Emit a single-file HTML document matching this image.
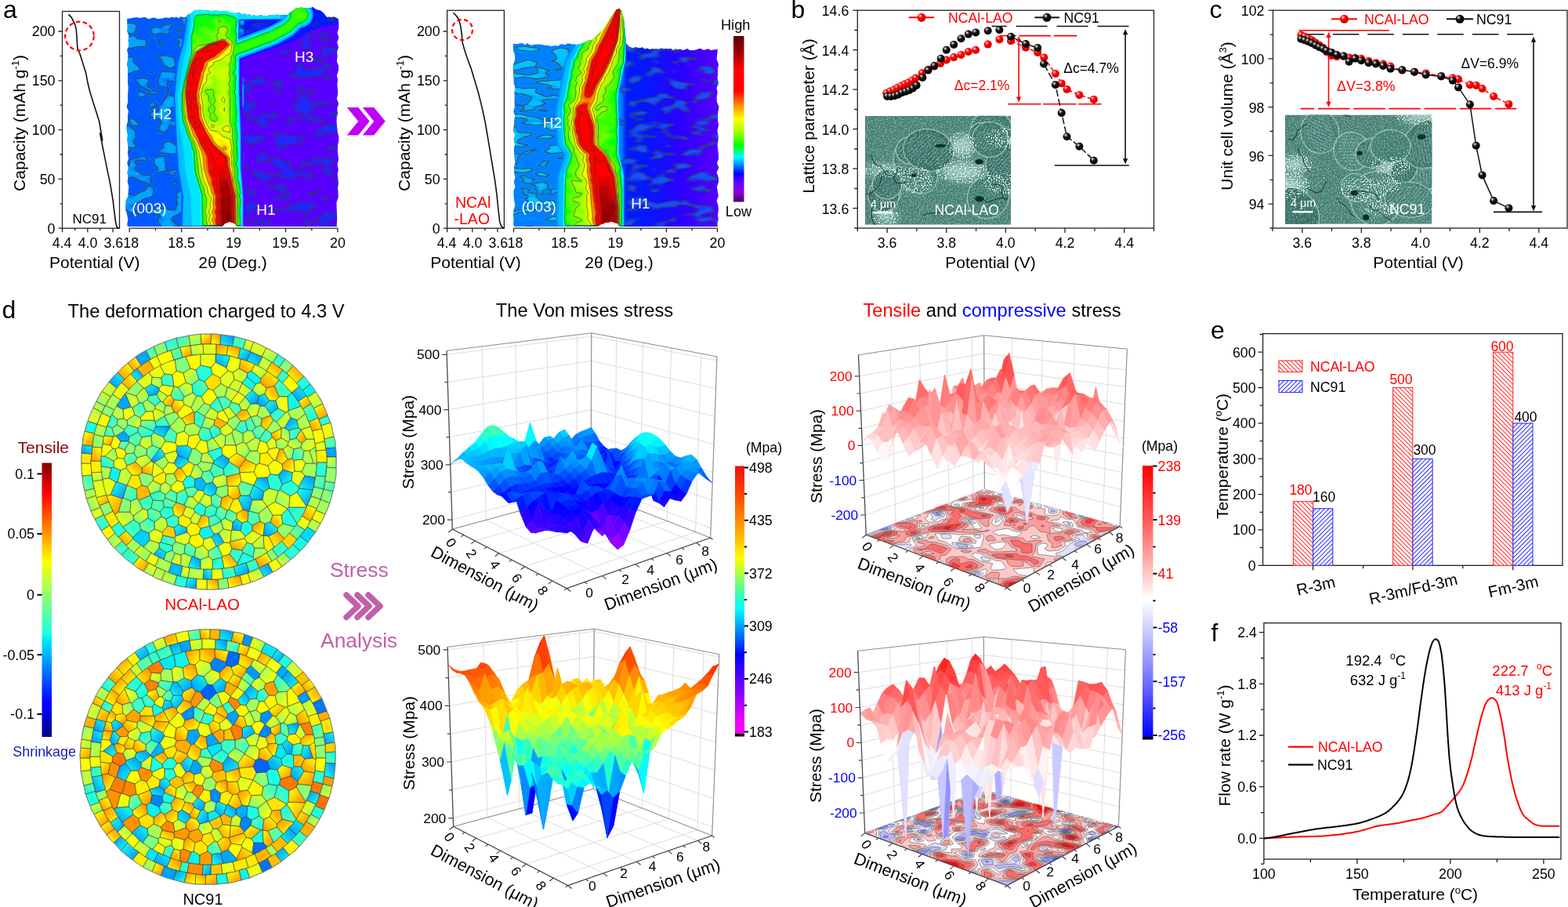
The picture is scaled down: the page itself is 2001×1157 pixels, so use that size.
<!DOCTYPE html>
<html><head><meta charset="utf-8"><title>Figure</title>
<style>html,body{margin:0;padding:0;background:#fff;width:2001px;height:1157px;overflow:hidden}svg{display:block}</style>
</head><body>
<svg width="2001" height="1157" viewBox="0 0 2001 1157" font-family="'Liberation Sans', Arial, sans-serif">
<defs><radialGradient id="gR" cx="0.38" cy="0.35" r="0.62" fx="0.34" fy="0.3"><stop offset="0" stop-color="#fff"/><stop offset="0.22" stop-color="#ff6060"/><stop offset="0.45" stop-color="#ff0000"/><stop offset="1" stop-color="#d00000"/></radialGradient>
<radialGradient id="gK" cx="0.38" cy="0.35" r="0.62" fx="0.34" fy="0.3"><stop offset="0" stop-color="#fff"/><stop offset="0.22" stop-color="#777"/><stop offset="0.45" stop-color="#111"/><stop offset="1" stop-color="#000"/></radialGradient><pattern id="stk" width="4" height="4" patternUnits="userSpaceOnUse" patternTransform="rotate(35)"><rect width="4" height="4" fill="none"/><rect width="0.8" height="4" fill="#b5d8cf"/></pattern>
<filter id="spk" x="0" y="0" width="1" height="1" color-interpolation-filters="sRGB"><feTurbulence type="fractalNoise" baseFrequency="0.6" numOctaves="1" seed="4" result="t"/><feColorMatrix in="t" type="matrix" values="0 0 0 0 0.88 0 0 0 0 0.95 0 0 0 0 0.93 0 0 0 14 -7.6"/><feComposite in2="SourceGraphic" operator="in"/></filter>
<filter id="sbl" x="-0.5" y="-0.5" width="2" height="2"><feGaussianBlur stdDeviation="6"/></filter><filter id="nzA" x="0" y="0" width="1" height="1" color-interpolation-filters="sRGB">
<feTurbulence type="fractalNoise" baseFrequency="0.04 0.065" numOctaves="2" seed="3" result="t"/>
<feColorMatrix in="t" type="matrix" values="0 0 0 0 0.000 0 0 0 0 0.647 0 0 0 0 1.000 6 0 0 0 -2.940" result="p"/>
<feColorMatrix in="t" type="matrix" values="0 0 0 0 0 0 0 0 0 0 0 0 0 0 0 60 0 0 0 -31.800" result="m"/>
<feMorphology in="m" operator="erode" radius="0.5" result="e"/>
<feComposite in="m" in2="e" operator="out" result="ring"/>
<feFlood flood-color="#3a3a3a" flood-opacity="0.75"/>
<feComposite in2="ring" operator="in" result="rc"/>
<feMerge><feMergeNode in="p"/><feMergeNode in="rc"/></feMerge>
<feComposite in2="SourceGraphic" operator="in"/>
</filter><filter id="nzB" x="0" y="0" width="1" height="1" color-interpolation-filters="sRGB">
<feTurbulence type="fractalNoise" baseFrequency="0.04 0.07" numOctaves="2" seed="8" result="t"/>
<feColorMatrix in="t" type="matrix" values="0 0 0 0 0.118 0 0 0 0 0.157 0 0 0 0 1.000 6 0 0 0 -3.120" result="p"/>
<feColorMatrix in="t" type="matrix" values="0 0 0 0 0 0 0 0 0 0 0 0 0 0 0 60 0 0 0 -33.600" result="m"/>
<feMorphology in="m" operator="erode" radius="0.5" result="e"/>
<feComposite in="m" in2="e" operator="out" result="ring"/>
<feFlood flood-color="#3a3a3a" flood-opacity="0.75"/>
<feComposite in2="ring" operator="in" result="rc"/>
<feMerge><feMergeNode in="p"/><feMergeNode in="rc"/></feMerge>
<feComposite in2="SourceGraphic" operator="in"/>
</filter><filter id="nzC" x="0" y="0" width="1" height="1" color-interpolation-filters="sRGB">
<feTurbulence type="fractalNoise" baseFrequency="0.03 0.09" numOctaves="2" seed="5" result="t"/>
<feColorMatrix in="t" type="matrix" values="0 0 0 0 0.000 0 0 0 0 0.765 0 0 0 0 1.000 6 0 0 0 -2.880" result="p"/>
<feColorMatrix in="t" type="matrix" values="0 0 0 0 0 0 0 0 0 0 0 0 0 0 0 60 0 0 0 -31.200" result="m"/>
<feMorphology in="m" operator="erode" radius="0.5" result="e"/>
<feComposite in="m" in2="e" operator="out" result="ring"/>
<feFlood flood-color="#3a3a3a" flood-opacity="0.75"/>
<feComposite in2="ring" operator="in" result="rc"/>
<feMerge><feMergeNode in="p"/><feMergeNode in="rc"/></feMerge>
<feComposite in2="SourceGraphic" operator="in"/>
</filter><filter id="nzD" x="0" y="0" width="1" height="1" color-interpolation-filters="sRGB">
<feTurbulence type="fractalNoise" baseFrequency="0.035 0.09" numOctaves="2" seed="9" result="t"/>
<feColorMatrix in="t" type="matrix" values="0 0 0 0 0.078 0 0 0 0 0.314 0 0 0 0 1.000 6 0 0 0 -3.120" result="p"/>
<feColorMatrix in="t" type="matrix" values="0 0 0 0 0 0 0 0 0 0 0 0 0 0 0 60 0 0 0 -33.600" result="m"/>
<feMorphology in="m" operator="erode" radius="0.5" result="e"/>
<feComposite in="m" in2="e" operator="out" result="ring"/>
<feFlood flood-color="#3a3a3a" flood-opacity="0.75"/>
<feComposite in2="ring" operator="in" result="rc"/>
<feMerge><feMergeNode in="p"/><feMergeNode in="rc"/></feMerge>
<feComposite in2="SourceGraphic" operator="in"/>
</filter><clipPath id="hc"><path d="M162 23.7L165 23.7L168 23L171 22.5L174 21.9L177 22.7L180 22.8L183 21.9L186 21.9L189 24.2L192 23.4L195 22.4L198 22.8L201 24.1L204 23.8L207 23.6L210 22.5L213 22.6L216 23L219 21.4L222 22.5L225 21.8L228 23.1L231 21.1L234 22.5L237 22.1L240 18.2L243 17.5L246 15.6L249 12.7L252 13.5L255 12L258 13.4L261 13.4L264 13L267 13.5L270 14.7L273 13.6L276 13.2L279 14.5L282 13.9L285 14.7L288 14L291 14.8L294 16.5L297 16.4L300 17L303 16.7L306 16.4L309 18.9L312 17.2L315 19.3L318 18.5L321 20.2L324 19.2L327 20.7L330 20.1L333 19.3L336 20.4L339 20.2L342 20.1L345 19.5L348 18.9L351 19.8L354 18.4L357 19.8L360 19.5L363 18.8L366 19.8L369 17.3L372 14.7L375 12.7L378 10.8L381 10.7L384 9.6L387 10.2L390 10.5L393 10.1L396 10.5L399 9.1L402 11.3L405 12.8L408 13L411 15.1L414 18L417 22.1L420 21.7L423 22.1L426 21.4L429 22.7L431.4 24L432.3 30L432.3 36L430.5 42L432.5 48L430.1 54L432 60L430 66L430.7 72L429.7 78L432.1 84L432 90L429.9 96L431.1 102L430.3 108L431 114L431.2 120L429.8 126L432.1 132L430.3 138L430.8 144L429.7 150L429.5 156L430.1 162L430.5 168L432.3 174L432.2 180L430.9 186L430.9 192L431.5 198L432.1 204L430.5 210L431.9 216L430.7 222L431.3 228L431.7 234L431 240L431.6 246L431.6 252L429.5 258L429.6 264L429.9 270L430.1 276L430.1 282L429.6 288L431 289L303 289L299 285L293 282.5L287 285L283 289L163 289L162.2 286L163.3 280L162.2 274L160.5 268L160.6 262L160.8 256L163.5 250L163.9 244L164.3 238L162.6 232L163.6 226L162.5 220L164 214L162.2 208L164.1 202L163 196L163.7 190L163.1 184L162.4 178L163 172L161.7 166L161.6 160L163.1 154L162.9 148L164 142L161.6 136L163.2 130L163 124L163.3 118L163.7 112L163.1 106L163.2 100L163 94L163.3 88L162.2 82L163.2 76L163.5 70L162.1 64L164.5 58L163.7 52L164.4 46L162.4 40L162.8 34L162.3 28z"/></clipPath><clipPath id="hL"><path d="M160.0 6.0L235.5 6.0L236.5 26.0L232.5 46.0L232.5 54.0L225.5 78.0L221.5 115.0L225.5 217.0L231.5 247.0L230.5 287.0L311.0 287.5L311.5 290.0L160.0 290.0L160.0 6.0zM306.5 26.0L311.5 26.0L311.5 44.0L305.0 46.5L306.5 26.0zM308.5 85.0L311.5 85.0L311.0 220.5L308.5 85.0z"/></clipPath><clipPath id="hR"><path d="M396.5 6.0L433.0 6.0L433.0 290.0L311.5 290.0L311.5 288.0L313.5 287.0L313.5 244.0L311.5 231.0L311.5 85.0L357.0 67.5L382.0 53.5L396.5 38.0L400.5 31.0L402.5 19.0L401.5 14.0L396.5 6.0zM311.5 26.0L353.5 26.0L340.0 33.5L314.0 43.5L311.5 43.0L311.5 26.0z"/></clipPath><linearGradient id="hg"><stop offset="0.000" stop-color="#005aff"/><stop offset="0.511" stop-color="#005aff"/><stop offset="0.522" stop-color="#0033ff"/><stop offset="0.533" stop-color="#3500ff"/><stop offset="0.544" stop-color="#5800ff"/><stop offset="1.000" stop-color="#5800ff"/></linearGradient><clipPath id="kc"><path d="M655 55.3L658 56.2L661 56.1L664 54.9L667 55.3L670 57L673 54.9L676 57.2L679 57.4L682 56.7L685 56.5L688 56.6L691 56.8L694 57.5L697 57.8L700 58.1L703 59.1L706 58.5L709 57.9L712 58.7L715 56.5L718 56.2L721 57.2L724 55.6L727 55.4L730 56.5L733 56.3L736 57.3L739 56.4L742 55.5L745 54.7L748 53.2L751 51.8L754 51.5L757 50.7L760 46.6L763 44.6L766 41.8L769 38.5L772 34L775 29.5L778 25L781 20.5L784 16L787 12.5L790 11L793 13.2L796 24.7L799 55L802 59L805 60.6L808 61.4L811 60.1L814 61L817 61L820 60.6L823 62.5L826 61.5L829 63.1L832 62.2L835 62.4L838 62.6L841 62.8L844 61.5L847 62.4L850 62L853 62.5L856 61.8L859 64.2L862 62.3L865 63.4L868 62.5L871 64L874 63.4L877 62L880 63.9L883 64.2L886 64.1L889 63.2L892 62.1L895 62.2L898 64.1L901 63.1L904 62.2L907 64L910 63.4L913 63.2L916 62.7L915.7 64L915.2 70L914.6 76L917.1 82L915.9 88L916.1 94L915.5 100L916.8 106L914.6 112L915.6 118L914.6 124L914.9 130L917.4 136L916.5 142L915.8 148L916.1 154L917.1 160L915.5 166L916.3 172L916.6 178L915.6 184L916.1 190L916.8 196L917.2 202L915 208L917.3 214L914.5 220L916.8 226L916.9 232L914.9 238L915.8 244L916.9 250L914.5 256L916.4 262L916.9 268L916 274L916.7 280L915.2 286L916 289L791 289L788 285L781 282.5L772 284L765 287L762 289L656 289L655.1 286L655.6 280L655 274L655.5 268L657.3 262L656.2 256L655.5 250L655.3 244L657.4 238L655.8 232L657.4 226L656 220L656.1 214L657.2 208L656.7 202L656.2 196L655.8 190L657.1 184L655.7 178L657.3 172L654.7 166L655.8 160L656.1 154L657.4 148L655.3 142L656.9 136L656.5 130L656.7 124L656.4 118L657.4 112L655.5 106L655.7 100L655.1 94L654.7 88L655.1 82L657.2 76L657 70L654.8 64z"/></clipPath><clipPath id="kL"><path d="M652.0 6.0L754.5 6.0L754.5 31.0L734.5 51.0L720.5 77.0L714.5 112.0L708.5 136.0L708.5 165.0L710.5 185.0L719.5 196.0L710.5 223.0L709.5 287.0L754.0 287.5L754.5 290.0L652.0 290.0L652.0 6.0z"/></clipPath><clipPath id="kR"><path d="M754.5 6.0L918.0 6.0L918.0 290.0L754.5 290.0L755.0 287.5L796.5 287.0L796.5 221.0L790.5 200.0L789.5 116.0L799.5 77.0L800.5 52.0L800.5 8.0L773.0 7.5L755.0 30.5L754.5 6.0z"/></clipPath><linearGradient id="kg"><stop offset="0.000" stop-color="#0080ff"/><stop offset="0.528" stop-color="#0080ff"/><stop offset="0.539" stop-color="#004dff"/><stop offset="0.554" stop-color="#001aff"/><stop offset="0.629" stop-color="#001aff"/><stop offset="0.816" stop-color="#2c00ff"/><stop offset="1.000" stop-color="#5800ff"/></linearGradient><linearGradient id="cbj" x1="0" y1="0" x2="0" y2="1"><stop offset="0.000" stop-color="#5a0000"/><stop offset="0.120" stop-color="#b00000"/><stop offset="0.200" stop-color="#ff0000"/><stop offset="0.330" stop-color="#ff0000"/><stop offset="0.360" stop-color="#ff3000"/><stop offset="0.420" stop-color="#ff9000"/><stop offset="0.500" stop-color="#ffff00"/><stop offset="0.580" stop-color="#a0ff00"/><stop offset="0.660" stop-color="#00ff00"/><stop offset="0.730" stop-color="#00ffff"/><stop offset="0.780" stop-color="#0080ff"/><stop offset="0.830" stop-color="#0000ff"/><stop offset="0.890" stop-color="#6a00ff"/><stop offset="0.940" stop-color="#8a00d8"/><stop offset="1.000" stop-color="#4a006a"/></linearGradient><linearGradient id="vya0" x1="0" y1="0" x2="1" y2="1"><stop offset="0.15" stop-color="#ffff00"/><stop offset="1" stop-color="#ff8400"/></linearGradient><linearGradient id="vya1" x1="1" y1="0" x2="0" y2="1"><stop offset="0.15" stop-color="#ffff00"/><stop offset="1" stop-color="#ff8400"/></linearGradient><linearGradient id="vya2" x1="0" y1="1" x2="1" y2="0"><stop offset="0.15" stop-color="#ffff00"/><stop offset="1" stop-color="#ff8400"/></linearGradient><linearGradient id="vya3" x1="1" y1="1" x2="0" y2="0"><stop offset="0.15" stop-color="#ffff00"/><stop offset="1" stop-color="#ff8400"/></linearGradient><linearGradient id="vyg0" x1="0" y1="0" x2="1" y2="1"><stop offset="0.15" stop-color="#f6ff09"/><stop offset="1" stop-color="#92ff6e"/></linearGradient><linearGradient id="vyg1" x1="1" y1="0" x2="0" y2="1"><stop offset="0.15" stop-color="#f6ff09"/><stop offset="1" stop-color="#92ff6e"/></linearGradient><linearGradient id="vyg2" x1="0" y1="1" x2="1" y2="0"><stop offset="0.15" stop-color="#f6ff09"/><stop offset="1" stop-color="#92ff6e"/></linearGradient><linearGradient id="vyg3" x1="1" y1="1" x2="0" y2="0"><stop offset="0.15" stop-color="#f6ff09"/><stop offset="1" stop-color="#92ff6e"/></linearGradient><linearGradient id="vgy0" x1="0" y1="0" x2="1" y2="1"><stop offset="0.15" stop-color="#80ff80"/><stop offset="1" stop-color="#f6ff09"/></linearGradient><linearGradient id="vgy1" x1="1" y1="0" x2="0" y2="1"><stop offset="0.15" stop-color="#80ff80"/><stop offset="1" stop-color="#f6ff09"/></linearGradient><linearGradient id="vgy2" x1="0" y1="1" x2="1" y2="0"><stop offset="0.15" stop-color="#80ff80"/><stop offset="1" stop-color="#f6ff09"/></linearGradient><linearGradient id="vgy3" x1="1" y1="1" x2="0" y2="0"><stop offset="0.15" stop-color="#80ff80"/><stop offset="1" stop-color="#f6ff09"/></linearGradient><linearGradient id="vcb0" x1="0" y1="0" x2="1" y2="1"><stop offset="0.15" stop-color="#15fae9"/><stop offset="1" stop-color="#008aff"/></linearGradient><linearGradient id="vcb1" x1="1" y1="0" x2="0" y2="1"><stop offset="0.15" stop-color="#15fae9"/><stop offset="1" stop-color="#008aff"/></linearGradient><linearGradient id="vcb2" x1="0" y1="1" x2="1" y2="0"><stop offset="0.15" stop-color="#15fae9"/><stop offset="1" stop-color="#008aff"/></linearGradient><linearGradient id="vcb3" x1="1" y1="1" x2="0" y2="0"><stop offset="0.15" stop-color="#15fae9"/><stop offset="1" stop-color="#008aff"/></linearGradient><linearGradient id="vcg0" x1="0" y1="0" x2="1" y2="1"><stop offset="0.15" stop-color="#15fae9"/><stop offset="1" stop-color="#70ff90"/></linearGradient><linearGradient id="vcg1" x1="1" y1="0" x2="0" y2="1"><stop offset="0.15" stop-color="#15fae9"/><stop offset="1" stop-color="#70ff90"/></linearGradient><linearGradient id="vcg2" x1="0" y1="1" x2="1" y2="0"><stop offset="0.15" stop-color="#15fae9"/><stop offset="1" stop-color="#70ff90"/></linearGradient><linearGradient id="vcg3" x1="1" y1="1" x2="0" y2="0"><stop offset="0.15" stop-color="#15fae9"/><stop offset="1" stop-color="#70ff90"/></linearGradient><linearGradient id="vgc0" x1="0" y1="0" x2="1" y2="1"><stop offset="0.15" stop-color="#80ff80"/><stop offset="1" stop-color="#1effe1"/></linearGradient><linearGradient id="vgc1" x1="1" y1="0" x2="0" y2="1"><stop offset="0.15" stop-color="#80ff80"/><stop offset="1" stop-color="#1effe1"/></linearGradient><linearGradient id="vgc2" x1="0" y1="1" x2="1" y2="0"><stop offset="0.15" stop-color="#80ff80"/><stop offset="1" stop-color="#1effe1"/></linearGradient><linearGradient id="vgc3" x1="1" y1="1" x2="0" y2="0"><stop offset="0.15" stop-color="#80ff80"/><stop offset="1" stop-color="#1effe1"/></linearGradient><linearGradient id="vbc0" x1="0" y1="0" x2="1" y2="1"><stop offset="0.15" stop-color="#009eff"/><stop offset="1" stop-color="#15fae9"/></linearGradient><linearGradient id="vbc1" x1="1" y1="0" x2="0" y2="1"><stop offset="0.15" stop-color="#009eff"/><stop offset="1" stop-color="#15fae9"/></linearGradient><linearGradient id="vbc2" x1="0" y1="1" x2="1" y2="0"><stop offset="0.15" stop-color="#009eff"/><stop offset="1" stop-color="#15fae9"/></linearGradient><linearGradient id="vbc3" x1="1" y1="1" x2="0" y2="0"><stop offset="0.15" stop-color="#009eff"/><stop offset="1" stop-color="#15fae9"/></linearGradient><linearGradient id="voy0" x1="0" y1="0" x2="1" y2="1"><stop offset="0.15" stop-color="#ff9900"/><stop offset="1" stop-color="#ffff00"/></linearGradient><linearGradient id="voy1" x1="1" y1="0" x2="0" y2="1"><stop offset="0.15" stop-color="#ff9900"/><stop offset="1" stop-color="#ffff00"/></linearGradient><linearGradient id="voy2" x1="0" y1="1" x2="1" y2="0"><stop offset="0.15" stop-color="#ff9900"/><stop offset="1" stop-color="#ffff00"/></linearGradient><linearGradient id="voy3" x1="1" y1="1" x2="0" y2="0"><stop offset="0.15" stop-color="#ff9900"/><stop offset="1" stop-color="#ffff00"/></linearGradient><linearGradient id="cbd" x1="0" y1="0" x2="0" y2="1"><stop offset="0.000" stop-color="#800000"/><stop offset="0.090" stop-color="#e80000"/><stop offset="0.110" stop-color="#ff0000"/><stop offset="0.340" stop-color="#ffea00"/><stop offset="0.360" stop-color="#ffff00"/><stop offset="0.500" stop-color="#80ff80"/><stop offset="0.625" stop-color="#1affe5"/><stop offset="0.650" stop-color="#00e5f7"/><stop offset="0.660" stop-color="#00dbff"/><stop offset="0.875" stop-color="#0000ff"/><stop offset="0.890" stop-color="#0000ff"/><stop offset="1.000" stop-color="#000080"/></linearGradient><linearGradient id="cbv" x1="0" y1="0" x2="0" y2="1"><stop offset="0.000" stop-color="#ffffff"/><stop offset="0.008" stop-color="#ffffff"/><stop offset="0.012" stop-color="#f01010"/><stop offset="0.102" stop-color="#ff4000"/><stop offset="0.207" stop-color="#ff8c00"/><stop offset="0.294" stop-color="#ffcc00"/><stop offset="0.347" stop-color="#ffff00"/><stop offset="0.402" stop-color="#b0ff40"/><stop offset="0.452" stop-color="#60ff90"/><stop offset="0.498" stop-color="#20ffd0"/><stop offset="0.533" stop-color="#00ffff"/><stop offset="0.598" stop-color="#00a0ff"/><stop offset="0.663" stop-color="#0040ff"/><stop offset="0.700" stop-color="#0000ff"/><stop offset="0.793" stop-color="#6000ff"/><stop offset="0.880" stop-color="#b000ff"/><stop offset="0.966" stop-color="#ff00ff"/><stop offset="0.988" stop-color="#eb00eb"/><stop offset="0.990" stop-color="#e000e0"/><stop offset="0.991" stop-color="#000"/><stop offset="1.000" stop-color="#000"/></linearGradient><linearGradient id="cbt" x1="0" y1="0" x2="0" y2="1"><stop offset="0.000" stop-color="#ffffff"/><stop offset="0.008" stop-color="#ffffff"/><stop offset="0.012" stop-color="#ff0000"/><stop offset="0.208" stop-color="#ff5a5a"/><stop offset="0.401" stop-color="#ffc8c8"/><stop offset="0.492" stop-color="#ffffff"/><stop offset="0.597" stop-color="#d0d0ff"/><stop offset="0.792" stop-color="#7070ff"/><stop offset="0.988" stop-color="#0000ff"/><stop offset="0.990" stop-color="#0000ff"/><stop offset="0.991" stop-color="#000"/><stop offset="1.000" stop-color="#000"/></linearGradient><pattern id="patR" width="3.9" height="4" patternUnits="userSpaceOnUse" patternTransform="rotate(-45)"><rect width="3.9" height="4" fill="#fff"/><rect x="0" width="1.1" height="4" fill="#f33"/></pattern><pattern id="patB" width="3.9" height="4" patternUnits="userSpaceOnUse" patternTransform="rotate(45)"><rect width="3.9" height="4" fill="#fff"/><rect x="0" width="1.1" height="4" fill="#33f"/></pattern></defs>
<rect width="2001" height="1157" fill="#fff"/>
<clipPath id="clip11"><rect x="1104" y="147.8" width="186" height="138.89999999999998"/></clipPath><g clip-path="url(#clip11)"><rect x="1104" y="147.8" width="186" height="138.89999999999998" fill="#4a8376"/><ellipse cx="1127.9" cy="217.1" rx="22.8" ry="6.2" fill="#9cc7bc" filter="url(#sbl)"/><ellipse cx="1131.5" cy="276.7" rx="13.3" ry="7" fill="#9cc7bc" filter="url(#sbl)"/><ellipse cx="1280.4" cy="234.2" rx="18.6" ry="10.1" fill="#9cc7bc" filter="url(#sbl)"/><ellipse cx="1227.3" cy="186" rx="14.5" ry="12.3" fill="#9cc7bc" filter="url(#sbl)"/><ellipse cx="1228.7" cy="219" rx="26.7" ry="10.4" fill="#9cc7bc" filter="url(#sbl)"/><ellipse cx="1286.4" cy="176.2" rx="22" ry="9.9" fill="#9cc7bc" filter="url(#sbl)"/><ellipse cx="1169.7" cy="230" rx="16.2" ry="12.4" fill="#9cc7bc" filter="url(#sbl)"/><ellipse cx="1265.3" cy="165.7" rx="26.3" ry="25.5" transform="rotate(15 1265 166)" fill="#3c756b" stroke="#cde6df" stroke-width="1.1" stroke-opacity="0.7"/><ellipse cx="1265.3" cy="165.7" rx="23.6" ry="15.8" transform="rotate(15 1265 166)" fill="url(#stk)" opacity="0.45"/><ellipse cx="1131.5" cy="241.3" rx="20.4" ry="14.5" transform="rotate(39 1131 241)" fill="#478377" stroke="#cde6df" stroke-width="1.1" stroke-opacity="0.7"/><ellipse cx="1131.5" cy="241.3" rx="18.4" ry="12.3" transform="rotate(39 1131 241)" fill="url(#stk)" opacity="0.45"/><ellipse cx="1168.3" cy="212.9" rx="35.9" ry="25.3" transform="rotate(61 1168 213)" fill="#447e73" stroke="#cde6df" stroke-width="1.1" stroke-opacity="0.7"/><ellipse cx="1168.3" cy="212.9" rx="32.3" ry="21.6" transform="rotate(61 1168 213)" fill="url(#stk)" opacity="0.45"/><ellipse cx="1289.3" cy="211.7" rx="31.2" ry="29.8" transform="rotate(6 1289 212)" fill="#387066" stroke="#cde6df" stroke-width="1.1" stroke-opacity="0.7"/><ellipse cx="1289.3" cy="211.7" rx="28.1" ry="18.7" transform="rotate(6 1289 212)" fill="url(#stk)" opacity="0.45"/><ellipse cx="1161.4" cy="191.9" rx="18" ry="17.1" transform="rotate(4 1161 192)" fill="#3a7368" stroke="#cde6df" stroke-width="1.1" stroke-opacity="0.7"/><ellipse cx="1161.4" cy="191.9" rx="16.2" ry="10.8" transform="rotate(4 1161 192)" fill="url(#stk)" opacity="0.45"/><ellipse cx="1127.7" cy="250.5" rx="20.3" ry="19.7" transform="rotate(108 1128 250)" fill="#387066" stroke="#cde6df" stroke-width="1.1" stroke-opacity="0.7"/><ellipse cx="1127.7" cy="250.5" rx="18.3" ry="12.2" transform="rotate(108 1128 250)" fill="url(#stk)" opacity="0.45"/><ellipse cx="1253.8" cy="174.2" rx="18" ry="16.6" transform="rotate(53 1254 174)" fill="#376f65" stroke="#cde6df" stroke-width="1.1" stroke-opacity="0.7"/><ellipse cx="1253.8" cy="174.2" rx="16.2" ry="10.8" transform="rotate(53 1254 174)" fill="url(#stk)" opacity="0.45"/><ellipse cx="1262.6" cy="178" rx="22.9" ry="22.5" transform="rotate(176 1263 178)" fill="#3c756a" stroke="#cde6df" stroke-width="1.1" stroke-opacity="0.7"/><ellipse cx="1262.6" cy="178" rx="20.6" ry="13.8" transform="rotate(176 1263 178)" fill="url(#stk)" opacity="0.45"/><ellipse cx="1185.1" cy="191.5" rx="32.4" ry="26.6" transform="rotate(12 1185 191)" fill="#387066" stroke="#cde6df" stroke-width="1.1" stroke-opacity="0.7"/><ellipse cx="1185.1" cy="191.5" rx="29.2" ry="19.5" transform="rotate(12 1185 191)" fill="url(#stk)" opacity="0.45"/><ellipse cx="1261.2" cy="250.8" rx="28" ry="26.2" transform="rotate(125 1261 251)" fill="#437e72" stroke="#cde6df" stroke-width="1.1" stroke-opacity="0.7"/><ellipse cx="1131.9" cy="234.8" rx="19.2" ry="18.6" transform="rotate(142 1132 235)" fill="#3f796e" stroke="#cde6df" stroke-width="1.1" stroke-opacity="0.7"/><rect x="1104" y="147.8" width="186" height="138.89999999999998" fill="#000" filter="url(#spk)" opacity="0.35"/><ellipse cx="1127.9" cy="217.1" rx="29.7" ry="8.7" fill="#000" filter="url(#spk)"/><ellipse cx="1131.5" cy="276.7" rx="17.2" ry="9.9" fill="#000" filter="url(#spk)"/><ellipse cx="1280.4" cy="234.2" rx="24.2" ry="14.1" fill="#000" filter="url(#spk)"/><ellipse cx="1227.3" cy="186" rx="18.8" ry="17.2" fill="#000" filter="url(#spk)"/><ellipse cx="1228.7" cy="219" rx="34.7" ry="14.5" fill="#000" filter="url(#spk)"/><ellipse cx="1286.4" cy="176.2" rx="28.6" ry="13.8" fill="#000" filter="url(#spk)"/><ellipse cx="1169.7" cy="230" rx="21.1" ry="17.4" fill="#000" filter="url(#spk)"/><path d="M1111 198l3 6 3 6 7 2 4 6 2 6M1266 236l7-1 6 3-1 7 2 6 4 6M1125 225l-1 7-3 6-5 5-6 4-7 1M1178 275l6-3 7 0 7-1 7 0 7 2M1116 260l-3 6-1 7 1 7 3 6 6 4M1254 253l5 5 7-2 6-2 7-2 7 2M1157 232l-7 2-7-1-3-6 4-6 1-7" fill="none" stroke="#15352e" stroke-width="1"/><ellipse cx="1249.6" cy="206.3" rx="5.2" ry="3.3" fill="#0f2e27"/><ellipse cx="1200.2" cy="186" rx="6.9" ry="2.2" fill="#0f2e27"/><ellipse cx="1166.2" cy="223.6" rx="3.1" ry="2.3" fill="#0f2e27"/><ellipse cx="1249.7" cy="253.8" rx="5.5" ry="3.8" fill="#0f2e27"/></g><text x="1111" y="264.7" font-size="14.3" fill="#fff">4 μm</text><line x1="1113.5" y1="271.2" x2="1139.5" y2="271.2" stroke="#fff" stroke-width="2.4"/><text x="1192.5" y="273.7" font-size="17.7" fill="#fff">NCAl-LAO</text>
<rect x="1094.3" y="13.2" width="378.2" height="277.8" fill="none" stroke="#222" stroke-width="1.3"/>
<path d="M1132.1 291v6M1207.8 291v6M1283.4 291v6M1359 291v6M1434.7 291v6M1094.3 291v4M1169.9 291v4M1245.6 291v4M1321.2 291v4M1396.9 291v4M1472.5 291v4M1094.3 13.2h-6M1094.3 63.7h-6M1094.3 114.2h-6M1094.3 164.7h-6M1094.3 215.2h-6M1094.3 265.7h-6M1094.3 38.5h-4M1094.3 89h-4M1094.3 139.5h-4M1094.3 190h-4M1094.3 240.5h-4M1094.3 291h-4" stroke="#222" stroke-width="1.3"/>
<text x="1083.3" y="20.4" font-size="17.8" text-anchor="end">14.6</text>
<text x="1083.3" y="70.9" font-size="17.8" text-anchor="end">14.4</text>
<text x="1083.3" y="121.4" font-size="17.8" text-anchor="end">14.2</text>
<text x="1083.3" y="171.9" font-size="17.8" text-anchor="end">14.0</text>
<text x="1083.3" y="222.4" font-size="17.8" text-anchor="end">13.8</text>
<text x="1083.3" y="272.9" font-size="17.8" text-anchor="end">13.6</text>
<text x="1132.1" y="316.2" font-size="17.8" text-anchor="middle">3.6</text>
<text x="1207.8" y="316.2" font-size="17.8" text-anchor="middle">3.8</text>
<text x="1283.4" y="316.2" font-size="17.8" text-anchor="middle">4.0</text>
<text x="1359" y="316.2" font-size="17.8" text-anchor="middle">4.2</text>
<text x="1434.7" y="316.2" font-size="17.8" text-anchor="middle">4.4</text>
<path d="M1265.6 33.5H1440.5" stroke="#111" stroke-width="1.6" stroke-dasharray="40 12" stroke-dashoffset="21"/>
<path d="M1275.9 45.6H1374.4" stroke="#f00" stroke-width="1.6" stroke-dasharray="40 4" stroke-dashoffset="19"/>
<path d="M1286.3 132.7H1405.5" stroke="#f00" stroke-width="1.6" stroke-dasharray="42.3 2.6"/>
<line x1="1345.9" y1="211" x2="1440.9" y2="211" stroke="#111" stroke-width="1.6"/>
<line x1="1300.1" y1="49.9" x2="1300.1" y2="126.6" stroke="#f00" stroke-width="1.6"/><path d="M1300.1 45.9l-3.2 7h6.4zM1300.1 130.6l-3.2 -7h6.4z" fill="#f00"/>
<line x1="1436.1" y1="41.3" x2="1436.1" y2="205.2" stroke="#111" stroke-width="1.6"/><path d="M1436.1 37.3l-3.2 7h6.4zM1436.1 209.2l-3.2 -7h6.4z" fill="#111"/>
<path d="M1290 52.3L1309 60.7L1324.2 66.9L1332.3 73.4L1346.9 94L1354.7 106.4L1361.5 113.9L1377.4 121.3L1395.8 126.9" fill="none" stroke="#f00" stroke-width="1.5" stroke-dasharray="6 3"/>
<path d="M1290 46.7L1309 56L1324.2 61L1332 81.5L1346.9 108.3L1354.7 144.1L1361.5 174.2L1377.4 186.7L1395.8 204.7" fill="none" stroke="#111" stroke-width="1.5" stroke-dasharray="9 3"/>
<circle cx="1131.3" cy="118.9" r="5.0" fill="url(#gR)"/>
<circle cx="1136" cy="116.4" r="5.0" fill="url(#gR)"/>
<circle cx="1140.6" cy="114.5" r="5.0" fill="url(#gR)"/>
<circle cx="1145.3" cy="112" r="5.0" fill="url(#gR)"/>
<circle cx="1150" cy="109.5" r="5.0" fill="url(#gR)"/>
<circle cx="1154.6" cy="107.3" r="5.0" fill="url(#gR)"/>
<circle cx="1159.3" cy="105.2" r="5.0" fill="url(#gR)"/>
<circle cx="1164" cy="102.7" r="5.0" fill="url(#gR)"/>
<circle cx="1168.6" cy="99.6" r="5.0" fill="url(#gR)"/>
<circle cx="1176.7" cy="93.3" r="5.0" fill="url(#gR)"/>
<circle cx="1184.5" cy="88.7" r="5.0" fill="url(#gR)"/>
<circle cx="1192.3" cy="84.6" r="5.0" fill="url(#gR)"/>
<circle cx="1200.1" cy="80.9" r="5.0" fill="url(#gR)"/>
<circle cx="1207.8" cy="76.5" r="5.0" fill="url(#gR)"/>
<circle cx="1217.2" cy="73.1" r="5.0" fill="url(#gR)"/>
<circle cx="1226.5" cy="70" r="5.0" fill="url(#gR)"/>
<circle cx="1235.8" cy="66" r="5.0" fill="url(#gR)"/>
<circle cx="1245.2" cy="63.8" r="5.0" fill="url(#gR)"/>
<circle cx="1260.7" cy="56.6" r="5.0" fill="url(#gR)"/>
<circle cx="1275.4" cy="50.4" r="5.0" fill="url(#gR)"/>
<circle cx="1290" cy="52.3" r="5.0" fill="url(#gR)"/>
<circle cx="1309" cy="60.7" r="5.0" fill="url(#gR)"/>
<circle cx="1324.2" cy="66.9" r="5.0" fill="url(#gR)"/>
<circle cx="1332.3" cy="73.4" r="5.0" fill="url(#gR)"/>
<circle cx="1346.9" cy="94" r="5.0" fill="url(#gR)"/>
<circle cx="1354.7" cy="106.4" r="5.0" fill="url(#gR)"/>
<circle cx="1361.5" cy="113.9" r="5.0" fill="url(#gR)"/>
<circle cx="1377.4" cy="121.3" r="5.0" fill="url(#gR)"/>
<circle cx="1395.8" cy="126.9" r="5.0" fill="url(#gR)"/>
<circle cx="1132.2" cy="122.9" r="5.0" fill="url(#gK)"/>
<circle cx="1136.9" cy="122.9" r="5.0" fill="url(#gK)"/>
<circle cx="1141.6" cy="122.3" r="5.0" fill="url(#gK)"/>
<circle cx="1146.2" cy="120.7" r="5.0" fill="url(#gK)"/>
<circle cx="1150.9" cy="118.2" r="5.0" fill="url(#gK)"/>
<circle cx="1155.6" cy="116.7" r="5.0" fill="url(#gK)"/>
<circle cx="1160.2" cy="115.1" r="5.0" fill="url(#gK)"/>
<circle cx="1164.9" cy="112.6" r="5.0" fill="url(#gK)"/>
<circle cx="1169.6" cy="108.9" r="5.0" fill="url(#gK)"/>
<circle cx="1177.3" cy="98.9" r="5.0" fill="url(#gK)"/>
<circle cx="1184.5" cy="89.6" r="5.0" fill="url(#gK)"/>
<circle cx="1192.3" cy="84" r="5.0" fill="url(#gK)"/>
<circle cx="1200.7" cy="74.7" r="5.0" fill="url(#gK)"/>
<circle cx="1207.8" cy="63.8" r="5.0" fill="url(#gK)"/>
<circle cx="1217.2" cy="56.9" r="5.0" fill="url(#gK)"/>
<circle cx="1226.5" cy="49.2" r="5.0" fill="url(#gK)"/>
<circle cx="1235.8" cy="43.6" r="5.0" fill="url(#gK)"/>
<circle cx="1245.2" cy="41.4" r="5.0" fill="url(#gK)"/>
<circle cx="1260.7" cy="39.2" r="5.0" fill="url(#gK)"/>
<circle cx="1275.4" cy="38.3" r="5.0" fill="url(#gK)"/>
<circle cx="1290" cy="46.7" r="5.0" fill="url(#gK)"/>
<circle cx="1309" cy="56" r="5.0" fill="url(#gK)"/>
<circle cx="1324.2" cy="61" r="5.0" fill="url(#gK)"/>
<circle cx="1332" cy="81.5" r="5.0" fill="url(#gK)"/>
<circle cx="1346.9" cy="108.3" r="5.0" fill="url(#gK)"/>
<circle cx="1354.7" cy="144.1" r="5.0" fill="url(#gK)"/>
<circle cx="1361.5" cy="174.2" r="5.0" fill="url(#gK)"/>
<circle cx="1377.4" cy="186.7" r="5.0" fill="url(#gK)"/>
<circle cx="1395.8" cy="204.7" r="5.0" fill="url(#gK)"/>
<text x="1217.8" y="114.5" font-size="17.5" fill="#f00">Δc=2.1%</text>
<text x="1357.2" y="92.7" font-size="17.5">Δc=4.7%</text>
<line x1="1159.8" y1="22.3" x2="1192.2" y2="22.3" stroke="#f00" stroke-width="2"/>
<circle cx="1176" cy="22.3" r="5.5" fill="url(#gR)"/>
<text x="1210" y="29" font-size="17.7" fill="#f00">NCAl-LAO</text>
<line x1="1320.5" y1="22.3" x2="1352" y2="22.3" stroke="#111" stroke-width="2"/>
<circle cx="1336" cy="22.3" r="5.5" fill="url(#gK)"/>
<text x="1357.5" y="29" font-size="17.7">NC91</text>
<text x="2018" y="295" font-size="0">b</text>
<clipPath id="clip23"><rect x="1640" y="146.4" width="187.29999999999995" height="139.4"/></clipPath><g clip-path="url(#clip23)"><rect x="1640" y="146.4" width="187.29999999999995" height="139.4" fill="#4a8376"/><ellipse cx="1770" cy="235.8" rx="14.3" ry="6.9" fill="#9cc7bc" filter="url(#sbl)"/><ellipse cx="1762.4" cy="265.4" rx="15.6" ry="7.7" fill="#9cc7bc" filter="url(#sbl)"/><ellipse cx="1774.2" cy="212" rx="19.5" ry="8.8" fill="#9cc7bc" filter="url(#sbl)"/><ellipse cx="1652" cy="209.8" rx="17.4" ry="9.1" fill="#9cc7bc" filter="url(#sbl)"/><ellipse cx="1741.2" cy="241.7" rx="23.2" ry="11.9" fill="#9cc7bc" filter="url(#sbl)"/><ellipse cx="1643.4" cy="237.6" rx="21.8" ry="12.8" fill="#9cc7bc" filter="url(#sbl)"/><ellipse cx="1815.9" cy="148.2" rx="26.9" ry="8" fill="#9cc7bc" filter="url(#sbl)"/><ellipse cx="1757" cy="253" rx="34.6" ry="33.2" transform="rotate(114 1757 253)" fill="#488478" stroke="#cde6df" stroke-width="1.1" stroke-opacity="0.7"/><ellipse cx="1757" cy="253" rx="31.2" ry="20.8" transform="rotate(114 1757 253)" fill="url(#stk)" opacity="0.45"/><ellipse cx="1683.7" cy="168.7" rx="27" ry="24.4" transform="rotate(81 1684 169)" fill="#447f74" stroke="#cde6df" stroke-width="1.1" stroke-opacity="0.7"/><ellipse cx="1683.7" cy="168.7" rx="24.3" ry="16.2" transform="rotate(81 1684 169)" fill="url(#stk)" opacity="0.45"/><ellipse cx="1822" cy="212.5" rx="34.2" ry="27.9" transform="rotate(141 1822 212)" fill="#447f74" stroke="#cde6df" stroke-width="1.1" stroke-opacity="0.7"/><ellipse cx="1822" cy="212.5" rx="30.8" ry="20.5" transform="rotate(141 1822 212)" fill="url(#stk)" opacity="0.45"/><ellipse cx="1725.3" cy="192.6" rx="24.8" ry="23.2" transform="rotate(56 1725 193)" fill="#498579" stroke="#cde6df" stroke-width="1.1" stroke-opacity="0.7"/><ellipse cx="1725.3" cy="192.6" rx="22.3" ry="14.9" transform="rotate(56 1725 193)" fill="url(#stk)" opacity="0.45"/><ellipse cx="1751.2" cy="194.7" rx="21.3" ry="18.6" transform="rotate(168 1751 195)" fill="#3e786d" stroke="#cde6df" stroke-width="1.1" stroke-opacity="0.7"/><ellipse cx="1751.2" cy="194.7" rx="19.2" ry="12.8" transform="rotate(168 1751 195)" fill="url(#stk)" opacity="0.45"/><ellipse cx="1790.5" cy="216.6" rx="18.5" ry="15.5" transform="rotate(129 1791 217)" fill="#397268" stroke="#cde6df" stroke-width="1.1" stroke-opacity="0.7"/><ellipse cx="1790.5" cy="216.6" rx="16.6" ry="11.1" transform="rotate(129 1791 217)" fill="url(#stk)" opacity="0.45"/><ellipse cx="1821.1" cy="184.1" rx="33.2" ry="28.5" transform="rotate(134 1821 184)" fill="#3d766b" stroke="#cde6df" stroke-width="1.1" stroke-opacity="0.7"/><ellipse cx="1821.1" cy="184.1" rx="29.9" ry="19.9" transform="rotate(134 1821 184)" fill="url(#stk)" opacity="0.45"/><ellipse cx="1773.5" cy="187.1" rx="25.6" ry="21.3" transform="rotate(179 1774 187)" fill="#447f73" stroke="#cde6df" stroke-width="1.1" stroke-opacity="0.7"/><ellipse cx="1731" cy="239.3" rx="19.5" ry="17.6" transform="rotate(26 1731 239)" fill="#498579" stroke="#cde6df" stroke-width="1.1" stroke-opacity="0.7"/><ellipse cx="1731" cy="239.3" rx="17.5" ry="11.7" transform="rotate(26 1731 239)" fill="url(#stk)" opacity="0.45"/><ellipse cx="1656.4" cy="268.2" rx="32.5" ry="23.4" transform="rotate(51 1656 268)" fill="#397167" stroke="#cde6df" stroke-width="1.1" stroke-opacity="0.7"/><ellipse cx="1798.6" cy="254.7" rx="31.4" ry="22.5" transform="rotate(6 1799 255)" fill="#437e72" stroke="#cde6df" stroke-width="1.1" stroke-opacity="0.7"/><ellipse cx="1798.6" cy="254.7" rx="28.2" ry="18.8" transform="rotate(6 1799 255)" fill="url(#stk)" opacity="0.45"/><rect x="1640" y="146.4" width="187.29999999999995" height="139.4" fill="#000" filter="url(#spk)" opacity="0.35"/><ellipse cx="1770" cy="235.8" rx="18.6" ry="9.7" fill="#000" filter="url(#spk)"/><ellipse cx="1762.4" cy="265.4" rx="20.3" ry="10.8" fill="#000" filter="url(#spk)"/><ellipse cx="1774.2" cy="212" rx="25.3" ry="12.3" fill="#000" filter="url(#spk)"/><ellipse cx="1652" cy="209.8" rx="22.7" ry="12.8" fill="#000" filter="url(#spk)"/><ellipse cx="1741.2" cy="241.7" rx="30.2" ry="16.7" fill="#000" filter="url(#spk)"/><ellipse cx="1643.4" cy="237.6" rx="28.3" ry="17.9" fill="#000" filter="url(#spk)"/><ellipse cx="1815.9" cy="148.2" rx="35" ry="11.2" fill="#000" filter="url(#spk)"/><path d="M1748 262l4 6 7 1 5 5 6 4 6 4M1667 240l7 3 6 3 7-2 3-7 2-6M1724 149l-6-2-7-2-7-1-7 0-4-6M1656 189l2 7 5 5 1 7 4 6 3 6M1730 243l7 1 7 1 7 0 6 4 2 7M1667 158l-5 4-6 4-2 7-4 6-6-2M1706 252l4 6 6 4 5 5 3 6 5 5" fill="none" stroke="#15352e" stroke-width="1"/><ellipse cx="1728.2" cy="246.3" rx="4.7" ry="3.2" fill="#0f2e27"/><ellipse cx="1814" cy="174.6" rx="5.6" ry="3.3" fill="#0f2e27"/><ellipse cx="1735.2" cy="195.6" rx="3.7" ry="2.8" fill="#0f2e27"/><ellipse cx="1743.2" cy="277.2" rx="4.1" ry="3.7" fill="#0f2e27"/></g><text x="1647" y="263.8" font-size="14.3" fill="#fff">4 μm</text><line x1="1649.5" y1="270.3" x2="1675.5" y2="270.3" stroke="#fff" stroke-width="2.4"/><text x="1773" y="272.8" font-size="17.7" fill="#fff">NC91</text>
<rect x="1624.5" y="13.2" width="375.5" height="277.8" fill="none" stroke="#222" stroke-width="1.3"/>
<path d="M1661.8 291v6M1737.3 291v6M1812.8 291v6M1888.3 291v6M1963.8 291v6M1624 291v4M1699.5 291v4M1775 291v4M1850.5 291v4M1926 291v4M2001.5 291v4M1624.5 13.2h-6M1624.5 74.9h-6M1624.5 136.7h-6M1624.5 198.4h-6M1624.5 260.1h-6M1624.5 44.1h-4M1624.5 105.8h-4M1624.5 167.5h-4M1624.5 229.3h-4M1624.5 291h-4" stroke="#222" stroke-width="1.3"/>
<text x="1613.5" y="20.4" font-size="17.8" text-anchor="end">102</text>
<text x="1613.5" y="82.1" font-size="17.8" text-anchor="end">100</text>
<text x="1613.5" y="143.9" font-size="17.8" text-anchor="end">98</text>
<text x="1613.5" y="205.6" font-size="17.8" text-anchor="end">96</text>
<text x="1613.5" y="267.3" font-size="17.8" text-anchor="end">94</text>
<text x="1661.8" y="316.2" font-size="17.8" text-anchor="middle">3.6</text>
<text x="1737.3" y="316.2" font-size="17.8" text-anchor="middle">3.8</text>
<text x="1812.8" y="316.2" font-size="17.8" text-anchor="middle">4.0</text>
<text x="1888.3" y="316.2" font-size="17.8" text-anchor="middle">4.2</text>
<text x="1963.8" y="316.2" font-size="17.8" text-anchor="middle">4.4</text>
<path d="M1659.8 43.8H1968" stroke="#111" stroke-width="1.6" stroke-dasharray="33.5 11" stroke-dashoffset="3.5"/>
<line x1="1657.5" y1="38.7" x2="1773" y2="38.7" stroke="#f00" stroke-width="1.6"/>
<path d="M1659.8 138.6H1935.3" stroke="#f00" stroke-width="1.6" stroke-dasharray="40.5 4.7" stroke-dashoffset="23"/>
<line x1="1906" y1="270.4" x2="1968" y2="270.4" stroke="#111" stroke-width="1.6"/>
<line x1="1695.5" y1="45" x2="1695.5" y2="132.7" stroke="#f00" stroke-width="1.6"/><path d="M1695.5 41l-3.2 7h6.4zM1695.5 136.7l-3.2 -7h6.4z" fill="#f00"/>
<line x1="1957" y1="50.8" x2="1957" y2="265.3" stroke="#111" stroke-width="1.6"/><path d="M1957 46.8l-3.2 7h6.4zM1957 269.3l-3.2 -7h6.4z" fill="#111"/>
<path d="M1765.1 81.5L1774.5 84.6L1789.4 89.6L1805 91.8L1819.6 93.4L1839.2 97.1L1853.8 99.6L1861 101.1L1875.9 108.3L1883.7 108.9L1891.5 113L1906.1 122.9L1925.4 132.9" fill="none" stroke="#f00" stroke-width="1.5" stroke-dasharray="6 3"/>
<path d="M1765.1 84L1774.5 87.8L1789.4 89.3L1805 91.8L1819.6 95.5L1839.2 97.4L1853.8 102.7L1861 111.4L1875.9 133.2L1883.7 185.8L1891.5 223.4L1906.1 256.1L1925.4 265.4" fill="none" stroke="#111" stroke-width="1.5"/>
<circle cx="1660.3" cy="44.5" r="5.0" fill="url(#gR)"/>
<circle cx="1664.9" cy="46.7" r="5.0" fill="url(#gR)"/>
<circle cx="1669.6" cy="48.9" r="5.0" fill="url(#gR)"/>
<circle cx="1674.3" cy="51.3" r="5.0" fill="url(#gR)"/>
<circle cx="1678.9" cy="54.5" r="5.0" fill="url(#gR)"/>
<circle cx="1683.6" cy="57.6" r="5.0" fill="url(#gR)"/>
<circle cx="1688.3" cy="60.7" r="5.0" fill="url(#gR)"/>
<circle cx="1692.9" cy="66.3" r="5.0" fill="url(#gR)"/>
<circle cx="1699.2" cy="70.9" r="5.0" fill="url(#gR)"/>
<circle cx="1706" cy="72.2" r="5.0" fill="url(#gR)"/>
<circle cx="1714.7" cy="71.6" r="5.0" fill="url(#gR)"/>
<circle cx="1721.6" cy="73.4" r="5.0" fill="url(#gR)"/>
<circle cx="1729.3" cy="73.7" r="5.0" fill="url(#gR)"/>
<circle cx="1737.1" cy="74.7" r="5.0" fill="url(#gR)"/>
<circle cx="1746.5" cy="77.8" r="5.0" fill="url(#gR)"/>
<circle cx="1755.8" cy="80.3" r="5.0" fill="url(#gR)"/>
<circle cx="1765.1" cy="81.5" r="5.0" fill="url(#gR)"/>
<circle cx="1774.5" cy="84.6" r="5.0" fill="url(#gR)"/>
<circle cx="1789.4" cy="89.6" r="5.0" fill="url(#gR)"/>
<circle cx="1805" cy="91.8" r="5.0" fill="url(#gR)"/>
<circle cx="1819.6" cy="93.4" r="5.0" fill="url(#gR)"/>
<circle cx="1839.2" cy="97.1" r="5.0" fill="url(#gR)"/>
<circle cx="1853.8" cy="99.6" r="5.0" fill="url(#gR)"/>
<circle cx="1861" cy="101.1" r="5.0" fill="url(#gR)"/>
<circle cx="1875.9" cy="108.3" r="5.0" fill="url(#gR)"/>
<circle cx="1883.7" cy="108.9" r="5.0" fill="url(#gR)"/>
<circle cx="1891.5" cy="113" r="5.0" fill="url(#gR)"/>
<circle cx="1906.1" cy="122.9" r="5.0" fill="url(#gR)"/>
<circle cx="1925.4" cy="132.9" r="5.0" fill="url(#gR)"/>
<circle cx="1660.3" cy="49.8" r="5.0" fill="url(#gK)"/>
<circle cx="1664.9" cy="51.3" r="5.0" fill="url(#gK)"/>
<circle cx="1669.6" cy="52.9" r="5.0" fill="url(#gK)"/>
<circle cx="1674.3" cy="55.1" r="5.0" fill="url(#gK)"/>
<circle cx="1678.9" cy="57.6" r="5.0" fill="url(#gK)"/>
<circle cx="1683.6" cy="60.1" r="5.0" fill="url(#gK)"/>
<circle cx="1688.3" cy="62.2" r="5.0" fill="url(#gK)"/>
<circle cx="1692.9" cy="64.7" r="5.0" fill="url(#gK)"/>
<circle cx="1699.2" cy="66.9" r="5.0" fill="url(#gK)"/>
<circle cx="1706" cy="70" r="5.0" fill="url(#gK)"/>
<circle cx="1714.7" cy="71.6" r="5.0" fill="url(#gK)"/>
<circle cx="1721.6" cy="78.7" r="5.0" fill="url(#gK)"/>
<circle cx="1729.3" cy="74.7" r="5.0" fill="url(#gK)"/>
<circle cx="1737.1" cy="77.2" r="5.0" fill="url(#gK)"/>
<circle cx="1746.5" cy="80.3" r="5.0" fill="url(#gK)"/>
<circle cx="1755.8" cy="81.5" r="5.0" fill="url(#gK)"/>
<circle cx="1765.1" cy="84" r="5.0" fill="url(#gK)"/>
<circle cx="1774.5" cy="87.8" r="5.0" fill="url(#gK)"/>
<circle cx="1789.4" cy="89.3" r="5.0" fill="url(#gK)"/>
<circle cx="1805" cy="91.8" r="5.0" fill="url(#gK)"/>
<circle cx="1819.6" cy="95.5" r="5.0" fill="url(#gK)"/>
<circle cx="1839.2" cy="97.4" r="5.0" fill="url(#gK)"/>
<circle cx="1853.8" cy="102.7" r="5.0" fill="url(#gK)"/>
<circle cx="1861" cy="111.4" r="5.0" fill="url(#gK)"/>
<circle cx="1875.9" cy="133.2" r="5.0" fill="url(#gK)"/>
<circle cx="1883.7" cy="185.8" r="5.0" fill="url(#gK)"/>
<circle cx="1891.5" cy="223.4" r="5.0" fill="url(#gK)"/>
<circle cx="1906.1" cy="256.1" r="5.0" fill="url(#gK)"/>
<circle cx="1925.4" cy="265.4" r="5.0" fill="url(#gK)"/>
<text x="1706" y="115.7" font-size="17.8" fill="#f00">ΔV=3.8%</text>
<text x="1864.5" y="86.5" font-size="17.5">ΔV=6.9%</text>
<line x1="1699" y1="24.3" x2="1732" y2="24.3" stroke="#f00" stroke-width="2"/>
<circle cx="1715.5" cy="24.3" r="5.5" fill="url(#gR)"/>
<text x="1741" y="31" font-size="17.7" fill="#f00">NCAl-LAO</text>
<line x1="1846" y1="24.3" x2="1880" y2="24.3" stroke="#111" stroke-width="2"/>
<circle cx="1863" cy="24.3" r="5.5" fill="url(#gK)"/>
<text x="1884" y="31" font-size="17.7">NC91</text>
<text x="4" y="23" font-size="32">a</text>
<text x="1009.5" y="23" font-size="32">b</text>
<text x="1543.5" y="23" font-size="32">c</text>
<text x="2.5" y="406" font-size="32">d</text>
<text x="1545" y="431.5" font-size="32">e</text>
<text x="1545.5" y="817.5" font-size="32">f</text>
<text transform="translate(1031.5 148) rotate(-90)" text-anchor="middle" dy="0.36em" font-size="21">Lattice parameter (Å)</text>
<text x="1264" y="341.5" font-size="21" text-anchor="middle">Potential (V)</text>
<text transform="translate(1565 148) rotate(-90)" text-anchor="middle" dy="0.36em" font-size="21">Unit cell volume (Å<tspan font-size="13" dy="-8">3</tspan><tspan dy="8">)</tspan></text>
<text x="1810" y="341.5" font-size="21" text-anchor="middle">Potential (V)</text>
<g clip-path="url(#hc)"><rect x="160" y="6" width="274" height="285" fill="url(#hg)"/><path d="M300 6l134 0 0 24-24 4-15 6-20 12-20 8-20 6-17 6-12 4-4 0-2-16z" fill="#001aff"/><g clip-path="url(#hL)"><rect x="160" y="6" width="274" height="285" fill="#000" filter="url(#nzA)"/></g><g clip-path="url(#hR)"><rect x="160" y="6" width="274" height="285" fill="#000" filter="url(#nzB)"/></g><path d="M237.5 6.5l127 0 0 5 1 .5 4.5-5.5 24 0 3.5 4 2 4.5 0 7.5-3 6.5-6 4.5-7 2.5-10 9.5-20 11-48 18.5 0 44.5 2 51 0 44 3 36 0 37-9 1-15 0-52-.5-2-.5 1-37-6-36-4.5-94 4-40 7.5-27 4-29-1-1zM305.5 25l-1 24 38-14.5 17-9-3-1z" fill="#0098ff" fill-rule="evenodd"/><path d="M239.5 6.5l123 0 0 17 2.5-3 .5-4.5 2-4.5 5-5 19 0 4.5 4 2.5 5.5 0 6.5-3.5 6-5 4-6.5 2-10 10-20 11-48 18-.5 1 0 45 2 51 0 44 3 36 0 37-9.5 1-14 0-53-1 1-37-6-36-3.5-54-1.5-40 5-40 7.5-27 4-29-.5-1zM304.5 24.5l-.5 24 .5 2 39-15 17-9.5 1.5-1.5-1.5-.5z" fill="#00beff" fill-rule="evenodd"/><path d="M243 6.5l114 0 0 17-52.5.5-.5.5-.5 27.5 40-15 17.5-9.5 6-6 1-6 2-4 3.5-3 4-2 9 0 4 2 4 4 2 5-1 6-2.5 4-4 3-5.5 1.5-11.5 11.5-20.5 11-47 18-.5 47 2 51 0 44 3 36 0 37-22.5 1-42-1-1-37-7.5-35-.5-16-2-14-6-35-.5-30 6.5-40 6-27 3.5-31z" fill="#00e4ff" fill-rule="evenodd"/><path d="M377.5 7.5l8-.5 5 2.5 3 3 1.5 3 .5 5-1.5 4-2.5 3-3 2.5-7 1.5-10 10.5-20 11-47 17.5-1 1 0 49 2 49 0 45 3 35 0 38-21 1-31.5-1-.5-39-9.5-33-.5-18-2-11-6.5-16-6-21 0-30 4-20 7.5-31 .5-20 2-18 2.5-12 4-5.5 13-3 21-.5 4 1 5 2.5 1.5 2.5 5 2 2 4 .5 32.5 41-15.5 18-9.5 6-6.5.5-7 1.5-3 3-3z" fill="#00ffef" fill-rule="evenodd"/><path d="M379 7.5l4.5 0 4 1 3.5 2 2.5 3 1.5 4-.5 4-1 3-2.5 3-3.5 2-6 1.5-10 10-19 10.5-49 19-1 1 0 48 2 51 .5 44 3 36 0 37-20.5 1-30.5-1 0-37-10-35 0-15-1-5 .5-1.5-1-.5-2.5-11-5.5-13-6-20 0-29 2.5-14 9.5-40 0-19 2-14 1 0 0-1-.5-1 2-11 1.5-2 2-1.5 19-1 15 0 14 2.5 2 2 1 4 0 29 1 1 41-15.5 18-10 6.5-6.5.5-6 2-4.5 3-2.5z" fill="#00ffb8" fill-rule="evenodd"/><path d="M377.5 8.5l4-1 5 1 3.5 2 2.5 2.5 1.5 3.5.5 4-1.5 4-3 3-3.5 2-5 1-10 10-20 11-49 19-1 1 0 53-.5 4 1 5 1 20-1 6 1.5 11 0 36-1 1-.5 2 2 5 .5 9-.5 5 2 6 1 11-.5 4 1 5-1 15 .5 18-19.5 1-29.5-1-.5-37.5-10-34.5-.5-22-2-4-1-7-5-10-6-19-1-11-.5-23 2.5-13 10-40 0-19 1.5-10 2-5-1-1 1.5-9 2.5-3.5 11-1 28 0 5 .5.5 1 4.5 1.5 1.5 1.5 1 2-.5 15 .5 6-.5 7 1 3 43-16.5 17-9 7.5-7.5-.5-5 2-4.5 2.5-2.5zM300.5 90l-1.5 2.5 1.5 3 1-1 0-2 0-2zM300.5 115.5l-.5 2 .5 2.5.5-.5.5-2z" fill="#00ff81" fill-rule="evenodd"/><path d="M379.5 8.5l4 0 4 1 3 2 2 2.5 1 3.5 0 4-1.5 3-2.5 3-4 2-4 .5-10.5 10.5-20 11-49.5 18.5-1 1.5.5 7-1.5 4 1.5 5-3 5 3 6-1 7 .5 7-1.5 5 1.5 6-.5 5 2 14-1 6 1 5-1.5 5 2 15-.5 8 1 7-.5 7 .5 7-.5 3-1.5 3 2.5 6-.5 14 2.5 6 1.5 11-1.5 4 1.5 6-1.5 14 1 18-19 1-29-1-.5-5 0-33-9.5-32-1-18 0-6-2-4-1-7-5-10-6-19-1.5-12 0-22 2.5-13 10-40-.5-19 4-15-.5-6 1-4 2-3 12-1 12 1 14-1 12 4.5 1 1.5.5 3-1.5 11 1.5 8-1 6 1.5 3.5 43-16.5 17-9 8-8 0-6 2-4 3-2.5z" fill="#00ff4b" fill-rule="evenodd"/><path d="M378 9.5l4.5-.5 3.5.5 3.5 2 2 2 1.5 3 0 4-1.5 4-2 2-3.5 2-5 1-10 10-19.5 11-49 18.5-2 1-1 1.5 0 2 1 4-2 5 1.5 5-3 5 3 6-1 8 .5 6-1.5 5 2 6-1 5 1 10 1.5 5-1.5 5 .5 5-1.5 5 1.5 6 1 9-.5 9 1 7-1 5 1.5 8-3 6 3 6 0 9-.5 5 2.5 6 2 11-1.5 4 1.5 7-1.5 13 1.5 16-.5 2-6.5.5-40-.5-1-5 .5-7-.5-6 0-19-9-30-2-21 .5-6-2-5-1-6-4.5-8-6.5-21-1.5-13 0-22 8-36.5 4.5-15.5-.5-19 4-13.5 3-1.5-.5-1-1.5-.5-1-2-.5-2.5.5-2 2-3 11-1 10 .5 15-1 13 3 1.5 1.5.5 3-2 10 2 9-1.5 6 1.5 4 1 0 43-16 18-10 8-8-.5-5 1.5-4 2-2z" fill="#00ff14" fill-rule="evenodd"/><path d="M378 10.5l3.5-1 3 .5 3.5 1.5 2.5 2.5 1.5 3.5 0 3-1 3-2.5 2.5-3 1.5-5 1-10 10.5-19 10.5-51 19.5-2 2.5 0 2 1 4-2.5 5 2 5-3 5 3.5 7-2 7 1 6-1.5 5 2 6-1 5 1 10 1 5-2 15 1.5 6 .5 18 1 6-1.5 6 2 8-2.5 6 3 6-.5 15 2.5 5 0 5 1.5 4.5-1 5.5 1.5 7-1.5 13 1 16-.5 2-5.5.5-39-.5-1-6 .5-6-1-6 0-19-9-31 0-7-1.5-13 0-6-2-5-1-6-5-9-6.5-20-1.5-13 0-21 8-37 5-16-.5-8 .5-13.5 3-8 8-4.5 2-2-2-1.5-7 0-.5-2.5 0-2 1.5-1.5 19 0 12-1.5 18 2.5 1 1.5.5 3-3.5 10 3 7-1 7 2 5.5 45-17 17-9.5 9-9-.5-4 .5-3 2-3z" fill="#13ff00" fill-rule="evenodd"/><path d="M379 11.5l6 0 4.5 3.5 1 2.5 0 3-1 2.5-2 2-3 1.5-4 .5-11 11-19.5 10.5-49.5 19-3 4 0 2 1 4-2.5 5 1.5 5-2 5 3 7-2 7 1 6-2 5 2.5 6-1 5 1 5-.5 5 1 5-2 14 2.5 7 0 18 1.5 6-1.5 6 1.5 8-2 7 2.5 6 0 13 2 7 1.5 9-.5 6 1 5-1 14 1 16-.5 2-6 .5-37-.5-1.5-6 .5-6-1-6 .5-7-.5-12-2-6-.5-5-2.5-5.5-3.5-13.5-.5-8-1.5-13 .5-6-2.5-5-1-6-5-9-6.5-20-1.5-13-.5-21 8.5-37 5-16-1-9 1.5-5-1-5 1-4 1-1.5 5.5-.5.5-3 1-2 6-3 6-.5 3 3 2.5.5.5-2-2-3-.5-4 1-3 2-1 7.5-1 6 .5 2 1.5.5 4 1.5 1 2-1 3-2.5 3 0 1 .5 0 3-3.5 6-.5 4 .5 2 3.5 4-1 6 2 8.5 45-17 19-10.5 9-9 .5-1-1-3 .5-3 2-3z" fill="#31ff00" fill-rule="evenodd"/><path d="M379 15.5l3.5-1 3 1.5 1 2.5-1 3.5-3 1.5-4-1.5-1-3.5zM277 23.5l4.5-.5 4 1 1 1.5.5 5 7 2 0 3-1 9 .5 1 5 1-.5 1-2.5 1 4 8-1 6 .5 5-2.5 5 1 5-2.5 5 1.5 5-2 6 2.5 6-2 8 1.5 5-2 6 2.5 5-1.5 5 1 5-.5 5 1 5-1.5 14 2.5 7 .5 18 1 6-1.5 6 1.5 8-1 7 2 5 0 14 1.5 6 2.5 21-1 13 .5 19-4.5.5-37-.5-1.5-7 .5-5-1.5-6 1-7 0-11-2.5-7-.5-5-3.5-7-3-12 0-7-2-14 .5-6-2.5-5-1-6-5-9-6.5-20-1.5-13-.5-21 2-7 .5-6 5.5-24 5.5-16-.5-10 .5-1.5 4-2.5-1-2-3-1 0-4.5 1-.5 2 .5 8 3 3 0 1.5-.5.5-1-.5-2-4.5-5 0-2 2-1.5 3-.5 6 3.5 3 .5 2.5-1 2.5-6-3-4-.5-2 1.5-2zM270.5 125.5l-1 2 1 1.5 1-1.5z" fill="#4fff00" fill-rule="evenodd"/><path d="M277.5 24.5l5.5 0 1.5 2-.5 2-3.5 2-3-1-1-1-1-2zM280.5 32.5l5 0 6 2 1 3-2 7 .5 4 4.5 2.5 3.5 6.5-1 5 0 5-2 5 0 5-2.5 5 1.5 5-1.5 6 2 7-2.5 7 2 5-2 6 2 5-1 5 .5 10 1 5-1 14 3 8 0 8 1 15-1 6 1.5 8-1 7 2 6 0 13 2 7 2 20-1 12 .5 20-4 .5-36-.5-1.5-7 .5-5-2-6 1.5-6 .5-10-3-9-.5-5-3-6-3.5-12 0-8-2.5-15 .5-5-3.5-11-5-9-6.5-20-1.5-14-.5-20 7.5-36 6-19 .5-7 4-1 14.5-1 10-3-.5-3-3 0-2.5-1-1.5-5 7-3 2-5zM270.5 117l-1.5 2.5.5 1.5 1-1zM270.5 122.5l-1 .5-1.5 4.5.5 2 2 1.5 2.5-1.5.5-2zM270.5 136l-2 1.5-.5 2 3.5 2.5 1.5-3.5-1-2zM271.5 147.5l-2 2 .5 2 2 2 2.5 0 1-1 0-2z" fill="#6dff00" fill-rule="evenodd"/><path d="M278.5 26.5l2-.5 1 .5-1 1.5-1.5-.5zM281 34.5l4.5-.5 4.5 1.5.5 3-2.5 5 1 4 .5 1 6 3.5 3 5.5-1 10-2.5 5 0 5-2.5 5 1.5 5-1.5 7 1.5 6-2.5 7 2 5-1.5 6 1.5 6-.5 13 1 7-.5 12 3.5 9-.5 8 1.5 15-1 6 1.5 8-1 7 2 6 0 13 2 7 2 20-.5 12 0 20-3.5.5-35-.5-1.5-7 .5-5-2-6 1.5-6 .5-10-3-8-.5-6-3.5-7-3-11-2.5-29-4-11-4.5-8-6.5-20-2-14-.5-20 2-6 .5-7 6-25 6.5-18.5 2-3.5 2-1 8-1 16.5-5 1.5-4-2-2-.5-1 2.5-3 0-5zM271.5 113.5l-8 .5-2 2.5.5 2 4 4 .5 6 3 5-3.5 4-.5 2 .5 3 2 2-1 5 2.5 4 5 1.5 2.5-1.5.5-3-4.5-6 2-6-.5-2-2-3 2.5-5-2-6 .5-5z" fill="#8bff00" fill-rule="evenodd"/><path d="M282.5 35.5l3-.5 2.5 1.5 0 3-3.5 3 3.5 6 6.5 4 3 3 .5 2-1.5 10-2.5 5 0 5-2.5 5 1 5-1 7 1 7-2.5 6 2 5-2 7 1.5 6 0 12 .5 6 .5 13 3.5 9 0 8 1.5 15-1 6 1.5 8-1 7 2 6 0 13 2 7 2 19-.5 33-3 .5-34-.5 0-2-1.5-5 .5-5-2-6 1.5-5 1-11-3.5-8-.5-6-3.5-7-2.5-9-3.5-31-4-11-6-11-5.5-18-1.5-13-.5-20 1.5-6 .5-7 6-24 6-17 2.5-3.5 3-2 24-7.5 1-2 2.5-2-.5-2 2-4-2-5zM271.5 98l0 1.5 2 4 1.5-2 0-3-.5-1zM273.5 104l-4 6.5-8 2.5-2 2-.5 2.5 1 2 4 4 .5 5 1.5 4-4.5 10 0 4 7 7.5 7 2 3.5-2.5.5-4-4-6 1-6 0-9-1-6 2.5-5-3-5 2-6z" fill="#a5ff00" fill-rule="evenodd"/><path d="M283.5 46.5l11 7 2.5 2 .5 2-1.5 10-2.5 5-.5 4-1.5 3-1 .5-3-1-7 1-2 1.5-1 3 0 1 1 0 2-1 10-.5 1 3.5-1 15-2 5 2 6-2 6 1.5 7 0 9 1.5 21 4 9-.5 8 2 15-1 6 1.5 8-1 7 2 6 .5 14 1.5 6 2.5 19-.5 33-4 .5-32-.5 0-2-2-5 1.5-5-2.5-6 2-5-.5-5 1.5-6-4-8-1-7-4-8-2-10-3.5-28-4-11-6-11-5.5-18-1.5-14-1-19 2-6 .5-7 5.5-24 6.5-17 3-3 3-2 23-8 3-3 2.5-1zM272.5 86.5l-1.5 1 .5 1 2 0 2 0 1.5-2zM271.5 96.5l-3 2 2.5 5-1.5 4-2.5 2-7.5 3-1.5 6 .5 2 3 4 1.5 8-2.5 10 1 6 6 7 9 1.5 4-2.5 2-5-.5-2-4-5 .5-4 1.5-5-1.5-4-1-5 .5-2 3.5-5-.5-5 2-6-1-3-3.5-3-2.5-4-1.5-.5z" fill="#b7ff00" fill-rule="evenodd"/><path d="M281.5 49.5l4-.5 3 1 8 6 1 1.5-2 10-3.5 6-.5 3.5-2-1-11.5 3.5-3 4-6 3-.5 2 8 3.5 5-5.5 8 0 1 3-1.5 13-1.5 3-1 .5-2-4-4-2.5-4-5.5-8 2-2 2.5 2 5-.5 2-2.5 3-5 1.5-1 1-2 5.5 0 3 1.5 5 0 4 1.5 6-.5 11 4.5 11.5 1 2 2-1.5 4-.5 9 3 5-2.5-1.5-4 1-6-5-7 .5-2 2.5-5-3-4-.5-4 .5-2 3.5-4.5.5-6.5 2.5-4.5 1.5 4.5-1.5 7 2.5 8-.5 6 1 15 1.5 9 3 5 1 3-.5 8 2 15-1 6 1.5 8-1.5 7 2.5 6 0 13 2.5 7 2 19-.5 33-2.5.5-32-.5 0-2-2-5 1-6-2.5-5 2.5-5-.5-5 1.5-6-4-8-1-7-4-8-6-38-4-11-6-11-5.5-18-1.5-14-1-19 1.5-6 .5-7 6-24 6-16 2-2.5 4-2.5 10-4.5 11.5-3.5z" fill="#c9ff00" fill-rule="evenodd"/><path d="M282.5 49.5l3-.5 3 1 8 6.5-2 11-1 2-4 2-4 4-10.5 4-1.5 3-6.5 4-.5 1 .5 2 5.5 3-7.5 4-.5 3 1 6-2 2-3 1-1 1.5-2 5.5-.5 4 2.5 17 0 7 .5 4 4.5 11 2 3 3-3 4 0 2 2-.5 4 5.5 2 1 0 2-4.5 7-3 3.5 5.5-.5 6-4-1-6.5 0 .5 2.5 2 1.5 8 2.5 1 3 1 9.5-.5 6 1.5 8-1.5 7 2.5 6 0 13 2.5 7 2 19-.5 33-3 .5-30-.5 0-2-2-5 1-6-2.5-5 3-5-1-5 2-6-4.5-8-.5-6-5-10-6-37-4.5-12-5.5-10-5.5-18-2-14-.5-19 1.5-6 .5-7 5.5-24 6.5-16 3.5-3.5 10-5.5 14-4 2-1 2-2.5zM283.5 89.5l2.5 0 2 2-.5 1-1 0zM284 122.5l1.5-.5 2.5 5.5-1.5 6 1.5 7-.5 8 1.5 3-.5 2-1.5-7-3.5-7 2.5-6-5-6 .5-2z" fill="#dbff00" fill-rule="evenodd"/><path d="M280.5 50.5l3-1 4 .5 8.5 6.5.5 1-2 4-.5 5-.5 1.5-5 2-7 6-10.5 3.5 0 3-4.5 3-3 9-2.5 11-4 10-1 4 1.5 4-.5 5 2 7 0 8 .5 5 2.5 5 1.5 5 5 8.5 1 1.5 8 .5 4.5 4.5 10.5 5 1 1.5 1.5 8.5-1 6 2 8-1.5 7 2.5 6 .5 14 2 6 2.5 19-.5 33-3 .5-29-.5 0-2-2.5-5 2-6-2.5-5 3-5-1.5-5 1.5-4 .5-3-4-6-1-7-5-10-6.5-37-4.5-12-5.5-10-6-18-1.5-14-1-19 1.5-5.5.5-7.5 5.5-24 6.5-16 3.5-3 10-5.5 14-4.5zM284.5 125.5l1-1 1 3-1 2.5-2-2.5zM288.5 161.5l3-.5 2 3.5 0 3-5-.5-3-1.5 0-2z" fill="#edff00" fill-rule="evenodd"/><path d="M281 50.5l2.5-1 4 1 8 7-2.5 5-.5 3-6 4-5 5-3 1.5-7 1.5-3.5 2-.5 3-2.5 4-2 7-3 12-4 11-.5 3 1 4 0 5 2 8 0 10 5 13 6 10 6 1.5 4.5 3.5 8.5 4 5 7 1 2.5-2 6.5 2.5 7-1 8 2 7 1 13 2.5 7 2 17-.5 34-2.5.5-28.5-.5 0-2-2-5 1.5-6-2-5 3-5-1.5-5 1.5-5 0-3-3.5-6-1-6-5.5-10-1-9-2-6-3-22-5.5-13-3.5-5-2-4.5-5.5-17.5-1.5-14-1-19 2.5-16 5-21 6.5-16 3-2.5 11-6.5 13.5-4zM289.5 163.5l2-1 1 3.5-3-1z" fill="#feff00" fill-rule="evenodd"/><path d="M281 50.5l3.5-.5 3 .5 7.5 7-5.5 8-8.5 8-3.5 2-5.5 1-5 3-.5 3-4.5 11-7 26 1 4-.5 5 2.5 8 0 9 4.5 14 6 10 3 2.5 3.5 1.5.5 1-.5 1-1.5 0 0 1 4 7 3 .5 1.5-1.5-4-3 0-2 6.5.5 8.5 9.5 0 2-1.5 5 3 7-.5 9 7 40 0 37-2.5.5-27.5-.5 0-2-2.5-5 2-6-2-5 2.5-5-1-5 1-5 0-4-3-5-1-6-5.5-10-1-9-2.5-6-1.5-14-2-9-5-12-5.5-9-5.5-18-1.5-14-1.5-19 2.5-16 5-21 6.5-16 3-2.5 11-6.5 13.5-4z" fill="#ffeb00" fill-rule="evenodd"/><path d="M281.5 50.5l4-.5 2 1 6.5 5.5.5 1-6.5 8-8.5 8-10 3.5-3.5 2.5-.5 4-4.5 10-.5 5-6 19 1 6-.5 5 2.5 8-.5 7 1 6 2 4 1.5 5 5.5 10 4.5 5 2 6 5 6 3 0 4-2.5 4 2.5 2 3-1.5 6 4 7-.5 9 7.5 40 0 37-2.5.5-27-.5 0-2-2-5 2-5-2-5 2-6-1-5 1-5 0-4-2.5-5-1.5-6-4.5-10-2-9-2-6-1.5-14-2-9-5.5-12-4.5-7-6.5-20-3-32 2-16 2-10 4-14 6-14 13.5-8.5 14-4.5z" fill="#ffd600" fill-rule="evenodd"/><path d="M282.5 50.5l5 .5 6.5 5.5 0 1-7 8-8 7-11 5-3 2-.5 4-4 10-.5 5-6 19 1 6-1 5 3 8-.5 7 1 6 3.5 10 5 9 4.5 5 2.5 6 4.5 6 3 2 3-.5 3-2 3.5 3.5 0 3-3 2 6 7 .5 10 7.5 40-.5 37-3 .5-25-.5 0-2-2.5-5 2-5-2-5 2.5-6-1-5 1-5-.5-4-2.5-5-1-6-3.5-7-3-12-2-5-1.5-16-2.5-8-5.5-12.5-4-5.5-7-21-3.5-32 2-16 2-10 4-14 6-14 15.5-9.5 12-3.5z" fill="#ffc100" fill-rule="evenodd"/><path d="M280.5 51.5l3-1 3 .5 7 5.5 0 1-7.5 8-8.5 7-10.5 5-3 2-1 6-3.5 8-.5 5-5.5 19 .5 6-.5 5 3 8-.5 7 1 7 3.5 9 5 9 4 5 2 5 4.5 6 6.5 5 10 11 .5 10 7.5 40 0 37-3 .5-24.5-.5 0-2-2-5 2-5-2-5 2-6-1-5 1-5-.5-4-2.5-5-1-6-3-6-5.5-19-1-15-3-9-3.5-6-1.5-5-4-6-8-22-3-31 2.5-22 5-18 6.5-14 15-9.5 12-3.5zM287 187.5l1.5 1 0 1.5-3-.5z" fill="#ffac00" fill-rule="evenodd"/><path d="M281 51.5l2.5-1 3 .5 6.5 5.5.5 1-17 15-10.5 5-2.5 2-1.5 7-3.5 7 0 5-5.5 19 .5 6-.5 5 2.5 8 0 7 1 7 3.5 9 4.5 9 4 5 2 5 4.5 6 6.5 5 10.5 11 .5 10 8 40-.5 37-2.5.5-24-.5 0-3-2-4 2-5-2-5 2.5-6-1.5-5 1-9-3-5-1-6-2.5-5-5.5-20-1-15-9-21-3-5-9-23-3-30 3-22 5-18 6-14 15-9.5 12-3.5z" fill="#ff9800" fill-rule="evenodd"/><path d="M281 51.5l5.5 0 6 5 .5 1-17.5 15-8.5 4-4.5 3-1 7-3.5 7-.5 5-2.5 8-3 11 1 6-.5 5 2.5 8-.5 7 1 7 8 18 4.5 5 1.5 5 5 6 16.5 15 1 2 0 9 8 40 0 37-2.5.5-23-.5-.5-3-1.5-4 1.5-6-2-4 2.5-6-1.5-5 1-9-2.5-5-1-6-2.5-5-1-6-5-14-.5-15-4-10-3-5-2-6-3.5-5-1.5-5.5-4-7-4-10.5-3-30 3-22 4.5-17 6.5-15 15-9 12-3.5z" fill="#ff8100" fill-rule="evenodd"/><path d="M281.5 51.5l5 0 5.5 5 .5 1-17 14.5-10 5-4 3.5-1 7-3.5 6 0 5-2.5 7-3 12 1 6-.5 5 2.5 8-.5 7 1 7 8.5 18.5 4 5.5 3 6 3 4 17.5 16 1 10 8 40 0 37-2.5.5-22.5-.5-.5-3-1.5-4 2-5-2-5 2-6-1.5-5 1-9-2.5-5-1-6-2.5-5-.5-6-5-14-.5-15-4.5-10-3.5-6-2-6-2.5-4-1.5-5-4.5-8-4-10-3-30 2.5-22 5-17 6.5-15 14.5-9 12-3.5z" fill="#ff6900" fill-rule="evenodd"/><path d="M282.5 51.5l4 0 5.5 5 0 1-17 14-10.5 6-3.5 3-1 6-3.5 7-.5 5-2 7-2.5 12 0 10 2.5 9 0 7 1 7 8.5 19 9.5 15 17.5 16 1 10 8.5 40-.5 37-3 .5-21-.5-1.5-7 1.5-5-2-5 2-6-1-5 .5-9-2.5-5-1-6-2-5-.5-6-3.5-9-2.5-15 0-5-4.5-10-3.5-6-1.5-5-9.5-19-4-9-3-30 1.5-15 2-10 4-14 6.5-15 14.5-9 12-3.5z" fill="#ff5100" fill-rule="evenodd"/><path d="M280.5 52.5l2-1 4 .5 5 4.5 0 1-18 14.5-9 5-4 3.5-1.5 7-3 6-.5 5-2 6.5-2.5 12.5 0 11 2.5 8 1 14 8.5 19 9.5 15 17.5 16 1 11 8.5 39 0 37-2 0-21.5 0-1.5-7 1.5-5-2-5 2-6-1-5 .5-9-2-5-1-6-2.5-5 0-6-4-9-2-20-4.5-10-3.5-5-6.5-16-5-8-4-10-3.5-30 1.5-14.5 2-10 4-14.5 6.5-15 14.5-9z" fill="#ff3900" fill-rule="evenodd"/><path d="M280.5 52.5l2-.5 4 0 4.5 4.5 0 1-17.5 14.5-10 5.5-3 3-1.5 7-3.5 6-.5 5-2 7-2.5 14 0 9 2.5 8 1 14 9 19 9 15 18 16 1 11 8.5 39-.5 37-2.5.5-20-.5-1.5-7 1.5-5-1.5-6 1.5-5-1-6 .5-8-2-5-1-6-2-5 0-6-4.5-9-2-20-4.5-10-4-6-6.5-15-4.5-8-4.5-10-3-30 1.5-15 2.5-12.5 3.5-12.5 6.5-14 14.5-9 11.5-3.5z" fill="#ff2100" fill-rule="evenodd"/><path d="M281 52.5l5.5 0 4 4-.5 1-16.5 14-10 5.5-3.5 3.5-1.5 7-3.5 6-.5 5-2 7-2.5 14 .5 9 2 8 1 14 9 19 9.5 15 17.5 16 1 11 8.5 39 0 37-2.5 0-19.5 0-1-7 1-5-1.5-6 1.5-5-1-6 1-8-2.5-5-1-6-2-5 .5-6-4.5-8 0-7-2-13-4.5-10-4.5-7-6.5-15-4.5-8-4-9-4-31 1.5-8 0-7 2.5-12 4-13 5-10 1-4 14.5-9z" fill="#ff0900" fill-rule="evenodd"/><path d="M281.5 52.5l5 0 3.5 4-.5 1-16.5 14-9.5 5.5-4 3.5-1.5 7-3.5 6-.5 5-2 7-2.5 13 .5 9 2 9 1 14 9.5 19 9 15 17.5 16 1 11 9 39-.5 37-3 .5-18.5-.5-.5-7 1-5-1.5-6 1.5-5-1-6 .5-8-2-6-.5-5-2.5-5 .5-6.5-4.5-7.5 0-3 1.5-4-2-4-1-9-5.5-11-4-5-4.5-11-1-4-5.5-8-4.5-10-4-31 2-8-.5-7 2.5-11 4-14 3-6.5 2-2.5 1.5-5 14.5-9z" fill="#ff0000" fill-rule="evenodd"/><path d="M282 52.5l4.5.5 3 3.5-.5 1-16.5 14-10 5.5-3.5 3.5-1.5 7-3.5 6-.5 4-2 8-2 12 0 10 2 9 .5 7 1 8 9 18 9 15 17.5 16 1 11 6 24 1.5 9 1.5 6 0 37-4 .5-17-.5-.5-7 1-5-1.5-6 1.5-5-1-6 .5-8-2-5-.5-6-2-5 0-7-3.5-5.5-1-2.5 2.5-6-2.5-4 0-5-3-8.5-3.5-6.5-4.5-5.5-1.5-5.5-3-5-1-5-5.5-7-5-10.5.5-6.5-2.5-8 0-8-1.5-8 .5-4.5 1.5-2.5-.5-7 1.5-5 .5-6 6-19 5-6 0-4 2-2 12-7z" fill="#ff0000" fill-rule="evenodd"/><path d="M279.5 53.5l3-1 4 1 2.5 3-.5 1-16.5 14-8.5 4.5-4 3-3 9.5-4 4 .5 5-2 7-2 12 0 12 2.5 8 0 7 1 9 4 6 4 10 10 16 18 16 .5 11 6 24 1.5 9 1.5 6 .5 30-.5 7-1.5 0-18.5 0-.5-7 1-5-1.5-6 1.5-5-1-6 .5-8-2-6-.5-5-2-5 .5-7-4.5-7 0-2 2.5-4 0-2-2-3 0-5-3.5-9-4.5-7-4.5-5-4.5-15-6.5-7.5-4.5-10.5.5-7-2-4-.5-10-1.5-9 0-3 2.5-5-1.5-6 2.5-5 .5-8 2.5-5 .5-6.5 3-6 4.5-4.5.5-5 8-6 8.5-4z" fill="#ff0000" fill-rule="evenodd"/><path d="M280 53.5l6 0 2.5 3-.5 1-16.5 14-4 2-6 2.5-3.5 4.5-2 8-5 4 .5 6-2.5 5 .5 8-1 4 .5 9-1 4 3 8-1 7 1.5 5-.5 4 5.5 7 1.5 4 0 5 6.5 6 2 5 4 5 17.5 16 .5 12 3 13 3.5 10 1 9 2 6 0 37-2.5 0-17 0-.5-7 1-5-1.5-6 1-5-.5-6 .5-8-2-6-.5-5-1.5-5 .5-7-5-8 3-6-2-5 0-4-4-10-4-6-4.5-5-4.5-15-6.5-7-1.5-3-3-8 .5-7-2.5-6 0-8-2.5-9 .5-2 2.5-5-1-6 2.5-6 .5-8 2-5 .5-6 2.5-6 5.5-5 .5-5 8-6 8.5-4z" fill="#ff0000" fill-rule="evenodd"/><path d="M281 53.5l5.5 1.5 1 2.5-11 8-2 3-5.5 4-2 1-7 1-3.5 8-1 5.5-5.5 3.5-1 6-2.5 4 1.5 7-2 5 2.5 10-2 5 .5 2 2.5 2.5 1 5.5 0 1.5-3.5 3.5 2.5 4 0 6 4.5 4 2 4 0 3-1.5 3-7-7.5-1.5-6.5-2-3 .5-7-2.5-6-.5-8-2-9 0-2 3-5-1-6 2.5-6 .5-7 2-6 .5-6 1.5-5 2-2 4-3 4 0-.5-2-2-1-.5-3 1-1 5-4 8-4zM256 170.5l.5-.5 4.5 3.5 4 6 5 5 17.5 16 1 12 2.5 13 3.5 10 1.5 9 1.5 6 0 37-18.5 0 .5-12-1.5-6 1-5-1-7 1-7-2-6-.5-5-1.5-5 .5-7-4.5-8 3-5 0-2-1.5-4 0-4-4.5-10-8.5-11-3-10z" fill="#ff0000" fill-rule="evenodd"/><path d="M276 55.5l5.5 2-4.5 4-4.5 2.5-15 3.5 0-2 5-4zM265.5 70.5l4-.5 2 .5-4 2-3-1zM252.5 74.5l1-.5 3 1 1 2.5-3 5-.5 4-5.5 4-1.5 6-1.5 2.5 0-4.5 1.5-5 1-9 2-4zM244.5 103.5l1.5 5-2.5 3.5-1-4.5zM242 115.5l1.5-.5 1 1 3 5.5 0 2-2.5 4 0 2 4.5 7 0 2-4 3-1 0-2-4 0-8-2.5-9zM245 146.5l.5-1 2.5 3 0 5 6 6 .5 3-1 2.5-5-5.5-1-5-2.5-5zM257.5 173.5l0-.5 7.5 8.5 10 8 .5 1-.5 3 11.5 6 1 2 .5 11 2.5 12 3.5 11 1.5 9 2 6 0 37-18.5 0 .5-12-1-6 1-5-1-7 1-7-2-6-.5-5-1-5 .5-7-4.5-8 3-6-1.5-9-3-6-1-4-9-11z" fill="#ff0000" fill-rule="evenodd"/><path d="M270 58.5l1 0 .5 2-1.5 2-3.5 1.5-6.5.5 4-3zM252 75.5l1.5-.5 1.5.5 1.5 2-4 5-2 3.5-2 2 0-7.5 1.5-3zM242.5 116.5l1 1 2 4-2 5-1-.5-1.5-5.5zM243.5 133.5l1-.5 2.5 3.5-.5 2-2 1.5-1-2.5zM249 156.5l2 1 1.5 2 .5 2-.5 1.5-3-3.5zM261.5 180.5l4.5 5 5 3 0 1-2 2-1.5-1-5.5-6-1-3zM271 195.5l.5-1 5 2 10 4.5.5 1.5.5 10 2.5 12 4 11 1 9 2 6-.5 15 1 14-.5 8-17.5 0 .5-12-1.5-6 1.5-5-1-7 .5-8-1.5-5 0-5-1.5-5 .5-7-3.5-8 2-5 0-4-1-6-3-6z" fill="#ff0000" fill-rule="evenodd"/><path d="M251.5 76.5l1-.5 1.5.5.5 2-5 4.5 0-3zM272.5 197.5l0-.5 2 0 12 5.5.5 10 2.5 12 4 11 3 15 0 15 .5 14-.5 8-16.5 0 .5-12-1.5-6 1.5-5-1-7 .5-8-1.5-6-1-9 0-7-3-8 1.5-5 .5-5-1.5-6z" fill="#ff0000" fill-rule="evenodd"/><path d="M277.5 202.5l4 0 3.5 2-1.5 1.5-4 0-1.5-1.5zM278 210.5l5.5 0 2 .5 1 1.5 2.5 12 4 11 3.5 16 0 36-16 0 .5-12-1.5-6 1-5-.5-7 .5-8-1.5-6-.5-17-3-7z" fill="#ff0000" fill-rule="evenodd"/><path d="M278.5 212.5l3-.5 4 1 2 5.5 1 5 4 12 3.5 16 0 36-15 0 .5-12-1.5-6 1-5-1-8 1-7-1.5-6-.5-17-2-7z" fill="#f10000" fill-rule="evenodd"/><path d="M279.5 213.5l4 0 2 1 1 2 1 8 4.5 10 3.5 16 1 29-.5 8-14.5 0 0-11-1-7 1-5-1-8 1-7-1.5-5 0-18-2-8 .5-3.5z" fill="#e20000" fill-rule="evenodd"/><path d="M280.5 215.5l1.5 0 .5 1-3 2.5 0-2.5zM281 227.5l2.5-1 5 .5 3.5 8.5 3.5 16 0 36-14 0 .5-11-1-7 1-5-1-8 1-7-1.5-5-.5-11 .5-5z" fill="#d30000" fill-rule="evenodd"/><path d="M286 228.5l2.5 0 1 1 2 6 3.5 15 .5 29 0 8-13.5 0 .5-11-1-7 1-6-1-7 1-7-1.5-5 0-11 1-3z" fill="#c40000" fill-rule="evenodd"/><path d="M287 230.5l2.5 0 1 2.5 2.5 12.5 1.5 5 1 29-.5 8-12.5 0 .5-11-1.5-7 1-6-.5-7 1-7-1.5-7 2-5 .5-4 1-2z" fill="#b50000" fill-rule="evenodd"/><path d="M288.5 233.5l1-.5 1 1.5 1 5 0 5-2 2-6 1-1.5-2 0-3 .5-1 5-2 0-5zM292 248.5l1.5-.5 1 4.5 0 35-11.5 0 0-11-1-7 1-6-1-6 .5-4 1-2.5 5 0z" fill="#a90000" fill-rule="evenodd"/><path d="M293 251.5l.5-.5.5 3.5-.5 11 1.5 13-.5 9-11 0 .5-10-1.5-8 1-4 1.5-1 .5-1-2-1.5-.5-7.5.5-1.5 6 0z" fill="#9e0000" fill-rule="evenodd"/><path d="M283.5 255.5l0-1 1 .5 4.5 1.5-2 2-3.5.5zM283.5 267.5l3 0 7 3 1 8-1 9-9.5 0 .5-5 1-1 .5-2-.5-4-2-2.5z" fill="#940000" fill-rule="evenodd"/><path d="M288.5 273.5l2-.5 3 1 0 7.5-2.5-1-1.5-2-1-3z" fill="#890000" fill-rule="evenodd"/><path d="M379 8.5l7.5.5 3 1.5 3 3.5 1.5 3.5-.5 4-1 3-3 3-4 2-4 .5-10.5 10.5-20 11-49.5 18.5-1 1.5.5 7-1 4 1 5-3 5 3 6-1 7 .5 7-1.5 5 2 6-.5 5 1.5 14-.5 6 .5 5-1.5 5 2.5 15-1 8 1 21-.5 3-1.5 3 2.5 6-.5 14 2.5 6 1.5 11-1.5 4 1.5 6-1 14 1 18-19.5 1-29-1-.5-38-9.5-32-1-24-2-4-1.5-7-4.5-10-6-19-1.5-12 0-22 2.5-13 10-40-.5-19 4-15-.5-6 1-4 2-3 12-1 14 1 11-1 13 4 1 2 .5 3-1.5 11 1.5 8-1 6 1.5 3.5 43-16.5 17-9 8-8 0-6 2-4 6.5-4M279.5 25.5l2 .5.5 1.5-1.5 1-2-.5-.5-1.5 1.5-1M280.5 34.5l5-1 4.5 2 1 3-2.5 5 .5 4 6.5 4.5 3 5.5-1 10-2.5 5 0 5-2.5 5 1.5 5-1.5 7 1.5 6-2 7 2 5-2 6 1.5 5 0 33 3.5 9-.5 8 1.5 15-1 6 1.5 8-1 7 2 6 0 13 2 7 2 20-.5 32-3.5.5-35-.5-1.5-7 .5-5-2-6 1.5-6 .5-10-3-8-.5-6-3.5-7-3-11-3-29-3.5-11-4.5-8-6.5-20-2-14-.5-20 1.5-6 1-7 6-25 7.5-21 3-2 11-2 13-4 1.5-4-2.5-3 2.5-3 .5-5 2-3M263.5 114.5l-1.5 1 0 2 4.5 5 0 6 3.5 5-3.5 4-.5 2 .5 2.5 2.5 2.5-1.5 5 2.5 4 4.5 1.5 2-1.5 1-2-.5-2-4.5-5 2-6-2.5-5 3-5-2.5-6 .5-5-1.5-3.5-8 .5M283 49.5l5.5 1 7.5 6-1.5 10-1 2-4.5 2-5.5 5-10.5 4-.5 3-6 4-1 3 3.5 3-5 3-.5 9-3 2.5-1.5 3.5-2.5 9 2.5 16 0 8 1 5 4 10 4.5 7.5 10 2 5 5.5 10 4 .5 1 1.5 10-1 7 1.5 7-1 7 2 6 .5 14 2 6 2.5 19-.5 33-3 .5-29.5-.5 0-2-2.5-5 2-6-2.5-5 3-5-1-5 1.5-5 0-2-4-6-1-7-5-10-6-37-5-12-5.5-10-5.5-18-1.5-14-1-19 1.5-6 .5-7 5.5-24 6.5-16 4.5-3.5 9-5 14-4.5 4-3 2.5-1M285 123.5l2 4-.5 3.5-1 0-3-3.5.5-2 2-2M286.5 137.5l0 4.5-1-2.5 1-2M270 159.5l3 0 .5 2-2 1.5-1.5-.5-.5-1 .5-2M289 160.5l1.5-.5 2.5 2.5.5 3 0 3.5-9.5-2.5 0-3 5-3M283.5 50.5l4 1 6 6-15 14.5-14 7.5-1 5-4 9-.5 5-5.5 19 .5 6-.5 5 3 8-.5 7 1 6 3.5 10 5 9 4 5 2.5 6 5 6 5.5 4 4-2.5 1.5.5.5 3-5 0 9 10 .5 10 7.5 40 0 37-3 .5-24.5-.5 0-2-2.5-5 2-5-2-5 2.5-6-1-5 .5-9-2.5-5-1-6-3-6-5.5-18.5-1-15.5-3-9-5.5-12-3.5-5-8-22-3-31 2.5-22 5-18 6-14 15.5-9.5 12-3.5 6-3M280.5 52.5l6 0 4 4 0 1-16 13.5-11 6-3.5 3.5-1.5 7-3 6-.5 5-2.5 7-2.5 14 .5 9 2 8 1 14 9 19 9.5 15 17.5 16 1 11 8.5 39 0 37-2.5 0-20 0-1-7 1.5-5-2-6 2-5-1.5-6 1-8-2.5-5-.5-6-2.5-5 .5-6-4.5-9 0-6-2-14-9-16-6-15-5-8-4-10-3.5-30 1.5-15 2.5-12 4-13 6-14 14.5-9 14.5-5M273 56.5l3.5-.5 3 1.5-7 6-15 3.5.5-1.5 3.5-3 11.5-6M266.5 71.5l3 0-3 0M253 74.5l3.5.5 1 2.5-3.5 5-1 4-4.5 4-1.5 6-1.5 1.5 2.5-17.5 2-4 3-2M244.5 104.5l1.5 4-2.5 3-1-4 2-3M242.5 115.5l1 0 1.5 2 2 5-2.5 5 0 3 5 6-.5 2-3.5 2.5-1 0-1.5-3.5 0-8-2.5-9 2-5M245.5 146.5l2 2 0 3-1 .5-1.5-2.5.5-3M248 154.5l5.5 5 1 3-1 2-5-5-.5-5M258.5 174.5l6 7 10 8 1 1-1.5 3 12.5 6.5 1 1.5 0 11 3 12 3.5 11 3 15 .5 37-18 0 .5-12-1.5-6 1-5-1-7 1-7-2-6-1.5-10 .5-7-4-8 2.5-6-1.5-9-3-6-1-4-8.5-11-2.5-9M284.5 228.5l4 0 1 1 5.5 21 .5 37-13.5 0 .5-11-1.5-7 1-5-.5-8 .5-7-1-5 0-11 .5-3 3-2" fill="none" stroke="#333" stroke-width="0.8" stroke-opacity="0.75" stroke-linejoin="round"/></g><g clip-path="url(#kc)"><rect x="652" y="6" width="267" height="285" fill="url(#kg)"/><g clip-path="url(#kL)"><rect x="652" y="6" width="267" height="285" fill="#000" filter="url(#nzC)"/></g><g clip-path="url(#kR)"><rect x="652" y="6" width="267" height="285" fill="#000" filter="url(#nzD)"/></g><path d="M773 8.5l1.5-1 15 0 7 0 3 1 0 41-1 28-8 37.5-1 13.5 1 32 0 36 6 28 0 63-2 1-5 0-78 0-1.5-1 1-63 9-27-9-13-2-25 0-21 5.5-24.5 6.5-35.5 15-28 25-25z" fill="#0098ff" fill-rule="evenodd"/><path d="M775 8.5l14.5-1 9.5 1 0 41-1 28-8 37-1 14 1 32 0 36 6 28 0 63-4.5 1-16 0-53 0-10-1 1-63 9-27-9-13-2-25 0-21 12-60 15-28 25.5-26z" fill="#00beff" fill-rule="evenodd"/><path d="M780.5 8.5l2-.5 7-.5 9 1 0 41-1 28-8 37-1 14 1 32 0 36 6 28 0 63-10 1-66-.5-1.5-.5 1-63 8.5-27-8.5-13-2-24 0-22 11.5-60 15-28 25-25z" fill="#00e4ff" fill-rule="evenodd"/><path d="M781.5 8.5l2-.5 6-.5 8.5 1 0 41-1 28-8 37-1 14 1 32 0 36 6 28 0 63-10.5 1-65-1-.5-20 1-43 9-27-9-13-2-25 0-21 12-59 15-29 25.5-26z" fill="#00ffef" fill-rule="evenodd"/><path d="M782 8.5l7.5-1 8.5 1 0 41-1.5 28-2 10-1 0-.5 1 1 1-5.5 25-1 14 1 32 0 36 5 22-1 1.5 1-.5.5 3-.5 1 1 2 0 62-10 1-63-.5-1-.5-1-8 1.5-52 1-7 7.5-23-9-13-1.5-22 0-14 .5-6-.5-5 3-12 9-47 2.5-4.5 1-.5-.5-1 12.5-23 24.5-25z" fill="#00ffb8" fill-rule="evenodd"/><path d="M782 8.5l7.5-1 8 1 0 41-1.5 29-1.5 7-2 3 0 6-2 7-4 23 1.5 32-1 11 1 7-1 22 2 5 3.5 17-.5 2 1 5 1 16 0 46-9.5 1-63-1-.5 0-1-8 1-50 1-9 7.5-23-8.5-13-2-22 0-13 1-7-.5-5 1.5-8 2-4-.5-1 4.5-22 1.5-4 .5-7 1.5-5 1-8 4.5-6-.5-1 1-1 1-4 8.5-15 25-27z" fill="#00ff81" fill-rule="evenodd"/><path d="M782 8.5l7.5-1 7.5 1 0 49-1.5 14 0 8-1 4-2.5 4-.5 7-2 7 0 5-3.5 13 0 7 1.5 30-1.5 11 1.5 7-1 5 .5 6-.5 11 2 5.5 1 7 2 5.5-.5 6 1.5 5 1 16-.5 46-8.5 1-63-1-1-8 1-49 1.5-13 7-20-8.5-13-2-22 0-13 1-7-.5-5 0-4 3.5-8 1-8 1.5-5 .5-6 3-9 0-6 1.5-5 1.5-9 4-5 1.5-6 4.5-6.5 3-7 5-6.5 20.5-22z" fill="#00ff4b" fill-rule="evenodd"/><path d="M782.5 8.5l7-1 7.5 1-.5 49-1.5 14 .5 7-1 4-3.5 6 0 5-2 9-.5 8-3 8-.5 9 1.5 24 0 8-1 8 1 6-1 6 1 7-.5 11 2 6 1 6 2.5 5-1 6 1.5 6 1.5 16-1 9 .5 9-.5 27-5 1-12 0-53.5-1 0-2-1-6 .5-49 2-13 6.5-20-8-12-1-6-1-29 1-8-1-5 .5-4 3.5-8 .5-7 2-6 1-9 2-5 0-6 2.5-7 .5-7 4.5-6 1.5-6 4-6 3-6 3-5 17-18 7.5-9z" fill="#00ff14" fill-rule="evenodd"/><path d="M782.5 8.5l7-1 7.5 1-1 8 .5 41-1.5 7 0 14-1.5 4.5-4.5 5.5 1.5 4-2 10 0 6-3.5 9-.5 7-1 3 1.5 6 1 27-1.5 5-3.5 2 .5 1.5 3 .5 1 2 .5 3-1.5 3.5-4 0-2 1-1 1.5 0 1 2 1.5 3 0 2-.5 1 1.5 0 9.5-1.5 5 1.5.5 1.5 3.5 1.5 7 2 5-1 6 1.5 6 2 16-1 9 1 9-1 27-4.5.5-12 .5-52.5-1 1-2-1.5-2-1-4 .5-8 0-41 1.5-4.5 2.5-1.5-2.5-1 0-5 7-21-8-12-1-7-1-29 2-7-2-5 .5-4 1.5-3.5 3.5-4.5-1-7 2-6 1.5-9 2-6-.5-5 2.5-7 1-7 4.5-6 1-6 4-5 6-12 17-18 8-10zM772.5 191.5l-1 0 0 1 2 2 2-1-1-1.5z" fill="#13ff00" fill-rule="evenodd"/><path d="M783 8.5l6.5-1 7 1-.5 8 0 41-2 7-.5 8 .5 7-1.5 4-3 2-2 3 0 2 2 5-2 7 .5 5-1 4-2.5 4.5-3.5 1.5.5 5-3.5 4-.5 2 1 2 5 1 .5 1 0 8 1.5 13-1 8.5-6 4.5-1 2 2 1.5 5 1.5.5 3-.5 1.5-4 .5-4 2-1.5 3 .5 2 2 1.5 7 .5.5 4-.5 5-4 2-.5 2 1.5 3 5 1.5 1.5 6.5 2 5-2 6 2.5 7 0 7 1.5 7-.5 10 1 9-1 27-4 .5-12 .5-49-1 0-3-4-3-.5-2 .5-5 4.5-4-.5-1.5-3.5-1.5-.5-1-.5-17 .5-5 1-1-1-4 0-9 1-3 5-2 1-1-2-2-3-1-.5-2 7-22-6.5-12-3-9-.5-27 3-8-2.5-4 0-4 2-4 3-1 2-2 0-2-2.5-4 0-3 2-6 1-8 2.5-6-.5-5 2-6 1-8 5.5-6 0-6 5-6 2-6 4.5-7 7.5-6 2-4 6.5-6zM771.5 189.5l-2 1 2.5 3 2.5 2 3.5 0 0-2-1.5-2.5-3-1.5z" fill="#31ff00" fill-rule="evenodd"/><path d="M783 8.5l6.5-1 7 1-1 8 0 41-3 7 0 8 1 7.5-5.5 5.5-2.5 4 0 2 2 5-2.5 7 2 4-.5 3-1 2.5-6.5 2.5-1 2-.5 5-2.5 5-.5 4 5 2.5 1 1.5-.5 6-1.5 2-5 2.5-1 2.5 1 2.5 10.5 2.5-1.5 1.5-2 0-7-1-4-2.5-4.5 0-2 1 .5 3 4 2 2 2 8.5 2 .5 2-4 5 8 5-8.5 5-3.5 7-3 3 4.5 5 5.5 5 2.5 4 5 3 4 8 0 2-2 4 2.5 7 0 8 2 7-1 10 1 9-.5 27-3.5.5-12 .5-46.5-1-1-5-4.5-3-.5-1 1.5-3 4.5-4 .5-2-5.5-5 0-2 2-4-2.5-4.5-.5-3.5 1-2 4.5-2.5.5-2.5-3.5-8-2-2.5 0-1.5 0-2 1-.5 6-2.5 1-1.5-1-2.5-6-2 0-1 2-6.5 2.5-1.5 1.5-2 1-12-2-4-1-5-2.5-4-4.5-12 1-17-1-7 3.5-5 .5-2-.5-2-3-3 0-3 1.5-2.5 5.5-2.5 1.5-2-.5-3-2.5-5 3-9-1-6 4-6-1.5-5 3-8-.5-5 1-2.5 4.5-3.5.5-2-1-3 .5-2 1.5-2 5-3 1-5 3-4 2-6 7.5-5 2-5 6-5 2-4 6-8zM780.5 188.5l2.5 1 .5 2-1 1.5-2-.5-1-2 0-1z" fill="#4fff00" fill-rule="evenodd"/><path d="M783 8.5l6.5-.5 6.5.5-.5 7 0 15-.5 6 .5 7-1 9 .5 5-3.5 6 0 16-5 6-2.5 5-.5 2 2 4 0 2-5.5 10-3.5 4-1 7-2.5 4-.5 5-2 4 .5 1 5.5 2 1.5 2 0 2-1.5 2-6 3-3 4-5 1.5-.5 2.5 2 6-.5 5 1 4 3 .5 2 2 5 1.5 4 2-1 1-7.5 4-4.5 8 6 7 4.5 4 2.5 5 5 4.5 4 6.5-1.5 5 2.5 6 .5 10 2 8-1.5 7 1.5 11-.5 27-3 .5-12 .5-43.5-1-.5-2 1-2 6-3-3-1.5-6-.5-2-1 0-2 3.5-4 1-2-1-2-3.5-3 1-1.5 6.5-.5 1.5-2-7.5-4-3-5 .5-1 2-1 6 .5 2.5-.5 0-1-4.5-2-1.5-6-5.5-9 .5-2 6.5-2 1-1 0-3-2-2.5-6-2.5 0-1 1-1 7-2.5 2-2.5 0-2-2-5-.5-7-2-4-.5-5-3-4-2.5-5-1.5-8 0-3 1.5-5-1.5-4 0-6-.5-4 3-6 .5-3-3.5-7 1.5-1.5 6.5-3.5 1-2-.5-13 2.5-6-2.5-4 4.5-8 2.5-3-2.5-4 2-6-1.5-4 5-5-.5-6 1.5-2 6-3 1-6 3.5-4 0-4 .5-1.5 7-4.5 2.5-6 5.5-4 2-5 7-9zM764.5 171l-.5 3.5.5 3.5 3-1.5.5-3-.5-2.5zM771 163.5l3 0-.5 1-2 1-1.5-1z" fill="#6dff00" fill-rule="evenodd"/><path d="M783.5 8.5l6-.5 6 .5-.5 7 .5 8-1 13 .5 7-1 9 0 5-4 6 .5 5-1.5 11-7 12 2 7-5.5 7.5-6 5.5 0 7-4 4 1.5 4 0 2-3.5 3.5-4 2-2 2.5-.5 2 .5 2.5 3 .5 2-1 2-3.5 2-1 4.5.5 1.5 2-2 2.5-6 1.5-2.5 4-2.5 1-1 2 0 4 2 6-.5 4 1 6-1 6 1 9 0 1 6 7 6 5 3.5 7.5 3 3.5 3 5 0 5 2.5 6 .5 11 1.5 6-.5 8 1 12 0 26-15 .5-40-.5-.5-2 1-1 5.5-1.5 1.5-1.5-2.5-3-8-2.5-.5-1.5 3-8 5-6-1.5-2-6-2-1.5-1-.5-2 1.5-1 8.5-2 2.5-4-.5-1.5-5 .5-3-1-.5-4-3-5-2-4 1-1 2.5-.5 9 2 .5-1.5-.5-1.5-5-2.5-1-2-.5-5 4.5-8 0-2-3-5-2-7-1.5-3-.5-6-3-4-3-6 0-4-1.5-5 2.5-6-3-4 .5-6-.5-4 3-6 .5-3-2.5-7 7-5 1-2 .5-4 1.5-4-2-4 0-2 3-6-2-4 3-6 4-2.5.5-1.5-.5-1.5-3-2-.5-1.5 3.5-6-1.5-3 3-5 0-6 7.5-4.5 1-5.5 3.5-5-.5-5 2-2 5.5-3 2.5-6 5-4 1.5-5 7.5-10z" fill="#8bff00" fill-rule="evenodd"/><path d="M783.5 8.5l6-.5 6 .5-1 7 .5 8-1 13 1 7-1.5 9 0 4-4 6 0 6-3 8-.5 5-6 10 1.5 7-5 6.5-6 5-1 5.5-2 2-1.5 4 .5 6.5-4 4-3.5 6.5 2 6 0 8 2 7 .5 25 6.5 8 5.5 5 8 15 4 12 2 17-.5 10 1.5 9-.5 27-14.5.5-35-.5 5-1.5.5-2.5-.5-3-2-2.5-7-3.5-.5-1 1.5-1.5 7 .5 1-1 0-2-1-1.5-3-1-1-1.5 2.5-5 0-2-1.5-1.5-6-1-1-1.5 8-2.5 1-1 2-5.5-3-3.5-4-1-4.5-4.5-1-2 .5-1.5 2-.5 7 1.5 1.5-2.5-1.5-3-4.5-3-1-2 .5-3 3-5 1-6-2.5-5 .5-5-5-5 0-5-5.5-9-.5-2 .5-4-2-5 2-6-3-6 .5-9 2-2.5.5-3.5 0-4-1.5-4 1-2 5-4 3-10 0-2-1-4 3-5 1.5-4-1.5-3-.5-2 5.5-6-1-2.5-2.5-2.5.5-2 3-2.5 1-2-.5-3.5.5-9 1-1 5-2 1-1.5 2-6.5 3-5-.5-5 7-5 2-5 5-5 2-5 6.5-9z" fill="#a5ff00" fill-rule="evenodd"/><path d="M784 8.5l5.5-.5 5.5.5-1 7 .5 8-1 13 1 7-2 8 0 5-4 6-.5 7-2.5 6-2 7-8 16 0 5-6 6-4.5 11-1 8-6 10 2 5 .5 9 2 7 .5 25 6.5 8 6 5 6.5 13 5 14 3 37 0 26-14.5.5-28.5-.5 1.5-3-3.5-9 2-4 0-2-3.5-5 1.5-5 0-9 2-5-4.5-7 .5-2 2.5-3 0-2-1.5-3-5-5 4-13-2-6 .5-5-1-2-4-3-1.5-5-3-5-1.5-10-2-5 1-6-2-7 2-12 0-10 5-6 3-10-.5-6 4-9-.5-5 3.5-6-2.5-6 4-5 1-11 6.5-7 1.5-6 3.5-5-.5-5 6-4.5 2.5-5.5 5-5z" fill="#b7ff00" fill-rule="evenodd"/><path d="M784 8.5l5.5-.5 5 .5-1 7 1 7-2 14 1 7-1.5 8 0 5-4.5 6 0 6-3.5 7-1.5 7.5-5.5 11.5-3 4-1 5-4 5-1.5 5-3 5-1 10-6.5 10 2 5 1 9 1.5 7 1 25 7 8 5.5 5 7 14 5 13 3 38 0 25-14.5.5-25.5-.5 1-2-3-5-1-4 1.5-7-2.5-6 .5-7 0-6 2-5-4-7 2-4 .5-2-1.5-4-4.5-5 3.5-13-2.5-6 1.5-5-1-2-4-3-3-6-3-4-1.5-10-1.5-5 .5-6-1.5-7 1.5-10 0-9 1-4 4.5-6 2.5-9 .5-7 3.5-8-.5-6 3.5-5-1.5-6 3-5 0-4 2-6 5.5-8 1.5-6 3.5-5 .5-5 5-5 2.5-5 4.5-5z" fill="#c9ff00" fill-rule="evenodd"/><path d="M784 8.5l5.5-.5 4.5.5-1.5 6 1 8-1.5 14 .5 7-1.5 8 0 5-4 6-.5 6-3.5 7-2 8-4.5 10-4 5-.5 5-4.5 5-1 5-3 6-1 9-6.5 10 2 5 1 8 2 8 0 4 .5 6 0 8 .5 7 7 8 6 5 6 13 5.5 14 3.5 39-.5 24-14 .5-22.5-.5 0-2-4-6 .5-11-2-6 1-7-1-5 2.5-5-.5-2-3.5-4 2-5 0-2-1.5-4.5-4-4.5 3-13-2.5-6 1.5-6-6-5-2-5-3-4-1.5-10-2-5 .5-6-1.5-7 2-10 0-9 1-4 4.5-6 2.5-9 0-7 4-8-.5-6 3.5-5-2-5 3-6 1.5-8 6.5-9 1.5-7 4-6 0-4 4-4 3-6 4.5-5z" fill="#dbff00" fill-rule="evenodd"/><path d="M784.5 8.5l5-.5 4 .5-1.5 6 1 8-1.5 14 .5 8-2 8 0 4-4 6 0 6-4 7-2 8-4.5 10-4 5-1 5-4 5-1 4-3 7-1 9-6 10 2 5 3 16 0 4 1 6-.5 8 .5 7 7 8 6 5 6.5 13 5.5 14 3 40 0 23-14 .5-20.5-.5-.5-2.5-4-5.5.5-5-.5-8-1.5-6 1-5-1-5 2-5-.5-2-2.5-4 1.5-6-2-6-3-3-1-2 3.5-12-3-6 2-6-.5-1-6-4-5.5-9-1.5-10-2-5 .5-6-1.5-5 0-4 2-7 .5-11 1-3 4.5-6 2.5-10 0-6 4-8-1-6 3.5-5-1.5-5 3-6 1-7 7-10 1.5-7 4-6 .5-4 3.5-4 3-6 4-5z" fill="#edff00" fill-rule="evenodd"/><path d="M784.5 8.5l5-.5 3.5.5-1.5 5.5 1 8.5-2 15 .5 7-2 12-3.5 6-.5 6-3.5 6-2.5 8-2.5 5-1.5 5-4.5 5-1.5 6-3.5 4-1 5-3 7-1 9-6 10 2 5 3.5 16 1 10-.5 8 .5 7 7.5 8 6 5.5 6 12.5 5.5 14 3.5 39 0 24-14 .5-20-.5-.5-3-3-5 1-5-1-4 .5-5-2-5 1-6-1-4 1.5-5-2.5-6 1-5-2-8-3-4 2.5-12-2.5-6 1-6-1-2-4.5-3-6-9-1.5-9-2.5-6 .5-6-1.5-9 2-7 0-10 1.5-3.5 5-6.5 0-4 2-6 0-6 4.5-9-1-5 3.5-5-1.5-5 2.5-5 1-7 7-10 2-8 4-5.5.5-4.5 3.5-4 2-5 4.5-6z" fill="#feff00" fill-rule="evenodd"/><path d="M785 8.5l4.5-.5 2.5.5-.5 2.5.5 11.5-1.5 23-2 10-3.5 7-1 6-8.5 19-1.5 5-4 5-1.5 5-4 6-3 7.5-1.5 12.5-6 10 6 21 .5 25 14 14 6 12 5.5 14 3.5 39 0 24-14 .5-19-.5-.5-3-2.5-5 1-5-1.5-4 .5-7-1.5-4 .5-5-.5-4 0-6-1.5-5 .5-5-3.5-15 1-9-2-6 .5-7-5.5-4.5-6-8.5-1.5-10-2.5-5 .5-6-1.5-9 2-7 .5-10 1.5-4 4.5-6 .5-4 1.5-6 0-6 4.5-8-.5-6 3-5-1.5-5 3-5.5 1-6.5 6.5-10 2-8 4-5 1.5-5 3-4 2-5 4-5.5z" fill="#ffeb00" fill-rule="evenodd"/><path d="M785.5 8.5l4-.5 2 .5-.5 21-2 21-4 12-1 5-4.5 11-6.5 14-9 16-3 7-2 13-5.5 10 6 21 .5 10-.5 9 .5 6 14.5 14 6 13 5 13 3.5 40 0 23-13.5.5-18.5-.5-2-7 .5-6-1-5 0-5-1.5-5-.5-15-1-5 0-5-3-16 .5-9-2-5 1-7-6-5-6-8-2-10-2-6 .5-5-1.5-9 2-7 0-9 1.5-4 5.5-7 0-4 2-6 0-6 4-8 0-6 2.5-5-1-5 2.5-5 1-6 7-11 2-8 4-5 5.5-13 8.5-14z" fill="#ffd600" fill-rule="evenodd"/><path d="M785.5 8.5l4-.5 2 .5 0 17-2.5 25-5.5 17-4 11-6.5 14-9.5 16-3 7-2.5 13-5.5 10 6.5 21 1 25 14 14 5.5 11 6 15 3.5 40 0 23-13.5.5-18-.5-2-7 .5-6-2-15-1-15-4-26 .5-9-2-5 1-7-6-5-6-8-2-10-2-6-1-15 2-6 0-10 7.5-10 0-4 1.5-6 0-6 4-8 0-6 2.5-5-.5-5 2-5 1-5.5 7.5-12.5 1.5-7 4-5 6-13 8-14z" fill="#ffc100" fill-rule="evenodd"/><path d="M786 8.5l5.5 0-.5 17-2.5 25-9.5 28-6.5 14-9 16-3 7-3 12-5.5 11 6.5 21 1 25 14 14 6 12 5.5 14 4 40 0 23-13.5.5-17.5-.5-2-7 .5-6-2-15-1-15-4-26 .5-9-2-5 1-7-6-5-6-8-2-10-2-6-1-15 1.5-6 .5-10 2.5-4 5.5-6-.5-4 1.5-6 .5-6 4-9-.5-4 3-6-1-5 2.5-5 .5-5 7.5-12 2-8 4-5 5.5-13 8-14z" fill="#ffac00" fill-rule="evenodd"/><path d="M786.5 8.5l5 0-.5 17-2.5 25-9.5 28-7 14-9 16-3 6-5 16-3.5 8 7 21 .5 25 14.5 14 6 12 5 14 4.5 41 0 22-13.5.5-17-.5-2-7 1-7-2.5-15-1-14-4-27 .5-8-2-5 1-7-6-5-6-8-2-10-2.5-6-1-14 2-7 .5-10 4-5.5 5.5-3.5-1.5-5 1-6 .5-6 4-9 0-4 2.5-6-.5-5 2-5 .5-5 7.5-12 1.5-3 .5-5 4.5-6 5.5-12 7.5-13z" fill="#ff9800" fill-rule="evenodd"/><path d="M787 8.5l4 0 0 17-2.5 25-10 28-7 14-9 16-3 6-2 8-4 6 .5 3-3 7 7 21 1 25 14 14 6 12 5.5 14 4.5 41-.5 22-29.5 0-2-7 1-7-4.5-39-1.5-5 0-5-1.5-7 .5-8-2-5 1.5-7-7-6-5.5-7-2-10-2.5-6-1-14 2-7 0-10 5-5.5 7-3.5 0-1-3-2.5-.5-2.5 2-12 3.5-8 .5-4 2-6-.5-5 2-5 1-5 8-13.5 1.5-6.5 6.5-10 2.5-7 8.5-15.5z" fill="#ff8100" fill-rule="evenodd"/><path d="M787.5 8.5l3.5 0 0 15-2.5 24-2 9-8.5 22-6.5 14-9.5 16-2.5 6-2 7-4 5-5 .5-3.5-1.5-1-3 1.5-12 3.5-8 2.5-10 0-5 2-5 .5-5 7.5-13 2-7 4-5.5 3-5.5 2-6 8-15zM746.5 129.5l2-.5 4 .5 0 3-2 6 7 21 1 11-.5 8 .5 6 14.5 14 5.5 12 5.5 14 4.5 41 0 22-29 0-1.5-7 1-7-5-34 0-4-1.5-6 0-6-1.5-6 1-8-2.5-6 1.5-6-7-6-5.5-7-2-10-2.5-6 0-5-1-7 0-3 2-6 0-10 4.5-5z" fill="#ff6900" fill-rule="evenodd"/><path d="M787.5 8.5l3.5 0 0 16-2.5 23-2.5 9-8 22-7 14-9.5 16-2.5 6-2 6-3.5 5-5 .5-3-1.5-.5-3 1-10 3.5-9 2-10 .5-5 2.5-10 7.5-13 3-8 5.5-9.5 2.5-6.5 8-15zM746 130.5l5.5 0 0 3-1.5 5 7.5 21 .5 11-.5 8 1 6 14 14 6 12 5.5 14 4.5 41 0 22-28.5 0-1.5-8 1-7-5-33 .5-4-2-6 .5-6-2-6 1-8-2-5 1-7-1-1.5-6-4.5-5.5-7-1.5-5-.5-5-2.5-6 0-5-1.5-7 .5-4 1.5-5 0-10 4.5-4z" fill="#ff5100" fill-rule="evenodd"/><path d="M787.5 8.5l3.5 0 0 16-2.5 22-2.5 10-8.5 22-7 14-9.5 16-2.5 6-2 6-3 4-5 .5-3-2.5.5-8 1-5 3-7 5-25 7.5-13 2.5-7 5.5-10 10.5-22zM745 131.5l5.5 0-1 7 7.5 21 1 11-1 8 1 6 14 14 6 12 5.5 14 5 42 0 21-28 0-1.5-8 1.5-8-3-16-2-16 0-4-2-6 1-5-2-7 1-8-2.5-6 1.5-6-1.5-2-6-4-5.5-7-1.5-5-.5-5-3-7 .5-4-1.5-9 2-7 0-9 3-4z" fill="#ff3900" fill-rule="evenodd"/><path d="M788 8.5l3 0-.5 16-2.5 25-2.5 7-8 21.5-7 14.5-9.5 16-3 6-1.5 5-3 4-4 1-3-2 0-7 1.5-7 2-5 5.5-26 7.5-13 2.5-7 5.5-10 10-21zM744 132.5l5.5 0-1 6 8 20.5 1 11.5-1 8 1 6 14.5 14 5.5 12 5.5 14 5 40 0 23-26.5 0-2-8 1.5-8-1.5-6 0-6-1.5-5-1.5-15 0-4-2.5-6 1.5-5-2.5-7 1-8-2.5-6 1.5-6-1-2-6.5-4.5-5.5-6.5-1.5-5-.5-5-3-6 0-5-1.5-9 2.5-7-.5-9 3-3z" fill="#ff2100" fill-rule="evenodd"/><path d="M788 8.5l3 0-.5 16-3 25-2 6.5-9 23-6.5 13.5-9.5 16-4.5 11-2.5 3.5-4 .5-1.5-1-1-2 0-6 4-13 5-24 7-12 2.5-8 5.5-9 10-22zM743 133.5l2.5-.5 3 1-.5 4.5 8 20 1 12-.5 8 1 6 14 14 6 12.5 2.5 7.5 3 6 5 40 0 23-26 0-2-8 2-8-1.5-6 0-6-1.5-5 0-5-2-9 .5-5-2.5-6 1-5-2-8 1-7-2.5-6 1.5-6-1.5-2-7-5-4-5-2.5-6-1-6-2.5-5 0-5-1.5-9 2.5-7-.5-9 2.5-2.5z" fill="#ff0900" fill-rule="evenodd"/><path d="M788 8.5l2.5 0 0 16-3 24.5-2 6.5-5 14-8.5 17-2.5 6-9.5 16-4.5 11-2 2.5-4 .5-2-2.5 0-5.5 1-5.5 2.5-6.5 5.5-25 7-12 2.5-8 6-10 2.5-7 7-14zM742 134.5l2.5-.5 3 1 0 3.5 7 18 2 13-.5 9 1 6 14 14 5.5 11 3 9 3 6 5.5 40 0 23-25.5 0-1.5-8 1.5-6 0-3-1.5-5 0-6-1.5-5 0-5-1.5-9 0-5-2.5-6 1-5-2-8 1-7-2.5-6 1.5-6-2-2.5-6.5-4.5-4-5-2.5-6-1-6-2.5-5 0-6-1.5-8 3-7-1-9 2-2z" fill="#ff0000" fill-rule="evenodd"/><path d="M788 8.5l2.5 0 0 15.5-3 23-3 10-2 4.5-2 7-9 18-2.5 6-11.5 20-2 6-2 2.5-4 .5-1.5-3-.5-4 2-7 2-5 5-24.5 7.5-12.5 2.5-8 6-10 2-6 7-15zM741.5 135.5l2-.5 3 1.5 7.5 20 2 13-.5 9 1 6 14 14 6 11.5 3 8.5 3 6 5 39 0 24-25 0-1-7 1.5-8-1.5-7 .5-5-1.5-6-1.5-19-2.5-6 1-5-2-8 .5-7-2-6 1.5-6-2.5-3-6-4-4-5-3-6-.5-6-3-5 0-6-1.5-8 3-7-1-9z" fill="#ff0000" fill-rule="evenodd"/><path d="M788.5 8.5l2 0 0 15-3 23-3 10-2.5 5-1.5 6-10 19-2 6-9 15-5.5 12-.5 1-3 .5-1.5-1.5-.5-5 1-6 3-6 5-25 7-12 2-7 6.5-11 2-6 7-15zM740.5 136.5l2-.5 3.5 1.5 7.5 18 1 4 1 10-.5 9 1 6 14 14 6.5 12 2.5 8 3 6 3.5 27 2 12 0 24-24.5 0-1-8 1.5-9-1-5 0-6-1.5-5 0-5-1.5-7 0-7-2.5-6 1-5-2-7 1-8-2-6 1-6-2.5-3-6-4-4-5-3-6-.5-6-2.5-3.5-1-2.5.5-5-1.5-8 3-6-.5-10z" fill="#ff0000" fill-rule="evenodd"/><path d="M788.5 8.5l2 0-.5 15-3 23-3 10-4 11-10 19-2 6-9.5 16-5 11-3 .5-1-1.5-.5-4 4-13 2.5-13 2-6 .5-5 7-12 2.5-8 5.5-9 6-16 3-6zM739.5 137.5l2-1 5 3.5 6.5 15.5 1 4 1 11-.5 8 1 6 14 14 6.5 12 2.5 8 3 6 3.5 27 2.5 13 0 23-24 0-1-8 1.5-9-1.5-6 .5-5-1.5-5 0-5-1.5-6 0-8-2-6 .5-5-1.5-7 .5-8-1.5-6 .5-6-2-3-7-5-3-4-3.5-6 0-6-3.5-5 0-6-1.5-8 3-6-.5-8z" fill="#ff0000" fill-rule="evenodd"/><path d="M788.5 8.5l2 0-.5 16-3.5 22.5-3 9.5-4 11-10 19-2 6-11.5 19-2.5 7-3 .5-1-4.5 5.5-17 1-8 2.5-6.5.5-5.5 7-12 2.5-8 5-9 6-16 3-6zM739.5 138.5l1-1 7 5.5 5 13.5 2 14-.5 8 1 6 14.5 14.5 6 11.5 2.5 8 3.5 6 3.5 28 2 12 0 23-23 0-1-8 1.5-9-1.5-6 .5-5-1.5-5 0-5-1.5-6 .5-8-2.5-6 .5-5-1.5-7 1-8-1.5-6 .5-6-3-3.5-6.5-4.5-3-4-3-6-.5-6-3.5-5 .5-6-2-8 3-7z" fill="#ff0000" fill-rule="evenodd"/><path d="M788.5 8.5l1.5 0-.5 16-3.5 23-3 9-4 11-10 19-2 6-12 20-1.5 5-3 0-.5-3 4.5-14 2.5-11 2-6 1-6 6.5-12 2.5-8 5-9 6-16 3-6zM740.5 140.5l2 2.5 4.5 2.5 1.5 2 4.5 12 1 12-1 7 1.5 6 8.5 9-.5 1.5-1 0-3-3-6-.5-3-1.5-3-3.5 0-2-2-1.5-2-3.5 0-6-4-6 .5-5-1.5-8 3.5-7zM758.5 198.5l0-.5 1 .5 2 5.5 2 1.5 5-.5 1.5-.5 0-2 .5 0 .5 2 4 6 3 9 3 5 3.5 28 2.5 12 0 23-22.5 0-1-8 1.5-9-1.5-6 .5-5-1.5-5 0-5-1.5-6 .5-8-2-6 .5-5-1.5-7 .5-8-1-6zM767.5 199.5l1-1 1 2 0 2z" fill="#ff0000" fill-rule="evenodd"/><path d="M789 8.5l1 0-.5 16-4 23-3 9-7 17-7.5 13-1.5 6-9 14-5 3.5 0-2 4-9.5.5-7 3-7 1-7 6-12 2.5-8 5-9 5.5-16 3-6zM751 114.5l2.5 0 0 1-3 0zM740 150.5l4.5 0 2 2 4 1.5 2 6 1 10.5-.5 10 1 4 3.5 4 0 1-6 1-1.5-1-2-2 1-3-.5-2-4-1-1.5-2 .5-4 2.5-1 .5-1-1-1-3 0-3-4-1.5-14zM760 206.5l3.5 1 8-1 1 .5 2.5 3.5 1.5 5 0 2.5-1 .5 0 1 3 1 2.5 4 3.5 28 2.5 12 0 23-22 0-1-7 1.5-9-1.5-7 .5-5-1.5-5 0-5-1.5-7 .5-7-2-6 .5-6-1.5-6z" fill="#ff0000" fill-rule="evenodd"/><path d="M789 8.5l1 0-.5 15-4 23.5-3.5 9.5-6.5 16-5 9-4-1-5 1.5 0-4.5 6.5-12 1.5-7 5.5-10 5.5-16 3-6zM759.5 87.5l2 1.5 5 0 0 .5-1 3-3 5-5-3.5zM739.5 152.5l1-1 1 .5 3 2.5 5 2 2 2-.5 5 2 7-.5 5-2-1-3-4.5-5 .5-2-2-1.5-13zM744.5 177.5l3 1-3 1-.5-1zM752 183.5l.5-.5 3 5-3-.5-1-2zM768.5 208.5l4-.5 3 5.5 0 2-4.5 2 0 2 2.5 2 5 .5 2.5 3.5 3.5 27 2 12 0 23-21 0-1-7 1-9-1-7 .5-4-1.5-6 0-5-1-7 0-7-1.5-6 0-5-1-8 .5-6.5z" fill="#ff0000" fill-rule="evenodd"/><path d="M789 8.5l1 0-1 16-4 23-3 9-8.5 19-7 1.5-4 1.5 1-3 3-6.5 1-.5 3.5 0 1.5-1-.5-2-2.5-1 0-4 5.5-11 6-17 3-6 .5-5zM740.5 153.5l2.5 3 5 3 0 1-1.5 1.5-3 1.5-3-2.5-1-5.5zM741.5 164.5l0-1 1 0 1.5 2 0 2-1.5 1.5-1 0-.5-1.5zM771 210.5l2.5 0 .5 2-6.5 1 1-2zM761 213.5l.5-.5 5 .5 2 6 1.5 2 3.5 2 6 .5 1 1.5 3.5 27 2.5 12 0 23-20.5 0-1-8 1-9-.5-11-1.5-5 0-5-1-6 0-9-1.5-6 0-4-1-7z" fill="#ff0000" fill-rule="evenodd"/><path d="M789 8.5l1 0-1 14-3 15-1 9-3 7-1 4-3.5 6 0 2-.5 0-1-2-5.5-1.5 0-1.5 5.5-12 5.5-17 2-3.5 1.5-.5-.5-2 .5-4zM761.5 216.5l0-.5 1 0 2 1.5 3 4.5 3 2.5 3 1 6 0 1 1.5 0 7.5 2 7 4 23 0 23-20 0-1-7 1-9-.5-11-1.5-6 0-5-1-6 .5-9-1.5-5z" fill="#f10000" fill-rule="evenodd"/><path d="M789 8.5l0 14-.5 3-1 .5-2-1.5-.5-3 2.5-5zM782.5 30.5l1-.5 3.5.5-.5 5-1 1-4-.5-.5-.5zM784.5 42.5l0 3-1 4-4-1-1.5-3 .5-2.5zM763.5 224.5l0-1 1 .5 6 5 7 1 1 5.5 3 3.5 1.5 11.5 3 14 0 23-19 0-1-8 1-10-3-26 .5-8-1.5-7z" fill="#e20000" fill-rule="evenodd"/><path d="M788 18.5l.5 0 0 6-3-2 1-3.5zM772 233.5l2.5.5 2 3 4.5 8.5 2.5 8 2.5 12 0 22-18.5 0-1-8 1-10-3-28 1-3.5z" fill="#d30000" fill-rule="evenodd"/><path d="M770.5 238.5l2-.5 1 .5 0 5 5 5 .5 6 2.5 1.5 2 .5 2 9 0 22-17.5 0-1-7 .5-13-2.5-25 .5-2z" fill="#c40000" fill-rule="evenodd"/><path d="M768 246.5l4.5 0 3 2 .5 2-1.5 4 6 4 3 .5 1 1.5 1 5-.5 5 .5 17-17 0-1-7 .5-13-1-14z" fill="#b50000" fill-rule="evenodd"/><path d="M768.5 256.5l5 0 11 4.5 1 4.5-1 5 1 17-17 0-.5-7z" fill="#a90000" fill-rule="evenodd"/><path d="M771.5 259.5l2-.5 5 2 6 1 0 6-5 .5-1.5 1 2 2 4.5 1.5 0 5.5-5 .5-2 1.5 2.5 2 4.5 1 .5 4-16 0-.5-8 1-12 4-.5 1.5-1.5-.5-2-3-2z" fill="#9e0000" fill-rule="evenodd"/><path d="M778.5 263.5l2-1 4 .5 0 3.5-5 0-1.5-1zM772 269.5l2.5 0 9 5 1 1-1.5 1-7.5 2-1.5 2 2.5 2 6.5 3 1.5 1 0 1-14.5 0-1-7 .5-8 1-2z" fill="#940000" fill-rule="evenodd"/><path d="M772.5 272.5l3 0 4 2 0 1-4 1-3-.5-.5-1.5zM770.5 282.5l7 3 .5 1-2.5 1-4-1-1-1z" fill="#890000" fill-rule="evenodd"/><path d="M782 8.5l7.5-1 7.5 1 0 49-1.5 14.5 0 7.5-3.5 9-2.5 18-3.5 13 0 7 1.5 30-1 11 1 7-1 22 5.5 18-1 6 3 21-.5 46-9 1-63-1-1-8 1-49 1.5-13 7-20-8.5-13-2-22 0-13 1-7-1-5 .5-4 3.5-8 3-19 2.5-9 0-6 2-5 1.5-9 4-5 1.5-6 4.5-7 3-6.5 5-6.5 20.5-22 11-16M783.5 8.5l6-.5 6.5.5-1.5 28 1 7-1 14-4 6-1 16-7.5 12 2 7-4.5 7-6.5 6 0 7-3.5 4 1 4 0 2-4 3.5-5 3-1.5 3.5.5 2 3 0 3.5-4 3.5-1 4 1 1.5 2-1.5 2.5-7 2.5-2 3-3 1.5-1 1.5 0 4 2 6 0 18 .5 8 12 12 3.5 7.5 3.5 3.5 2.5 5 0 5 2.5 6 .5 11 1.5 6-.5 8 1 11 0 27-15 .5-40.5-.5-.5-2 .5-1 7.5-3-2.5-3-8.5-3 3-9 5-6-1-1.5-6.5-2.5-2-3 1.5-1 8.5-2 2.5-4-6-.5-2-1-1-5.5-5-8 .5-1 2.5-.5 10 1.5.5-1-.5-1-5-2.5-1.5-2.5-.5-5 4-7 .5-3-3-5-1.5-7-2-3 0-6-6.5-10-1-9 2-6-2.5-4 .5-6-1-4 3.5-6 .5-3-3-7 7.5-5 1-2 1.5-8-1.5-6 2.5-6-1.5-4 2.5-6 4.5-3 .5-1-4.5-5 3.5-6-1.5-3 3.5-5-.5-6 8-5 .5-5 4-5-1-5 7.5-5 2.5-6 5.5-4 1.5-5 7.5-10 5-9M784.5 8.5l5-.5 4.5.5-1.5 6 1 8-2 14 .5 8-1.5 12-4 6 0 6-4 7-2 8-4.5 10-4 5-1 5-4 5-1.5 5-2.5 6-1 9-6 10 1.5 5 3.5 16 1 25 7 8 5.5 5 6.5 13 5.5 14 3 39 0 24-14 .5-21.5-.5 0-2-4-6 0-12-1.5-5 .5-7-.5-5 2-5-3.5-6 2-6-1.5-5-4-4-.5-2 3.5-12-3-6 2-6-6.5-5-5-9-1.5-10-2-5 .5-6-1.5-5 0-4 2-7 0-11 5.5-9 2.5-9 0-7 4-8-.5-6 3.5-5-2-5 3-6 1-7 7-10 1.5-7 4-6 0-4 4-4 3-6 4-5 12.5-24M786 8.5l5.5 0-.5 17-2.5 25-9.5 28-15.5 30-3 7-3 12-5.5 11 7 21 .5 25 14.5 14 11 26 4 40 0 23-31 0-2-7 .5-6-2-15-1-15-4-26 .5-9-2-5 1-7-6-5-6-8-2-10-2-6-1-15 1.5-6 .5-10 8-10-.5-4 1.5-6 0-6 4.5-9-.5-4 2.5-6-.5-5 2-5 1-5 8-13 1.5-7 3.5-5 6-13 8-14 7-17M788 8.5l3 0-.5 16-3 25-2 7-9 23-6.5 13-9.5 16-4 11-3 3.5-4 1-3-2.5 0-6 3.5-12 5.5-26 15.5-29 10-22 7-18M742.5 133.5l3-1 3.5 1-.5 5 8 21 .5 11-.5 8 1 6 14 14 11.5 26 5 40 0 23-26.5 0-1.5-8 1.5-8-1.5-6 0-6-1.5-5-1.5-19-2.5-6 1-5-2-8 1-7-2.5-6 1.5-6-1.5-2-6.5-4.5-5-6.5-2-5-.5-6-2.5-5-1.5-14 2.5-7-.5-9 2.5-3 4-2M788.5 8.5l1.5 0-.5 16-3.5 23-3 9-4.5 11-9.5 19-2.5 6-11.5 20-1.5 4.5-3 0-.5-2.5 5-14 2-11 2.5-6 .5-6 6.5-12 2.5-8 5-9 6-16 3-6 5.5-18M740.5 141.5l1 2-1 .5 0-2.5M742.5 144.5l3 .5 2 2 4 8.5 1.5 4 1 11-1 8 1.5 6 6 7.5-8-.5-2-1-3.5-3 0-3-2.5-2-2-3 .5-5-4-7 0-5-1.5-8 4-7 1-3M758.5 199.5l0-.5 4 6.5 3 .5 6-1 3.5 5.5 3 9 3 5 6 40 0 23-22.5 0-1-8 1.5-9-3.5-27 0-8-2-6 .5-5-1.5-7 .5-8-.5-10M768.5 200.5l1 0 0 1-1-1M789.5 8.5l0 1.5 0-1.5M771 237.5l1.5-.5 2 1.5 0 5 4.5 5 .5 5 2 2 2 .5 2.5 9.5 0 22-18.5 0-.5-7 .5-12-2.5-26 .5-2.5 5.5-2.5" fill="none" stroke="#333" stroke-width="0.8" stroke-opacity="0.75" stroke-linejoin="round"/></g><rect x="79.5" y="14.5" width="73.0" height="276.7" fill="none" stroke="#222" stroke-width="1.3"/><path d="M87.4 18.4L91 21.8L93.3 26.4L95.7 31.1L97.2 37.3L98 46.7L98.8 60.7L100.3 65.3L101.9 68.5L105.8 80.9L109.7 93.3L112 105.8L115.1 118.2L119 130.7L122.9 143.1L126.8 155.6L130.7 178.9L127.6 170L132.2 193.3L136.9 216.7L140.8 235.3L143.9 254L146.2 272.7L147.8 285.1L149.3 289.8L151.7 291.3" fill="none" stroke="#111" stroke-width="1.6" stroke-linejoin="round"/><circle cx="101.5" cy="46" r="18.3" fill="none" stroke="#f00" stroke-width="2.2" stroke-dasharray="5.5 3.5"/><text x="92.5" y="285" font-size="17">NC91</text><rect x="570.6" y="13.3" width="72.79999999999995" height="277.9" fill="none" stroke="#222" stroke-width="1.3"/><path d="M578.4 16.2L582.4 20.2L585.5 24.9L587.7 32.7L589.3 43.6L590.2 54.4L592.4 62.2L596.4 74.7L601.1 87.1L605.8 102.7L610.4 118.2L615.1 136.9L619.1 155.5L622.3 174.2L625.4 192.9L628.5 211.5L631.6 230.2L634.1 248.9L635.9 267.5L637.8 283.1L640 289.3L643.1 290.9" fill="none" stroke="#111" stroke-width="1.6" stroke-linejoin="round"/><circle cx="590" cy="38" r="13" fill="none" stroke="#f00" stroke-width="2.2" stroke-dasharray="5.5 3.5"/><text x="603.7" y="264.5" font-size="19.5" text-anchor="middle" fill="#f00">NCAl</text><text x="602.3" y="286" font-size="19.5" text-anchor="middle" fill="#f00">-LAO</text><text x="70.5" y="297.6" font-size="17.8" text-anchor="end">0</text><text x="70.5" y="234.8" font-size="17.8" text-anchor="end">50</text><text x="70.5" y="172" font-size="17.8" text-anchor="end">100</text><text x="70.5" y="109.2" font-size="17.8" text-anchor="end">150</text><text x="70.5" y="46.4" font-size="17.8" text-anchor="end">200</text><text x="79" y="315.8" font-size="17.8" text-anchor="middle">4.4</text><text x="112" y="315.8" font-size="17.8" text-anchor="middle">4.0</text><text x="144.9" y="315.8" font-size="17.8" text-anchor="middle">3.6</text><line x1="165.2" y1="291.2" x2="431" y2="291.2" stroke="#222" stroke-width="1.3"/><path d="M79.5 291.2h-5M79.5 228.4h-5M79.5 165.6h-5M79.5 102.8h-5M79.5 40h-5M79.5 259.8h-3M79.5 197h-3M79.5 134.2h-3M79.5 71.4h-3M79.5 291.2v5M111.8 291.2v5M144.1 291.2v5M95.6 291.2v3M127.9 291.2v3M165.2 291.2v5M231.6 291.2v5M298.1 291.2v5M364.6 291.2v5M431 291.2v5M198.4 291.2v3M264.9 291.2v3M331.3 291.2v3M397.8 291.2v3" stroke="#222" stroke-width="1.3" fill="none"/><text x="167.2" y="315.8" font-size="17.8" text-anchor="middle">18</text><text x="231.6" y="315.8" font-size="17.8" text-anchor="middle">18.5</text><text x="298.1" y="315.8" font-size="17.8" text-anchor="middle">19</text><text x="364.6" y="315.8" font-size="17.8" text-anchor="middle">19.5</text><text x="431" y="315.8" font-size="17.8" text-anchor="middle">20</text><text x="561.6" y="297.6" font-size="17.8" text-anchor="end">0</text><text x="561.6" y="234.8" font-size="17.8" text-anchor="end">50</text><text x="561.6" y="172" font-size="17.8" text-anchor="end">100</text><text x="561.6" y="109.2" font-size="17.8" text-anchor="end">150</text><text x="561.6" y="46.4" font-size="17.8" text-anchor="end">200</text><text x="570.1" y="315.8" font-size="17.8" text-anchor="middle">4.4</text><text x="603" y="315.8" font-size="17.8" text-anchor="middle">4.0</text><text x="635.8" y="315.8" font-size="17.8" text-anchor="middle">3.6</text><line x1="655.5" y1="291.2" x2="915.5" y2="291.2" stroke="#222" stroke-width="1.3"/><path d="M570.6 291.2h-5M570.6 228.4h-5M570.6 165.6h-5M570.6 102.8h-5M570.6 40h-5M570.6 259.8h-3M570.6 197h-3M570.6 134.2h-3M570.6 71.4h-3M570.6 291.2v5M602.8 291.2v5M635 291.2v5M586.7 291.2v3M618.9 291.2v3M655.5 291.2v5M720.5 291.2v5M785.5 291.2v5M850.5 291.2v5M915.5 291.2v5M688 291.2v3M753 291.2v3M818 291.2v3M883 291.2v3" stroke="#222" stroke-width="1.3" fill="none"/><text x="657.5" y="315.8" font-size="17.8" text-anchor="middle">18</text><text x="720.5" y="315.8" font-size="17.8" text-anchor="middle">18.5</text><text x="785.5" y="315.8" font-size="17.8" text-anchor="middle">19</text><text x="850.5" y="315.8" font-size="17.8" text-anchor="middle">19.5</text><text x="915.5" y="315.8" font-size="17.8" text-anchor="middle">20</text><text transform="translate(24.5 157) rotate(-90)" text-anchor="middle" dy="0.36em" font-size="21">Capacity (mAh g<tspan font-size="13" dy="-8">-1</tspan><tspan dy="8">)</tspan></text><text transform="translate(515.5 157) rotate(-90)" text-anchor="middle" dy="0.36em" font-size="21">Capacity (mAh g<tspan font-size="13" dy="-8">-1</tspan><tspan dy="8">)</tspan></text><text x="120.8" y="341.5" font-size="21" text-anchor="middle">Potential (V)</text><text x="297" y="341.5" font-size="21" text-anchor="middle">2θ (Deg.)</text><text x="607" y="341.5" font-size="21" text-anchor="middle">Potential (V)</text><text x="790" y="341.5" font-size="21" text-anchor="middle">2θ (Deg.)</text><text x="206.9" y="151.6" font-size="19" text-anchor="middle" fill="#fff">H2</text><text x="388.2" y="78.9" font-size="19" text-anchor="middle" fill="#fff">H3</text><text x="339.4" y="273.6" font-size="19" text-anchor="middle" fill="#fff">H1</text><text x="190.4" y="271.5" font-size="19" text-anchor="middle" fill="#fff">(003)</text><text x="705" y="163.2" font-size="19" text-anchor="middle" fill="#fff">H2</text><text x="817.3" y="265.9" font-size="19" text-anchor="middle" fill="#fff">H1</text><text x="687.7" y="270.3" font-size="19" text-anchor="middle" fill="#fff">(003)</text><rect x="936" y="46" width="13.5" height="211.5" fill="url(#cbj)"/><text x="938.7" y="37.5" font-size="18.2" text-anchor="middle">High</text><text x="942.5" y="275.5" font-size="18.2" text-anchor="middle">Low</text><path d="M442.7 136.9h14.5l14.5 17.9-14.5 17.8h-14.5l14.5-17.8zM462.7 136.9h14.5l14.5 17.9-14.5 17.8h-14.5l14.5-17.8z" fill="#c000f8"/>
<text x="263" y="405" font-size="23.7" text-anchor="middle">The deformation charged to 4.3 V</text><text x="746" y="404" font-size="23.7" text-anchor="middle">The Von mises stress</text><text x="1266" y="404" font-size="23.7" text-anchor="middle"><tspan fill="#f00">Tensile</tspan> and <tspan fill="#00f">compressive</tspan> stress</text><g stroke="#2a2a2a" stroke-width="0.55" stroke-linejoin="round"><path d="M299 429l7 2 8 2-4 12-14-3z" fill="#43ffbd"/><path d="M314 433l5 2 5 1-5 12-9-3z" fill="url(#vyg1)"/><path d="M324 436l8 4 8 4-6 11-15-7z" fill="#ddff22"/><path d="M340 444l8 4 7 4-7 11-14-8z" fill="url(#vgy3)"/><path d="M355 452l4 3 5 3-8 11-8-6z" fill="url(#vcg1)"/><path d="M364 458l5 4 5 4-8 10-10-7z" fill="#85ff7b"/><path d="M374 466l7 7 7 7-10 9-12-13z" fill="url(#vya2)"/><path d="M388 480l4 5 4 5-10 8-8-9z" fill="#1dffe2"/><path d="M396 490l4 5 3 5-11 7-6-9z" fill="#0cf1ef"/><path d="M403 500l5 7 4 8-12 6-8-14z" fill="url(#vyg0)"/><path d="M412 515l3 7 3 8-11 5-7-14z" fill="url(#vya0)"/><path d="M418 530l2 5 2 4-12 4-3-8z" fill="#2bffd4"/><path d="M422 539l2 9 2 9-12 3-4-17z" fill="#ecff13"/><path d="M426 557l2 7 0 7-12 1-2-12z" fill="url(#vgc0)"/><path d="M428 571l1 6 0 6-12 0-1-11z" fill="#00a3ff"/><path d="M429 583l0 7 0 7-12-1 0-13z" fill="url(#vgy3)"/><path d="M429 597l0 10-2 9-12-2 2-18z" fill="#94ff6c"/><path d="M427 616l-1 6-1 5-12-3 2-10z" fill="url(#vgc0)"/><path d="M425 627l-2 7-2 8-12-5 4-13z" fill="#89ff77"/><path d="M421 642l-3 7-3 7-12-5 6-14z" fill="#9fff61"/><path d="M415 656l-3 6-3 6-11-6 5-11z" fill="#f0ff0f"/><path d="M409 668l-3 5-3 6-11-7 6-10z" fill="#baff45"/><path d="M403 679l-5 6-5 7-10-8 9-12z" fill="#00daff"/><path d="M393 692l-5 6-5 5-10-9 10-10z" fill="#17fce7"/><path d="M383 703l-6 6-6 5-9-9 11-11z" fill="#28ffd7"/><path d="M371 714l-6 5-5 4-8-11 10-7z" fill="url(#vgy1)"/><path d="M360 723l-6 4-6 3-6-11 10-7z" fill="#f2ff0e"/><path d="M348 730l-6 3-5 3-6-11 11-6z" fill="url(#vbc1)"/><path d="M337 736l-9 4-8 3-4-12 15-6z" fill="url(#vyg2)"/><path d="M320 743l-6 2-5 1-3-12 10-3z" fill="#fff300"/><path d="M309 746l-9 2-8 2-2-13 16-3z" fill="url(#vya2)"/><path d="M292 750l-7 1-6 1-1-13 12-2z" fill="#89ff77"/><path d="M279 752l-8 0-7 0 0-13 14 0z" fill="url(#vya2)"/><path d="M264 752l-7 0-7-1 1-13 13 1z" fill="#edff12"/><path d="M250 751l-7-1-6-1 2-12 12 1z" fill="url(#vcb0)"/><path d="M237 749l-8-1-7-2 4-12 13 3z" fill="#24ffdb"/><path d="M222 746l-8-3-8-3 5-12 15 6z" fill="#b1ff4f"/><path d="M206 740l-6-2-5-3 5-11 11 4z" fill="#b8ff47"/><path d="M195 735l-6-3-6-3 7-11 10 6z" fill="url(#vyg1)"/><path d="M183 729l-7-4-6-5 8-10 12 8z" fill="url(#vya0)"/><path d="M170 720l-7-5-8-7 9-9 14 11z" fill="url(#vcg2)"/><path d="M155 708l-4-4-5-5 10-9 8 9z" fill="#41ffbe"/><path d="M146 699l-5-5-4-6 10-8 9 10z" fill="url(#vgy0)"/><path d="M137 688l-4-5-4-6 11-7 7 10z" fill="#fff200"/><path d="M129 677l-4-7-4-8 11-5 8 13z" fill="url(#vcg2)"/><path d="M121 662l-3-5-2-5 12-5 4 10z" fill="#ddff22"/><path d="M116 652l-3-8-3-8 13-4 5 15z" fill="url(#vgy2)"/><path d="M110 636l-1-5-1-5 12-3 3 9z" fill="#b1ff4f"/><path d="M108 626l-2-9-1-10 12-1 3 17z" fill="url(#vgc2)"/><path d="M105 607l-1-8 0-8 12 0 1 15z" fill="#f9ff06"/><path d="M104 591l0-7 0-6 13 1-1 12z" fill="#ffeb00"/><path d="M104 578l0-6 1-5 13 2-1 10z" fill="url(#vbc2)"/><path d="M105 567l1-9 2-8 13 3-3 16z" fill="url(#vya0)"/><path d="M108 550l2-7 2-6 12 4-3 12z" fill="#18fde6"/><path d="M112 537l3-8 4-9 11 6-6 15z" fill="url(#vyg2)"/><path d="M119 520l2-4 2-4 11 6-4 8z" fill="url(#vgy1)"/><path d="M123 512l3-6 4-7 11 7-7 12z" fill="url(#vgy2)"/><path d="M130 499l5-6 4-6 10 8-8 11z" fill="url(#vyg0)"/><path d="M139 487l5-6 6-6 9 9-10 11z" fill="url(#vbc2)"/><path d="M150 475l6-6 7-6 8 10-12 11z" fill="url(#vya1)"/><path d="M163 463l5-4 5-4 7 11-9 7z" fill="url(#vya1)"/><path d="M173 455l6-4 7-4 6 11-12 8z" fill="#00a4ff"/><path d="M186 447l5-2 5-3 5 12-9 4z" fill="url(#vgc3)"/><path d="M196 442l7-3 7-3 4 12-13 6z" fill="#89ff77"/><path d="M210 436l7-2 8-3 3 13-14 4z" fill="url(#vcg0)"/><path d="M225 431l8-1 8-2 2 13-15 3z" fill="url(#vgc3)"/><path d="M241 428l7-1 8-1 1 13-14 2z" fill="url(#vgy3)"/><path d="M256 426l7 0 7 0-1 13-12 0z" fill="url(#vya0)"/><path d="M270 426l6 0 6 1-1 13-12-1z" fill="url(#vya2)"/><path d="M282 427l9 1 8 1-3 13-15-2z" fill="url(#vbc1)"/><path d="M331 724l-6 3-7 3-4-12 12-5z" fill="url(#vcg3)"/><path d="M318 730l-8 3-9 2-3-12 16-5z" fill="url(#vcb0)"/><path d="M301 735l-8 2-8 1-2-13 15-2z" fill="url(#vcg2)"/><path d="M285 738l-7 1-8 0 0-13 13-1z" fill="#f1ff0e"/><path d="M270 739l-5 0-6 0 1-13 10 0z" fill="url(#vcb1)"/><path d="M259 739l-9-1-10-1 2-13 18 2z" fill="#b8ff48"/><path d="M240 737l-5-1-5-1 3-13 9 2z" fill="url(#vyg1)"/><path d="M230 735l-8-2-7-3 4-12 14 4z" fill="#00bdff"/><path d="M215 730l-9-4-8-4 5-11 16 7z" fill="#aeff51"/><path d="M198 722l-6-3-6-3 7-11 10 6z" fill="#ecff13"/><path d="M186 716l-7-5-8-6 9-10 13 10z" fill="url(#vgy3)"/><path d="M171 705l-5-4-5-5 9-9 10 8z" fill="#a7ff59"/><path d="M161 696l-5-6-5-5 10-8 9 10z" fill="url(#vya1)"/><path d="M151 685l-5-6-4-6 10-7 9 11z" fill="#28ffd7"/><path d="M142 673l-5-8-4-7 11-6 8 14z" fill="#ffea00"/><path d="M133 658l-3-7-3-6 12-5 5 12z" fill="#90ff70"/><path d="M127 645l-2-5-2-5 13-4 3 9z" fill="url(#vya0)"/><path d="M123 635l-2-10-3-11 13-2 5 19z" fill="#e5ff1b"/><path d="M118 614l0-5-1-6 13-1 1 10z" fill="url(#vyg0)"/><path d="M117 603l-1-8 0-7 13 0 1 14z" fill="#ffee00"/><path d="M116 588l1-9 1-9 12 1-1 17z" fill="url(#vya1)"/><path d="M118 570l1-8 1-8 13 3-3 14z" fill="#91ff6f"/><path d="M120 554l2-7 2-6 12 4-3 12z" fill="#afff51"/><path d="M124 541l3-7 3-7 11 5-5 13z" fill="#fffb00"/><path d="M130 527l2-5 3-5 11 6-5 9z" fill="#87ff79"/><path d="M135 517l4-7 5-7 10 7-8 13z" fill="#a8ff58"/><path d="M144 503l5-8 6-7 10 9-11 13z" fill="#ebff14"/><path d="M155 488l6-6 6-5 8 9-10 11z" fill="url(#vya1)"/><path d="M167 477l4-4 4-3 8 10-8 6z" fill="url(#vcb2)"/><path d="M175 470l7-5 8-5 7 11-14 9z" fill="#ffb200"/><path d="M190 460l5-3 5-3 6 12-9 5z" fill="#faff05"/><path d="M200 454l9-4 9-3 4 12-16 7z" fill="#fffd00"/><path d="M218 447l6-2 6-2 3 13-11 3z" fill="url(#vgc0)"/><path d="M230 443l6-1 7-1 2 12-12 3z" fill="url(#vya0)"/><path d="M243 441l8-1 8-1 1 13-15 1z" fill="url(#vyg1)"/><path d="M259 439l9 0 8 0 0 13-16 0z" fill="#e3ff1c"/><path d="M276 439l8 1 7 1-2 12-13-1z" fill="url(#voy0)"/><path d="M291 441l8 1 8 2-3 13-15-4z" fill="url(#vya2)"/><path d="M307 444l6 2 7 3-5 11-11-3z" fill="url(#vcb0)"/><path d="M320 449l7 3 8 3-6 12-14-7z" fill="url(#vbc1)"/><path d="M335 455l6 4 6 3-7 11-11-6z" fill="#c3ff3c"/><path d="M347 462l7 5 7 5-8 10-13-9z" fill="url(#vya2)"/><path d="M361 472l4 4 4 3-9 10-7-7z" fill="#32ffcd"/><path d="M369 479l7 7 6 7-10 8-12-12z" fill="#feff01"/><path d="M382 493l5 6 4 6-10 7-9-11z" fill="url(#vbc2)"/><path d="M391 505l3 5 3 5-11 7-5-10z" fill="url(#vya0)"/><path d="M397 515l5 9 4 9-12 5-8-16z" fill="url(#vcg3)"/><path d="M406 533l2 7 3 7-13 3-4-12z" fill="url(#vya1)"/><path d="M411 547l2 8 1 8-12 3-4-16z" fill="#fffb00"/><path d="M414 563l1 6 1 5-13 1-1-9z" fill="#e4ff1c"/><path d="M416 574l1 8 0 8-13 0-1-15z" fill="#ffee00"/><path d="M417 590l-1 9-1 9-12-1 1-17z" fill="#29ffd7"/><path d="M415 608l-1 8-1 8-13-3 3-14z" fill="url(#vgc0)"/><path d="M413 624l-2 6-2 7-12-4 3-12z" fill="#90ff70"/><path d="M409 637l-2 6-3 6-12-5 5-11z" fill="#afff51"/><path d="M404 649l-4 8-4 8-11-7 7-14z" fill="url(#vya1)"/><path d="M396 665l-3 6-4 5-11-7 7-11z" fill="#eaff15"/><path d="M389 676l-5 6-5 6-10-8 9-11z" fill="url(#vgc2)"/><path d="M379 688l-5 6-6 6-9-10 10-10z" fill="#ffd700"/><path d="M368 700l-7 5-6 6-8-11 12-10z" fill="#35ffca"/><path d="M355 711l-4 2-4 3-7-11 7-5z" fill="#88ff78"/><path d="M347 716l-8 4-8 4-5-11 14-8z" fill="url(#vya1)"/><path d="M325 699l-3-5-7-2-6 10 1 3 13 6z" fill="url(#vcg3)"/><path d="M235 506l-2 5 2 5 9 4 7-15-5-4z" fill="#c4ff3c"/><path d="M275 462l-6 7 2 8 10 5 10-9-2-4z" fill="#f8ff07"/><path d="M355 606l6-7-1-7-8-5-3 0-7 7 3 11z" fill="#f5ff0a"/><path d="M302 662l7 5 7-2 1-13-7-2-8 5z" fill="url(#vya2)"/><path d="M249 611l-6-4-5 1-5 7 3 8 12-2z" fill="#17fce7"/><path d="M247 525l-3-5-9-4-9 11 2 5 4 2z" fill="#f8ff07"/><path d="M134 582l10-10-3-4-10-2 0 3-1 3 0 4-1 3 0 3 0 0z" fill="#f5ff0a"/><path d="M304 500l-12-6-2 0-3 12 8 6z" fill="url(#vyg3)"/><path d="M209 647l11 1 5-7-14-6-3 4z" fill="url(#vgc1)"/><path d="M209 526l-11-5-3 4 2 11 1 2 12-7 1-1z" fill="url(#vyg0)"/><path d="M150 535l8-1-1-12-8-4 0 0-2 3-2 3-1 3-1 2z" fill="#b8ff48"/><path d="M243 470l7 2 6-6 0-14-3 0-3 1-4 0-3 1-3 0-3 1z" fill="#fffc00"/><path d="M367 568l-6 5 6 13 6-1 2-12z" fill="url(#vgy3)"/><path d="M376 601l9 1 5-11-4-5-11 1z" fill="#ebff14"/><path d="M272 559l9 12 2 1 4-4 1-12-6-3z" fill="url(#vyg2)"/><path d="M349 536l-9 12 6 5 13-6 0-1-6-8z" fill="#a1ff5f"/><path d="M359 547l-13 6 1 5 5 4 7-3z" fill="url(#vya1)"/><path d="M161 579l10-1 2-9-8-5-6 10z" fill="#97ff69"/><path d="M145 557l1-1-3-10-6-3-1 3-1 3-1 3-1 4 0 0z" fill="url(#vgc1)"/><path d="M249 653l-2-4-10-3-4 11 10 5z" fill="#e0ff1f"/><path d="M313 684l-6-7-11-1-1 1-1 14 18-4z" fill="url(#vyg1)"/><path d="M308 523l7 0 5-8-7-9-8 10z" fill="url(#vgy1)"/><path d="M236 695l-1 11 10 4 3 0 2-11-9-7z" fill="url(#vgc1)"/><path d="M269 633l1 11 7 4 4-2 2-11-8-5z" fill="url(#vgc1)"/><path d="M214 671l-2-9-6-3-9 7 0 9 10 4z" fill="#c3ff3d"/><path d="M297 666l-10-5-5 3 0 1 3 10 10 2 1-1z" fill="url(#vyg3)"/><path d="M205 512l3 1 6-8-11-7-3 5z" fill="#c1ff3e"/><path d="M174 624l7-5-4-13-9 0-6 13z" fill="#ffeb00"/><path d="M159 548l4-6-1-6-4-2-8 1-1 7z" fill="#95ff6b"/><path d="M301 530l6 7 6 0 7-5-5-9-7 0z" fill="url(#voy0)"/><path d="M188 510l10 8 7-6-5-9-10 2z" fill="url(#vcg3)"/><path d="M257 658l-8-5-6 9 1 5 8 2z" fill="#ccff34"/><path d="M196 590l-2 16 2 3 13-7-1-3-11-9z" fill="#e8ff18"/><path d="M205 692l3-9-1-4-10-4-7 5 1 9 12 4z" fill="#e2ff1d"/><path d="M369 647l-2 2 0 0 12 19 2-3 2-2 1-3 2-3 2-3 1-3 2-3 0-1z" fill="url(#vcg0)"/><path d="M215 590l7 1 5-10-2-6-15 4 0 3z" fill="#dbff24"/><path d="M223 706l8 2 4-2 1-11-12-4-4 5 0 6z" fill="#8cff74"/><path d="M207 491l-1-9-12-1-1 9 10 5z" fill="#b1ff4f"/><path d="M354 674l7-6-2-11-11 0-3 9z" fill="url(#vya1)"/><path d="M171 663l-1-5-4-5-15 0-4 3 0 1 2 3 1 3 2 2 2 3 2 3 1 1z" fill="url(#vyg2)"/><path d="M390 528l-1-1-1-3-2-3-2-3 0 0-16 6-1 1 4 8 8 3z" fill="#aeff52"/><path d="M225 473l9 3 9-6-6-15-1 0-3 1-3 1-3 1-4 1 0 0z" fill="#81ff7f"/><path d="M328 515l4 3 6 0 6-7-6-9-8 3z" fill="url(#vbc2)"/><path d="M269 520l-1-3-7-3-10 11 10 6z" fill="#88ff77"/><path d="M290 619l-1-11-3-3-13 4-2 6 6 7z" fill="url(#vyg0)"/><path d="M222 526l-3-8-8-1-2 9 2 4z" fill="url(#vgy0)"/><path d="M241 556l-2 12 6 5 4-1 7-11-3-7z" fill="#fff400"/><path d="M286 605l-1-7-13-7-4 9 5 9z" fill="#46ffb9"/><path d="M391 560l-6 6-1 5 4 4 7 0 8-5-1-1 0-3-1-4 0-2z" fill="url(#vyg3)"/><path d="M231 708l-8-2-5 12 2 0 3 1 4 1 3 1 1 1z" fill="url(#vyg3)"/><path d="M315 481l1-5-11-6-8 5 2 9 10 4z" fill="url(#vyg2)"/><path d="M279 680l-6 1-3 4 6 12 2 0 8-5z" fill="url(#vbc1)"/><path d="M285 523l-7-16-1 0-9 10 1 3 9 6z" fill="url(#vcg0)"/><path d="M225 641l0 0-5 7 2 9 6 3 5-3 4-11-2-2z" fill="url(#vya2)"/><path d="M294 454l-1 0-3 0-3-1-4 0-3-1-3 0-2 0 0 10 14 7z" fill="url(#vcb1)"/><path d="M206 659l6 3 10-5-2-9-11-1-5 6z" fill="#2dffd2"/><path d="M144 572l3 1 4-2 3-8-6-7-2 0-1 1-4 11z" fill="#f9ff06"/><path d="M290 540l0 0 2-5-7-12 0 0-7 3-1 7z" fill="#fbff04"/><path d="M321 473l4-8-3-2-3-1-3-1-3-1-3-1-3-1-2 12 11 6z" fill="url(#vya1)"/><path d="M367 586l-7 6 1 7 12 4 3-2-1-14-2-2z" fill="url(#vya3)"/><path d="M251 525l-3 1 0 14 8 6 1-1 5-13-1-1z" fill="#34ffcb"/><path d="M154 600l7-3 1-3-4-9-8-1-5 4 0 8z" fill="#eeff11"/><path d="M220 696l4-5-1-5-15-3-3 9z" fill="url(#vcg0)"/><path d="M241 692l9 7 9-3 1-8-6-7-11 3z" fill="#fff900"/><path d="M336 683l2-15-6-3-10 5 0 7 12 6 2 0z" fill="url(#vya3)"/><path d="M306 604l0-1-1-6-13-8-7 9 1 7 3 3z" fill="url(#vcg0)"/><path d="M297 666l-1 10 11 1 2-10-7-5z" fill="url(#vbc2)"/><path d="M290 494l-8-5-10 9 5 9 1 0 9-1z" fill="#aaff55"/><path d="M384 548l7 12 10 0 0-1-1-3-1-4-1-3-1-3-1-2z" fill="#e1ff1f"/><path d="M198 538l1 6 18 0-7-13z" fill="#36ffc9"/><path d="M322 677l-9 7-1 3 3 5 7 2 12-11z" fill="#e3ff1c"/><path d="M322 498l-13-9-5 11 9 6 9-8z" fill="url(#vyg0)"/><path d="M245 573l-6-5-13 1-1 6 2 6 13 5z" fill="url(#vbc2)"/><path d="M317 652l1 0 4-14-4-6-11 0-3 4 6 14z" fill="url(#vbc3)"/><path d="M181 597l0 6 13 3 2-16-3-2z" fill="url(#vya1)"/><path d="M197 536l-17 0-1 7 17 7 3-6-1-6z" fill="url(#vgc0)"/><path d="M344 511l-6 7 7 10 10-7-3-10z" fill="url(#vcb0)"/><path d="M320 532l0 0 8-2 4-12-4-3-8 0-5 8z" fill="url(#vyg3)"/><path d="M367 506l5-5-1-2-3-2-2-3-2-2-3-3-2-2-3-2 0-1-6 8 6 14z" fill="#45ffbb"/><path d="M195 638l-3-6-15 6 5 11 6 2 5-3z" fill="#43ffbc"/><path d="M235 506l11-5-1-10-8-3-10 6z" fill="url(#vgy2)"/><path d="M177 606l4-3 0-6-8-8-11 5-1 3 7 9z" fill="url(#vya2)"/><path d="M203 699l9 6 8-3 0-6-15-4-2 1z" fill="#2cffd3"/><path d="M341 609l4-4-3-11-11-3-4 2-3 9 4 8z" fill="#fffc00"/><path d="M313 506l0 0-9-6 0 0-9 12 0 1 10 3z" fill="#eeff11"/><path d="M254 681l2-7-4-5-8-2-6 6 1 6 4 5z" fill="#fff600"/><path d="M228 669l0-9-6-3-10 5 2 9 8 2z" fill="#36ffc9"/><path d="M217 544l-18 0-3 6 0 2 13 6 8-13 0-1z" fill="url(#vbc1)"/><path d="M151 653l15 0 1-14-10-4-1 1z" fill="#88ff78"/><path d="M162 536l10-7-3-9-2-1-10 3 1 12z" fill="#eaff15"/><path d="M356 506l-6-14-10 3-2 7 6 9 8 0z" fill="url(#vya2)"/><path d="M371 533l-4-8-2 1-12 12 6 8 4 0z" fill="#c4ff3c"/><path d="M268 672l-1-1-11 3-2 7 6 7 10-3 3-4z" fill="#0cf1ef"/><path d="M164 563l1-6-7-7-10 6 6 7z" fill="#00a6ff"/><path d="M367 506l1 18 16-6-1-3-2-2-2-3-2-3-2-3-2-2-1-1z" fill="#11f6eb"/><path d="M296 700l-3-8-7 0-8 5 6 13 9-3z" fill="#efff10"/><path d="M337 699l-12 0-2 12 1 3 1-1 3-1 3-2 3-1 3-2 3-2 2-1z" fill="#a7ff59"/><path d="M283 635l8-3 0-12-1-1-13 3-2 8z" fill="#8bff75"/><path d="M241 589l-10 8 7 11 5-1 5-14z" fill="#fff000"/><path d="M262 532l-5 13 10 2 6-5 1-6z" fill="url(#vgy2)"/><path d="M382 623l-3 5 12 18 1-1 1-3 2-4 1-3 1-3 1-3 1-3 0-1z" fill="url(#vcb0)"/><path d="M271 477l-10 10 5 9 6 2 10-9-1-7z" fill="#ffe000"/><path d="M335 638l2-11-13-8 0 0-6 13 4 6z" fill="url(#vcb0)"/><path d="M400 591l-10 0-5 11 4 5 13 2 0 0 1-3 0-4 1-3 0-3 0-4 0 0z" fill="#a3ff5c"/><path d="M236 623l-3-8-7-2-8 7 0 5 8 4 10-5z" fill="#f4ff0b"/><path d="M167 519l2 1 9-6-4-9-13-4-1 1 0 0z" fill="#ccff34"/><path d="M307 632l-3-12-13 0 0 12 7 5 6-1z" fill="url(#vya0)"/><path d="M359 546l0 1 0 12 9 5 2-3-1-12-6-3z" fill="url(#vgy1)"/><path d="M141 568l4-11-12-1-1 3 0 3-1 4 0 0z" fill="url(#vya0)"/><path d="M296 552l-8 4-1 12 14 0z" fill="#abff55"/><path d="M238 673l-10-4-6 4 2 11 15-5z" fill="url(#vcb0)"/><path d="M256 714l-8-4-3 0-5 14 3 0 3 1 4 0 3 1 3 0z" fill="url(#vcb2)"/><path d="M194 481l12 1 4-5-6-11-2 2-3 1-3 2-3 2-3 2 0 0z" fill="#e6ff19"/><path d="M247 649l2 4 8 5 4-1 2-10-9-6-1 1z" fill="#1fffe0"/><path d="M226 527l9-11-2-5-11-1-3 8 3 8z" fill="url(#vya1)"/><path d="M294 691l1-14-10-2-6 5 7 12 7 0z" fill="url(#vyg3)"/><path d="M290 619l1 1 13 0 4-6-2-10-17 4z" fill="url(#vya3)"/><path d="M248 621l-12 2 0 1 4 10 6 0 7-9z" fill="url(#vgc0)"/><path d="M400 591l4 1 0-3 0-3 0-4 0-3-1-3 0-4 0-2-8 5z" fill="url(#vgy1)"/><path d="M252 593l4-4 2-10-9-7-4 1-5 13 1 3 7 4z" fill="#82ff7e"/><path d="M332 579l-4-4-9 0-6 9 0 2 14 7 4-2z" fill="#a7ff58"/><path d="M301 530l0 0-9 5-2 5 8 8 2 0 7-11z" fill="#94ff6c"/><path d="M193 587l0 1 3 2 1 0 13-8 0-3-5-7-1 0z" fill="url(#vbc2)"/><path d="M338 502l2-7-8-7-6 2-4 8 0 0 8 7z" fill="url(#vyg1)"/><path d="M310 705l-1-3-13-2-3 7 10 12z" fill="#32ffcd"/><path d="M243 607l6 4 8-2 2-7-7-9-4 0z" fill="url(#vgy1)"/><path d="M209 558l2 5 13 2 2-12-9-8z" fill="#49ffb6"/><path d="M367 649l-8 8 2 11 15 4 1-1 2-3 0 0z" fill="#21ffde"/><path d="M181 558l12-2 3-4 0-2-17-7-3 3 0 5z" fill="url(#vcg3)"/><path d="M276 697l-6-12-10 3-1 8 7 7z" fill="#e4ff1b"/><path d="M143 546l6-4 1-7-7-6-1 1-1 3-1 3-2 4-1 3 0 0z" fill="url(#vcg0)"/><path d="M386 586l4 5 10 0-5-16-7 0z" fill="#aeff51"/><path d="M267 547l4 12 1 0 10-6-1-6-8-5z" fill="url(#vcg3)"/><path d="M274 536l-1 6 8 5 9-7-13-7z" fill="#ffb500"/><path d="M327 593l-14-7-8 11 1 6 18-1z" fill="url(#vya3)"/><path d="M273 588l-8-11-7 2-2 10 16 2z" fill="#bfff41"/><path d="M240 586l-13-5-5 10 5 6 4 0 10-8z" fill="url(#vcb3)"/><path d="M318 632l6-13-16-5-4 6 3 12z" fill="url(#vgc2)"/><path d="M167 639l8-3-1-12-12-5 0 0-5 16z" fill="url(#vgc0)"/><path d="M192 632l0-2-4-9-7-2-7 5 1 12 2 2z" fill="#ffb800"/><path d="M324 619l13 8 7-4-3-14-13 1z" fill="url(#vcb2)"/><path d="M352 562l-5-4-7 7 3 8 10-2z" fill="#e3ff1c"/><path d="M278 526l-9-6-8 11 1 1 12 4 3-3z" fill="#d0ff2f"/><path d="M385 602l-9-1-3 2-1 10 9 8 8-14z" fill="#e4ff1b"/><path d="M173 569l5-2 3-9-5-7-11 6-1 6 1 1z" fill="#4effb1"/><path d="M158 585l4 9 11-5 2-5-4-6-10 1z" fill="url(#vgc0)"/><path d="M203 498l11 7 4-1 4-11-15-2-4 4z" fill="#f7ff08"/><path d="M340 548l9-12-4-6-11 4-1 9 6 5z" fill="url(#vya3)"/><path d="M248 540l0-14-1-1-15 9 5 8z" fill="url(#voy1)"/><path d="M163 542l13 4 3-3 1-7-1-3-7-4-10 7z" fill="url(#vgy0)"/><path d="M256 466l13 3 6-7 0-10-2 0-3 0-4 0-3 0-3 0-4 0 0 0z" fill="#e8ff18"/><path d="M295 512l-8-6-9 1 7 16 0 0 7-4 3-6z" fill="#46ffba"/><path d="M175 487l-1 0-2 2-3 3-2 2-2 3-3 2-1 2 13 4 9-10z" fill="#8fff71"/><path d="M211 615l-6 3-1 8 7 5 7-6 0-5z" fill="#bcff44"/><path d="M208 639l3-4 0-4-7-5-12 4 0 2 3 6z" fill="url(#vcg0)"/><path d="M253 554l3 7 8 2 7-4-4-12-10-2-1 1z" fill="url(#vcg3)"/><path d="M187 580l-12 4-2 5 8 8 12-9 0-1z" fill="url(#vyg0)"/><path d="M281 547l1 6 6 3 8-4 2-4-8-8 0 0z" fill="#dfff21"/><path d="M245 710l-10-4-4 2 0 14 2 0 3 1 4 1 0 0z" fill="#b8ff48"/><path d="M303 719l-10-12-9 3-1 1 3 14 1 0 3-1 3 0 4-1 3-1 3-1 0 0z" fill="url(#vya2)"/><path d="M211 631l0 4 14 6 0 0 1-12-8-4z" fill="url(#vgc2)"/><path d="M279 680l6-5-3-10-14 7 5 9z" fill="url(#vgy1)"/><path d="M256 466l-6 6 4 12 7 3 10-10-2-8z" fill="#26ffd9"/><path d="M190 505l10-2 3-5 0-3-10-5-8 5z" fill="url(#vbc3)"/><path d="M240 634l-5 10 2 2 10 3 6-7-7-8z" fill="url(#vgy2)"/><path d="M210 477l-4 5 1 9 15 2 0 0-2-15z" fill="#39ffc6"/><path d="M157 522l10-3-7-17-2 2-2 3-2 3-2 3-2 2-1 3z" fill="#00a9ff"/><path d="M290 651l-9-5-4 2-2 9 7 7 5-3z" fill="url(#vgc1)"/><path d="M210 477l10 1 5-5-2-14-3 1-3 1-3 1-3 1-3 2-3 1-1 0z" fill="#f3ff0c"/><path d="M209 602l-13 7-1 4 10 5 6-3 1-10z" fill="#fff000"/><path d="M324 602l-18 1 0 1 2 10 16 5 0 0 4-9z" fill="#fcff03"/><path d="M210 579l15-4 1-6-2-4-13-2-6 9z" fill="#feff01"/><path d="M142 597l3-1 0-8-11-6-5 0 0 4 0 3 0 3 0 3z" fill="url(#vcg2)"/><path d="M345 528l0 2 4 6 4 2 12-12-10-5z" fill="url(#vcg0)"/><path d="M298 637l-7-5-8 3-2 11 9 5 2-1z" fill="url(#vya3)"/><path d="M159 574l6-10-1-1-10 0-3 8z" fill="url(#vgc0)"/><path d="M219 518l3-8-4-6-4 1-6 8 3 4z" fill="url(#vya0)"/><path d="M289 469l2 4 6 2 8-5 2-12-1 0-3-1-3-1-3-1-3-1z" fill="#f2ff0d"/><path d="M270 644l-7 3-2 10 5 3 9-3 2-9z" fill="url(#vcg3)"/><path d="M239 679l-15 5-1 2 1 5 12 4 5-3 2-8z" fill="#dbff24"/><path d="M182 514l6-4 2-5-5-10-2 0-9 10 4 9z" fill="url(#vgy3)"/><path d="M332 488l1-5-12-10-5 3-1 5 11 9z" fill="#0ef3ed"/><path d="M226 629l-1 12 10 3 5-10-4-10z" fill="url(#vcg3)"/><path d="M371 533l-8 13 6 3 12-3-2-10z" fill="url(#vbc0)"/><path d="M197 590l11 9 7-9-5-8z" fill="#a4ff5b"/><path d="M357 573l4 0 6-5 1-4-9-5-7 3 1 9z" fill="url(#vgy2)"/><path d="M282 665l0-1-7-7-9 3 1 11 1 1z" fill="url(#vcg3)"/><path d="M389 607l-8 14 1 2 17 2 1-3 1-3 0-3 1-4 0-3z" fill="url(#vbc1)"/><path d="M368 524l-1-18-11 0-4 5 3 10 10 5 2-1z" fill="#e8ff17"/><path d="M183 495l2 0 8-5 1-9-4-6-3 2-2 2-3 2-3 2-2 2-2 2z" fill="#e0ff1f"/><path d="M211 517l-3-4-3-1-7 6 0 3 11 5z" fill="url(#vgy1)"/><path d="M157 635l5-16-12-4-2 0-7 16 15 5z" fill="url(#vcb0)"/><path d="M188 621l7-8 1-4-2-3-13-3-4 3 4 13z" fill="#87ff79"/><path d="M151 653l5-17-15-5-5 2 1 2 1 3 2 4 1 3 1 3 2 3 1 3 2 2z" fill="url(#voy3)"/><path d="M261 630l-7 11 9 6 7-3-1-11z" fill="url(#vyg1)"/><path d="M346 553l-6-5-1 0-8 12 1 2 8 3 7-7z" fill="#41ffbe"/><path d="M267 671l-1-11-5-3-4 1-5 11 4 5z" fill="url(#vya3)"/><path d="M277 622l-6-7-8 2-4 9 2 4 8 3 6-3z" fill="url(#vcb2)"/><path d="M222 604l5-7-5-6-7-1-7 9 1 3 3 3z" fill="#edff12"/><path d="M343 684l-7-1 0 0 1 16 5 5 1-1 3-2 2-2 2-1z" fill="#ffed00"/><path d="M188 651l1 10 8 5 9-7-2-6-11-5z" fill="url(#vgc1)"/><path d="M194 568l-7 5 0 7 6 7 11-15z" fill="url(#vgc0)"/><path d="M333 543l1-9-6-4-8 2 6 13z" fill="#81ff7f"/><path d="M295 513l-3 6 9 11 0 0 7-7-3-7z" fill="url(#vgc2)"/><path d="M313 584l-11-6-10 7 0 4 13 8 8-11z" fill="url(#vya0)"/><path d="M245 491l9-7-4-12-7-2-9 6 3 12z" fill="url(#vgy3)"/><path d="M244 667l-1-5-10-5-5 3 0 9 10 4z" fill="#fff000"/><path d="M178 668l-7-5-14 9 1 2 2 2 2 3 3 2 2 3 2 2 11-10z" fill="#3dffc2"/><path d="M292 589l0-4-8-5-11 8-1 3 0 0 13 7z" fill="url(#vbc1)"/><path d="M273 609l-5-9-9 2-2 7 6 8 8-2z" fill="url(#vgc2)"/><path d="M361 599l-6 7 5 12 12-5 1-10z" fill="url(#vcb3)"/><path d="M292 650l-2 1-3 10 10 5 5-4 0-7z" fill="url(#vgc3)"/><path d="M391 560l-7-12 0 0-6 11 7 7z" fill="url(#voy3)"/><path d="M256 561l-7 11 9 7 7-2 1-1-2-13z" fill="#f0ff0f"/><path d="M320 515l8 0 2-10-8-7-9 8 0 0z" fill="url(#vcb0)"/><path d="M186 525l9 0 3-4 0-3-10-8-6 4z" fill="#a6ff5a"/><path d="M326 558l-12 8 5 9 9 0 4-13-1-2z" fill="#bdff43"/><path d="M182 649l-12 9 1 5 7 5 11-7-1-10z" fill="url(#vgy2)"/><path d="M316 549l-3-12-6 0-7 11 10 5z" fill="url(#vcg3)"/><path d="M343 573l-2 4 8 10 3 0 5-14-4-2z" fill="#fff600"/><path d="M321 473l12 10 8-9-1-1-3-2-3-2-3-1-3-2-3-1 0 0z" fill="url(#vyg0)"/><path d="M281 571l-15 5-1 1 8 11 11-8-1-8z" fill="#22ffdd"/><path d="M309 489l13 9 4-8-11-9-6 7z" fill="#14f9e9"/><path d="M266 576l15-5-9-12-1 0-7 4z" fill="url(#vgy2)"/><path d="M330 655l11-9 0 0-6-8-13 0-4 14z" fill="url(#vgy2)"/><path d="M372 613l-12 5-3 7 13 8 9-5 3-5-1-2z" fill="#2affd5"/><path d="M220 478l2 15 5 1 10-6-3-12-9-3z" fill="#fffe00"/><path d="M188 621l4 9 12-4 1-8-10-5z" fill="url(#vgy3)"/><path d="M195 525l-9 0-7 8 1 3 17 0z" fill="#efff10"/><path d="M307 677l6 7 9-7 0-7-6-5-7 2z" fill="#20ffdf"/><path d="M196 707l3 2 3 1 3 2 3 1 1 1 3-9-9-6z" fill="url(#vbc2)"/><path d="M339 548l-6-5-7 2-4 5 4 8 5 2z" fill="url(#vgc1)"/><path d="M254 484l-9 7 1 10 5 4 6 1 9-10-5-9z" fill="url(#vcg2)"/><path d="M396 544l0-1-1-3-2-4-1-3-1-3-1-2-11 8 2 10 3 2 0 0z" fill="#b0ff50"/><path d="M285 523l7 12 9-5-9-11z" fill="#ddff22"/><path d="M232 534l-4-2-11 12 0 1 9 8 9-3 2-8z" fill="#adff52"/><path d="M253 625l-7 9 7 8 1-1 7-11-2-4z" fill="#dfff20"/><path d="M322 670l10-5-2-10-12-3-1 0-1 13z" fill="#4dffb2"/><path d="M191 689l-8 9 2 1 2 2 3 2 3 2 3 2 0 0 7-8 0-6z" fill="#aeff51"/><path d="M345 666l3-9-7-11-11 9 2 10 6 3z" fill="#a2ff5d"/><path d="M154 600l-9-4-3 1-3 13 9 5 2 0z" fill="#0df2ee"/><path d="M322 550l-6-1-6 4 0 11 4 2 12-8z" fill="#bcff44"/><path d="M361 668l-7 6 0 4 9 9 1-1 2-2 2-3 3-2 2-3 2-2 1-2z" fill="#96ff6a"/><path d="M319 575l-5-9-4-2-9 4 1 10 11 6z" fill="url(#vgy3)"/><path d="M369 647l1-14-13-8-2 1-4 14 16 9z" fill="url(#vgy2)"/><path d="M205 572l6-9-2-5-13-6-3 4 1 12 10 4z" fill="url(#vgy2)"/><path d="M148 556l10-6 1-2-10-6-6 4 3 10z" fill="#88ff78"/><path d="M332 518l-4 12 6 4 11-4 0-2-7-10z" fill="#a7ff58"/><path d="M300 548l-2 0-2 4 5 16 0 0 9-4 0-11z" fill="#a2ff5e"/><path d="M283 711l-12 3 0 12 2 0 4 0 3 0 3-1 3 0z" fill="#26ffd9"/><path d="M226 553l-2 12 2 4 13-1 2-12-6-6z" fill="#ecff13"/><path d="M378 559l-8 2-2 3-1 4 8 5 9-2 1-5z" fill="url(#vgy1)"/><path d="M354 678l0-4-9-8-7 2-2 15 7 1z" fill="url(#vcb1)"/><path d="M169 520l3 9 7 4 7-8-4-11-4 0z" fill="url(#vgc2)"/><path d="M348 657l11 0 8-8 0 0-16-9-10 6 0 0z" fill="#eeff11"/><path d="M222 493l0 0-4 11 4 6 11 1 2-5-8-12z" fill="url(#vgc0)"/><path d="M197 675l0-9-8-5-11 7 2 8 10 4z" fill="url(#vgc2)"/><path d="M320 532l0 0-7 5 3 12 6 1 4-5z" fill="#4dffb2"/><path d="M177 638l-2-2-8 3-1 14 4 5 12-9z" fill="url(#vgy1)"/><path d="M263 617l-6-8-8 2-1 10 5 4 6 1z" fill="#00b8ff"/><path d="M210 531l7 13 0 0 11-12-2-5-4-1-11 4z" fill="#89ff76"/><path d="M226 613l7 2 5-7-7-11-4 0-5 7z" fill="url(#vya3)"/><path d="M134 582l11 6 5-4-3-11-3-1z" fill="url(#vgy1)"/><path d="M342 594l7-7-8-10-9 2-1 12z" fill="#ffee00"/><path d="M266 703l-7-7-9 3-2 11 8 4 10-4z" fill="url(#vgy2)"/><path d="M257 506l-6-1-7 15 3 5 1 1 3-1 10-11z" fill="#aeff52"/><path d="M209 714l2 1 3 1 3 1 1 1 5-12-3-4-8 3z" fill="#8eff71"/><path d="M287 568l-4 4 1 8 8 5 10-7-1-10 0 0z" fill="#f9ff06"/><path d="M224 684l-2-11-8-2-7 8 1 4 15 3z" fill="#ffce00"/><path d="M283 711l1-1-6-13-2 0-10 6 0 7 5 4z" fill="url(#vgc2)"/><path d="M150 584l8 1 3-6-2-5-8-3-4 2z" fill="#fff900"/><path d="M352 587l8 5 7-6-6-13-4 0z" fill="url(#vya3)"/><path d="M375 573l-2 12 2 2 11-1 2-11-4-4z" fill="url(#vgc1)"/><path d="M343 573l-3-8-8-3-4 13 4 4 9-2z" fill="#f8ff07"/><path d="M351 640l4-14-11-3-7 4-2 11 6 8z" fill="#c9ff36"/><path d="M334 683l-12 11 3 5 12 0-1-16z" fill="url(#vyg0)"/><path d="M162 619l0 0 6-13-7-9-7 3-4 15z" fill="#beff41"/><path d="M211 615l7 5 8-7-4-9-10 1z" fill="#a1ff5f"/><path d="M193 556l-12 2-3 9 9 6 7-5z" fill="url(#vyg2)"/><path d="M281 482l1 7 8 5 2 0 7-10-2-9-6-2z" fill="#e2ff1d"/><path d="M356 484l-2-1-3-2-3-2-2-2-3-2-2-1-8 9-1 5 8 7 10-3z" fill="url(#vya1)"/><path d="M259 602l9-2 4-9 0 0-16-2-4 4z" fill="#a1ff5f"/><path d="M204 653l5-6-1-8-13-1-2 10z" fill="#4fffb1"/><path d="M384 548l-3-2-12 3 1 12 8-2z" fill="url(#vcg3)"/><path d="M299 484l-7 10 12 6 0 0 5-11 0-1z" fill="#cfff31"/><path d="M139 610l-8 1 0 1 1 4 0 3 1 3 1 4 1 3 1 3 0 1 5-2 7-16z" fill="#e6ff19"/><path d="M248 540l-11 2-2 8 6 6 12-2 3-8z" fill="#afff51"/><path d="M310 650l-6-14-6 1-6 13 10 5z" fill="#ffef00"/><path d="M191 689l-1-9-10-4-11 10 0 0 3 3 2 2 3 2 2 2 3 2 1 1z" fill="#00cfff"/><path d="M271 714l-5-4-10 4 0 12 0 0 4 0 3 0 3 0 4 0 1 0z" fill="url(#vyg3)"/><path d="M296 700l13 2 6-10-3-5-18 4-1 1z" fill="url(#vya1)"/><path d="M175 584l12-4 0-7-9-6-5 2-2 9z" fill="#8aff76"/><path d="M139 610l3-13-13-2 0 1 0 3 1 3 0 4 1 3 0 2z" fill="#b1ff4f"/><path d="M354 678l-11 6 7 14 1-1 3-2 2-2 3-2 2-2 2-2z" fill="url(#vya2)"/><path d="M344 623l11 3 2-1 3-7-5-12-10-1-4 4z" fill="#26ffd9"/><path d="M379 628l-9 5-1 14 22 0 0-1z" fill="#f8ff07"/><path d="M268 517l9-10-5-9-6-2-9 10 4 8z" fill="#faff05"/><path d="M323 711l-13-6-7 14 0 2 3-1 4-1 3-1 3-1 3-1 3-1 2-1z" fill="#23ffdc"/><path d="M158 550l7 7 11-6 0-5-13-4-4 6z" fill="#3fffc0"/></g><circle cx="266.5" cy="589" r="163" fill="none" stroke="#888" stroke-width="0.7"/><g stroke="#2a2a2a" stroke-width="0.55" stroke-linejoin="round"><path d="M298 806l7 1 7 2-3 13-14-4z" fill="url(#vya1)"/><path d="M312 809l6 2 5 2-5 12-9-3z" fill="#0094ff"/><path d="M323 813l8 3 8 4-6 12-15-7z" fill="url(#vyg0)"/><path d="M339 820l7 4 8 4-7 11-14-7z" fill="#01e6f7"/><path d="M354 828l4 4 5 3-8 10-8-6z" fill="url(#vcb0)"/><path d="M363 835l5 4 5 4-9 10-9-8z" fill="#1effe1"/><path d="M373 843l7 7 7 7-10 8-13-12z" fill="url(#vyg3)"/><path d="M387 857l4 5 4 5-10 7-8-9z" fill="#ffc200"/><path d="M395 867l4 5 3 4-11 7-6-9z" fill="url(#vya1)"/><path d="M402 876l4 8 5 7-12 6-8-14z" fill="url(#vya2)"/><path d="M411 891l3 8 3 8-12 4-6-14z" fill="#0077ff"/><path d="M417 907l2 4 2 5-12 4-4-9z" fill="#ffaf00"/><path d="M421 916l2 9 2 9-12 2-4-16z" fill="#ffe800"/><path d="M425 934l1 7 1 6-12 2-2-13z" fill="url(#vbc2)"/><path d="M427 947l1 6 0 6-13 1 0-11z" fill="#ffcb00"/><path d="M428 959l0 7 0 8-13-1 0-13z" fill="url(#vcg1)"/><path d="M428 974l-1 9-1 10-12-3 1-17z" fill="url(#vcb2)"/><path d="M426 993l-1 5-1 5-13-3 3-10z" fill="#ff9a00"/><path d="M424 1003l-2 8-2 7-12-4 3-14z" fill="url(#vgy0)"/><path d="M420 1018l-3 7-3 8-12-5 6-14z" fill="#ff7100"/><path d="M414 1033l-3 6-3 6-11-6 5-11z" fill="#24ffdb"/><path d="M408 1045l-3 5-3 5-11-7 6-9z" fill="url(#vgy0)"/><path d="M402 1055l-5 7-5 6-10-8 9-12z" fill="#ffaf00"/><path d="M392 1068l-5 6-5 6-10-9 10-11z" fill="#3effc1"/><path d="M382 1080l-6 6-7 5-8-10 11-10z" fill="#fff100"/><path d="M369 1091l-5 4-5 4-8-10 10-8z" fill="url(#vbc0)"/><path d="M359 1099l-6 4-6 4-6-12 10-6z" fill="#ffbd00"/><path d="M347 1107l-6 3-6 3-5-12 11-6z" fill="#0076ff"/><path d="M335 1113l-8 3-8 4-5-13 16-6z" fill="#e8ff17"/><path d="M319 1120l-6 1-5 2-3-13 9-3z" fill="#0ff4ed"/><path d="M308 1123l-9 2-8 2-2-13 16-4z" fill="url(#vya0)"/><path d="M291 1127l-7 0-7 1-1-13 13-1z" fill="#15fae9"/><path d="M277 1128l-7 0-8 0 1-12 13-1z" fill="url(#voy3)"/><path d="M262 1128l-6 0-7 0 1-13 13 1z" fill="url(#vya2)"/><path d="M249 1128l-7-1-7-1 3-13 12 2z" fill="url(#vya3)"/><path d="M235 1126l-7-2-7-2 4-12 13 3z" fill="url(#vcb3)"/><path d="M221 1122l-8-2-8-3 5-12 15 5z" fill="#00a1ff"/><path d="M205 1117l-6-3-5-2 5-12 11 5z" fill="url(#vya0)"/><path d="M194 1112l-6-3-6-3 7-11 10 5z" fill="url(#vgy2)"/><path d="M182 1106l-7-5-6-4 8-10 12 8z" fill="#ffec00"/><path d="M169 1097l-8-6-7-6 9-10 14 12z" fill="url(#vcb0)"/><path d="M154 1085l-4-5-5-5 9-8 9 8z" fill="url(#vcb3)"/><path d="M145 1075l-5-5-4-5 10-8 8 10z" fill="url(#vya2)"/><path d="M136 1065l-4-6-4-5 11-7 7 10z" fill="url(#vya0)"/><path d="M128 1054l-4-8-4-7 11-6 8 14z" fill="url(#vya0)"/><path d="M120 1039l-3-5-2-6 12-5 4 10z" fill="url(#vgy3)"/><path d="M115 1028l-3-7-3-8 13-4 5 14z" fill="#24ffdb"/><path d="M109 1013l-1-6-1-5 12-3 3 10z" fill="url(#vcg2)"/><path d="M107 1002l-2-9-2-9 13-2 3 17z" fill="#b7ff48"/><path d="M103 984l0-8-1-9 13 0 1 15z" fill="#fffd00"/><path d="M102 967l0-6 1-7 13 1-1 12z" fill="url(#voy3)"/><path d="M103 954l0-5 1-6 13 2-1 10z" fill="url(#vyg0)"/><path d="M104 943l1-8 2-9 13 3-3 16z" fill="url(#vgy0)"/><path d="M107 926l2-6 2-6 12 4-3 11z" fill="#ffb000"/><path d="M111 914l3-9 4-8 11 5-6 16z" fill="url(#vyg0)"/><path d="M118 897l2-4 2-5 11 6-4 8z" fill="url(#vya1)"/><path d="M122 888l3-6 4-6 11 7-7 11z" fill="#b5ff4a"/><path d="M129 876l5-6 4-6 10 8-8 11z" fill="url(#vcg2)"/><path d="M138 864l5-6 6-6 9 9-10 11z" fill="url(#voy2)"/><path d="M149 852l6-7 7-5 8 10-12 11z" fill="url(#vya3)"/><path d="M162 840l5-4 5-4 7 10-9 8z" fill="#fff800"/><path d="M172 832l6-4 7-4 6 11-12 7z" fill="url(#vbc3)"/><path d="M185 824l5-3 5-2 5 11-9 5z" fill="#28ffd8"/><path d="M195 819l7-4 7-2 4 12-13 5z" fill="url(#vyg0)"/><path d="M209 813l7-3 8-2 3 12-14 5z" fill="url(#voy0)"/><path d="M224 808l8-2 8-1 2 12-15 3z" fill="#f9ff07"/><path d="M240 805l7-1 8-1 1 13-14 1z" fill="url(#vgc0)"/><path d="M255 803l7 0 6 0 0 12-12 1z" fill="url(#vya1)"/><path d="M268 803l7 0 6 0-1 13-12-1z" fill="#ffb400"/><path d="M281 803l9 1 8 2-3 12-15-2z" fill="url(#vbc1)"/><path d="M330 1101l-6 3-7 3-4-13 12-5z" fill="#ffed00"/><path d="M317 1107l-9 2-8 3-3-13 16-5z" fill="#ffe900"/><path d="M300 1112l-8 1-8 2-2-13 15-3z" fill="#eeff11"/><path d="M284 1115l-7 0-8 1 0-13 13-1z" fill="#ffc500"/><path d="M269 1116l-5 0-6 0 1-13 10 0z" fill="url(#vcb0)"/><path d="M258 1116l-9-1-10-2 2-12 18 2z" fill="#ff8f00"/><path d="M239 1113l-5-1-5-1 3-12 9 2z" fill="#2cffd3"/><path d="M229 1111l-8-2-8-3 5-12 14 5z" fill="url(#voy1)"/><path d="M213 1106l-8-3-9-4 6-11 16 6z" fill="url(#vbc2)"/><path d="M196 1099l-5-3-6-3 7-11 10 6z" fill="#04e9f4"/><path d="M185 1093l-7-6-8-5 8-10 14 10z" fill="url(#vyg2)"/><path d="M170 1082l-5-5-5-5 9-9 9 9z" fill="#fbff04"/><path d="M160 1072l-5-5-5-6 9-8 10 10z" fill="url(#vyg2)"/><path d="M150 1061l-5-6-4-6 10-7 8 11z" fill="url(#vcb0)"/><path d="M141 1049l-5-7-4-8 11-5 8 13z" fill="url(#voy0)"/><path d="M132 1034l-3-6-3-7 12-5 5 13z" fill="url(#vya1)"/><path d="M126 1021l-2-5-2-5 13-4 3 9z" fill="#99ff67"/><path d="M122 1011l-2-10-3-10 13-2 5 18z" fill="url(#vcb1)"/><path d="M117 991l-1-6 0-6 13-1 1 11z" fill="url(#vcg0)"/><path d="M116 979l-1-7 0-7 13 0 1 13z" fill="#f4ff0b"/><path d="M115 965l1-10 0-9 13 2-1 17z" fill="#b2ff4d"/><path d="M116 946l2-8 1-7 13 3-3 14z" fill="url(#vbc2)"/><path d="M119 931l2-7 2-7 12 4-3 13z" fill="url(#vbc2)"/><path d="M123 917l3-7 3-7 11 6-5 12z" fill="url(#voy3)"/><path d="M129 903l2-5 3-4 11 6-5 9z" fill="url(#vcg0)"/><path d="M134 894l4-8 4-7 11 8-8 13z" fill="url(#vya2)"/><path d="M142 879l6-7 6-7 9 8-10 14z" fill="url(#vya3)"/><path d="M154 865l6-6 6-6 8 10-11 10z" fill="url(#vya3)"/><path d="M166 853l4-3 4-4 8 11-8 6z" fill="url(#vyg1)"/><path d="M174 846l7-5 8-5 6 11-13 10z" fill="url(#vgc3)"/><path d="M189 836l5-3 5-2 6 11-10 5z" fill="#34ffcc"/><path d="M199 831l9-4 8-4 5 13-16 6z" fill="url(#vcg0)"/><path d="M216 823l7-1 6-2 3 12-11 4z" fill="url(#vbc0)"/><path d="M229 820l6-2 7-1 2 13-12 2z" fill="#00a5ff"/><path d="M242 817l8-1 8-1 0 13-14 2z" fill="url(#vyg0)"/><path d="M258 815l9 0 8 1 0 12-17 0z" fill="#ebff14"/><path d="M275 816l8 0 7 1-2 13-13-2z" fill="url(#vbc1)"/><path d="M290 817l8 2 8 2-3 12-15-3z" fill="url(#vgc0)"/><path d="M306 821l6 2 7 2-5 12-11-4z" fill="url(#vya0)"/><path d="M319 825l7 3 8 4-6 11-14-6z" fill="#f9ff06"/><path d="M334 832l6 3 6 4-7 10-11-6z" fill="url(#voy0)"/><path d="M346 839l7 5 7 5-8 10-13-10z" fill="#f7ff08"/><path d="M360 849l4 3 4 4-9 9-7-6z" fill="#00a8ff"/><path d="M368 856l7 7 6 7-10 8-12-13z" fill="url(#vbc0)"/><path d="M381 870l5 6 4 6-11 7-8-11z" fill="url(#vya0)"/><path d="M390 882l3 5 3 5-11 6-6-9z" fill="#009bff"/><path d="M396 892l5 9 4 9-12 4-8-16z" fill="url(#vyg3)"/><path d="M405 910l2 6 3 7-13 4-4-13z" fill="#fff100"/><path d="M410 923l2 8 1 9-12 2-4-15z" fill="url(#vgc3)"/><path d="M413 940l1 5 1 5-13 2-1-10z" fill="#8aff76"/><path d="M415 950l0 9 1 8-13 0-1-15z" fill="#92ff6e"/><path d="M416 967l-1 9-1 9-12-2 1-16z" fill="#fbff04"/><path d="M414 985l-1 8-1 7-13-3 3-14z" fill="#31ffcf"/><path d="M412 1000l-2 7-2 6-12-4 3-12z" fill="#ff7800"/><path d="M408 1013l-2 7-3 6-12-5 5-12z" fill="url(#vcb3)"/><path d="M403 1026l-4 8-4 7-11-6 7-14z" fill="url(#vyg0)"/><path d="M395 1041l-4 6-3 6-11-8 7-10z" fill="url(#voy3)"/><path d="M388 1053l-5 6-5 6-10-9 9-11z" fill="url(#vbc2)"/><path d="M378 1065l-6 6-5 5-9-9 10-11z" fill="url(#vbc1)"/><path d="M367 1076l-7 6-6 5-8-10 12-10z" fill="#ffbd00"/><path d="M354 1087l-4 3-4 2-7-10 7-5z" fill="#a5ff5a"/><path d="M346 1092l-8 5-8 4-5-12 14-7z" fill="#ffb500"/><path d="M324 1075l-3-5-7-2-6 10 1 3 13 7z" fill="#f8ff07"/><path d="M234 882l-2 5 2 6 9 3 7-14-5-5z" fill="url(#voy3)"/><path d="M274 839l-6 7 2 8 10 4 10-9-2-4z" fill="#0085ff"/><path d="M354 982l6-6-1-8-8-4-3 0-7 7 3 10z" fill="url(#vbc2)"/><path d="M301 1039l7 5 7-2 1-14-7-1-8 5z" fill="#00acff"/><path d="M248 988l-6-4-5 1-5 7 3 8 12-3z" fill="url(#voy0)"/><path d="M246 901l-3-5-9-3-9 11 2 5 4 2z" fill="url(#vya2)"/><path d="M132 958l11-9-3-5-10-1-1 2 0 4 0 3-1 3 0 4 0 0z" fill="#fffb00"/><path d="M303 877l-12-7-2 0-3 12 8 6z" fill="#ffb200"/><path d="M208 1023l10 2 6-8-14-6-3 5z" fill="#14f9e9"/><path d="M207 903l-10-5-3 4 2 11 1 1 12-7 0-1z" fill="#13f8ea"/><path d="M148 912l9-2-1-11-8-4 0 0-2 3-2 3-1 3-1 2z" fill="#ffe400"/><path d="M242 847l7 1 6-6 0-13-3 0-3 0-4 1-3 0-3 1-3 0z" fill="url(#vya3)"/><path d="M366 944l-6 5 6 13 6 0 2-12z" fill="url(#vbc3)"/><path d="M375 978l9 0 5-10-5-5-10 0z" fill="#ffbc00"/><path d="M271 936l9 12 2 0 4-4 0-12-5-2z" fill="#ffa700"/><path d="M348 913l-10 11 7 5 13-6 0 0-6-9z" fill="url(#vyg0)"/><path d="M358 923l-13 6 1 6 5 3 7-3z" fill="url(#vya0)"/><path d="M160 956l10-1 2-10-8-4-6 10z" fill="url(#vya1)"/><path d="M144 933l1 0-3-11-6-2-1 2-1 4-1 3-1 3 0 0z" fill="url(#vya1)"/><path d="M248 1030l-2-5-10-2-4 10 10 6z" fill="url(#vya2)"/><path d="M312 1061l-6-7-12-1 0 0-1 15 18-5z" fill="url(#voy3)"/><path d="M307 899l7 1 5-8-7-9-9 10z" fill="url(#vcb2)"/><path d="M235 1071l-1 12 10 4 3-1 2-11-9-7z" fill="url(#vya3)"/><path d="M268 1009l1 12 7 3 4-1 2-11-8-6z" fill="#008eff"/><path d="M213 1047l-3-8-5-3-9 7 0 8 9 4z" fill="url(#vya3)"/><path d="M296 1043l-10-5-5 3 0 0 3 11 10 1 0 0z" fill="#ffb400"/><path d="M203 889l4 0 6-7-11-7-3 4z" fill="url(#vgy2)"/><path d="M172 1000l8-5-4-12-9 0-7 13z" fill="#fffc00"/><path d="M157 924l5-5-1-6-4-3-9 2-1 6z" fill="url(#vya0)"/><path d="M300 906l5 7 6 1 7-6-4-8-7-1z" fill="#fffa00"/><path d="M187 886l10 9 6-6-4-10-10 3z" fill="url(#vya0)"/><path d="M256 1034l-8-4-6 9 1 4 8 2z" fill="url(#vya1)"/><path d="M194 966l-2 17 2 2 14-6-1-4-11-9z" fill="#1bffe4"/><path d="M204 1068l3-9-2-4-9-4-8 6 1 8 13 5z" fill="#a6ff5a"/><path d="M368 1023l-2 3 0 0 12 19 2-3 1-3 2-3 2-3 2-3 1-3 2-3 0 0z" fill="url(#vya0)"/><path d="M214 967l7 0 5-10-3-6-14 5 0 3z" fill="#ffe500"/><path d="M222 1083l8 2 4-2 1-12-12-3-4 4 0 6z" fill="#e9ff16"/><path d="M206 868l-1-9-12-1-2 9 11 4z" fill="url(#vyg0)"/><path d="M353 1051l7-6-2-12-11 1-3 8z" fill="url(#voy1)"/><path d="M170 1039l-1-5-5-5-15 1-4 2 1 1 2 3 1 3 2 3 2 3 2 2 1 2z" fill="url(#vcb1)"/><path d="M389 905l-1-1-1-3-2-3-2-3 0 0-16 6-1 1 4 7 8 4z" fill="url(#vyg1)"/><path d="M224 850l9 2 9-5-6-16-1 0-3 1-3 1-3 1-4 1 0 0z" fill="#0ef3ee"/><path d="M327 891l4 4 6 0 6-8-6-9-8 4z" fill="url(#vcg2)"/><path d="M268 897l-1-4-7-3-10 12 10 5z" fill="#bcff43"/><path d="M289 995l-1-10-3-3-13 3-2 6 6 7z" fill="#ffbe00"/><path d="M221 902l-3-8-8-1-3 10 2 3z" fill="url(#vbc3)"/><path d="M240 932l-2 12 6 6 4-1 7-11-3-8z" fill="#00a5ff"/><path d="M285 982l-1-8-13-6-4 9 5 8z" fill="#ff8a00"/><path d="M390 937l-6 6-1 5 4 3 7 0 7-4 0-2 0-3-1-3 0-2z" fill="url(#vya3)"/><path d="M230 1085l-8-2-5 11 2 1 3 1 4 1 3 1 1 0z" fill="url(#voy2)"/><path d="M314 857l1-4-11-6-9 4 3 9 10 5z" fill="url(#vya0)"/><path d="M278 1057l-6 0-3 5 5 11 3 1 8-6z" fill="url(#vyg2)"/><path d="M284 900l-7-16-1 0-9 9 1 4 9 6z" fill="#7bff85"/><path d="M224 1017l0 0-6 8 2 8 7 3 5-3 4-10-2-3z" fill="url(#vya3)"/><path d="M292 831l0 0-3-1-3 0-4-1-3 0-3-1-2 0 0 11 14 6z" fill="url(#vya1)"/><path d="M205 1036l5 3 10-6-2-8-10-2-5 6z" fill="url(#vcg2)"/><path d="M143 949l2 1 5-2 3-8-6-7-2 0-1 0-4 11z" fill="url(#vcb1)"/><path d="M289 916l0 0 2-5-7-11 0 0-7 3-1 6z" fill="url(#voy1)"/><path d="M320 849l4-8-3-1-3-1-3-2-3-1-4-1-2-1-2 13 11 6z" fill="url(#vya2)"/><path d="M366 962l-7 6 1 8 12 4 3-2-1-15-2-1z" fill="#1cffe3"/><path d="M250 902l-3 0 0 14 8 6 1 0 5-13-1-2z" fill="url(#vgc3)"/><path d="M153 977l7-3 1-4-4-9-8-1-5 5-1 7z" fill="#ff7700"/><path d="M219 1072l4-4-1-6-15-3-3 9z" fill="url(#vya2)"/><path d="M240 1068l9 7 8-3 2-7-6-8-11 4z" fill="#ffa300"/><path d="M335 1059l2-14-6-4-10 5-1 7 13 6 2 0z" fill="url(#vcg3)"/><path d="M305 980l0 0-1-7-13-8-7 9 1 8 3 3z" fill="url(#vbc0)"/><path d="M296 1043l-2 10 12 1 2-10-7-5z" fill="url(#vyg1)"/><path d="M289 870l-8-5-10 9 5 10 1 0 9-2z" fill="url(#vbc3)"/><path d="M383 924l7 13 10 0-1-2 0-3-1-3-1-3-1-4-1-1z" fill="#ff8300"/><path d="M197 914l1 6 18 1-7-14z" fill="url(#voy0)"/><path d="M320 1053l-8 8-1 2 3 5 7 2 12-11z" fill="url(#vya0)"/><path d="M320 874l-12-9-5 12 9 6 8-9z" fill="url(#vgy3)"/><path d="M244 950l-6-6-13 1-2 6 3 6 13 5z" fill="#ffac00"/><path d="M316 1028l1 0 4-13-5-7-10 1-3 4 6 14z" fill="url(#vya3)"/><path d="M180 973l0 6 12 4 2-17-2-2z" fill="url(#vyg1)"/><path d="M196 913l-17 0-1 6 17 8 3-7-1-6z" fill="url(#vya3)"/><path d="M343 887l-6 8 7 10 10-7-3-11z" fill="#fff500"/><path d="M318 908l1 0 8-2 4-11-4-4-8 1-5 8z" fill="#9fff60"/><path d="M366 882l5-4-2-2-2-3-2-2-2-3-3-2-2-2-3-3-1 0-5 8 6 14z" fill="url(#vgc3)"/><path d="M194 1014l-3-6-15 6 5 11 6 2 5-3z" fill="url(#voy3)"/><path d="M234 882l11-5-1-9-9-3-9 5z" fill="url(#vbc3)"/><path d="M176 983l4-4 0-6-8-7-11 4-1 4 7 9z" fill="url(#vbc1)"/><path d="M202 1075l9 6 8-3 0-6-15-4-2 2z" fill="#e4ff1b"/><path d="M340 985l4-4-3-10-11-4-4 3-3 8 4 8z" fill="#0063ff"/><path d="M312 883l0 0-9-6 0 0-9 11 0 1 9 4z" fill="#f7ff08"/><path d="M253 1057l2-6-4-6-8-2-6 7 0 6 5 5z" fill="url(#vya1)"/><path d="M227 1045l0-9-7-3-10 6 3 8 8 3z" fill="url(#vya3)"/><path d="M216 921l-18-1-3 7 0 1 13 7 8-13 0-1z" fill="url(#voy0)"/><path d="M149 1030l15-1 2-13-10-4-2 0z" fill="#eeff11"/><path d="M161 913l10-8-3-8-2-1-10 3 1 11z" fill="url(#vgy1)"/><path d="M355 883l-6-14-10 3-2 6 6 9 8 0z" fill="#ff9e00"/><path d="M370 909l-4-7-2 0-12 12 6 9 4-1z" fill="url(#vyg1)"/><path d="M267 1048l-1 0-11 3-2 6 6 8 10-3 3-5z" fill="url(#vyg3)"/><path d="M163 939l1-5-7-8-10 7 6 7z" fill="#ff9a00"/><path d="M366 882l1 19 16-6-2-3-1-3-2-3-2-2-2-3-2-3-1 0z" fill="#f9ff06"/><path d="M295 1076l-3-7-7-1-8 6 6 13 8-3z" fill="url(#voy3)"/><path d="M336 1075l-12 0-2 13 1 2 1 0 3-2 3-1 3-2 3-2 3-1 2-2z" fill="#0071ff"/><path d="M282 1012l8-3 0-12-1-2-13 3-2 8z" fill="url(#vya2)"/><path d="M240 965l-10 9 7 11 5-1 5-14z" fill="url(#vcb1)"/><path d="M261 909l-5 13 10 2 6-5 1-6z" fill="#34ffcb"/><path d="M380 1000l-2 4 12 19 1-2 1-3 2-3 1-3 1-3 1-4 1-3 0 0z" fill="#8dff73"/><path d="M270 854l-10 9 5 10 6 1 10-9-1-7z" fill="url(#vyg1)"/><path d="M334 1014l2-10-13-9 0 0-7 13 5 7z" fill="#fff400"/><path d="M399 967l-10 1-5 10 4 6 13 2 0 0 1-4 0-3 0-3 1-4 0-3 0 0z" fill="url(#voy2)"/><path d="M235 1000l-3-8-7-2-9 6 1 5 8 5 9-5z" fill="#ffc000"/><path d="M166 896l2 1 9-7-4-8-13-5-1 1 0 1z" fill="url(#vyg0)"/><path d="M306 1009l-3-12-13 0 0 12 7 5 6-1z" fill="url(#voy2)"/><path d="M358 923l0 0 0 12 9 5 2-3-2-12-5-3z" fill="url(#vgc3)"/><path d="M140 944l4-11-12-1-1 3 0 4-1 3 0 1z" fill="url(#voy1)"/><path d="M294 929l-8 3 0 12 14 0z" fill="#ffc400"/><path d="M237 1050l-10-5-6 5 2 11 14-5z" fill="url(#vyg2)"/><path d="M255 1091l-8-5-3 1-5 13 3 1 3 0 4 1 3 0 3 0z" fill="#0df2ee"/><path d="M193 858l12 1 4-6-6-10-2 1-3 2-3 2-3 1-3 2 0 1z" fill="#ff8100"/><path d="M246 1025l2 5 8 4 4-1 2-9-9-6-1 0z" fill="url(#vbc3)"/><path d="M225 904l9-11-2-6-11 0-3 7 3 8z" fill="url(#vcb0)"/><path d="M293 1068l1-15-10-1-6 5 7 11 7 1z" fill="url(#vya1)"/><path d="M289 995l1 2 13 0 4-6-2-11-17 5z" fill="url(#vya2)"/><path d="M247 997l-12 3-1 1 5 9 6 1 6-10z" fill="url(#vya2)"/><path d="M399 967l4 2 0-3 0-4 0-3-1-4 0-3 0-3-1-2-7 4z" fill="url(#vya1)"/><path d="M251 970l4-5 2-9-9-7-4 1-5 12 1 3 7 5z" fill="url(#vya2)"/><path d="M331 956l-4-5-9 0-6 10 0 1 14 8 4-3z" fill="url(#vyg3)"/><path d="M300 906l0 0-9 5-2 5 8 9 2-1 6-11z" fill="#00a3ff"/><path d="M192 963l0 1 2 2 2 0 13-7 0-3-5-8-1 0z" fill="#00b2ff"/><path d="M337 878l2-6-8-8-6 3-5 7 0 0 9 8z" fill="url(#vyg0)"/><path d="M309 1081l-1-3-13-2-4 8 11 11z" fill="#fffc00"/><path d="M242 984l6 4 8-2 2-8-7-8-4 0z" fill="#00a3ff"/><path d="M208 935l2 4 13 3 2-13-9-7z" fill="#fbff04"/><path d="M366 1026l-8 7 2 12 15 4 1-2 2-2 0 0z" fill="url(#vcg0)"/><path d="M180 935l12-2 3-5 0-1-17-8-3 3 0 6z" fill="url(#vyg3)"/><path d="M274 1073l-5-11-10 3-2 7 8 8z" fill="#ffe400"/><path d="M142 922l5-4 1-6-6-6-1 1-1 3-2 3-1 3-1 3 0 1z" fill="url(#vya2)"/><path d="M384 963l5 5 10-1-5-16-7 0z" fill="url(#vcb0)"/><path d="M266 924l4 12 1 0 10-6-1-7-8-4z" fill="url(#vya1)"/><path d="M273 913l-1 6 8 4 9-7-13-7z" fill="url(#vya2)"/><path d="M326 970l-14-8-8 11 1 7 18-2z" fill="url(#vya0)"/><path d="M271 965l-7-11-7 2-2 9 16 3z" fill="#3effc1"/><path d="M239 962l-13-5-5 10 5 7 4 0 10-9z" fill="url(#voy3)"/><path d="M316 1008l7-13-16-4-4 6 3 12z" fill="#e6ff19"/><path d="M166 1016l8-3-2-13-12-4 0 0-4 16z" fill="#ff8700"/><path d="M191 1008l0-1-4-10-7-2-8 5 2 13 2 1z" fill="#ffef00"/><path d="M323 995l13 9 7-4-3-15-13 1z" fill="#8eff72"/><path d="M351 938l-5-3-7 6 3 8 10-1z" fill="url(#voy0)"/><path d="M277 903l-9-6-8 10 1 2 12 4 3-4z" fill="#fff400"/><path d="M384 978l-9 0-3 2-1 10 9 7 8-13z" fill="url(#vbc2)"/><path d="M172 945l5-1 3-9-5-7-11 6-1 5 1 2z" fill="url(#vyg0)"/><path d="M157 961l4 9 11-4 2-6-4-5-10 1z" fill="url(#vyg1)"/><path d="M202 875l11 7 4-2 4-10-15-2-4 3z" fill="url(#vcg3)"/><path d="M338 924l10-11-5-7-10 4-1 10 6 4z" fill="#0092ff"/><path d="M247 916l0-14-1-1-15 10 5 8z" fill="#008fff"/><path d="M162 919l13 3 3-3 1-6-1-3-7-5-10 8z" fill="#ffa500"/><path d="M255 842l13 4 6-7 0-11-2 0-3 0-4 0-3 0-3 0-4 0 0 1z" fill="url(#voy1)"/><path d="M294 888l-8-6-9 2 7 16 0 0 7-5 3-6z" fill="#f3ff0c"/><path d="M174 863l-1 1-2 2-3 2-2 3-2 2-3 3-1 1 13 5 9-11z" fill="#26ffda"/><path d="M210 992l-6 3-1 8 7 5 7-7-1-5z" fill="url(#vcb1)"/><path d="M207 1016l3-5 0-3-7-5-12 4 0 1 3 6z" fill="url(#vbc1)"/><path d="M252 930l3 8 8 2 7-4-4-12-10-2-1 0z" fill="#edff12"/><path d="M186 957l-12 3-2 6 8 7 12-9 0-1z" fill="url(#vbc1)"/><path d="M280 923l1 7 5 2 8-3 3-4-8-9 0 0z" fill="#e8ff18"/><path d="M244 1087l-10-4-4 2 0 13 2 1 3 1 4 0 0 0z" fill="#ff8a00"/><path d="M302 1095l-11-11-8 3-1 1 3 13 1 0 3 0 3-1 4 0 3-1 3-1 0 0z" fill="#00a7ff"/><path d="M210 1008l0 3 14 6 0 0 1-11-8-5z" fill="url(#vya1)"/><path d="M278 1057l6-5-3-11-14 7 5 9z" fill="#ffc700"/><path d="M255 842l-6 6 3 13 8 2 10-9-2-8z" fill="url(#vyg0)"/><path d="M189 882l10-3 3-4 0-4-11-4-7 5z" fill="#ff8400"/><path d="M239 1010l-5 10 2 3 10 2 6-7-7-7z" fill="url(#vgy0)"/><path d="M209 853l-4 6 1 9 15 2 0 0-2-16z" fill="#abff55"/><path d="M156 899l10-3-7-17-2 2-2 3-2 2-2 3-2 3-1 3z" fill="url(#vya1)"/><path d="M289 1027l-9-4-4 1-2 10 7 7 5-3z" fill="url(#vcb1)"/><path d="M209 853l10 1 5-4-2-15-3 1-3 1-3 2-3 1-3 1-3 2-1 0z" fill="#04e9f4"/><path d="M208 979l-14 6 0 4 10 6 6-3 0-11z" fill="#f9ff06"/><path d="M323 978l-18 2 0 0 2 11 16 4 0 0 4-9z" fill="#ffe800"/><path d="M209 956l14-5 2-6-2-3-13-3-6 9z" fill="#eeff11"/><path d="M141 974l2-2 1-7-12-7-4 1 0 3 0 4 0 3 0 3z" fill="#ffe300"/><path d="M344 905l-1 1 5 7 4 1 12-12-10-4z" fill="url(#vya0)"/><path d="M297 1014l-7-5-8 3-2 11 9 4 2-1z" fill="#ffec00"/><path d="M158 951l6-10-1-2-10 1-3 8z" fill="#ffea00"/><path d="M218 894l3-7-4-7-4 2-6 7 3 4z" fill="url(#vgc0)"/><path d="M288 845l2 4 5 2 9-4 2-13-1 0-3-1-3-1-3-1-4 0z" fill="#006aff"/><path d="M269 1021l-7 3-2 9 5 4 9-3 2-10z" fill="url(#vgy1)"/><path d="M237 1056l-14 5-1 1 1 6 12 3 5-3 2-7z" fill="#ff9900"/><path d="M181 891l6-5 2-4-5-10-2-1-9 11 4 8z" fill="#25ffda"/><path d="M331 864l1-4-12-11-5 4-1 4 11 10z" fill="#009aff"/><path d="M225 1006l-1 11 10 3 5-10-5-9z" fill="url(#vyg2)"/><path d="M370 909l-8 13 5 3 13-3-2-9z" fill="url(#vyg0)"/><path d="M196 966l11 9 7-8-5-8z" fill="url(#voy1)"/><path d="M355 950l5-1 6-5 1-4-9-5-7 3 1 10z" fill="#37ffc9"/><path d="M281 1041l0 0-7-7-9 3 1 11 1 0z" fill="#07ecf2"/><path d="M388 984l-8 13 0 3 18 2 1-3 0-3 1-4 1-3 0-3z" fill="url(#voy3)"/><path d="M367 901l-1-19-11 1-4 4 3 11 10 4 2 0z" fill="url(#vyg3)"/><path d="M182 871l2 1 7-5 2-9-4-6-3 1-2 2-3 2-3 2-2 2-2 2z" fill="url(#voy1)"/><path d="M210 893l-3-4-4 0-6 6 0 3 10 5z" fill="#f7ff08"/><path d="M156 1012l4-16-11-5-2 1-7 15 14 5z" fill="#ff7e00"/><path d="M187 997l7-8 0-4-2-2-12-4-4 4 4 12z" fill="#ff8f00"/><path d="M149 1030l5-18-14-5-5 3 1 2 1 3 1 3 2 3 1 3 2 3 1 3 1 2z" fill="#ff9200"/><path d="M260 1007l-7 11 9 6 7-3-1-12z" fill="#fff500"/><path d="M345 929l-7-5 0 0-8 13 1 2 8 2 7-6z" fill="#0087ff"/><path d="M266 1048l-1-11-5-4-4 1-5 11 4 6z" fill="url(#vcb0)"/><path d="M276 998l-6-7-8 2-4 9 2 5 8 2 6-3z" fill="#98ff68"/><path d="M221 981l5-7-5-7-7 0-7 8 1 4 2 2z" fill="#24ffdb"/><path d="M342 1060l-7-1 0 0 1 16 5 5 1 0 3-2 2-2 2-2z" fill="url(#voy3)"/><path d="M187 1027l1 11 8 5 9-7-2-7-11-5z" fill="#0cf1ef"/><path d="M193 944l-7 6 0 7 6 6 11-15z" fill="url(#vgc2)"/><path d="M332 920l1-10-6-4-8 2 6 13z" fill="#abff55"/><path d="M294 889l-3 6 9 11 0 0 7-7-4-6z" fill="#ff8400"/><path d="M312 961l-12-7-9 8 0 3 13 8 8-11z" fill="url(#vgy1)"/><path d="M244 868l8-7-3-13-7-1-9 5 2 13z" fill="url(#voy1)"/><path d="M243 1043l-1-4-10-6-5 3 0 9 10 5z" fill="url(#vbc1)"/><path d="M177 1044l-7-5-14 10 1 1 2 3 2 2 3 3 2 2 2 2 11-9z" fill="#ff9000"/><path d="M291 965l0-3-8-6-12 9 0 3 0 0 13 6z" fill="url(#vcg1)"/><path d="M272 985l-5-8-9 1-2 8 6 7 8-2z" fill="url(#vyg1)"/><path d="M360 976l-6 6 4 12 13-4 1-10z" fill="url(#vya0)"/><path d="M291 1026l-2 1-3 11 10 5 5-4 0-7z" fill="url(#vbc1)"/><path d="M390 937l-7-13-1 0-5 12 7 7z" fill="url(#vyg2)"/><path d="M255 938l-7 11 9 7 7-2 1-2-2-12z" fill="url(#vya2)"/><path d="M319 892l8-1 2-9-9-8-8 9 0 0z" fill="url(#vbc0)"/><path d="M185 901l9 1 3-4 0-3-10-9-6 5z" fill="#35ffca"/><path d="M325 935l-12 7 5 9 9 0 4-12-1-2z" fill="url(#vyg2)"/><path d="M181 1025l-12 9 1 5 7 5 11-6-1-11z" fill="url(#vya2)"/><path d="M315 926l-4-12-6-1-6 11 10 5z" fill="url(#voy2)"/><path d="M342 949l-2 4 8 11 3 0 4-14-3-2z" fill="url(#vya3)"/><path d="M320 849l12 11 8-10-1-1-3-1-3-2-3-2-3-1-3-2 0 0z" fill="url(#vyg1)"/><path d="M280 948l-15 4-1 2 7 11 12-9-1-8z" fill="#03e8f5"/><path d="M308 865l12 9 5-7-11-10-6 8z" fill="url(#vgc0)"/><path d="M265 952l15-4-9-12-1 0-7 4z" fill="#00a6ff"/><path d="M329 1031l11-9 0 0-6-8-13 1-4 13z" fill="url(#vgy2)"/><path d="M371 990l-13 4-2 7 13 8 9-5 2-4 0-3z" fill="#ff7800"/><path d="M219 854l2 16 5 0 9-5-2-13-9-2z" fill="url(#vyg0)"/><path d="M187 997l4 10 12-4 1-8-10-6z" fill="#ffed00"/><path d="M194 902l-9-1-7 9 1 3 17 0z" fill="#ffe300"/><path d="M306 1054l6 7 8-8 1-7-6-4-7 2z" fill="#0086ff"/><path d="M195 1083l3 2 3 2 3 1 3 2 1 0 3-9-9-6z" fill="#fff800"/><path d="M338 924l-6-4-7 1-4 5 4 9 5 2z" fill="#feff01"/><path d="M252 861l-8 7 1 9 5 5 6 1 9-10-5-10z" fill="url(#vbc2)"/><path d="M395 921l0-2-1-3-2-3-1-3-1-3-1-2-11 8 2 9 2 2 1 0z" fill="url(#voy2)"/><path d="M284 900l7 11 9-5-9-11z" fill="url(#vcg0)"/><path d="M231 911l-4-2-11 12 0 1 9 7 9-3 2-7z" fill="#f1ff0e"/><path d="M251 1001l-6 10 7 7 1 0 7-11-2-5z" fill="#ff8900"/><path d="M321 1046l10-5-2-10-12-3-1 0-1 14z" fill="#1affe5"/><path d="M189 1065l-7 10 2 1 2 2 3 2 3 2 3 1 0 0 7-8 0-5z" fill="#7eff82"/><path d="M344 1042l3-8-7-12-11 9 2 10 6 4z" fill="url(#vyg3)"/><path d="M153 977l-10-5-2 2-3 13 9 5 2-1z" fill="#ff9200"/><path d="M321 926l-6 0-6 3 0 12 4 1 12-7z" fill="url(#vbc3)"/><path d="M360 1045l-7 6 0 4 9 9 1-1 2-3 2-2 2-3 3-2 2-3 1-1z" fill="url(#vya3)"/><path d="M318 951l-5-9-4-1-9 3 0 10 12 7z" fill="url(#vgc0)"/><path d="M368 1023l1-14-13-8-2 1-4 15 16 9z" fill="url(#vcg1)"/><path d="M204 948l6-9-2-4-13-7-3 5 1 11 10 4z" fill="url(#vcb0)"/><path d="M147 933l10-7 0-2-10-6-5 4 3 11z" fill="url(#vbc3)"/><path d="M331 895l-4 11 6 4 10-4 1-1-7-10z" fill="#fffe00"/><path d="M299 924l-2 1-3 4 6 15 0 0 9-3 0-12z" fill="#ff7c00"/><path d="M282 1088l-12 2 0 13 2 0 4 0 3-1 3 0 3-1z" fill="url(#vcb2)"/><path d="M225 929l-2 13 2 3 13-1 2-12-6-6z" fill="url(#vya1)"/><path d="M377 936l-8 1-2 3-1 4 8 6 9-2 1-5z" fill="#ffed00"/><path d="M353 1055l0-4-9-9-7 3-2 14 7 1z" fill="url(#vya1)"/><path d="M168 897l3 8 7 5 7-9-4-10-4-1z" fill="#3effc1"/><path d="M347 1034l11-1 8-7 0 0-16-9-10 5 0 0z" fill="#ffe500"/><path d="M221 870l0 0-4 10 4 7 11 0 2-5-8-12z" fill="url(#vbc1)"/><path d="M196 1051l0-8-8-5-11 6 2 9 9 4z" fill="#ffe200"/><path d="M319 908l-1 0-7 6 4 12 6 0 4-5z" fill="url(#vyg2)"/><path d="M176 1014l-2-1-8 3-2 13 5 5 12-9z" fill="url(#vgc0)"/><path d="M262 993l-6-7-8 2-1 9 4 4 7 1z" fill="#f7ff08"/><path d="M209 907l7 14 0 0 11-12-2-5-4-2-12 4z" fill="url(#vya2)"/><path d="M225 990l7 2 5-7-7-11-4 0-5 7z" fill="#eaff15"/><path d="M132 958l12 7 5-5-4-10-2-1z" fill="url(#vcb3)"/><path d="M341 971l7-7-8-11-9 3-1 11z" fill="url(#vya1)"/><path d="M265 1080l-8-8-8 3-2 11 8 5 10-5z" fill="#ffe700"/><path d="M256 883l-6-1-7 14 3 5 1 1 3 0 10-12z" fill="#ff9400"/><path d="M208 1090l2 1 3 1 3 2 1 0 5-11-3-5-8 3z" fill="url(#vcg3)"/><path d="M286 944l-4 4 1 8 8 6 9-8 0-10 0 0z" fill="#38ffc8"/><path d="M223 1061l-2-11-8-3-8 8 2 4 15 3z" fill="#ff8900"/><path d="M282 1088l1-1-6-13-3-1-9 7 0 6 5 4z" fill="url(#vgc1)"/><path d="M149 960l8 1 3-5-2-5-8-3-5 2z" fill="url(#voy0)"/><path d="M351 964l8 4 7-6-6-13-5 1z" fill="#05eaf3"/><path d="M374 950l-2 12 2 1 10 0 3-12-4-3z" fill="url(#vcg2)"/><path d="M342 949l-3-8-8-2-4 12 4 5 9-3z" fill="#efff10"/><path d="M350 1017l4-15-11-2-7 4-2 10 6 8z" fill="url(#vgc2)"/><path d="M333 1059l-12 11 3 5 12 0-1-16z" fill="#16fbe8"/><path d="M160 996l0 0 7-13-7-9-7 3-4 14z" fill="url(#vbc0)"/><path d="M210 992l6 4 9-6-4-9-11 0z" fill="#21ffde"/><path d="M192 933l-12 2-3 9 9 6 7-6z" fill="url(#vcg0)"/><path d="M280 858l1 7 8 5 2 0 7-10-3-9-5-2z" fill="url(#vya3)"/><path d="M354 861l-1-2-3-2-3-2-2-2-3-2-2-1-8 10-1 4 8 8 10-3z" fill="url(#vyg3)"/><path d="M258 978l9-1 4-9 0 0-16-3-4 5z" fill="#a9ff56"/><path d="M203 1029l5-6-1-7-13-2-2 10z" fill="#0085ff"/><path d="M382 924l-2-2-13 3 2 12 8-1z" fill="url(#vbc1)"/><path d="M298 860l-7 10 12 7 0 0 5-12 0 0z" fill="url(#vya0)"/><path d="M138 987l-8 1 0 1 1 3 0 4 1 3 1 3 1 3 1 4 0 1 5-3 7-15z" fill="url(#vya3)"/><path d="M247 916l-11 3-2 7 6 6 12-2 3-8z" fill="url(#vya3)"/><path d="M309 1027l-6-14-6 1-6 12 10 6z" fill="url(#vya0)"/><path d="M189 1065l-1-8-9-4-11 9 0 1 3 2 2 2 3 3 2 2 3 2 1 1z" fill="url(#vbc2)"/><path d="M270 1090l-5-4-10 5 0 11 0 1 4 0 3 0 3 0 4 0 1 0z" fill="#ff9d00"/><path d="M295 1076l13 2 6-10-3-5-18 5-1 1z" fill="url(#vya3)"/><path d="M174 960l12-3 0-7-9-6-5 1-2 10z" fill="url(#vya1)"/><path d="M138 987l3-13-13-2 0 0 0 4 1 3 0 3 0 4 1 2z" fill="url(#voy3)"/><path d="M353 1055l-11 5 7 14 1 0 3-2 2-2 3-3 2-2 2-1z" fill="url(#vgc0)"/><path d="M343 1000l11 2 2-1 2-7-4-12-10-1-4 4z" fill="#1cffe3"/><path d="M378 1004l-9 5-1 14 22 1 0-1z" fill="url(#vya0)"/><path d="M267 893l9-9-5-10-6-1-9 10 4 7z" fill="#0063ff"/><path d="M322 1088l-13-7-7 14 0 3 3-1 3-1 4-1 3-1 3-2 3-1 2-1z" fill="url(#voy2)"/><path d="M157 926l7 8 11-6 0-6-13-3-5 5z" fill="url(#vya1)"/></g><circle cx="265.4" cy="965.5" r="163" fill="none" stroke="#888" stroke-width="0.7"/><text x="258" y="777.5" font-size="20.5" text-anchor="middle" fill="#f00">NCAl-LAO</text><text x="259" y="1154" font-size="20" text-anchor="middle">NC91</text><rect x="53.5" y="590.5" width="12.5" height="349.5" fill="url(#cbd)"/><path d="" stroke="#000" stroke-width="2"/><text x="44" y="611" font-size="17.8" text-anchor="end">0.1</text><text x="44" y="687.4" font-size="17.8" text-anchor="end">0.05</text><text x="44" y="765.2" font-size="17.8" text-anchor="end">0</text><text x="44" y="841.7" font-size="17.8" text-anchor="end">-0.05</text><text x="44" y="917.4" font-size="17.8" text-anchor="end">-0.1</text><path d="M53.5 604.6h-6M53.5 681h-6M53.5 758.8h-6M53.5 835.3h-6M53.5 911h-6" stroke="#000" stroke-width="2"/><text x="55.3" y="578" font-size="21" text-anchor="middle" fill="#8b0000">Tensile</text><text x="56.6" y="965" font-size="17.9" text-anchor="middle" fill="#1a1ab4">Shrinkage</text><text x="458.3" y="736" font-size="26.4" text-anchor="middle" fill="#c060a8">Stress</text><text x="458.2" y="826" font-size="26.4" text-anchor="middle" fill="#c060a8">Analysis</text><path d="M442 759l15 14.2-15 14.2M456 759l15 14.2-15 14.2M470 759l15 14.2-15 14.2" fill="none" stroke="#c060a8" stroke-width="7.5" stroke-linecap="round" stroke-linejoin="round"/><path d="M577.3 675.0L570.0 447.4M754.0 627.0L754.8 424.8M577.3 675.0L754.0 627.0M577.3 675.0L723.3 750.5M620.3 663.3L615.1 441.9M784.5 638.8L786.7 430.8M606.1 689.9L784.5 638.8M620.3 663.3L768.5 734.6M661.0 652.3L657.8 436.7M816.9 651.3L820.5 437.2M636.8 705.8L816.9 651.3M661.0 652.3L811.0 719.6M699.6 641.8L698.2 431.8M851.2 664.5L856.5 443.9M669.6 722.7L851.2 664.5M699.6 641.8L851.0 705.6M736.3 631.8L736.5 427.1M887.6 678.6L894.8 451.1M704.8 740.9L887.6 678.6M736.3 631.8L888.7 692.3M754.0 627.0L754.8 424.8M906.7 686.0L915.0 454.8M723.3 750.5L906.7 686.0M754.0 627.0L906.7 686.0M576.9 663.1L754.0 616.4 907.1 673.9M575.8 627.9L754.2 585.2 908.4 638.2M574.7 592.8L754.3 554.0 909.7 602.5M573.5 557.7L754.4 522.8 911.0 566.8M572.4 522.6L754.6 491.6 912.2 531.2M571.3 487.5L754.7 460.4 913.5 495.5M570.1 452.3L754.8 429.2 914.8 459.8" fill="none" stroke="#d8d8d8" stroke-width="0.9"/><path d="M570.0 447.4L754.8 424.8M577.3 675.0L754.0 627.0M754.8 424.8L915.0 454.8M754.0 627.0L906.7 686.0M754.0 627.0L754.8 424.8M906.7 686.0L915.0 454.8" fill="none" stroke="#8a8a8a" stroke-width="1"/><g fill="currentColor" stroke="currentColor" stroke-width="0.6" stroke-linejoin="round"><path d="M748 548l5.5 6.5 6.5-1.5-5.5-8z" color="#009eff"/><path d="M741.5 550.5l5.5 6 6.5-2-5.5-6.5z" color="#0097ff"/><path d="M753.5 554.5l5.5 9 6-1-5-9.5z" color="#006eff"/><path d="M735 554l5.5 5 6.5-2.5-5.5-6z" color="#0090ff"/><path d="M747 556.5l5.5 7.5 6.5-.5-5.5-9z" color="#0070ff"/><path d="M759 563.5l5.5 7 6.5-1-6-7z" color="#0041ff"/><path d="M752.5 564l5.5 7.5 6.5-1-5.5-7z" color="#0045ff"/><path d="M728.5 561l5.5 3 6.5-5-5.5-5z" color="#007aff"/><path d="M740.5 559l5.5 6.5 6.5-1.5-5.5-7.5z" color="#0070ff"/><path d="M764.5 570.5l5.5 4.5 6.5-1.5-5.5-4z" color="#0021ff"/><path d="M721.5 568l5.5-3.5 7-.5-5.5-3z" color="#0061ff"/><path d="M746 565.5l5.5 6 6.5 0-5.5-7.5z" color="#004aff"/><path d="M758 571.5l5.5 5.5 6.5-2-5.5-4.5z" color="#0022ff"/><path d="M734 564l5 3 7-1.5-5.5-6.5z" color="#0067ff"/><path d="M770 575l5.5 4.5 6.5-3-5.5-3z" color="#000eff"/><path d="M715 565.5l5.5-17.5 6.5 16.5-5.5 3.5z" color="#007fff"/><path d="M727 564.5l5.5 1.5 6.5 1-5-3z" color="#0065ff"/><path d="M739 567l6 3.5 6.5 1-5.5-6z" color="#0051ff"/><path d="M751.5 571.5l5.5 5.5 6.5 0-5.5-5.5z" color="#0028ff"/><path d="M763.5 577l5.5 5 6.5-2.5-5.5-4.5z" color="#0008ff"/><path d="M775.5 579.5l6 1.5 6-3-5.5-1.5z" color="#0008ff"/><path d="M732.5 566l5.5 3 7 1.5-6-3.5z" color="#005fff"/><path d="M708 561l5.5-9.5 7-3.5-5.5 17.5z" color="#00adff"/><path d="M720.5 548l5.5 7.5 6.5 10.5-5.5-1.5z" color="#00a1ff"/><path d="M745 570.5l5.5 3.5 6.5 3-5.5-5.5z" color="#003dff"/><path d="M757 577l5.5 4.5 6.5.5-5.5-5z" color="#000dff"/><path d="M769 582l6 0 6.5-1-6-1.5z" color="#0001ff"/><path d="M781.5 581l5.5-3 6.5-2-6 2z" color="#001cff"/><path d="M701.5 556.5l5 3 7-8-5.5 9.5z" color="#00b3ff"/><path d="M726 555.5l5.5 12 6.5 1.5-5.5-3z" color="#0083ff"/><path d="M738 569l5.5 1.5 7 3.5-5.5-3.5z" color="#0058ff"/><path d="M775 582l5.5-9.5 6.5 5.5-5.5 3z" color="#0028ff"/><path d="M713.5 551.5l5.5 7 7-3-5.5-7.5z" color="#00cfff"/><path d="M750.5 574l5.5 3 6.5 4.5-5.5-4.5z" color="#002bff"/><path d="M762.5 581.5l6-.5 6.5 1-6 0z" color="#000aff"/><path d="M787 578l6-3 6.5-3-6 4z" color="#0044ff"/><path d="M694.5 558l5.5 4 6.5-2.5-5-3z" color="#00b0ff"/><path d="M706.5 559.5l5.5 5.5 7-6.5-5.5-7z" color="#00b5ff"/><path d="M719 558.5l5.5 9.5 7-.5-5.5-12z" color="#009dff"/><path d="M731.5 567.5l5.5 2 6.5 1-5.5-1.5z" color="#0070ff"/><path d="M743.5 570.5l6 2 6.5 4.5-5.5-3z" color="#0054ff"/><path d="M768.5 581l5.5-7 6.5-1.5-5.5 9.5z" color="#003dff"/><path d="M780.5 572.5l6-.5 6.5 3-6 3z" color="#0055ff"/><path d="M756 577l5.5 2.5 7 1.5-6 .5z" color="#0027ff"/><path d="M793 575l6-3.5 6.5-6-6 6.5z" color="#006fff"/><path d="M712 565l5.5 5 7-2-5.5-9.5z" color="#0092ff"/><path d="M749.5 572.5l5.5 4 6.5 3-5.5-2.5z" color="#004dff"/><path d="M786.5 572l6 7 6.5-7.5-6 3.5z" color="#0062ff"/><path d="M687.5 567l5.5 3 7-8-5.5-4z" color="#0095ff"/><path d="M700 562l5.5 7.5 6.5-4.5-5.5-5.5z" color="#009aff"/><path d="M724.5 568l5.5 1 7 .5-5.5-2z" color="#007fff"/><path d="M737 569.5l5.5-9.5 7 12.5-6-2z" color="#0084ff"/><path d="M761.5 579.5l6 2.5 6.5-8-5.5 7z" color="#003bff"/><path d="M774 574l6 3 6.5-5-6 .5z" color="#0063ff"/><path d="M799 571.5l6-7 6.5-6.5-6 7.5z" color="#00a6ff"/><path d="M680.5 575.5l5.5.5 7-6-5.5-3z" color="#0069ff"/><path d="M705.5 569.5l5.5 6.5 6.5-6-5.5-5z" color="#007cff"/><path d="M717.5 570l6 1.5 6.5-2.5-5.5-1z" color="#0081ff"/><path d="M742.5 560l6 14.5 6.5 2-5.5-4z" color="#007eff"/><path d="M755 576.5l5.5 7.5 7-2-6-2.5z" color="#003dff"/><path d="M780 577l5.5 11.5 7-9.5-6-7z" color="#004bff"/><path d="M792.5 579l6-3 6.5-11.5-6 7z" color="#0079ff"/><path d="M693 570l5.5 6.5 7-7-5.5-7.5z" color="#007eff"/><path d="M730 569l6 1 6.5-10-5.5 9.5z" color="#0095ff"/><path d="M767.5 582l5.5 7 7-12-6-3z" color="#0040ff"/><path d="M805 564.5l6.5-6 6.5-5.5-6.5 5z" color="#00deff"/><path d="M673.5 577l5.5-4 7 3-5.5-.5z" color="#005dff"/><path d="M686 576l5.5 1 7-.5-5.5-6.5z" color="#0063ff"/><path d="M698.5 576.5l5.5 7 7-7.5-5.5-6.5z" color="#005cff"/><path d="M711 576l5.5 2.5 7-7-6-1.5z" color="#006eff"/><path d="M723.5 571.5l5.5 0 7-1.5-6-1z" color="#0088ff"/><path d="M736 570l5.5 3.5 7 1-6-14.5z" color="#0093ff"/><path d="M748.5 574.5l5.5 8.5 6.5 1-5.5-7.5z" color="#0050ff"/><path d="M760.5 584l6 9 6.5-4-5.5-7z" color="#0018ff"/><path d="M773 589l6 7.5 6.5-8-5.5-11.5z" color="#0015ff"/><path d="M785.5 588.5l6 .5 7-13-6 3z" color="#003dff"/><path d="M798.5 576l6-7 7-10.5-6.5 6z" color="#00aeff"/><path d="M811.5 558.5l6-3 6.5-4-6 1.5z" color="#04fff9"/><path d="M679 573l5-11 7.5 15-5.5-1z" color="#0081ff"/><path d="M691.5 577l5.5 7 7-.5-5.5-7z" color="#004bff"/><path d="M729 571.5l5.5 3 7-1-5.5-3.5z" color="#0089ff"/><path d="M766.5 593l6-17 6.5 20.5-6-7.5z" color="#001aff"/><path d="M804.5 569l6.5-5 6.5-8.5-6 3z" color="#00e0ff"/><path d="M666.5 573.5l5-5 7.5 4.5-5.5 4z" color="#0078ff"/><path d="M704 583.5l5.5 4 7-9-5.5-2.5z" color="#0046ff"/><path d="M716.5 578.5l5.5-.5 7-6.5-5.5 0z" color="#0075ff"/><path d="M741.5 573.5l5.5 8 7 1.5-5.5-8.5z" color="#0064ff"/><path d="M754 583l6 10 6.5 0-6-9z" color="#001bff"/><path d="M779 596.5l6 .5 6.5-8-6-.5z" color="#0200ff"/><path d="M791.5 589l6.5-6.5 6.5-13.5-6 7z" color="#0066ff"/><path d="M817.5 555.5l6.5 0 6.5-3-6.5-1z" color="#0fffe8"/><path d="M697 584l5.5 8.5 7-5-5.5-4z" color="#0028ff"/><path d="M734.5 574.5l6 6 6.5 1-5.5-8z" color="#0074ff"/><path d="M772.5 576l6 24 6.5-3-6-.5z" color="#000cff"/><path d="M811 564l6-2.5 7-6-6.5 0z" color="#00feff"/><path d="M659 566.5l5-1 7.5 3-5 5z" color="#00a3ff"/><path d="M671.5 568.5l5-29 7.5 22.5-5 11z" color="#00d8ff"/><path d="M684 562l5.5 6.5 7.5 15.5-5.5-7z" color="#0089ff"/><path d="M722 578l5.5 1.5 7-5-5.5-3z" color="#007bff"/><path d="M760 593l5.5 6 7-23-6 17z" color="#001bff"/><path d="M798 582.5l6-6 7-12.5-6.5 5z" color="#009eff"/><path d="M709.5 587.5l5.5-.5 7-9-5.5.5z" color="#004aff"/><path d="M747 581.5l6 9 7 2.5-6-10z" color="#0033ff"/><path d="M785 597l6-4 7-10.5-6.5 6.5z" color="#0020ff"/><path d="M824 555.5l6 2.5 6.5-2.5-6-3z" color="#10ffe7"/><path d="M651.5 559l5.5 1.5 7 5-5 1z" color="#00d3ff"/><path d="M664 565.5l5.5-2 7-24-5 29z" color="#00edff"/><path d="M689.5 568.5l5.5 20.5 7.5 3.5-5.5-8.5z" color="#004eff"/><path d="M702.5 592.5l5.5 1 7-6.5-5.5.5z" color="#001eff"/><path d="M727.5 579.5l6 3.5 7-2.5-6-6z" color="#0071ff"/><path d="M740.5 580.5l5.5 7.5 7 2.5-6-9z" color="#004cff"/><path d="M765.5 599l6 1 7 0-6-24z" color="#0010ff"/><path d="M778.5 600l6-2 6.5-5-6 4z" color="#0500ff"/><path d="M804 576.5l6.5-4.5 6.5-10.5-6 2.5z" color="#00caff"/><path d="M817 561.5l6.5-.5 6.5-3-6-2.5z" color="#07fff4"/><path d="M676.5 539.5l5.5 23 7.5 6-5.5-6.5z" color="#00f7ff"/><path d="M715 587l5.5-.5 7-7-5.5-1.5z" color="#0057ff"/><path d="M753 590.5l6 6 6.5 2.5-5.5-6z" color="#0004ff"/><path d="M791 593l6-4.5 7-12-6 6z" color="#0056ff"/><path d="M830 558l6.5 5 6.5-2.5-6.5-5z" color="#08fff4"/><path d="M657 560.5l5 3 7.5 0-5.5 2z" color="#00ddff"/><path d="M708 593.5l5.5-2 7-5-5.5.5z" color="#0031ff"/><path d="M746 588l6 6 7 2.5-6-6z" color="#0025ff"/><path d="M784.5 598l6-1.5 6.5-8-6 4.5z" color="#0021ff"/><path d="M644 552l5.5 5 7.5 3.5-5.5-1.5z" color="#03fffb"/><path d="M669.5 563.5l5.5 7 7-8-5.5-23z" color="#00fbff"/><path d="M682 562.5l6 23 7 3.5-5.5-20.5z" color="#0089ff"/><path d="M695 589l6 6.5 7-2-5.5-1z" color="#0017ff"/><path d="M720.5 586.5l6 .5 7-4-6-3.5z" color="#005dff"/><path d="M733.5 583l5.5 4.5 7 .5-5.5-7.5z" color="#0059ff"/><path d="M759 596.5l5.5 2 7 1.5-6-1z" color="#0500ff"/><path d="M771.5 600l6-22.5 7 20.5-6 2z" color="#001fff"/><path d="M797 588.5l6.5-3.5 7-13-6.5 4.5z" color="#0083ff"/><path d="M810.5 572l6-7.5 7-3.5-6.5.5z" color="#00efff"/><path d="M823.5 561l6.5 2 6.5 0-6.5-5z" color="#06fff6"/><path d="M836.5 563l6 7.5 6.5-3-6-7z" color="#00efff"/><path d="M713.5 591.5l5.5-2 7.5-2.5-6-.5z" color="#0049ff"/><path d="M752 594l6 2.5 6.5 2-5.5-2z" color="#0016ff"/><path d="M790.5 596.5l6 0 7-11.5-6.5 3.5z" color="#0044ff"/><path d="M830 563l6 7.5 6.5 0-6-7.5z" color="#00f1ff"/><path d="M636.5 545.5l5 10 8 1.5-5.5-5z" color="#1dffd5"/><path d="M649.5 557l5 8 7.5-1.5-5-3z" color="#00f3ff"/><path d="M662 563.5l5.5 7 7.5 0-5.5-7z" color="#00cfff"/><path d="M675 570.5l5.5 14 7.5 1-6-23z" color="#0098ff"/><path d="M701 595.5l5.5-1.5 7-2.5-5.5 2z" color="#001fff"/><path d="M739 587.5l6 4 7 2.5-6-6z" color="#0042ff"/><path d="M777.5 577.5l6 21 7-2-6 1.5z" color="#003aff"/><path d="M688 585.5l5.5 10 7.5 0-6-6.5z" color="#002fff"/><path d="M726.5 587l5.5.5 7 0-5.5-4.5z" color="#005bff"/><path d="M764.5 598.5l6-1 7-20-6 22.5z" color="#0030ff"/><path d="M803.5 585l6.5-9.5 6.5-11-6 7.5z" color="#00baff"/><path d="M816.5 564.5l6.5-6 7 4.5-6.5-2z" color="#0afff0"/><path d="M842.5 570.5l6.5 9.5 6.5-4.5-6.5-8z" color="#00c7ff"/><path d="M628.5 542l5.5 12.5 7.5 1-5-10z" color="#38ffb8"/><path d="M641.5 555.5l6 13.5 7-4-5-8z" color="#00fcff"/><path d="M667.5 570.5l5.5 9.5 7.5 4.5-5.5-14z" color="#009fff"/><path d="M680.5 584.5l6 10.5 7 .5-5.5-10z" color="#0045ff"/><path d="M706.5 594l5.5-3 7-1.5-5.5 2z" color="#0040ff"/><path d="M719 589.5l6-2.5 7 .5-5.5-.5z" color="#005cff"/><path d="M745 591.5l6 2 7 3-6-2.5z" color="#0037ff"/><path d="M758 596.5l6-.5 6.5 1.5-6 1z" color="#0020ff"/><path d="M783.5 598.5l6.5 2 6.5-4-6 0z" color="#0020ff"/><path d="M796.5 596.5l6.5-3 7-18-6.5 9.5z" color="#006bff"/><path d="M823 558.5l6.5 8 6.5 4-6-7.5z" color="#06fff6"/><path d="M836 570.5l6.5 10 6.5-.5-6.5-9.5z" color="#00c4ff"/><path d="M654.5 565l5.5 7 7.5-1.5-5.5-7z" color="#00d5ff"/><path d="M693.5 595.5l5.5 1.5 7.5-3-5.5 1.5z" color="#001eff"/><path d="M732 587.5l6 1 7 3-6-4z" color="#0057ff"/><path d="M770.5 597.5l6.5 0 6.5 1-6-21z" color="#0045ff"/><path d="M810 575.5l6.5-10.5 6.5-6.5-6.5 6z" color="#00fdff"/><path d="M849 580l6.5 8.5 6.5-6.5-6.5-6.5z" color="#009fff"/><path d="M725 587l6-12.5 7 14-6-1z" color="#007fff"/><path d="M764 596l6-1 7 2.5-6.5 0z" color="#0035ff"/><path d="M634 554.5l5.5 17 8-2.5-6-13.5z" color="#00ffff"/><path d="M673 580l6 8.5 7.5 6.5-6-10.5z" color="#0066ff"/><path d="M621 545l5.5 11.5 7.5-2-5.5-12.5z" color="#41ffaf"/><path d="M647.5 569l5.5 9.5 7-6.5-5.5-7z" color="#00caff"/><path d="M660 572l5.5.5 7.5 7.5-5.5-9.5z" color="#00baff"/><path d="M686.5 595l5.5 5.5 7-3.5-5.5-1.5z" color="#0020ff"/><path d="M699 597l6-2.5 7-3.5-5.5 3z" color="#0039ff"/><path d="M712 591l6-3.5 7-.5-6 2.5z" color="#0061ff"/><path d="M738 588.5l6 1 7 4-6-2z" color="#0057ff"/><path d="M751 593.5l6-1 7 3.5-6 .5z" color="#0041ff"/><path d="M777 597.5l6 2 7 1-6.5-2z" color="#0025ff"/><path d="M790 600.5l6 2.5 7-9.5-6.5 3z" color="#002cff"/><path d="M803 593.5l6.5-6 7-22.5-6.5 10.5z" color="#00a8ff"/><path d="M816.5 565l6 5 7-3.5-6.5-8z" color="#0bffee"/><path d="M829.5 566.5l6.5 12 6.5 2-6.5-10z" color="#00d8ff"/><path d="M842.5 580.5l6 11 7-3-6.5-8.5z" color="#0092ff"/><path d="M855.5 588.5l6.5 4 6.5-8.5-6.5-2z" color="#008aff"/><path d="M731 574.5l5.5 12 7.5 3-6-1z" color="#008bff"/><path d="M770 595l6 2 7 2.5-6-2z" color="#0041ff"/><path d="M809.5 587.5l6-2 7-15.5-6-5z" color="#00cdff"/><path d="M848.5 591.5l6.5 7.5 7-6.5-6.5-4z" color="#006dff"/><path d="M613.5 554.5l5.5 9 7.5-7-5.5-11.5z" color="#2affc6"/><path d="M639.5 571.5l6 11.5 7.5-4.5-5.5-9.5z" color="#00b8ff"/><path d="M653 578.5l5 0 7.5-6-5.5-.5z" color="#00baff"/><path d="M679 588.5l5.5 12.5 7.5-.5-5.5-5.5z" color="#0033ff"/><path d="M692 600.5l5.5 1 7.5-7-6 2.5z" color="#0025ff"/><path d="M718 587.5l5.5-2.5 7.5-10.5-6 12.5z" color="#0091ff"/><path d="M757 592.5l6-9 7 11.5-6 1z" color="#0062ff"/><path d="M626.5 556.5l5.5 15.5 7.5-.5-5.5-17z" color="#02fffc"/><path d="M665.5 572.5l5.5-4.5 8 20.5-6-8.5z" color="#00b1ff"/><path d="M705 594.5l5.5-3.5 7.5-3.5-6 3.5z" color="#005dff"/><path d="M744 589.5l6-3 7 6-6 1z" color="#0067ff"/><path d="M783 599.5l6 4.5 7-1-6-2.5z" color="#001fff"/><path d="M796 603l6.5-.5 7-15-6.5 6z" color="#0048ff"/><path d="M822.5 570l6.5 9 7-.5-6.5-12z" color="#00e6ff"/><path d="M836 578.5l6 11.5 6.5 1.5-6-11z" color="#009cff"/><path d="M862 592.5l6.5-2 7-9-7 2.5z" color="#0095ff"/><path d="M645.5 583l5 4 7.5-8.5-5 0z" color="#009cff"/><path d="M684.5 601l5.5-8 7.5 8.5-5.5-1z" color="#002dff"/><path d="M723.5 585l6 .5 7 1-5.5-12z" color="#00a3ff"/><path d="M736.5 586.5l6 0 7.5 0-6 3z" color="#0088ff"/><path d="M763 583.5l6 3.5 7 10-6-2z" color="#0077ff"/><path d="M776 597l6 6.5 7 .5-6-4.5z" color="#0034ff"/><path d="M802.5 602.5l6-3.5 7-13.5-6 2z" color="#006bff"/><path d="M815.5 585.5l6.5 0 7-6.5-6.5-9z" color="#00c7ff"/><path d="M842 590l6.5 9.5 6.5-.5-6.5-7.5z" color="#0069ff"/><path d="M855 599l7-.5 6.5-8-6.5 2z" color="#006bff"/><path d="M606 564.5l5 6.5 8-7.5-5.5-9z" color="#09fff2"/><path d="M619 563.5l5.5 11.5 7.5-3-5.5-15.5z" color="#00f9ff"/><path d="M658 578.5l5.5-2.5 7.5-8-5.5 4.5z" color="#00d2ff"/><path d="M632 572l5.5 11.5 8-.5-6-11.5z" color="#00b5ff"/><path d="M671 568l6 25.5 7.5 7.5-5.5-12.5z" color="#0078ff"/><path d="M697.5 601.5l5.5-2.5 7.5-8-5.5 3.5z" color="#0043ff"/><path d="M710.5 591l6-2.5 7-3.5-5.5 2.5z" color="#007fff"/><path d="M750 586.5l6-21.5 7 18.5-6 9z" color="#00aeff"/><path d="M789 604l6.5 3.5 7-5-6.5.5z" color="#001dff"/><path d="M829 579l6.5 9 6.5 2-6-11.5z" color="#00b0ff"/><path d="M868.5 590.5l7-3.5 7-7-7 1.5z" color="#00b1ff"/><path d="M742.5 586.5l6-5 7.5-16.5-6 21.5z" color="#00c6ff"/><path d="M650.5 587l5.5 2.5 7.5-13.5-5.5 2.5z" color="#00a2ff"/><path d="M624.5 575l5.5 8.5 7.5 0-5.5-11.5z" color="#00b9ff"/><path d="M598 571l5.5 4.5 7.5-4.5-5-6.5z" color="#00e9ff"/><path d="M611 571l5.5 8 8-4-5.5-11.5z" color="#00e0ff"/><path d="M637.5 583.5l5.5 5.5 7.5-2-5-4z" color="#008eff"/><path d="M663.5 576l6 17.5 7.5 0-6-25.5z" color="#00a4ff"/><path d="M677 593.5l5.5 15.5 7.5-16-5.5 8z" color="#003bff"/><path d="M690 593l6 15 7-9-5.5 2.5z" color="#0034ff"/><path d="M703 599l6 15 7.5-25.5-6 2.5z" color="#0047ff"/><path d="M716.5 588.5l5.5 0 7.5-3-6-.5z" color="#0094ff"/><path d="M729.5 585.5l6 2.5 7-1.5-6 0z" color="#0097ff"/><path d="M756 565l6 5 7 17-6-3.5z" color="#00dfff"/><path d="M769 587l6 16 7 .5-6-6.5z" color="#0057ff"/><path d="M782 603.5l6.5 7 7-3-6.5-3.5z" color="#001bff"/><path d="M795.5 607.5l6 .5 7-9-6 3.5z" color="#002eff"/><path d="M808.5 599l6.5-3.5 7-10-6.5 0z" color="#0088ff"/><path d="M822 585.5l6.5 4 7-1.5-6.5-9z" color="#00b1ff"/><path d="M835.5 588l6.5 9.5 6.5 2-6.5-9.5z" color="#007dff"/><path d="M848.5 599.5l6.5 2.5 7-3.5-7 .5z" color="#0058ff"/><path d="M862 598.5l7-4.5 6.5-7-7 3.5z" color="#008aff"/><path d="M875.5 587l7 2.5 6.5-3.5-6.5-6z" color="#00b9ff"/><path d="M748.5 581.5l6.5 6 7-17.5-6-5z" color="#00ecff"/><path d="M788.5 610.5l6 5.5 7-8-6-.5z" color="#000cff"/><path d="M828.5 589.5l6.5 7.5 7 .5-6.5-9.5z" color="#008eff"/><path d="M869 594l7-1.5 6.5-3-7-2.5z" color="#00a3ff"/><path d="M630 583.5l5.5 5.5 7.5 0-5.5-5.5z" color="#0094ff"/><path d="M656 589.5l6 6.5 7.5-2.5-6-17.5z" color="#0088ff"/><path d="M669.5 593.5l5.5 13 7.5 2.5-5.5-15.5z" color="#003cff"/><path d="M696 608l5.5-2.5 7.5 8.5-6-15z" color="#0015ff"/><path d="M709 614l6-32 7 6.5-5.5 0z" color="#0075ff"/><path d="M735.5 588l6 4.5 7-11-6 5z" color="#00a2ff"/><path d="M590.5 577.5l5 1.5 8-3.5-5.5-4.5z" color="#00d1ff"/><path d="M616.5 579l5.5 6.5 8-2-5.5-8.5z" color="#00b5ff"/><path d="M603.5 575.5l5.5 6.5 7.5-3-5.5-8z" color="#00ccff"/><path d="M643 589l5.5 3 7.5-2.5-5.5-2.5z" color="#0082ff"/><path d="M682.5 609l6 2.5 7.5-3.5-6-15z" color="#001cff"/><path d="M722 588.5l6 3 7.5-3.5-6-2.5z" color="#0097ff"/><path d="M762 570l6 32.5 7 .5-6-16z" color="#0090ff"/><path d="M775 603l6.5 11 7-3.5-6.5-7z" color="#001eff"/><path d="M801.5 608l6.5-1.5 7-11-6.5 3.5z" color="#004cff"/><path d="M815 595.5l7 .5 6.5-6.5-6.5-4z" color="#0095ff"/><path d="M842 597.5l6.5 2.5 6.5 2-6.5-2.5z" color="#0063ff"/><path d="M855 602l7-4 7-4-7 4.5z" color="#0070ff"/><path d="M882.5 589.5l6.5 8.5 6.5-.5-6.5-11.5z" color="#0099ff"/><path d="M662 596l5.5 6 7.5 4.5-5.5-13z" color="#0050ff"/><path d="M701.5 605.5l6-2 7.5-21.5-6 32z" color="#004cff"/><path d="M741.5 592.5l6 6.5 7.5-11.5-6.5-6z" color="#009cff"/><path d="M755 587.5l6 18 7-3-6-32.5z" color="#0097ff"/><path d="M781.5 614l6 8 7-6-6-5.5z" color="#0800ff"/><path d="M794.5 616l6.5.5 7-10-6.5 1.5z" color="#0014ff"/><path d="M822 596l6.5-17.5 6.5 18.5-6.5-7.5z" color="#00abff"/><path d="M835 597l7 1 6.5 2-6.5-2.5z" color="#007aff"/><path d="M862 598l7-2.5 7-3-7 1.5z" color="#0093ff"/><path d="M876 592.5l6.5 3.5 6.5 2-6.5-8.5z" color="#009cff"/><path d="M622 585.5l5.5 4.5 8-1-5.5-5.5z" color="#009aff"/><path d="M635.5 589l5.5 3.5 7.5-.5-5.5-3z" color="#0085ff"/><path d="M582.5 586l5-2 8-5-5-1.5z" color="#00b6ff"/><path d="M595.5 579l5.5 4 8-1-5.5-6.5z" color="#00c4ff"/><path d="M609 582l5 5.5 8-2-5.5-6.5z" color="#00afff"/><path d="M648.5 592l5.5 2.5 8 1.5-6-6.5z" color="#0078ff"/><path d="M675 606.5l6 2.5 7.5 2.5-6-2.5z" color="#000dff"/><path d="M688.5 611.5l5.5-4 7.5-2-5.5 2.5z" color="#0018ff"/><path d="M715 582l6 16 7-6.5-6-3z" color="#0098ff"/><path d="M728 591.5l6 5.5 7.5-4.5-6-4.5z" color="#008cff"/><path d="M768 602.5l6 14 7.5-2.5-6.5-11z" color="#0023ff"/><path d="M808 606.5l6.5-1.5 7.5-9-7-.5z" color="#0065ff"/><path d="M848.5 600l7-5.5 6.5 3.5-7 4z" color="#0079ff"/><path d="M889 598l7 8.5 6.5 2.5-7-11.5z" color="#0066ff"/><path d="M574.5 593l5-4.5 8-4.5-5 2z" color="#0099ff"/><path d="M587.5 584l5-.5 8.5-.5-5.5-4z" color="#00beff"/><path d="M601 583l5 5 8-.5-5-5.5z" color="#00b0ff"/><path d="M614 587.5l5.5 4 8-1.5-5.5-4.5z" color="#009bff"/><path d="M627.5 590l5.5 3 8-.5-5.5-3.5z" color="#008dff"/><path d="M641 592.5l5.5 13 7.5-11-5.5-2.5z" color="#006fff"/><path d="M654 594.5l5.5 3 8 4.5-5.5-6z" color="#0068ff"/><path d="M667.5 602l5.5 2.5 8 4.5-6-2.5z" color="#0035ff"/><path d="M681 609l5.5-9.5 7.5 8-5.5 4z" color="#002eff"/><path d="M694 607.5l6-4 7.5 0-6 2z" color="#0040ff"/><path d="M707.5 603.5l6 2 7.5-7.5-6-16z" color="#0074ff"/><path d="M721 598l6 5.5 7-6.5-6-5.5z" color="#0076ff"/><path d="M734 597l6 7 7.5-5-6-6.5z" color="#0074ff"/><path d="M747.5 599l6 9.5 7.5-3-6-18z" color="#0069ff"/><path d="M761 605.5l6 11.5 7-.5-6-14z" color="#0027ff"/><path d="M774 616.5l6.5 8.5 7-3-6-8z" color="#1000ff"/><path d="M787.5 622l6.5 2 7-7.5-6.5-.5z" color="#0f00ff"/><path d="M801 616.5l6.5-3 7-8.5-6.5 1.5z" color="#002fff"/><path d="M814.5 605l7-19.5 7-7-6.5 17.5z" color="#00afff"/><path d="M828.5 578.5l6.5 26.5 7-7-7-1z" color="#009cff"/><path d="M842 598l7-7 6.5 3.5-7 5.5z" color="#0096ff"/><path d="M855.5 594.5l7 2.5 6.5-1.5-7 2.5z" color="#0096ff"/><path d="M869 595.5l7 2.5 6.5-2-6.5-3.5z" color="#009eff"/><path d="M882.5 596l7 5 6.5 5.5-7-8.5z" color="#0080ff"/><path d="M896 606.5l7 5.5 6 4-6.5-7z" color="#0040ff"/><path d="M767 617l6.5 8 7 0-6.5-8.5z" color="#0e00ff"/><path d="M807.5 613.5l7-3 7-25-7 19.5z" color="#006bff"/><path d="M849 591l6.5 9.5 7-3.5-7-2.5z" color="#00a5ff"/><path d="M889.5 601l7 3.5 6.5 7.5-7-5.5z" color="#006bff"/><path d="M646.5 605.5l5.5-11 7.5 3-5.5-3z" color="#0071ff"/><path d="M673 604.5l6-7 7.5 2-5.5 9.5z" color="#0058ff"/><path d="M686.5 599.5l5.5-10.5 8 14.5-6 4z" color="#006cff"/><path d="M713.5 605.5l6 5.5 7.5-7.5-6-5.5z" color="#0054ff"/><path d="M727 603.5l6 7 7-6.5-6-7z" color="#005bff"/><path d="M606 588l5.5 4 8-.5-5.5-4z" color="#00a0ff"/><path d="M579.5 588.5l5-3.5 8-1.5-5 .5z" color="#00b7ff"/><path d="M592.5 583.5l5.5 3.5 8 1-5-5z" color="#00b9ff"/><path d="M619.5 591.5l5.5 2 8-.5-5.5-3z" color="#0093ff"/><path d="M633 593l5.5.5 8 12-5.5-13z" color="#007bff"/><path d="M659.5 597.5l6 17 7.5-10-5.5-2.5z" color="#0048ff"/><path d="M700 603.5l6 5 7.5-3-6-2z" color="#004cff"/><path d="M740 604l6.5 8.5 7-4-6-9.5z" color="#004fff"/><path d="M753.5 608.5l6.5 8.5 7 0-6-11.5z" color="#0028ff"/><path d="M780.5 625l6.5 3 7-4-6.5-2z" color="#1e00ff"/><path d="M794 624l6.5-4.5 7-6-6.5 3z" color="#0001ff"/><path d="M821.5 585.5l6.5 25.5 7-6-6.5-26.5z" color="#00a5ff"/><path d="M835 605l6.5 1.5 7.5-15.5-7 7z" color="#0086ff"/><path d="M862.5 597l6.5 8.5 7-7.5-7-2.5z" color="#0093ff"/><path d="M876 598l7 3.5 6.5-.5-7-5z" color="#0095ff"/><path d="M679 597.5l5.5-8.5 7.5 0-5.5 10.5z" color="#009fff"/><path d="M719.5 611l6 6 7.5-6.5-6-7z" color="#003bff"/><path d="M760 617l6 6.5 7.5 1.5-6.5-8z" color="#0500ff"/><path d="M773.5 625l6 2.5 7.5.5-6.5-3z" color="#1d00ff"/><path d="M800.5 619.5l6.5-6.5 7.5-2.5-7 3z" color="#0031ff"/><path d="M814.5 610.5l6.5 1 7-.5-6.5-25.5z" color="#0072ff"/><path d="M841.5 606.5l7 11.5 7-17.5-6.5-9.5z" color="#007cff"/><path d="M855.5 600.5l6.5 16.5 7-11.5-6.5-8.5z" color="#0078ff"/><path d="M883 601.5l7 2.5 6.5.5-7-3.5z" color="#008cff"/><path d="M598 587l5.5 4 8 1-5.5-4z" color="#00acff"/><path d="M638.5 593.5l5.5-1 8 2-5.5 11z" color="#0087ff"/><path d="M584.5 585l5.5 1 8 1-5.5-3.5z" color="#00c3ff"/><path d="M611.5 592l5.5 2 8-.5-5.5-2z" color="#009aff"/><path d="M625 593.5l5.5-.5 8 .5-5.5-.5z" color="#0099ff"/><path d="M652 594.5l5.5 2.5 8 17.5-6-17z" color="#006dff"/><path d="M665.5 614.5l5.5-12 8-5-6 7z" color="#0056ff"/><path d="M692 589l6 13.5 8 6-6-5z" color="#0074ff"/><path d="M706 608.5l6 7 7.5-4.5-6-5.5z" color="#003aff"/><path d="M733 610.5l6 7.5 7.5-5.5-6.5-8.5z" color="#0038ff"/><path d="M746.5 612.5l6 6.5 7.5-2-6.5-8.5z" color="#0025ff"/><path d="M787 628l6.5-7 7-1.5-6.5 4.5z" color="#0c00ff"/><path d="M828 611l6.5 9 7-13.5-6.5-1.5z" color="#004fff"/><path d="M869 605.5l7 5.5 7-9.5-7-3.5z" color="#0082ff"/><path d="M590 586l5 4.5 8.5.5-5.5-4z" color="#00bcff"/><path d="M603.5 591l5.5 3 8 0-5.5-2z" color="#00a5ff"/><path d="M630.5 593l5.5-1.5 8 1-5.5 1z" color="#00aaff"/><path d="M657.5 597l5.5 5.5 8 0-5.5 12z" color="#0066ff"/><path d="M671 602.5l6 2.5 7.5-16-5.5 8.5z" color="#008cff"/><path d="M684.5 589l6 14.5 7.5-1-6-13.5z" color="#009fff"/><path d="M698 602.5l6 13.5 8-.5-6-7z" color="#0044ff"/><path d="M712 615.5l6 5 7.5-3.5-6-6z" color="#0020ff"/><path d="M725.5 617l6 6 7.5-5-6-7.5z" color="#001bff"/><path d="M752.5 619l6.5 3.5 7 1-6-6.5z" color="#0006ff"/><path d="M766 623.5l6.5 2.5 7 1.5-6-2.5z" color="#1000ff"/><path d="M779.5 627.5l7-17.5 7 11-6.5 7z" color="#0005ff"/><path d="M793.5 621l6.5-10.5 7 2.5-6.5 6.5z" color="#0032ff"/><path d="M807 613l7-3 7 1.5-6.5-1z" color="#0054ff"/><path d="M821 611.5l6.5 7.5 7 1-6.5-9z" color="#003cff"/><path d="M834.5 620l6.5 21.5 7.5-23.5-7-11.5z" color="#0013ff"/><path d="M848.5 618l6.5 11.5 7-12.5-6.5-16.5z" color="#003dff"/><path d="M862 617l7 8 7-14-7-5.5z" color="#004aff"/><path d="M876 611l7 3.5 7-10.5-7-2.5z" color="#0079ff"/><path d="M617 594l5.5-1 8 0-5.5.5z" color="#00a3ff"/><path d="M644 592.5l5-22 8.5 26.5-5.5-2.5z" color="#00c6ff"/><path d="M739 618l6 4.5 7.5-3.5-6-6.5z" color="#0017ff"/><path d="M786.5 610l6.5-17 7 17.5-6.5 10.5z" color="#006fff"/><path d="M827.5 619l6.5 19.5 7 3-6.5-21.5z" color="#1100ff"/><path d="M869 625l7 5 7-15.5-7-3.5z" color="#0035ff"/><path d="M622.5 593l5.5-.5 8-1-5.5 1.5z" color="#00b6ff"/><path d="M663 602.5l6 7 8-4.5-6-2.5z" color="#006fff"/><path d="M690.5 603.5l6 13 7.5-.5-6-13.5z" color="#0057ff"/><path d="M704 616l6 5.5 8-1-6-5z" color="#001cff"/><path d="M745 622.5l6.5.5 7.5-.5-6.5-3.5z" color="#000cff"/><path d="M595 590.5l5.5 4 8.5-.5-5.5-3z" color="#00b2ff"/><path d="M609 594l5 .5 8.5-1.5-5.5 1z" color="#00acff"/><path d="M649 570.5l6.5 29.5 7.5 2.5-5.5-5.5z" color="#00bcff"/><path d="M636 591.5l5.5 1.5 7.5-22.5-5 22z" color="#00dcff"/><path d="M677 605l6 8 7.5-9.5-6-14.5z" color="#0080ff"/><path d="M718 620.5l6 6.5 7.5-4-6-6z" color="#0006ff"/><path d="M731.5 623l6 3 7.5-3.5-6-4.5z" color="#0005ff"/><path d="M759 622.5l6 1.5 7.5 2-6.5-2.5z" color="#0100ff"/><path d="M772.5 626l6.5-9 7.5-7-7 17.5z" color="#001eff"/><path d="M800 610.5l7-1 7 .5-7 3z" color="#0063ff"/><path d="M814 610l6.5 2 7 7-6.5-7.5z" color="#0057ff"/><path d="M841 641.5l6.5 5 7.5-17-6.5-11.5z" color="#2000ff"/><path d="M855 629.5l7 5 7-9.5-7-8z" color="#0003ff"/><path d="M696.5 616.5l6 5 7.5 0-6-5.5z" color="#0027ff"/><path d="M737.5 626l6.5-1.5 7.5-1.5-6.5-.5z" color="#000aff"/><path d="M779 617l6.5-9 7.5-15-6.5 17z" color="#0085ff"/><path d="M793 593l6.5 30.5 7.5-14-7 1z" color="#007aff"/><path d="M820.5 612l7 4.5 6.5 22-6.5-19.5z" color="#002eff"/><path d="M834 638.5l7 1.5 6.5 6.5-6.5-5z" color="#3a00ff"/><path d="M862 634.5l7 5 7-9.5-7-5z" color="#0d00ff"/><path d="M614 594.5l5.5 2 8.5-4-5.5.5z" color="#00b7ff"/><path d="M655.5 600l5.5 8 8 1.5-6-7z" color="#007bff"/><path d="M600.5 594.5l5.5 3 8-3-5-.5z" color="#00afff"/><path d="M628 592.5l5.5 2.5 8-2-5.5-1.5z" color="#00c1ff"/><path d="M641.5 593l5.5 5.5 8.5 1.5-6.5-29.5z" color="#00d3ff"/><path d="M669 609.5l6 7 8-3.5-6-8z" color="#0058ff"/><path d="M683 613l6 6 7.5-2.5-6-13z" color="#004eff"/><path d="M710 621.5l6.5 11.5 7.5-6-6-6.5z" color="#0400ff"/><path d="M751.5 623l6.5-2 7 3-6-1.5z" color="#0018ff"/><path d="M724 627l6 5 7.5-6-6-3z" color="#0800ff"/><path d="M765 624l6.5 0 7.5-7-6.5 9z" color="#001aff"/><path d="M807 609.5l6.5 0 7 2.5-6.5-2z" color="#0075ff"/><path d="M847.5 646.5l7.5-11 7-1-7-5z" color="#2100ff"/><path d="M606 597.5l5.5 5 8-6-5.5-2z" color="#00acff"/><path d="M633.5 595l5.5 7 8-3.5-5.5-5.5z" color="#00b5ff"/><path d="M647 598.5l6 9 8 .5-5.5-8z" color="#008fff"/><path d="M675 616.5l6 6 8-3.5-6-6z" color="#003cff"/><path d="M689 619l6 3.5 7.5-1-6-5z" color="#002fff"/><path d="M702.5 621.5l6 11.5 8 0-6.5-11.5z" color="#0200ff"/><path d="M730 632l6.5-2.5 7.5-5-6.5 1.5z" color="#0200ff"/><path d="M744 624.5l6.5-3.5 7.5 0-6.5 2z" color="#0029ff"/><path d="M771.5 624l6.5 1 7.5-17-6.5 9z" color="#0049ff"/><path d="M785.5 608l7-3 7 18.5-6.5-30.5z" color="#0091ff"/><path d="M799.5 623.5l7-11 7-3-6.5 0z" color="#006bff"/><path d="M813.5 609.5l7 .5 7 6.5-7-4.5z" color="#0079ff"/><path d="M827.5 616.5l7 0 6.5 23.5-7-1.5z" color="#0012ff"/><path d="M841 640l7-14 7 9.5-7.5 11z" color="#1b00ff"/><path d="M855 635.5l7 2.5 7 1.5-7-5z" color="#1800ff"/><path d="M619.5 596.5l6 6 8-7.5-5.5-2.5z" color="#00b5ff"/><path d="M661 608l6 9 8-.5-6-7z" color="#0058ff"/><path d="M716.5 633l6 12 7.5-13-6-5z" color="#1f00ff"/><path d="M758 621l6 0 7.5 3-6.5 0z" color="#002cff"/><path d="M806.5 612.5l6.5.5 7.5-3-7-.5z" color="#008aff"/><path d="M848 626l7.5.5 6.5 11.5-7-2.5z" color="#000dff"/><path d="M639 602l6 9 8-3.5-6-9z" color="#0093ff"/><path d="M681 622.5l6 4 8-4-6-3.5z" color="#0029ff"/><path d="M722.5 645l6-6.5 8-9-6.5 2.5z" color="#1d00ff"/><path d="M764 621l6.5 5 7.5-1-6.5-1z" color="#0032ff"/><path d="M611.5 602.5l6 7.5 8-7.5-6-6z" color="#009aff"/><path d="M625.5 602.5l5.5 8 8-8.5-5.5-7z" color="#009fff"/><path d="M653 607.5l6 10 8-.5-6-9z" color="#0065ff"/><path d="M667 617l6 8.5 8-3-6-6z" color="#0036ff"/><path d="M695 622.5l6 5.5 7.5 5-6-11.5z" color="#0012ff"/><path d="M708.5 633l6.5 13 7.5-1-6-12z" color="#2c00ff"/><path d="M736.5 629.5l6-18.5 8 10-6.5 3.5z" color="#003dff"/><path d="M750.5 621l6-.5 7.5.5-6 0z" color="#0045ff"/><path d="M778 625l6.5 4 8-24-7 3z" color="#0063ff"/><path d="M792.5 605l6.5 17 7.5-9.5-7 11z" color="#006bff"/><path d="M820.5 610l7 0 7 6.5-7 0z" color="#0080ff"/><path d="M834.5 616.5l7-3 6.5 12.5-7 14z" color="#0040ff"/><path d="M673 625.5l6 4.5 8-3.5-6-4z" color="#001eff"/><path d="M715 646l6-6 7.5-1.5-6 6.5z" color="#2f00ff"/><path d="M756.5 620.5l6.5 7 7.5-1.5-6.5-5z" color="#0042ff"/><path d="M799 622l6.5.5 7.5-9.5-6.5-.5z" color="#0070ff"/><path d="M813 613l7 1.5 7.5-4.5-7 0z" color="#0095ff"/><path d="M841.5 613.5l7 .5 7 12.5-7.5-.5z" color="#0067ff"/><path d="M617.5 610l5.5 9.5 8-9-5.5-8z" color="#0079ff"/><path d="M631 610.5l6 8.5 8-8-6-9z" color="#007bff"/><path d="M645 611l6 10.5 8-4-6-10z" color="#0066ff"/><path d="M659 617.5l6 10 8-2-6-8.5z" color="#0039ff"/><path d="M687 626.5l6 2 8-.5-6-5.5z" color="#0020ff"/><path d="M728.5 638.5l6.5-8 7.5-19.5-6 18.5z" color="#0021ff"/><path d="M770.5 626l6.5 9 7.5-6-6.5-4z" color="#0020ff"/><path d="M701 628l6 6 8 12-6.5-13z" color="#1100ff"/><path d="M742.5 611l6.5 14.5 7.5-5-6 .5z" color="#0059ff"/><path d="M784.5 629l7 4 7.5-11-6.5-17z" color="#004fff"/><path d="M827.5 610l7 1.5 7 2-7 3z" color="#0092ff"/><path d="M623 619.5l6 7.5 8-8-6-8.5z" color="#0054ff"/><path d="M651 621.5l6 14.5 8-8.5-6-10z" color="#002cff"/><path d="M665 627.5l6 4.5 8-2-6-4.5z" color="#001aff"/><path d="M679 630l6 0 8-1.5-6-2z" color="#001dff"/><path d="M707 634l6-1 8 7-6 6z" color="#1400ff"/><path d="M721 640l6.5-8 7.5-1.5-6.5 8z" color="#0500ff"/><path d="M749 625.5l6.5 7.5 7.5-5.5-6.5-7z" color="#003bff"/><path d="M763 627.5l6.5 14 7.5-6.5-6.5-9z" color="#0014ff"/><path d="M791.5 633l6.5 1.5 7.5-12-6.5-.5z" color="#003aff"/><path d="M805.5 622.5l7 0 7.5-8-7-1.5z" color="#007bff"/><path d="M820 614.5l6.5 15.5 8-18.5-7-1.5z" color="#0087ff"/><path d="M834.5 611.5l7 1 7 1.5-7-.5z" color="#00a0ff"/><path d="M637 619l6 9 8-6.5-6-10.5z" color="#0050ff"/><path d="M693 628.5l6 1 8 4.5-6-6z" color="#0018ff"/><path d="M735 630.5l6.5.5 7.5-5.5-6.5-14.5z" color="#0047ff"/><path d="M777 635l7 8.5 7.5-10.5-7-4z" color="#0003ff"/><path d="M826.5 630l7.5 1 7.5-18.5-7-1z" color="#0079ff"/><path d="M657 636l6 2.5 8-6.5-6-4.5z" color="#0006ff"/><path d="M699 629.5l6.5-.5 7.5 4-6 1z" color="#001fff"/><path d="M741.5 631l6.5 7.5 7.5-5.5-6.5-7.5z" color="#0023ff"/><path d="M784 643.5l6.5 2.5 7.5-11.5-6.5-1.5z" color="#0500ff"/><path d="M629 627l5.5 4 8.5-3-6-9z" color="#0034ff"/><path d="M643 628l6 13.5 8-5.5-6-14.5z" color="#000fff"/><path d="M671 632l6-2.5 8 .5-6 0z" color="#001fff"/><path d="M685 630l6-2 8 1.5-6-1z" color="#002dff"/><path d="M713 633l6.5-3 8 2-6.5 8z" color="#0010ff"/><path d="M727.5 632l6 .5 8-1.5-6.5-.5z" color="#0024ff"/><path d="M755.5 633l6.5 19 7.5-10.5-6.5-14z" color="#0500ff"/><path d="M769.5 641.5l6.5 15.5 8-13.5-7-8.5z" color="#1b00ff"/><path d="M798 634.5l7-1 7.5-11-7 0z" color="#0049ff"/><path d="M812.5 622.5l7 9.5 7-2-6.5-15.5z" color="#0061ff"/><path d="M691 628l6 0 8.5 1-6.5.5z" color="#0042ff"/><path d="M733.5 632.5l6.5 7.5 8-1.5-6.5-7.5z" color="#0019ff"/><path d="M776 657l7 1.5 7.5-12.5-6.5-2.5z" color="#2e00ff"/><path d="M819.5 632l7 1.5 7.5-2.5-7.5-1z" color="#0047ff"/><path d="M634.5 631l6 2 8.5 8.5-6-13.5z" color="#0012ff"/><path d="M649 641.5l5.5-1 8.5-2-6-2.5z" color="#0c00ff"/><path d="M663 638.5l6-9.5 8 .5-6 2.5z" color="#0021ff"/><path d="M705.5 629l6-.5 8 1.5-6.5 3z" color="#0039ff"/><path d="M748 638.5l6.5 15.5 7.5-2-6.5-19z" color="#1500ff"/><path d="M790.5 646l7 0 7.5-12.5-7 1z" color="#0006ff"/><path d="M677 629.5l6-2.5 8 1-6 2z" color="#003eff"/><path d="M719.5 630l6.5 1.5 7.5 1-6-.5z" color="#0032ff"/><path d="M762 652l6.5 31.5 7.5-26.5-6.5-15.5z" color="#4e00ff"/><path d="M805 633.5l7 .5 7.5-2-7-9.5z" color="#004bff"/><path d="M640.5 633l5.5-3.5 8.5 11-5.5 1z" color="#0010ff"/><path d="M683 627l6 5.5 8-4.5-6 0z" color="#004dff"/><path d="M697 628l6.5 23.5 8-23-6 .5z" color="#002bff"/><path d="M726 631.5l6.5 6.5 7.5 2-6.5-7.5z" color="#0028ff"/><path d="M740 640l6.5 10.5 8 3.5-6.5-15.5z" color="#1100ff"/><path d="M768.5 683.5l6.5-5.5 8-19.5-7-1.5z" color="#6f00ff"/><path d="M783 658.5l6.5 0 8-12.5-7 0z" color="#2700ff"/><path d="M812 634l7 2.5 7.5-3-7-1.5z" color="#0045ff"/><path d="M654.5 640.5l6-11.5 8.5 0-6 9.5z" color="#0021ff"/><path d="M669 629l6-1 8-1-6 2.5z" color="#004cff"/><path d="M711.5 628.5l6.5 3 8 0-6.5-1.5z" color="#0048ff"/><path d="M754.5 654l6.5 22.5 7.5 7-6.5-31.5z" color="#6600ff"/><path d="M797.5 646l7 2.5 7.5-14.5-7-.5z" color="#0015ff"/><path d="M646 629.5l6-2.5 8.5 2-6 11.5z" color="#0043ff"/><path d="M660.5 629l6 3 8.5-4-6 1z" color="#0052ff"/><path d="M675 628l6 10.5 8-6-6-5.5z" color="#0049ff"/><path d="M689 632.5l6.5 19.5 8-.5-6.5-23.5z" color="#000bff"/><path d="M703.5 651.5l6.5-12.5 8-7.5-6.5-3z" color="#0025ff"/><path d="M718 631.5l6.5 6 8 .5-6.5-6.5z" color="#003dff"/><path d="M732.5 638l6.5 8.5 7.5 4-6.5-10.5z" color="#0000ff"/><path d="M746.5 650.5l6.5 9.5 8 16.5-6.5-22.5z" color="#4300ff"/><path d="M761 676.5l6.5-.5 7.5 2-6.5 5.5z" color="#8900ff"/><path d="M775 678l7-8 7.5-11.5-6.5 0z" color="#5900ff"/><path d="M789.5 658.5l7 8 8-18-7-2.5z" color="#2700ff"/><path d="M804.5 648.5l6.5 6 8-18-7-2.5z" color="#0013ff"/><path d="M666.5 632l6.5 14 8-7.5-6-10.5z" color="#0038ff"/><path d="M710 639l6.5 3.5 8-5-6.5-6z" color="#0037ff"/><path d="M753 660l7 4.5 7.5 11.5-6.5.5z" color="#5d00ff"/><path d="M796.5 666.5l7 10.5 7.5-22.5-6.5-6z" color="#3800ff"/><path d="M652 627l6.5 10.5 8-5.5-6-3z" color="#0054ff"/><path d="M681 638.5l6.5 2 8 11.5-6.5-19.5z" color="#001bff"/><path d="M695.5 652l6.5 8.5 8-21.5-6.5 12.5z" color="#1800ff"/><path d="M724.5 637.5l6.5 7 8 2-6.5-8.5z" color="#001eff"/><path d="M739 646.5l6.5 6.5 7.5 7-6.5-9.5z" color="#1900ff"/><path d="M767.5 676l7-1 7.5-5-7 8z" color="#7000ff"/><path d="M782 670l7 12 7.5-15.5-7-8z" color="#5900ff"/><path d="M658.5 637.5l6 18.5 8.5-10-6.5-14z" color="#0019ff"/><path d="M673 646l6 18.5 8.5-24-6.5-2z" color="#0200ff"/><path d="M702 660.5l6-5 8.5-13-6.5-3.5z" color="#0700ff"/><path d="M716.5 642.5l6.5 5.5 8-3.5-6.5-7z" color="#0022ff"/><path d="M745.5 653l6.5 3.5 8 8-7-4.5z" color="#2700ff"/><path d="M760 664.5l6.5 7 8 3.5-7 1z" color="#5c00ff"/><path d="M789 682l6.5 13.5 8-18.5-7-10.5z" color="#7800ff"/><path d="M687.5 640.5l6.5 33 8-13-6.5-8.5z" color="#2700ff"/><path d="M731 644.5l6.5 4.5 8 4-6.5-6.5z" color="#0003ff"/><path d="M774.5 675l6.5 13 8-6-7-12z" color="#7400ff"/><path d="M737.5 649l6.5 4 8 3.5-6.5-3.5z" color="#0600ff"/><path d="M781 688l7 13 7.5-5.5-6.5-13.5z" color="#9900ff"/><path d="M664.5 656l6.5 16 8-7.5-6-18.5z" color="#2b00ff"/><path d="M679 664.5l6.5 9.5 8.5-.5-6.5-33z" color="#3800ff"/><path d="M694 673.5l6-6 8-12-6 5z" color="#3c00ff"/><path d="M708 655.5l6.5 2 8.5-9.5-6.5-5.5z" color="#0200ff"/><path d="M723 648l6.5 4.5 8-3.5-6.5-4.5z" color="#0010ff"/><path d="M752 656.5l7 6.5 7.5 8.5-6.5-7z" color="#3200ff"/><path d="M766.5 671.5l7 11 7.5 5.5-6.5-13z" color="#6d00ff"/><path d="M685.5 674l6.5.5 8-7-6 6z" color="#5300ff"/><path d="M729.5 652.5l6.5 6.5 8-6-6.5-4z" color="#0002ff"/><path d="M744 653l7 10.5 8-.5-7-6.5z" color="#1400ff"/><path d="M773.5 682.5l6.5 10.5 8 8-7-13z" color="#8f00ff"/><path d="M671 672l6.5 7.5 8-5.5-6.5-9.5z" color="#5500ff"/><path d="M700 667.5l6.5 0 8-10-6.5-2z" color="#2600ff"/><path d="M714.5 657.5l6.5 4 8.5-9-6.5-4.5z" color="#0700ff"/><path d="M759 663l6.5 8.5 8 11-7-11z" color="#4800ff"/><path d="M677.5 679.5l6 .5 8.5-5.5-6.5-.5z" color="#5c00ff"/><path d="M692 674.5l6.5 0 8-7-6.5 0z" color="#4100ff"/><path d="M721 661.5l7 5.5 8-8-6.5-6.5z" color="#1100ff"/><path d="M736 659l6.5 21.5 8.5-17-7-10.5z" color="#1f00ff"/><path d="M751 663.5l6.5 9.5 8-1.5-6.5-8.5z" color="#2c00ff"/><path d="M765.5 671.5l7 7 7.5 14.5-6.5-10.5z" color="#6200ff"/><path d="M706.5 667.5l6.5 2.5 8-8.5-6.5-4z" color="#2300ff"/><path d="M683.5 680l6.5-2 8.5-3.5-6.5 0z" color="#4f00ff"/><path d="M698.5 674.5l6 0 8.5-4.5-6.5-2.5z" color="#3800ff"/><path d="M713 670l6.5 2 8.5-5-7-5.5z" color="#2600ff"/><path d="M728 667l6.5 15.5 8-2-6.5-21.5z" color="#3700ff"/><path d="M742.5 680.5l7 12.5 8-20-6.5-9.5z" color="#4a00ff"/><path d="M757.5 673l7-2.5 8 8-7-7z" color="#3800ff"/><path d="M704.5 674.5l7 .5 8-3-6.5-2z" color="#3100ff"/><path d="M749.5 693l7-17 8-5.5-7 2.5z" color="#4100ff"/><path d="M690 678l6.5-1.5 8-2-6 0z" color="#4000ff"/><path d="M719.5 672l7 3.5 8 7-6.5-15.5z" color="#3500ff"/><path d="M734.5 682.5l7 8 8 2.5-7-12.5z" color="#6400ff"/><path d="M696.5 676.5l6.5.5 8.5-2-7-.5z" color="#3300ff"/><path d="M711.5 675l6.5 1 8.5-.5-7-3.5z" color="#2c00ff"/><path d="M741.5 690.5l7-13 8-1.5-7 17z" color="#5000ff"/><path d="M726.5 675.5l6.5 1.5 8.5 13.5-7-8z" color="#4500ff"/><path d="M703 677l6.5 1.5 8.5-2.5-6.5-1z" color="#2b00ff"/><path d="M718 676l7 0 8 1-6.5-1.5z" color="#2700ff"/><path d="M733 677l7-2.5 8.5 3-7 13z" color="#3400ff"/><path d="M725 676l6.5.5 8.5-2-7 2.5z" color="#1b00ff"/><path d="M709.5 678.5l7 .5 8.5-3-7 0z" color="#2200ff"/><path d="M716.5 679l6.5 1 8.5-3.5-6.5-.5z" color="#1800ff"/></g><path d="M577.3 675.0L570.0 447.4M577.3 675.0L723.3 750.5 906.7 686.0M576.9 663.1h-6M575.8 627.9h-4M574.7 592.8h-6M573.5 557.7h-4M572.4 522.6h-6M571.3 487.5h-4M570.1 452.3h-6M577.3 675.0l-5.0 4.0M723.3 750.5l5.0 4.0M591.5 682.3l-3.0 2.4M746.3 742.4l3.0 2.4M606.1 689.9l-5.0 4.0M768.5 734.6l5.0 4.0M621.2 697.7l-3.0 2.4M790.1 727.0l3.0 2.4M636.8 705.8l-5.0 4.0M811.0 719.6l5.0 4.0M652.9 714.1l-3.0 2.4M831.3 712.5l3.0 2.4M669.6 722.7l-5.0 4.0M851.0 705.6l5.0 4.0M686.9 731.7l-3.0 2.4M870.1 698.9l3.0 2.4M704.8 740.9l-5.0 4.0M888.7 692.3l5.0 4.0M723.3 750.5l-3.0 2.4M906.7 686.0l3.0 2.4" fill="none" stroke="#444" stroke-width="1.2"/><text x="567.9" y="669.1" font-size="17.4" text-anchor="end">200</text><text x="565.7" y="598.8" font-size="17.4" text-anchor="end">300</text><text x="563.4" y="528.6" font-size="17.4" text-anchor="end">400</text><text x="561.1" y="458.3" font-size="17.4" text-anchor="end">500</text><text transform="translate(576.0 692.0) rotate(55)" font-size="17.4" text-anchor="middle" dy="0.36em">0</text><text transform="translate(602.0 706.0) rotate(55)" font-size="17.4" text-anchor="middle" dy="0.36em">2</text><text transform="translate(632.0 720.0) rotate(55)" font-size="17.4" text-anchor="middle" dy="0.36em">4</text><text transform="translate(660.0 737.0) rotate(55)" font-size="17.4" text-anchor="middle" dy="0.36em">6</text><text transform="translate(693.0 753.0) rotate(55)" font-size="17.4" text-anchor="middle" dy="0.36em">8</text><text transform="translate(752.0 756.0) rotate(0)" font-size="17.4" text-anchor="middle" dy="0.36em">0</text><text transform="translate(798.0 739.0) rotate(0)" font-size="17.4" text-anchor="middle" dy="0.36em">2</text><text transform="translate(830.0 727.0) rotate(0)" font-size="17.4" text-anchor="middle" dy="0.36em">4</text><text transform="translate(867.0 714.0) rotate(0)" font-size="17.4" text-anchor="middle" dy="0.36em">6</text><text transform="translate(900.0 703.0) rotate(0)" font-size="17.4" text-anchor="middle" dy="0.36em">8</text><text transform="translate(619.0 737.5) rotate(28)" font-size="21.5" text-anchor="middle" dy="0.36em">Dimension (μm)</text><text transform="translate(843.0 745.0) rotate(-20.6)" font-size="21.5" text-anchor="middle" dy="0.36em">Dimension (μm)</text><path d="M578.6 1054.3L571.1 825.3M756.9 1006.4L758.2 802.2M578.6 1054.3L756.9 1006.4M578.6 1054.3L724.7 1129.5M621.9 1042.7L616.7 819.7M787.5 1018.4L790.2 808.8M607.6 1069.3L787.5 1018.4M621.9 1042.7L769.9 1113.9M662.9 1031.6L659.9 814.4M819.7 1031.1L824.1 815.7M638.5 1085.1L819.7 1031.1M662.9 1031.6L812.5 1099.2M701.9 1021.2L700.8 809.3M853.8 1044.5L859.9 823.0M671.3 1102.0L853.8 1044.5M701.9 1021.2L852.6 1085.4M739.0 1011.2L739.6 804.5M889.9 1058.6L898.0 830.7M706.3 1120.0L889.9 1058.6M739.0 1011.2L890.5 1072.3M756.9 1006.4L758.2 802.2M908.7 1066.0L917.9 834.7M724.7 1129.5L908.7 1066.0M756.9 1006.4L908.7 1066.0M578.3 1043.6L757.0 996.8 909.1 1055.2M577.1 1007.8L757.2 964.9 910.6 1019.0M575.9 972.0L757.4 933.0 912.0 982.9M574.8 936.2L757.6 901.1 913.5 946.8M573.6 900.4L757.8 869.2 914.9 910.6M572.4 864.6L758.0 837.3 916.3 874.5M571.3 828.9L758.2 805.4 917.8 838.3" fill="none" stroke="#d8d8d8" stroke-width="0.9"/><path d="M571.1 825.3L758.2 802.2M578.6 1054.3L756.9 1006.4M758.2 802.2L917.9 834.7M756.9 1006.4L908.7 1066.0M756.9 1006.4L758.2 802.2M908.7 1066.0L917.9 834.7" fill="none" stroke="#8a8a8a" stroke-width="1"/><g fill="currentColor" stroke="currentColor" stroke-width="0.6" stroke-linejoin="round"><path d="M751 875l5.5 0 7-4-5.5-5z" color="#ffe700"/><path d="M744.5 873.5l5.5-1 6.5 2.5-5.5 0z" color="#ffec00"/><path d="M756.5 875l6 4 6.5-.5-5.5-7.5z" color="#fff300"/><path d="M738 865.5l5.5 6 6.5 1-5.5 1z" color="#ffd800"/><path d="M750 872.5l5.5 1.5 7 5-6-4z" color="#ffea00"/><path d="M762.5 879l5.5 2 6.5 6.5-5.5-9z" color="#f5ff08"/><path d="M755.5 874l6-6.5 6.5 13.5-5.5-2z" color="#ffe400"/><path d="M731 866.5l5.5 11 7-6-5.5-6z" color="#ffd000"/><path d="M743.5 871.5l5.5-6 6.5 8.5-5.5-1.5z" color="#ffd100"/><path d="M768 881l5.5 3.5 6.5 8-5.5-5z" color="#dfff1a"/><path d="M724.5 873l5.5 11.5 6.5-7-5.5-11z" color="#ffe200"/><path d="M749 865.5l5.5 11.5 7-9.5-6 6.5z" color="#ffcb00"/><path d="M761.5 867.5l5.5-.5 6.5 17.5-5.5-3.5z" color="#ffdc00"/><path d="M736.5 877.5l5.5 11.5 7-23.5-5.5 6z" color="#ffe300"/><path d="M773.5 884.5l6-1.5 6.5-4-6 13.5z" color="#f4ff09"/><path d="M717.5 876.5l5.5 9 7-1-5.5-11.5z" color="#fff200"/><path d="M730 884.5l5.5 7 6.5-2.5-5.5-11.5z" color="#eeff0d"/><path d="M742 889l6 7.5 6.5-19.5-5.5-11.5z" color="#fff700"/><path d="M754.5 877l6-3 6.5-7-5.5.5z" color="#ffc700"/><path d="M767 867l6 13.5 6.5 2.5-6 1.5z" color="#ffe600"/><path d="M779.5 883l6-13 6.5-7.5-6 16.5z" color="#ffcc00"/><path d="M735.5 891.5l5.5 4 7 1-6-7.5z" color="#c7ff2d"/><path d="M710.5 878.5l5.5 5 7 2-5.5-9z" color="#fff100"/><path d="M723 885.5l5.5 2.5 7 3.5-5.5-7z" color="#eaff11"/><path d="M748 896.5l5.5-3 7-19.5-6 3z" color="#feff01"/><path d="M760.5 874l5.5 11 7-4.5-6-13.5z" color="#ffd700"/><path d="M773 880.5l5.5-3.5 7-7-6 13z" color="#ffda00"/><path d="M785.5 870l6-15 6.5 3.5-6 4z" color="#ff9d00"/><path d="M703.5 870l5.5 1 7 12.5-5.5-5z" color="#ffd400"/><path d="M728.5 888l5.5.5 7 7-5.5-4z" color="#dfff1a"/><path d="M741 895.5l5.5-2 7 0-5.5 3z" color="#c7ff2d"/><path d="M778.5 877l6.5-15.5 6.5-6.5-6 15z" color="#ffa800"/><path d="M716 883.5l5.5 1.5 7 3-5.5-2.5z" color="#ffff00"/><path d="M753.5 893.5l6-25 6.5 16.5-5.5-11z" color="#ffe200"/><path d="M766 885l6-2 6.5-6-5.5 3.5z" color="#ffe500"/><path d="M791.5 855l6.5-22 6.5 13-6.5 12.5z" color="#ff6b00"/><path d="M696 842.5l5.5-5 7.5 33.5-5.5-1z" color="#ff8800"/><path d="M709 871l5.5 11.5 7 2.5-5.5-1.5z" color="#ffe200"/><path d="M721.5 885l5.5.5 7 3-5.5-.5z" color="#fffc00"/><path d="M734 888.5l6 .5 6.5 4.5-5.5 2z" color="#e4ff16"/><path d="M746.5 893.5l6-6 7-19-6 25z" color="#fff500"/><path d="M772 883l6-11.5 7-10-6.5 15.5z" color="#ffbe00"/><path d="M785 861.5l6-16 7-12.5-6.5 22z" color="#ff6900"/><path d="M759.5 868.5l5.5 17 7-2.5-6 2z" color="#ffdc00"/><path d="M798 833l6-8 6.5 16-6 5z" color="#ff3e01"/><path d="M714.5 882.5l5.5 6 7-3-5.5-.5z" color="#fff100"/><path d="M752.5 887.5l6-4.5 6.5 2.5-5.5-17z" color="#ffd900"/><path d="M791 845.5l6-3.5 7-17-6 8z" color="#ff3c01"/><path d="M689 820l5.5-9 7 26.5-5.5 5z" color="#fd2e06"/><path d="M701.5 837.5l6 29 7 16-5.5-11.5z" color="#ffa200"/><path d="M727 885.5l6-.5 7 4-6-.5z" color="#fff700"/><path d="M740 889l5.5-6.5 7 5-6 6z" color="#fffb00"/><path d="M765 885.5l6-8 7-6-6 11.5z" color="#ffcf00"/><path d="M778 871.5l6-4.5 7-21.5-6 16z" color="#ff9000"/><path d="M804 825l6 23.5 6.5 10-6-17.5z" color="#ff5100"/><path d="M681.5 839.5l5.5-8 7.5-20.5-5.5 9z" color="#fc2609"/><path d="M707.5 866.5l5.5 21.5 7 .5-5.5-6z" color="#ffda00"/><path d="M720 888.5l6-7.5 7 4-6 .5z" color="#ffe800"/><path d="M745.5 882.5l6-11.5 7 12-6 4.5z" color="#ffd300"/><path d="M758.5 883l5.5-3 7-2.5-6 8z" color="#ffd400"/><path d="M784 867l6 6.5 7-31.5-6 3.5z" color="#ff7d00"/><path d="M797 842l6 20 7-13.5-6-23.5z" color="#ff5100"/><path d="M694.5 811l5.5 36 7.5 19.5-6-29z" color="#ff4e00"/><path d="M733 885l5.5-6.5 7 4-5.5 6.5z" color="#ffe200"/><path d="M771 877.5l6 3 7-13.5-6 4.5z" color="#ffb700"/><path d="M810 848.5l5.5 18.5 7 1-6-9.5z" color="#ff8600"/><path d="M674.5 868l5.5-5 7-31.5-5.5 8z" color="#ff6d00"/><path d="M687 831.5l6 26.5 7-11-5.5-36z" color="#ff3f00"/><path d="M700 847l6 34.5 7 6.5-5.5-21.5z" color="#ffae00"/><path d="M713 888l5.5-9.5 7.5 2.5-6 7.5z" color="#ffdf00"/><path d="M726 881l5.5-9 7 6.5-5.5 6.5z" color="#ffc800"/><path d="M738.5 878.5l6-7.5 7 0-6 11.5z" color="#ffbc00"/><path d="M751.5 871l5.5 5.5 7 3.5-5.5 3z" color="#ffc100"/><path d="M764 880l6 12 7-11.5-6-3z" color="#ffd100"/><path d="M777 880.5l6 15.5 7-22.5-6-6.5z" color="#ffc300"/><path d="M790 873.5l6 13 7-24.5-6-20z" color="#ff9500"/><path d="M803 862l6 19 6.5-14-5.5-18.5z" color="#ff8f00"/><path d="M815.5 867l6 17.5 6.5 0-5.5-16.5z" color="#ffb400"/><path d="M680 863l5.5-2 7.5-3-6-26.5z" color="#ff7100"/><path d="M693 858l5.5 30 7.5-6.5-6-34.5z" color="#ffa300"/><path d="M731.5 872l6 3.5 7-4.5-6 7.5z" color="#ffb200"/><path d="M770 892l6 20 7-16-6-15.5z" color="#fcff02"/><path d="M809 881l6.5-18 6 21.5-6-17.5z" color="#ffa900"/><path d="M667.5 872.5l5-3 7.5-6.5-5.5 5z" color="#ffa400"/><path d="M706 881.5l5.5-29 7 26-5.5 9.5z" color="#ffb800"/><path d="M718.5 878.5l6-9.5 7 3-5.5 9z" color="#ffb600"/><path d="M744.5 871l5.5 10.5 7-5-5.5-5.5z" color="#ffb400"/><path d="M757 876.5l6 24 7-8.5-6-12z" color="#ffe100"/><path d="M783 896l5.5 8 7.5-17.5-6-13z" color="#ffe900"/><path d="M796 886.5l5.5 11.5 7.5-17-6-19z" color="#ffc500"/><path d="M821.5 884.5l6 19.5 6.5 3.5-6-23z" color="#fffb00"/><path d="M698.5 888l6 3.5 7-39-5.5 29z" color="#ffbf00"/><path d="M737.5 875.5l5.5 16.5 7-10.5-5.5-10.5z" color="#ffc000"/><path d="M776 912l5.5 4.5 7-12.5-5.5-8z" color="#baff38"/><path d="M815.5 863l5.5 43 6.5-2-6-19.5z" color="#ffdb00"/><path d="M660 880l5.5-3.5 7-7-5 3z" color="#ffb600"/><path d="M672.5 869.5l6 14 7-22.5-5.5 2z" color="#ffa200"/><path d="M685.5 861l6 37 7-10-5.5-30z" color="#ffb800"/><path d="M724.5 869l5.5 11 7.5-4.5-6-3.5z" color="#ffad00"/><path d="M763 900.5l5.5 24 7.5-12.5-6-20z" color="#b6ff3b"/><path d="M801.5 898l6.5 8 7.5-43-6.5 18z" color="#ffd300"/><path d="M711.5 852.5l5.5 21 7.5-4.5-6 9.5z" color="#ff9c00"/><path d="M750 881.5l6 24 7-5-6-24z" color="#ffeb00"/><path d="M788.5 904l6.5.5 6.5-6.5-5.5-11.5z" color="#f5ff08"/><path d="M827.5 904l6.5 3 6.5 3.5-6.5-3z" color="#c2ff32"/><path d="M652.5 894.5l5.5-2.5 7.5-15.5-5.5 3.5z" color="#ffda00"/><path d="M665.5 876.5l5.5 7.5 7.5-.5-6-14z" color="#ffbd00"/><path d="M691.5 898l5.5 5 7.5-11.5-6-3.5z" color="#fffe00"/><path d="M704.5 891.5l5.5-3 7-15-5.5-21z" color="#ffb300"/><path d="M730 880l6 21.5 7-9.5-5.5-16.5z" color="#ffd700"/><path d="M743 892l6 21.5 7-8-6-24z" color="#f6ff07"/><path d="M768.5 924.5l6 4 7-12-5.5-4.5z" color="#64ff8c"/><path d="M781.5 916.5l6.5-7.5 7-4.5-6.5-.5z" color="#bbff37"/><path d="M808 906l6 6 7-6-5.5-43z" color="#fff600"/><path d="M821 906l6-.5 7 1.5-6.5-3z" color="#d5ff22"/><path d="M678.5 883.5l5.5 14 7.5.5-6-37z" color="#ffd300"/><path d="M717 873.5l6 14 7-7.5-5.5-11z" color="#ffb500"/><path d="M756 905.5l5.5 23.5 7-4.5-5.5-24z" color="#89ff67"/><path d="M795 904.5l6 1 7 .5-6.5-8z" color="#ddff1b"/><path d="M834 907l6-1.5 7-.5-6.5 5.5z" color="#cfff27"/><path d="M658 892l5.5-1.5 7.5-6.5-5.5-7.5z" color="#ffd300"/><path d="M710 888.5l5.5 11 7.5-12-6-14z" color="#ffd300"/><path d="M749 913.5l5.5 16.5 7-1-5.5-23.5z" color="#71ff7f"/><path d="M788 909l6-2.5 7-1-6-1z" color="#d4ff23"/><path d="M645 892.5l5.5 8.5 7.5-9-5.5 2.5z" color="#fffd00"/><path d="M671 884l5.5 7 7.5 6.5-5.5-14z" color="#ffdf00"/><path d="M684 897.5l5.5 4 7.5 1.5-5.5-5z" color="#e9ff12"/><path d="M697 903l5.5 2 7.5-16.5-5.5 3z" color="#ffff00"/><path d="M723 887.5l5.5 19 7.5-5-6-21.5z" color="#ffee00"/><path d="M736 901.5l6 19 7-7-6-21.5z" color="#c6ff2e"/><path d="M761.5 929l6 7.5 7-8-6-4z" color="#32ffbe"/><path d="M774.5 928.5l6.5-11 7-8.5-6.5 7.5z" color="#83ff6d"/><path d="M801 905.5l6 5.5 7 1-6-6z" color="#c8ff2c"/><path d="M814 912l6.5-3 6.5-3.5-6 .5z" color="#ceff28"/><path d="M827 905.5l6.5 0 6.5 0-6 1.5z" color="#dfff1a"/><path d="M840 905.5l7-3.5 6.5 0-6.5 3z" color="#f0ff0c"/><path d="M715.5 899.5l6 12 7-5-5.5-19z" color="#f1ff0b"/><path d="M754.5 930l6 6 7 .5-6-7.5z" color="#27ffc9"/><path d="M794 906.5l6.5.5 6.5 4-6-5.5z" color="#d8ff1f"/><path d="M833.5 905.5l6.5-6 7 2.5-7 3.5z" color="#fcff02"/><path d="M637 880.5l6 21.5 7.5-1-5.5-8.5z" color="#fff300"/><path d="M650.5 901l5.5 2 7.5-12.5-5.5 1.5z" color="#fffd00"/><path d="M663.5 890.5l5.5-3.5 7.5 4-5.5-7z" color="#ffd600"/><path d="M676.5 891l5.5.5 7.5 10-5.5-4z" color="#fff400"/><path d="M702.5 905l6 5.5 7-11-5.5-11z" color="#f1ff0b"/><path d="M742 920.5l5.5 10 7-.5-5.5-16.5z" color="#5eff92"/><path d="M781 917.5l6-7 7-4-6 2.5z" color="#c0ff33"/><path d="M689.5 901.5l6 4.5 7-1-5.5-2z" color="#dbff1d"/><path d="M728.5 906.5l6 10 7.5 4-6-19z" color="#b3ff3d"/><path d="M767.5 936.5l6.5-12 7-7-6.5 11z" color="#50ffa0"/><path d="M807 911l6.5-7 7 5-6.5 3z" color="#d1ff25"/><path d="M820.5 909l6.5-5 6.5 1.5-6.5 0z" color="#e7ff14"/><path d="M847 902l6.5-11 6.5 1.5-6.5 9.5z" color="#ffe400"/><path d="M629 865.5l6 18.5 8 18-6-21.5z" color="#ffc100"/><path d="M643 902l5.5 7.5 7.5-6.5-5.5-2z" color="#ddff1b"/><path d="M669 887l5.5-2 7.5 6.5-5.5-.5z" color="#ffd100"/><path d="M682 891.5l5.5 5.5 8 9-6-4.5z" color="#fffd00"/><path d="M708.5 910.5l5.5 3.5 7.5-2.5-6-12z" color="#caff2b"/><path d="M721.5 911.5l6 0 7 5-6-10z" color="#bbff37"/><path d="M747.5 930.5l6-19.5 7 25-6-6z" color="#55ff9b"/><path d="M760.5 936l6.5-7 7-4.5-6.5 12z" color="#3bffb5"/><path d="M787 910.5l6.5-3.5 7 0-6.5-.5z" color="#dfff1a"/><path d="M800.5 907l6.5-12.5 6.5 9.5-6.5 7z" color="#f9ff05"/><path d="M827 904l6 3 7-7.5-6.5 6z" color="#ffff00"/><path d="M840 899.5l7-12.5 6.5 4-6.5 11z" color="#ffd600"/><path d="M656 903l5.5-9 7.5-7-5.5 3.5z" color="#ffe900"/><path d="M695.5 906l5.5 5.5 7.5-1-6-5.5z" color="#cbff2a"/><path d="M734.5 916.5l6 8 7 6-5.5-10z" color="#6dff83"/><path d="M774 924.5l6-9.5 7-4.5-6 7z" color="#a1ff4f"/><path d="M813.5 904l6.5-9.5 7 9.5-6.5 5z" color="#fffc00"/><path d="M853.5 891l7-10 7-3-7.5 14.5z" color="#ffb400"/><path d="M727.5 911.5l5.5 4 7.5 9-6-8z" color="#a2ff4e"/><path d="M767 929l5.5 24.5 7.5-38.5-6 9.5z" color="#4dffa3"/><path d="M635 884l5.5 6.5 8 19-5.5-7.5z" color="#fff000"/><path d="M674.5 885l5.5 8 7.5 4-5.5-5.5z" color="#ffd700"/><path d="M621 847l5.5 8 8.5 29-6-18.5z" color="#ff7b00"/><path d="M648.5 909.5l5.5-8 7.5-7.5-5.5 9z" color="#f4ff09"/><path d="M661.5 894l5.5-2 7.5-7-5.5 2z" color="#ffcf00"/><path d="M687.5 897l6 12 7.5 2.5-5.5-5.5z" color="#e3ff17"/><path d="M701 911.5l6 2 7 .5-5.5-3.5z" color="#bcff36"/><path d="M714 914l6-3 7.5.5-6 0z" color="#c2ff32"/><path d="M740.5 924.5l6 13 7-26.5-6 19.5z" color="#65ff8b"/><path d="M753.5 911l6 23.5 7.5-5.5-6.5 7z" color="#5cff94"/><path d="M780 915l6.5-1.5 7-6.5-6.5 3.5z" color="#d0ff26"/><path d="M793.5 907l6.5-6 7-6.5-6.5 12.5z" color="#fff600"/><path d="M807 894.5l6.5-8 6.5 8-6.5 9.5z" color="#ffd400"/><path d="M820 894.5l6.5 4 6.5 8.5-6-3z" color="#ffec00"/><path d="M833 907l7-20 7 0-7 12.5z" color="#ffd200"/><path d="M847 887l7-4 6.5-2-7 10z" color="#ffb000"/><path d="M860.5 881l7-1.5 7-8.5-7 7z" color="#ff9400"/><path d="M733 915.5l6 18 7.5 4-6-13z" color="#63ff8d"/><path d="M772.5 953.5l6.5-32.5 7.5-7.5-6.5 1.5z" color="#7aff76"/><path d="M813.5 886.5l6.5-5.5 6.5 17.5-6.5-4z" color="#ffbd00"/><path d="M854 883l6.5 4 7-7.5-7 1.5z" color="#ffa100"/><path d="M613 845.5l5.5 1 8 8.5-5.5-8z" color="#ff4900"/><path d="M640.5 890.5l5.5-1.5 8 12.5-5.5 8z" color="#ffee00"/><path d="M654 901.5l5.5 1.5 7.5-11-5.5 2z" color="#ffec00"/><path d="M680 893l6 17 7.5-1-6-12z" color="#fffd00"/><path d="M693.5 909l6 4.5 7.5 0-6-2z" color="#c8ff2d"/><path d="M720 911l6 .5 7 4-5.5-4z" color="#caff2b"/><path d="M759.5 934.5l6.5-9.5 6.5 28.5-5.5-24.5z" color="#39ffb7"/><path d="M626.5 855l5.5 5.5 8.5 30-5.5-6.5z" color="#ff9500"/><path d="M667 892l5.5-14 7.5 15-5.5-8z" color="#ffc100"/><path d="M707 913.5l5.5-2.5 7.5 0-6 3z" color="#c8ff2c"/><path d="M746.5 937.5l6 5.5 7-8.5-6-23.5z" color="#4effa2"/><path d="M786.5 913.5l6 3.5 7.5-16-6.5 6z" color="#e8ff13"/><path d="M800 901l6 4 7.5-18.5-6.5 8z" color="#ffd600"/><path d="M826.5 898.5l6.5-1 7-10.5-7 20z" color="#ffd600"/><path d="M840 887l7-1 7-3-7 4z" color="#ffad00"/><path d="M867.5 879.5l6.5 3.5 7-5.5-6.5-6.5z" color="#ff9000"/><path d="M646 889l5.5 8.5 8 5.5-5.5-1.5z" color="#ffe700"/><path d="M686 910l6 7.5 7.5-4-6-4.5z" color="#cdff28"/><path d="M726 911.5l6 8 7 14-6-18z" color="#a5ff4b"/><path d="M739 933.5l6 9 7.5.5-6-5.5z" color="#29ffc7"/><path d="M766 925l6-3.5 7-.5-6.5 32.5z" color="#65ff8b"/><path d="M779 921l6.5 4 7-8-6-3.5z" color="#b5ff3c"/><path d="M806 905l6.5 16 7.5-40-6.5 5.5z" color="#ffd500"/><path d="M820 881l6 31.5 7-15-6.5 1z" color="#ffd000"/><path d="M847 886l6.5 4.5 7-3.5-6.5-4z" color="#ffaa00"/><path d="M860.5 887l6.5-.5 7-3.5-6.5-3.5z" color="#ffa000"/><path d="M605 857.5l5.5-3.5 8-7.5-5.5-1z" color="#ff4d00"/><path d="M618.5 846.5l5 2.5 8.5 11.5-5.5-5.5z" color="#ff5200"/><path d="M659.5 903l5.5 6 7.5-31-5.5 14z" color="#ffdc00"/><path d="M632 860.5l5.5 7.5 8.5 21-5.5 1.5z" color="#ff9f00"/><path d="M672.5 878l6 32 7.5 0-6-17z" color="#ffe400"/><path d="M699.5 913.5l5.5-3.5 7.5 1-5.5 2.5z" color="#d3ff24"/><path d="M712.5 911l6-.5 7.5 1-6-.5z" color="#dcff1c"/><path d="M752.5 943l6-32 7.5 14-6.5 9.5z" color="#6fff81"/><path d="M792.5 917l6.5 7 7-19-6-4z" color="#e6ff14"/><path d="M833 897.5l7-2.5 7-9-7 1z" color="#ffba00"/><path d="M874 883l7 2.5 6.5-2-6.5-6z" color="#ff9900"/><path d="M745 942.5l6.5-11.5 7-20-6 32z" color="#60ff90"/><path d="M651.5 897.5l5.5 9.5 8 2-5.5-6z" color="#fffb00"/><path d="M623.5 849l6 11 8 8-5.5-7.5z" color="#ff6200"/><path d="M597 861.5l5.5-6.5 8-1-5.5 3.5z" color="#ff5d00"/><path d="M610.5 854l5.5-1 7.5-4-5-2.5z" color="#ff4800"/><path d="M637.5 868l6 14.5 8 15-5.5-8.5z" color="#ffb100"/><path d="M665 909l5.5.5 8 .5-6-32z" color="#ffee00"/><path d="M678.5 910l5.5 5.5 8 2-6-7.5z" color="#d2ff25"/><path d="M692 917.5l5.5-5.5 7.5-2-5.5 3.5z" color="#d4ff23"/><path d="M705 910l6-4 7.5 4.5-6 .5z" color="#efff0d"/><path d="M718.5 910.5l6-1.5 7.5 10.5-6-8z" color="#ddff1b"/><path d="M732 919.5l6 1.5 7 21.5-6-9z" color="#71ff7f"/><path d="M758.5 911l6.5-11 7 21.5-6 3.5z" color="#d9ff1f"/><path d="M772 921.5l6.5-2 7 5.5-6.5-4z" color="#aeff42"/><path d="M785.5 925l6 1.5 7.5-2.5-6.5-7z" color="#a7ff49"/><path d="M799 924l6 4 7.5-7-6.5-16z" color="#c2ff31"/><path d="M812.5 921l6.5-.5 7-8-6-31.5z" color="#fff900"/><path d="M826 912.5l6.5-7.5 7.5-10-7 2.5z" color="#ffde00"/><path d="M840 895l6.5 1 7-5.5-6.5-4.5z" color="#ffb600"/><path d="M853.5 890.5l7-1.5 6.5-2.5-6.5.5z" color="#ffa900"/><path d="M867 886.5l7-2.5 7 1.5-7-2.5z" color="#ff9d00"/><path d="M881 885.5l7-7.5 7-3.5-7.5 9z" color="#ff8d00"/><path d="M751.5 931l6-12 7.5-19-6.5 11z" color="#ddff1c"/><path d="M791.5 926.5l6.5.5 7 1-6-4z" color="#9eff52"/><path d="M832.5 905l7-4 7-5-6.5-1z" color="#ffca00"/><path d="M874 884l7.5-6 6.5 0-7 7.5z" color="#ff8c00"/><path d="M629.5 860l5.5 15.5 8.5 7-6-14.5z" color="#ff8300"/><path d="M657 907l6 5.5 7.5-3-5.5-.5z" color="#efff0d"/><path d="M670.5 909.5l6 2 7.5 4-5.5-5.5z" color="#e4ff16"/><path d="M697.5 912l6-7.5 7.5 1.5-6 4z" color="#ffff00"/><path d="M711 906l6 1.5 7.5 1.5-6 1.5z" color="#fffe00"/><path d="M738 921l6-6 7.5 16-6.5 11.5z" color="#8bff65"/><path d="M589 860l5-4 8.5-1-5.5 6.5z" color="#ff5d00"/><path d="M616 853l5.5 11 8-4-6-11z" color="#ff5500"/><path d="M602.5 855l5-2 8.5 0-5.5 1z" color="#ff4e00"/><path d="M643.5 882.5l5.5 15.5 8 9-5.5-9.5z" color="#ffd400"/><path d="M684 915.5l6-3.5 7.5 0-5.5 5.5z" color="#d7ff20"/><path d="M724.5 909l6-1 7.5 13-6-1.5z" color="#ddff1b"/><path d="M765 900l6 14 7.5 5.5-6.5 2z" color="#e9ff12"/><path d="M778.5 919.5l6-.5 7 7.5-6-1.5z" color="#b6ff3b"/><path d="M805 928l7-8 7 .5-6.5.5z" color="#bcff36"/><path d="M819 920.5l6.5-8.5 7-7-6.5 7.5z" color="#fbff03"/><path d="M846.5 896l6.5 19.5 7.5-26.5-7 1.5z" color="#ffc300"/><path d="M860.5 889l7-4 6.5-1-7 2.5z" color="#ff9d00"/><path d="M888 878l7.5-11.5 7-7.5-7.5 15.5z" color="#ff6600"/><path d="M663 912.5l5.5 6 8-7-6-2z" color="#e4ff15"/><path d="M703.5 904.5l6 7 7.5-4-6-1.5z" color="#fff400"/><path d="M744 915l6-3 7.5 7-6 12z" color="#cdff28"/><path d="M757.5 919l6.5-7.5 7 2.5-6-14z" color="#fffd00"/><path d="M784.5 919l6.5 13.5 7-5.5-6.5-.5z" color="#aaff46"/><path d="M798 927l6.5-2.5 7.5-4.5-7 8z" color="#b6ff3b"/><path d="M825.5 912l7-6 7-5-7 4z" color="#ffdf00"/><path d="M839.5 901l6.5 2 7 12.5-6.5-19.5z" color="#ffd400"/><path d="M867.5 885l7-4 7-3-7.5 6z" color="#ff8a00"/><path d="M881.5 878l7-5.5 7-6-7.5 11.5z" color="#ff6f00"/><path d="M621.5 864l6 16 7.5-4.5-5.5-15.5z" color="#ff7a00"/><path d="M635 875.5l6 16 8 6.5-5.5-15.5z" color="#ffaf00"/><path d="M580.5 854.5l5.5 2 8-.5-5 4z" color="#ff5500"/><path d="M594 856l5.5-1.5 8-1.5-5 2z" color="#ff4d00"/><path d="M607.5 853l6 12.5 8-1.5-5.5-11z" color="#ff5900"/><path d="M649 898l6 14.5 8 0-6-5.5z" color="#fffc00"/><path d="M676.5 911.5l5.5 1 8-.5-6 3.5z" color="#e9ff12"/><path d="M690 912l5.5-7 8-.5-6 7.5z" color="#fffa00"/><path d="M717 907.5l6 6 7.5-5.5-6 1z" color="#fffc00"/><path d="M730.5 908l6 4 7.5 3-6 6z" color="#ebff10"/><path d="M771 914l6.5 0 7 5-6 .5z" color="#e3ff17"/><path d="M812 920l6.5-8.5 7 .5-6.5 8.5z" color="#efff0d"/><path d="M853 915.5l7-18.5 7.5-12-7 4z" color="#ffba00"/><path d="M895.5 866.5l7.5-5.5 7-11-7.5 9z" color="#ff4100"/><path d="M572 848l5.5 7 8.5 1.5-5.5-2z" color="#ff4700"/><path d="M586 856.5l5 .5 8.5-2.5-5.5 1.5z" color="#ff4d00"/><path d="M599.5 854.5l5.5 10.5 8.5.5-6-12.5z" color="#ff5700"/><path d="M613.5 865.5l5-5.5 9 20-6-16z" color="#ff6e00"/><path d="M627.5 880l5.5 15.5 8-4-6-16z" color="#ffa700"/><path d="M641 891.5l6 19 8 2-6-14.5z" color="#ffe300"/><path d="M655 912.5l6 11 7.5-5-5.5-6z" color="#d6ff21"/><path d="M668.5 918.5l6 3 7.5-9-5.5-1z" color="#deff1b"/><path d="M682 912.5l6-1 7.5-6.5-5.5 7z" color="#fffb00"/><path d="M695.5 905l6 10 8-3.5-6-7z" color="#fff500"/><path d="M709.5 911.5l6 14.5 7.5-12.5-6-6z" color="#eeff0d"/><path d="M723 913.5l6 10.5 7.5-12-6-4z" color="#f2ff0b"/><path d="M736.5 912l6 7.5 7.5-7.5-6 3z" color="#f3ff0a"/><path d="M750 912l6.5 2.5 7.5-3-6.5 7.5z" color="#f7ff07"/><path d="M764 911.5l6 1 7.5 1.5-6.5 0z" color="#fffd00"/><path d="M777.5 914l6.5 8 7 10.5-6.5-13.5z" color="#ceff27"/><path d="M791 932.5l6 14.5 7.5-22.5-6.5 2.5z" color="#8aff66"/><path d="M804.5 924.5l7-9 7-4-6.5 8.5z" color="#ecff0f"/><path d="M818.5 911.5l7-3.5 7-2-7 6z" color="#ffe700"/><path d="M832.5 906l6.5-1.5 7-1.5-6.5-2z" color="#ffcd00"/><path d="M846 903l7 5 7-11-7 18.5z" color="#ffd500"/><path d="M860 897l7-1 7.5-15-7 4z" color="#ff9f00"/><path d="M874.5 881l7-2 7-6.5-7 5.5z" color="#ff7700"/><path d="M888.5 872.5l7.5-.5 7-11-7.5 5.5z" color="#ff5800"/><path d="M903 861l7 0 7.5-14-7.5 3z" color="#fe3304"/><path d="M770 912.5l6.5 24.5 7.5-15-6.5-8z" color="#dbff1d"/><path d="M811.5 915.5l6.5-3.5 7.5-4-7 3.5z" color="#ffeb00"/><path d="M853 908l6.5 6.5 7.5-18.5-7 1z" color="#ffc700"/><path d="M896 872l7 3.5 7-14.5-7 0z" color="#ff5100"/><path d="M647 910.5l6 9 8 4-6-11z" color="#e2ff18"/><path d="M674.5 921.5l6 1.5 7.5-11.5-6 1z" color="#e3ff16"/><path d="M688 911.5l6 9.5 7.5-6-6-10z" color="#feff01"/><path d="M715.5 926l6 32.5 7.5-34.5-6-10.5z" color="#96ff5a"/><path d="M729 924l6 10 7.5-14.5-6-7.5z" color="#cdff29"/><path d="M605 865l6 17 7.5-22-5 5.5z" color="#ff6d00"/><path d="M577.5 855l5.5 3.5 8-1.5-5-.5z" color="#ff4c00"/><path d="M591 857l5.5 3 8.5 5-5.5-10.5z" color="#ff5300"/><path d="M618.5 860l6.5 40.5 8-5-5.5-15.5z" color="#ff9d00"/><path d="M633 895.5l6 15.5 8-.5-6-19z" color="#ffd900"/><path d="M661 923.5l6 26 7.5-28-6-3z" color="#9aff56"/><path d="M701.5 915l6 20 8-9-6-14.5z" color="#cbff2a"/><path d="M742.5 919.5l6.5 5.5 7.5-10.5-6.5-2.5z" color="#ecff10"/><path d="M756.5 914.5l6 1.5 7.5-3.5-6-1z" color="#fffa00"/><path d="M784 922l5.5 50 7.5-25-6-14.5z" color="#4fffa1"/><path d="M797 947l7-12.5 7.5-19-7 9z" color="#a9ff47"/><path d="M825.5 908l6.5-1 7-2.5-6.5 1.5z" color="#ffd300"/><path d="M839 904.5l7 6.5 7-3-7-5z" color="#ffd200"/><path d="M867 896l7-2 7.5-15-7 2z" color="#ff9200"/><path d="M881.5 879l7-.5 7.5-6.5-7.5.5z" color="#ff6b00"/><path d="M680.5 923l5.5 5 8-7-6-9.5z" color="#d8ff1f"/><path d="M721.5 958.5l6-18.5 7.5-6-6-10z" color="#68ff88"/><path d="M762.5 916l6.5 12 7.5 9-6.5-24.5z" color="#d8ff20"/><path d="M776.5 937l6 24.5 7 10.5-5.5-50z" color="#3dffb3"/><path d="M804 934.5l6.5-13.5 7.5-9-6.5 3.5z" color="#efff0d"/><path d="M818 912l6.5 4.5 7.5-9.5-6.5 1z" color="#ffe000"/><path d="M846 911l6.5 10.5 7-7-6.5-6.5z" color="#ffe800"/><path d="M859.5 914.5l7 .5 7.5-21-7 2z" color="#ffc400"/><path d="M888.5 878.5l7.5 3 7-6-7-3.5z" color="#ff6a00"/><path d="M596.5 860l6 8.5 8.5 13.5-6-17z" color="#ff6c00"/><path d="M639 911l5.5 2 8.5 6.5-6-9z" color="#fdff01"/><path d="M583 858.5l5-2 8.5 3.5-5.5-3z" color="#ff4b00"/><path d="M611 882l5.5 12.5 8.5 6-6.5-40.5z" color="#ff9a00"/><path d="M625 900.5l6 8.5 8 2-6-15.5z" color="#ffdb00"/><path d="M653 919.5l5.5-5.5 8.5 35.5-6-26z" color="#b1ff40"/><path d="M667 949.5l5.5-26 8-.5-6-1.5z" color="#a0ff50"/><path d="M694 921l6 17 7.5-3-6-20z" color="#b3ff3e"/><path d="M707.5 935l6.5 6 7.5 17.5-6-32.5z" color="#5fff91"/><path d="M735 934l6.5 3 7.5-12-6.5-5.5z" color="#b2ff3f"/><path d="M749 925l6-3.5 7.5-5.5-6-1.5z" color="#eeff0d"/><path d="M789.5 972l7-15 7.5-22.5-7 12.5z" color="#25ffcb"/><path d="M832 907l6.5 7 7.5-3-7-6.5z" color="#ffd700"/><path d="M874 894l7.5-4 7-11.5-7 .5z" color="#ff8600"/><path d="M588 856.5l5.5 5 9 7-6-8.5z" color="#ff5200"/><path d="M602.5 868.5l5.5 10 8.5 16-5.5-12.5z" color="#ff8b00"/><path d="M631 909l5.5-4.5 8 8.5-5.5-2z" color="#ffea00"/><path d="M658.5 914l5.5-.5 8.5 10-5.5 26z" color="#c5ff2f"/><path d="M672.5 923.5l6 3.5 7.5 1-5.5-5z" color="#c7ff2e"/><path d="M686 928l6 6 8 4-6-17z" color="#abff45"/><path d="M700 938l6 3.5 8-.5-6.5-6z" color="#72ff7e"/><path d="M714 941l6-1.5 7.5.5-6 18.5z" color="#50ffa0"/><path d="M727.5 940l6 4.5 8-7.5-6.5-3z" color="#78ff78"/><path d="M755 921.5l6.5 1.5 7.5 5-6.5-12z" color="#e8ff13"/><path d="M769 928l6 42 7.5-8.5-6-24.5z" color="#41ffaf"/><path d="M782.5 961.5l6.5-12.5 7.5 8-7 15z" color="#0dffec"/><path d="M796.5 957l7-28.5 7-7.5-6.5 13.5z" color="#a0ff50"/><path d="M810.5 921l7 4.5 7-9-6.5-4.5z" color="#fffa00"/><path d="M824.5 916.5l7 7.5 7-10-6.5-7z" color="#ffea00"/><path d="M838.5 914l7 10 7-2.5-6.5-10.5z" color="#fff200"/><path d="M852.5 921.5l7 2 7-8.5-7-.5z" color="#fff400"/><path d="M866.5 915l7.5-4.5 7.5-20.5-7.5 4z" color="#ffb600"/><path d="M881.5 890l7.5-4.5 7-4-7.5-3z" color="#ff7c00"/><path d="M616.5 894.5l6 6.5 8.5 8-6-8.5z" color="#ffca00"/><path d="M644.5 913l5.5-11.5 8.5 12.5-5.5 5.5z" color="#fff200"/><path d="M741.5 937l6-8 7.5-7.5-6 3.5z" color="#c2ff31"/><path d="M789 949l7-22 7.5 1.5-7 28.5z" color="#88ff68"/><path d="M831.5 924l6.5 4.5 7.5-4.5-7-10z" color="#feff01"/><path d="M874 910.5l7.5-8 7.5-17-7.5 4.5z" color="#ffa000"/><path d="M622.5 901l5.5.5 8.5 3-5.5 4.5z" color="#ffce00"/><path d="M664 913.5l6 9.5 8.5 4-6-3.5z" color="#e5ff15"/><path d="M692 934l6 2 8 5.5-6-3.5z" color="#87ff69"/><path d="M706 941.5l6-2.5 8 .5-6 1.5z" color="#78ff78"/><path d="M747.5 929l6.5-1 7.5-5-6.5-1.5z" color="#dfff1a"/><path d="M593.5 861.5l6 10 8.5 7-5.5-10z" color="#ff6600"/><path d="M608 878.5l6 12 8.5 10.5-6-6.5z" color="#ffa600"/><path d="M650 901.5l6 2.5 8 9.5-5.5.5z" color="#ffdb00"/><path d="M636.5 904.5l5.5-10.5 8 7.5-5.5 11.5z" color="#ffc900"/><path d="M678.5 927l5.5 3 8 4-6-6z" color="#b8ff3a"/><path d="M720 939.5l6 5 7.5 0-6-4.5z" color="#6dff83"/><path d="M733.5 944.5l6.5-3 7.5-12.5-6 8z" color="#8bff65"/><path d="M761.5 923l6.5 11 7 36-6-42z" color="#8dff63"/><path d="M775 970l7-38.5 7 17.5-6.5 12.5z" color="#36ffba"/><path d="M803.5 928.5l6.5-2 7.5-1-7-4.5z" color="#e8ff12"/><path d="M817.5 925.5l6.5 3.5 7.5-5-7-7.5z" color="#f4ff09"/><path d="M845.5 924l7-1 7 .5-7-2z" color="#feff01"/><path d="M859.5 923.5l7-5 7.5-8-7.5 4.5z" color="#ffe500"/><path d="M698 936l6.5 4.5 7.5-1.5-6 2.5z" color="#88ff68"/><path d="M740 941.5l6.5 3 7.5-16.5-6.5 1z" color="#a9ff47"/><path d="M782 931.5l6.5-12 7.5 7.5-7 22z" color="#caff2b"/><path d="M796 927l6.5 1.5 7.5-2-6.5 2z" color="#e5ff15"/><path d="M824 929l7 1 7-1.5-6.5-4.5z" color="#e8ff13"/><path d="M838 928.5l7-3 7.5-2.5-7 1z" color="#faff04"/><path d="M866.5 918.5l7.5-5.5 7.5-10.5-7.5 8z" color="#ffc700"/><path d="M614 890.5l5.5 9 8.5 2-5.5-.5z" color="#ffb600"/><path d="M656 904l6 17.5 8 1.5-6-9.5z" color="#fff100"/><path d="M599.5 871.5l5.5 12 9 7-6-12z" color="#ff8200"/><path d="M628 901.5l5.5-1 8.5-6.5-5.5 10.5z" color="#ffbb00"/><path d="M642 894l6 17.5 8-7.5-6-2.5z" color="#ffc200"/><path d="M670 923l6 10 8-3-5.5-3z" color="#caff2b"/><path d="M684 930l6 3.5 8 2.5-6-2z" color="#aeff42"/><path d="M712 939l6.5 5.5 7.5 0-6-5z" color="#7bff75"/><path d="M754 928l6.5 13 7.5-7-6.5-11z" color="#c6ff2e"/><path d="M726 944.5l6.5 5.5 7.5-8.5-6.5 3z" color="#66ff8a"/><path d="M768 934l6.5 1 7.5-3.5-7 38.5z" color="#81ff6f"/><path d="M810 926.5l6.5 31.5 7.5-29-6.5-3.5z" color="#bcff36"/><path d="M852.5 923l7-5.5 7 1-7 5z" color="#ffee00"/><path d="M605 883.5l6 11.5 8.5 4.5-5.5-9z" color="#ff9f00"/><path d="M633.5 900.5l6.5 42 8-31-6-17.5z" color="#ffde00"/><path d="M648 911.5l6.5 40 7.5-30-6-17.5z" color="#f6ff08"/><path d="M676 933l6.5 6 7.5-5.5-6-3.5z" color="#b4ff3d"/><path d="M690 933.5l6.5 7 8 0-6.5-4.5z" color="#9eff52"/><path d="M704.5 940.5l6 8.5 8-4.5-6.5-5.5z" color="#7cff74"/><path d="M732.5 950l6 10.5 8-16-6.5-3z" color="#5bff95"/><path d="M746.5 944.5l6 11.5 8-15-6.5-13z" color="#8aff66"/><path d="M774.5 935l6.5-5 7.5-10.5-6.5 12z" color="#e3ff16"/><path d="M788.5 919.5l7.5-26 6.5 35-6.5-1.5z" color="#ffe000"/><path d="M802.5 928.5l7 11 7 18.5-6.5-31.5z" color="#b3ff3e"/><path d="M816.5 958l7-16 7.5-12-7-1z" color="#aaff46"/><path d="M831 930l7-1.5 7-3-7 3z" color="#f3ff0a"/><path d="M845 925.5l7.5-1 7-7-7 5.5z" color="#fff000"/><path d="M859.5 917.5l7.5-3 7-1.5-7.5 5.5z" color="#ffd300"/><path d="M619.5 899.5l6 6 8-5-5.5 1z" color="#ffbb00"/><path d="M662 921.5l6 12 8-.5-6-10z" color="#d7ff21"/><path d="M718.5 944.5l6 16 8-10.5-6.5-5.5z" color="#54ff9c"/><path d="M760.5 941l6 9 8-15-6.5-1z" color="#9eff52"/><path d="M809.5 939.5l5.5 48.5 8.5-46-7 16z" color="#47ffa9"/><path d="M852.5 924.5l7 .5 7.5-10.5-7.5 3z" color="#ffdf00"/><path d="M640 942.5l7.5 72 7-63-6.5-40z" color="#35ffbb"/><path d="M682.5 939l6 1 8 .5-6.5-7z" color="#a5ff4b"/><path d="M724.5 960.5l6.5 26.5 7.5-26.5-6-10.5z" color="#13ffe3"/><path d="M766.5 950l7-.5 7.5-19.5-6.5 5z" color="#a5ff4b"/><path d="M611 895l6 7 8.5 3.5-6-6z" color="#ffb300"/><path d="M625.5 905.5l6 25.5 8.5 11.5-6.5-42z" color="#fff800"/><path d="M654.5 951.5l5.5-10.5 8-7.5-6-12z" color="#a9ff47"/><path d="M668 933.5l6 8.5 8.5-3-6.5-6z" color="#acff44"/><path d="M696.5 940.5l6 7 8 1.5-6-8.5z" color="#80ff70"/><path d="M710.5 949l6 12.5 8-1-6-16z" color="#47ffa9"/><path d="M738.5 960.5l6.5 4 7.5-8.5-6-11.5z" color="#3effb2"/><path d="M752.5 956l6.5 1.5 7.5-7.5-6-9z" color="#5fff91"/><path d="M781 930l6.5 3 8.5-39.5-7.5 26z" color="#ffe200"/><path d="M796 893.5l6 43.5 7.5 2.5-7-11z" color="#fff600"/><path d="M823.5 942l7 4 7.5-17.5-7 1.5z" color="#caff2b"/><path d="M838 928.5l7-.5 7.5-3.5-7.5 1z" color="#fff900"/><path d="M674 942l6.5 13 8-15-6-1z" color="#8bff65"/><path d="M716.5 961.5l6.5 21.5 8 4-6.5-26.5z" color="#00f4ff"/><path d="M759 957.5l6.5-9 8 1-7 .5z" color="#6cff84"/><path d="M802 937l6 36 7 15-5.5-48.5z" color="#43ffad"/><path d="M815 988l6.5 23.5 9-65.5-7-4z" color="#09fff2"/><path d="M845 928l7 2 7.5-5-7-.5z" color="#fff200"/><path d="M617 902l6 13.5 8.5 15.5-6-25.5z" color="#ffd800"/><path d="M631.5 931l6.5 37.5 9.5 46-7.5-72z" color="#11ffe6"/><path d="M647.5 1014.5l5-20 7.5-53.5-5.5 10.5z" color="#00d8ff"/><path d="M660 941l6 4 8-3-6-8.5z" color="#a0ff50"/><path d="M688.5 940l6 3.5 8 4-6-7z" color="#95ff5b"/><path d="M731 987l6-7.5 8-15-6.5-4z" color="#00f8ff"/><path d="M773.5 949.5l6.5-1 7.5-15.5-6.5-3z" color="#b6ff3b"/><path d="M702.5 947.5l6 3 8 11-6-12.5z" color="#5bff95"/><path d="M745 964.5l6.5-10 7.5 3-6.5-1.5z" color="#40ffb0"/><path d="M787.5 933l7 8 7.5-4-6-43.5z" color="#fff600"/><path d="M830.5 946l7-9 7.5-9-7 .5z" color="#e0ff19"/><path d="M623 915.5l6 18.5 9 34.5-6.5-37.5z" color="#b9ff39"/><path d="M652.5 994.5l5.5-53 8 3.5-6-4z" color="#49ffa7"/><path d="M666 945l6.5 55 8-45-6.5-13z" color="#31ffbf"/><path d="M680.5 955l6 12 8-23.5-6-3.5z" color="#68ff88"/><path d="M708.5 950.5l6.5 3 8 29.5-6.5-21.5z" color="#2effc2"/><path d="M723 983l6.5-5 7.5 1.5-6 7.5z" color="#00ccff"/><path d="M751.5 954.5l6.5-13.5 7.5 7.5-6.5 9z" color="#7dff73"/><path d="M765.5 948.5l7-3.5 7.5 3.5-6.5 1z" color="#91ff5f"/><path d="M794.5 941l6.5 10.5 7 21.5-6-36z" color="#85ff6b"/><path d="M808 973l7 9 6.5 29.5-6.5-23.5z" color="#00b4ff"/><path d="M821.5 1011.5l8-54.5 8-20-7 9z" color="#3effb2"/><path d="M837.5 937l7-2 7.5-5-7-2z" color="#faff04"/><path d="M638 968.5l5.5-23 9 49-5 20z" color="#00c2ff"/><path d="M694.5 943.5l6 6 8 1-6-3z" color="#83ff6d"/><path d="M737 979.5l6.5-24.5 8-.5-6.5 10z" color="#2dffc3"/><path d="M780 948.5l6.5 6.5 8-14-7-8z" color="#abff45"/><path d="M829.5 957l7.5-6.5 7.5-15.5-7 2z" color="#bdff36"/><path d="M658 941.5l6.5 56 8 2.5-6.5-55z" color="#0afff1"/><path d="M700.5 949.5l6.5 1.5 8 2.5-6.5-3z" color="#7bff75"/><path d="M743.5 955l6.5-10.5 8-3.5-6.5 13.5z" color="#93ff5d"/><path d="M786.5 955l7 3.5 7.5-7-6.5-10.5z" color="#8bff65"/><path d="M629 934l6 2 8.5 9.5-5.5 23z" color="#8eff62"/><path d="M643.5 945.5l5.5-14 9 10-5.5 53z" color="#5fff91"/><path d="M672.5 1000l6.5 37 7.5-70-6-12z" color="#00a1ff"/><path d="M686.5 967l6-1.5 8-16-6-6z" color="#56ff9a"/><path d="M715 953.5l6.5 3 8 21.5-6.5 5z" color="#1dffd5"/><path d="M729.5 978l6-17 8-6-6.5 24.5z" color="#1cffd5"/><path d="M758 941l6.5-1 8 5-7 3.5z" color="#b7ff3a"/><path d="M772.5 945l6.5 10.5 7.5-.5-6.5-6.5z" color="#8aff66"/><path d="M801 951.5l7 3.5 7 27-7-9z" color="#38ffb8"/><path d="M815 982l7.5-22 7-3-8 54.5z" color="#03fffb"/><path d="M692.5 965.5l6.5-1 8-13.5-6.5-1.5z" color="#5cff94"/><path d="M735.5 961l6.5-5 8-11.5-6.5 10.5z" color="#7bff75"/><path d="M779 955.5l6.5 4.5 8-1.5-7-3.5z" color="#70ff80"/><path d="M822.5 960l7-.5 7.5-9-7.5 6.5z" color="#7dff73"/><path d="M635 936l6 0 8-4.5-5.5 14z" color="#d1ff25"/><path d="M649 931.5l6.5 20 9 46-6.5-56z" color="#60ff90"/><path d="M664.5 997.5l6.5 42 8-2.5-6.5-37z" color="#0600ff"/><path d="M707 951l6.5 1.5 8 4-6.5-3z" color="#7bff75"/><path d="M750 944.5l7 4.5 7.5-9-6.5 1z" color="#c1ff32"/><path d="M793.5 958.5l7-1 7.5-2.5-7-3.5z" color="#7eff72"/><path d="M679 1037l6-38 7.5-33.5-6 1.5z" color="#00a1ff"/><path d="M721.5 956.5l6 5.5 8-1-6 17z" color="#3cffb4"/><path d="M764.5 940l7 13 7.5 2.5-6.5-10.5z" color="#a7ff49"/><path d="M808 955l7-1.5 7.5 6.5-7.5 22z" color="#54ff9c"/><path d="M641 936l6 12.5 8.5 3-6.5-20z" color="#c3ff31"/><path d="M685 999l6-21 8-13.5-6.5 1z" color="#07fff5"/><path d="M699 964.5l6 2 8.5-14-6.5-1.5z" color="#64ff8c"/><path d="M727.5 962l6.5 6.5 8-12.5-6.5 5z" color="#56ff9a"/><path d="M742 956l7 4 8-11-7-4.5z" color="#95ff5b"/><path d="M771.5 953l6.5 5 7.5 2-6.5-4.5z" color="#80ff70"/><path d="M785.5 960l7 .5 8-3-7 1z" color="#73ff7d"/><path d="M815 953.5l7 5.5 7.5.5-7 .5z" color="#80ff70"/><path d="M655.5 951.5l6.5 25 9 63-6.5-42z" color="#00afff"/><path d="M671 1039.5l5.5-35 8.5-5.5-6 38z" color="#0300ff"/><path d="M713.5 952.5l6 10.5 8-1-6-5.5z" color="#68ff88"/><path d="M757 949l6.5 13 8-9-7-13z" color="#a2ff4e"/><path d="M800.5 957.5l6.5 0 8-4-7 1.5z" color="#8aff66"/><path d="M647 948.5l6 14.5 9 13.5-6.5-25z" color="#5fff91"/><path d="M662 976.5l6-.5 8.5 28.5-5.5 35z" color="#008eff"/><path d="M676.5 1004.5l6-23 8.5-3.5-6 21z" color="#00c3ff"/><path d="M691 978l6 1 8-12.5-6-2z" color="#23ffcd"/><path d="M705 966.5l6.5 22.5 8-26-6-10.5z" color="#3effb2"/><path d="M719.5 963l6.5 12.5 8-7-6.5-6.5z" color="#43ffad"/><path d="M734 968.5l7 5 8-13.5-7-4z" color="#55ff9b"/><path d="M749 960l6.5 10.5 8-8.5-6.5-13z" color="#71ff7f"/><path d="M763.5 962l6.5 11.5 8-15.5-6.5-5z" color="#6cff84"/><path d="M778 958l7 6 7.5-3.5-7-.5z" color="#75ff7b"/><path d="M792.5 960.5l7 8.5 7.5-11.5-6.5 0z" color="#75ff7b"/><path d="M807 957.5l7.5 1 7.5.5-7-5.5z" color="#91ff5f"/><path d="M668 976l6-5 8.5 10.5-6 23z" color="#00faff"/><path d="M711.5 989l6.5-14 8 .5-6.5-12.5z" color="#1fffd1"/><path d="M755.5 970.5l6.5 15 8-12-6.5-11.5z" color="#36ffba"/><path d="M799.5 969l7 2 8-12.5-7.5-1z" color="#70ff80"/><path d="M653 963l6.5 1 8.5 12-6 .5z" color="#34ffbc"/><path d="M682.5 981.5l6.5-2 8-.5-6-1z" color="#0dffec"/><path d="M697 979l6.5 3 8 7-6.5-22.5z" color="#10ffe7"/><path d="M726 975.5l6.5 11.5 8.5-13.5-7-5z" color="#1fffd1"/><path d="M741 973.5l6.5 5 8-8-6.5-10.5z" color="#40ffb0"/><path d="M770 973.5l6.5 40.5 8.5-50-7-6z" color="#20ffd0"/><path d="M785 964l6.5 20.5 8-15.5-7-8.5z" color="#4effa2"/><path d="M659.5 964l6-2.5 8.5 9.5-6 5z" color="#4bffa5"/><path d="M674 971l6.5 2 8.5 6.5-6.5 2z" color="#20ffd0"/><path d="M703.5 982l6.5-10 8 3-6.5 14z" color="#18ffdc"/><path d="M718 975l6.5 21.5 8-9.5-6.5-11.5z" color="#0bffef"/><path d="M747.5 978.5l6.5 7.5 8-.5-6.5-15z" color="#1bffd8"/><path d="M762 985.5l6.5 49 8-20.5-6.5-40.5z" color="#00aeff"/><path d="M791.5 984.5l7 5 8-18.5-7-2z" color="#29ffc7"/><path d="M689 979.5l6.5 26.5 8-24-6.5-3z" color="#00f8ff"/><path d="M732.5 987l7 16 8-24.5-6.5-5z" color="#05fff7"/><path d="M776.5 1014l6.5 39 8.5-68.5-6.5-20.5z" color="#00a5ff"/><path d="M739.5 1003l6.5-2 8-15-6.5-7.5z" color="#00efff"/><path d="M783 1053l7.5-42.5 8-21-7-5z" color="#0093ff"/><path d="M665.5 961.5l6 4 9 7.5-6.5-2z" color="#59ff97"/><path d="M680.5 973l6.5 51.5 8.5-18.5-6.5-26.5z" color="#00ceff"/><path d="M695.5 1006l6 9.5 8.5-43.5-6.5 10z" color="#00dcff"/><path d="M710 972l6.5 8.5 8 16-6.5-21.5z" color="#1bffd7"/><path d="M724.5 996.5l6.5 50.5 8.5-44-7-16z" color="#008eff"/><path d="M754 986l6.5 18 8 30.5-6.5-49z" color="#00b5ff"/><path d="M768.5 1034.5l6.5 34 8-15.5-6.5-39z" color="#2800ff"/><path d="M687 1024.5l6.5 33.5 8-42.5-6-9.5z" color="#002bff"/><path d="M731 1047l6.5-10 8.5-36-6.5 2z" color="#004eff"/><path d="M746 1001l6.5-2.5 8 5.5-6.5-18z" color="#00dfff"/><path d="M775 1068.5l7.5-50.5 8-7.5-7.5 42.5z" color="#0900ff"/><path d="M671.5 965.5l6.5 20 9 39-6.5-51.5z" color="#08fff3"/><path d="M701.5 1015.5l6.5-42.5 8.5 7.5-6.5-8.5z" color="#13ffe3"/><path d="M716.5 980.5l6.5 45.5 8 21-6.5-50.5z" color="#0082ff"/><path d="M760.5 1004l7 9.5 7.5 55-6.5-34z" color="#001fff"/><path d="M678 985.5l7 18.5 8.5 54-6.5-33.5z" color="#0069ff"/><path d="M693.5 1058l6-73 8.5-12-6.5 42.5z" color="#00a6ff"/><path d="M723 1026l6.5 1 8 10-6.5 10z" color="#000dff"/><path d="M737.5 1037l7-32.5 8-6-6.5 2.5z" color="#00a2ff"/><path d="M752.5 998.5l7 3 8 12-7-9.5z" color="#00c6ff"/><path d="M767.5 1013.5l7-5.5 8 10-7.5 50.5z" color="#0045ff"/><path d="M708 973l6.5 9 8.5 44-6.5-45.5z" color="#09fff1"/><path d="M685 1004l6-15.5 8.5-3.5-6 73z" color="#00adff"/><path d="M699.5 985l6.5-11.5 8.5 8.5-6.5-9z" color="#4affa6"/><path d="M714.5 982l6.5 15 8.5 30-6.5-1z" color="#00b7ff"/><path d="M729.5 1027l7-24 8 1.5-7 32.5z" color="#0082ff"/><path d="M744.5 1004.5l7-6.5 8 3.5-7-3z" color="#00e8ff"/><path d="M759.5 1001.5l7 3.5 8 3-7 5.5z" color="#00c5ff"/><path d="M706 973.5l7 16.5 8 7-6.5-15z" color="#30ffc0"/><path d="M751.5 998l7 4 8 3-7-3.5z" color="#00f0ff"/><path d="M691 988.5l6.5-5.5 8.5-9.5-6.5 11.5z" color="#3fffb1"/><path d="M721 997l7 0 8.5 6-7 24z" color="#00d2ff"/><path d="M736.5 1003l6.5-10.5 8.5 5.5-7 6.5z" color="#00f9ff"/><path d="M697.5 983l6.5 9.5 9-2.5-7-16.5z" color="#40ffb0"/><path d="M713 990l6.5 8 8.5-1-7 0z" color="#11ffe7"/><path d="M743 992.5l7 .5 8.5 9-7-4z" color="#11ffe6"/><path d="M728 997l7-10.5 8 6-6.5 10.5z" color="#15ffe0"/><path d="M704 992.5l7 7 8.5-1.5-6.5-8z" color="#1affd9"/><path d="M719.5 998l7-6 8.5-5.5-7 10.5z" color="#23ffcd"/><path d="M735 986.5l6.5-4 8.5 10.5-7-.5z" color="#3dffb3"/><path d="M726.5 992l6.5-2 8.5-7.5-6.5 4z" color="#4dffa3"/><path d="M711 999.5l7 2 8.5-9.5-7 6z" color="#1affd9"/><path d="M718 1001.5l6.5 5 8.5-16.5-6.5 2z" color="#25ffcb"/></g><path d="M578.6 1054.3L571.1 825.3M578.6 1054.3L724.7 1129.5 908.7 1066.0M578.3 1043.6h-6M577.1 1007.8h-4M575.9 972.0h-6M574.8 936.2h-4M573.6 900.4h-6M572.4 864.6h-4M571.3 828.9h-6M578.6 1054.3l-5.0 4.0M724.7 1129.5l5.0 4.0M592.9 1061.7l-3.0 2.4M747.7 1121.6l3.0 2.4M607.6 1069.3l-5.0 4.0M769.9 1113.9l5.0 4.0M622.8 1077.1l-3.0 2.4M791.5 1106.4l3.0 2.4M638.5 1085.1l-5.0 4.0M812.5 1099.2l5.0 4.0M654.7 1093.4l-3.0 2.4M832.8 1092.2l3.0 2.4M671.3 1102.0l-5.0 4.0M852.6 1085.4l5.0 4.0M688.5 1110.9l-3.0 2.4M871.8 1078.7l3.0 2.4M706.3 1120.0l-5.0 4.0M890.5 1072.3l5.0 4.0M724.7 1129.5l-3.0 2.4M908.7 1066.0l3.0 2.4" fill="none" stroke="#444" stroke-width="1.2"/><text x="569.3" y="1049.6" font-size="17.4" text-anchor="end">200</text><text x="566.9" y="978" font-size="17.4" text-anchor="end">300</text><text x="564.6" y="906.4" font-size="17.4" text-anchor="end">400</text><text x="562.3" y="834.9" font-size="17.4" text-anchor="end">500</text><text transform="translate(573.6 1067.6) rotate(55)" font-size="17.4" text-anchor="middle" dy="0.36em">0</text><text transform="translate(599.7 1081.0) rotate(55)" font-size="17.4" text-anchor="middle" dy="0.36em">2</text><text transform="translate(630.4 1094.4) rotate(55)" font-size="17.4" text-anchor="middle" dy="0.36em">4</text><text transform="translate(658.8 1111.0) rotate(55)" font-size="17.4" text-anchor="middle" dy="0.36em">6</text><text transform="translate(690.6 1129.5) rotate(55)" font-size="17.4" text-anchor="middle" dy="0.36em">8</text><text transform="translate(755.8 1129.5) rotate(0)" font-size="17.4" text-anchor="middle" dy="0.36em">0</text><text transform="translate(796.0 1114.0) rotate(0)" font-size="17.4" text-anchor="middle" dy="0.36em">2</text><text transform="translate(832.7 1104.4) rotate(0)" font-size="17.4" text-anchor="middle" dy="0.36em">4</text><text transform="translate(867.8 1092.7) rotate(0)" font-size="17.4" text-anchor="middle" dy="0.36em">6</text><text transform="translate(901.3 1080.0) rotate(0)" font-size="17.4" text-anchor="middle" dy="0.36em">8</text><text transform="translate(618.7 1118.0) rotate(28)" font-size="21.5" text-anchor="middle" dy="0.36em">Dimension (μm)</text><text transform="translate(846.0 1126.0) rotate(-19)" font-size="21.5" text-anchor="middle" dy="0.36em">Dimension (μm)</text><path d="M1105.3 682.3L1095.5 452.8M1256.4 624.2L1255.7 427.8M1105.3 682.3L1256.4 624.2M1105.3 682.3L1285.0 749.5M1143.1 667.8L1135.9 446.5M1290.7 633.6L1291.8 431.3M1140.3 695.4L1290.7 633.6M1143.1 667.8L1321.8 729.6M1178.3 654.2L1173.3 440.7M1327.2 643.5L1330.2 434.9M1177.8 709.4L1327.2 643.5M1178.3 654.2L1355.6 711.3M1211.1 641.6L1208.0 435.3M1366.0 654.1L1371.3 438.8M1218.2 724.5L1366.0 654.1M1211.1 641.6L1386.8 694.4M1241.8 629.8L1240.3 430.2M1407.4 665.5L1415.3 443.0M1261.9 740.8L1407.4 665.5M1241.8 629.8L1415.6 678.8M1256.4 624.2L1255.7 427.8M1429.2 671.4L1438.4 445.2M1285.0 749.5L1429.2 671.4M1256.4 624.2L1429.2 671.4M1104.2 657.0L1256.3 602.6 1430.2 646.5M1103.3 634.9L1256.3 583.6 1431.1 624.7M1102.3 612.7L1256.2 564.7 1432.0 602.8M1101.4 590.6L1256.1 545.7 1432.9 581.0M1100.5 568.4L1256.1 526.8 1433.8 559.2M1099.5 546.3L1256.0 507.8 1434.7 537.3M1098.6 524.1L1255.9 488.9 1435.6 515.5M1097.6 502.0L1255.9 469.9 1436.4 493.6M1096.7 479.8L1255.8 450.9 1437.3 471.8" fill="none" stroke="#d8d8d8" stroke-width="0.9"/><path d="M1095.5 452.8L1255.7 427.8M1105.3 682.3L1256.4 624.2M1255.7 427.8L1438.4 445.2M1256.4 624.2L1429.2 671.4M1256.4 624.2L1255.7 427.8M1429.2 671.4L1438.4 445.2" fill="none" stroke="#8a8a8a" stroke-width="1"/><path d="M1105.3 682.3L1285.0 749.5 1429.2 671.4 1256.4 624.2z" fill="#2929ff"/><path d="M1105 682l151-58 173 47-144 78z" fill="#5c5cff" fill-rule="evenodd"/><path d="M1105 682l151-58 173 47-144 78z" fill="#8f8fff" fill-rule="evenodd"/><path d="M1105 682l20-7 7 0 2-4 122-47 173 47-144 78-41-15 1-2-3 1zM1194 656l3 1 3-1-1-2-4 0z" fill="#bbbbff" fill-rule="evenodd"/><path d="M1105 682l18-6 3 0 8-1 3-2-2-2 121-47 121 33 3 2 2 0 47 12-41 22-3-3-5 0-8 3-1 2 3 1 10 0-99 53-38-14 4-3-2-2-10 2zM1169 686l2 1 3-1zM1220 694l4 4 11 0-1-3-6-1-6-1zM1191 655l3 3 7 0 2-3-2-2-5 0zM1235 664l1 1 5 1zM1362 667l3 3 0-2zM1342 650l-1 3 3 0 3-1-1-1z" fill="#e0e0ff" fill-rule="evenodd"/><path d="M1108 683l-2-1 15-4 17-3-1-5 19-7 9-2 0-2 83-32 5 0 3-3 18 5 1 2 5 0 43 11-1 1 3 4 4 0 0-3 14 4-5 1 1 6 6 0 4-1 0-4 26 7 3 2 6 0 45 12-36 20-7-4-4-5-9 1-1 2 6 3-2 1-10 4-10 10-9 3 1 2 10 2-73 39-17-6 0-1-19-6 6-4-4-3-8 0-6 3-83-31 9-5-1-2-22 1zM1164 686l0 2 3 0 6 0 5-2 0-2-3-1zM1215 692l0 2 7 5 8 1 12-2-1-2-14-4-9 0zM1200 682l3 5 8 0 3-1-1-4-6-1zM1176 670l0 2 4-1 1-1zM1242 683l3 3 4 1 2-1 1-3-3-1zM1190 654l-2 3 3 2-3 3 3 2 3 0 3-3 8-2 0-4-5-3-6 1zM1218 643l0 2 4 1 3-1-1-2zM1250 648l-1 1 4 0 3-1-3-1zM1356 666l4 4 9 2 1-2-2-3-6-2zM1251 711l3 4 6 1 4-1 0-2-5-2-5-1zM1232 663l-1 1 5 3 6 1 3-1-4-4zM1271 661l-1 6 10-6-4-2zM1372 700l1-2 7 0-7 4z" fill="#fff9f9" fill-rule="evenodd"/><path d="M1138 670l12-5 4 0 17-4 1-1-5-2 79-30 7 0 7-3 10 3-4 3 10 1 6-1 38 11-2 2 4 4 10 1 2 1-1 5 3 2 6 1 7-1 3-2 1-5 20 6 0 2 4 2 3 0 6 0 43 12-14 7-7 2 1 1-14 8-7-4-3-6-15 2-2 3 4 2 0 2-14 3 2 4-9 6-13 1-5-3 4-4-1-2-3-1-6 1-3 3 0 10 32 4-12 6-5 0-3 1-2 5-15 8 1-6-4-1-23 2 7 7 12 2-27 14-14-5-1-4-11 0-8-3 7-4 2-6-3-1-22 5-29-11-3-4-5 1-39-15 3-3 8-3-5-6 14-3 6-6-5 0-18 4-1 6-3 1-21 2-29-11 18-5 14-2 2-1zM1193 681l5 8 8 2 14 9 18 0 14-2 4-15-3-2-30 1-13-2zM1173 669l1 4 3 1 7-3 1-3-7 0zM1184 656l0 3-4 2 5 5 12 0 4-3 8-2-3-8-4-1-6-1zM1215 641l-1 4 4 2 7 0 2-1 2-4 12-2 1-3-3 0-10 2-10 0zM1341 664l2 2 9 2 12 5 16 3 5 4 8-1-3-3-15-4-5-9-10-1-6-3-3 4zM1273 641l1 3 6 0 1-3-5-1zM1300 644l0 1 2 0 2-2zM1241 707l0 3 11 6 15 3-3 6 2 2 9 0 7-1 2-2-6-8-8-1-9-5-11-4-5-1zM1262 695l8 6 4 0 6-2 4-5-1-2-6-1-11 2zM1230 662l-1 3 13 5 0 4 7 1 4-1-8-11-10-1zM1269 660l-4 7 5 4 5-1 8-10-8-3zM1243 649l3 2 9 0 6-4-4-1-4 0zM1268 678l-1 1 2 2 7 2 5-1 12 3 6-1 5-4-1-1-10-2-7-3-13 2zM1343 674l5 4 7 0 1-3-3-1-6-1zM1296 657l4 5 6 0 2-1-3-2-6-2zM1315 685l3 2 10-1-4-2-5-1zM1225 685l3-1 10 1 8 5-1 3-7 0-15-3zM1332 645l7 2-5 0z" fill="#ffc9c9" fill-rule="evenodd"/><path d="M1139 669l8-3 4 1 15-3 9 0 2 1-7 3 1 6 6 2 16-7 8-1 3-4 10-4-4-3-1-5-5-1-10 0-10 3-7 1 30-12 10 4 6 1 7-1 2-4 12-3-5-9 6-2 8 1 10-4 5 1-8 3 0 2 19 2 7 3 5 1 3-1 1-2-11-2 1-1 32 9-2 2 4 4-3 2-5 0-4-1 1-5-2-1-11 0-16-3-7 0-5 6-13 0-15 3-1 1 2 2 28 6-6 6 0 8-2 1-5-2-8-8-13-2-4 1-4 2 1 2 8 4 1 2-8 5 11-1 13 2 2 1-7 1-66 0-24 6-3 5-18 4-26-10 21-6 10-1 11 1 3-1 1-2-10-2zM1134 685l-2 1 7 1 9-3 0-1-5 0zM1170 657l4-1 1 2zM1222 637l10-4 3 1 0 1-6 3zM1262 651l3-3 8-2 22 1 9 6 10 0 9 4 13 2 3 2-4 4 18 6-7 0-6 1 0 8-13-2-7-8-7 2-3 4-7 1-7-2-5-3 5-3-7 0 1 2-9-1 4-11zM1293 656l0 3 8 4 3 1 14-2 1-1-2-1-9-2-8-4-5 0zM1171 693l0-2 9-2 3 0 0 2 12 1 18 7 1 3-7 6-7 1 0 4-5 3-24-9-5-4 1-4 11-2 2-1 0-2zM1175 706l14 1 3-1-7-3zM1185 687l2-2 4-1 1 2-4 1zM1231 687l7 0 3 3-1 1-6 0-5-1zM1254 678l5-2 4 0-3 2zM1258 687l2-3 3-1 3 0 5 6-7 1-4 0zM1226 703l1-1 4 0 9 1-4 2-5 0zM1207 714l1-2 6-2 16 0 5 3 8 1 13 7-9 5-14 4-25-9zM1247 703l3-2 7-1 7 4 14 0 19-1 1-2-7-3-6-7-7-3 1-2 26 0 5 5 13-2 7 1-8 5-1 8-4 6 1 1 15 3-7 10-10-1-7-5-4 0 1 5-8 1-8-1-4-3-1-5-15-2-11-6zM1356 652l16 4-2 1 5 4-3 1-7-1-4-2-5-4zM1336 682l6-2 11 0 9-5 9 1 7 2-15 5 6 5-15 3-2 1 3 4-10 3-3-1 1-5-5-3zM1377 664l1-2 9-2 31 8 0 2 9 3-9 4-4 0-15 3-7-6-15-3-3-5zM1402 668l0 1 4 0zM1257 736l7-6 10 0 2 2-2 6-14 0zM1275 741l-1-3 11 0 9-3 15 2-24 12-11-4zM1391 685l1-3 5-1 9 3-9 5zM1344 715l1-2 9-1-7 4z" fill="#ff9c9c" fill-rule="evenodd"/><path d="M1143 669l-1-1 2-1 17 0 5 2 3 2-2 4 8 3-3 3-9 2-7-1 0-3 6-3zM1181 653l24-9 13 4 16 1 4 3 13 3 13 2 1 2-4 2-9 1-12-2-9-5-6-1-2 2 4 2-5 6 3 2 7 3-1 2-13 6-13 1-16-1-5-1 2-3 11-3 10-2 3-4 7-3 0-2-4-4 5-3-5-1-17-1zM1225 636l5-2 2 1-2 2zM1112 685l20-7 7 0 6 1 0 2-17 5 0 2 13 2-7 3zM1245 635l3-3 5 0 21 2 5 3-9 2-6 5-29 2 0-2 11-4zM1268 650l5-2 6-1 12 2 2 2-7 5-9-1zM1293 640l3-2 7-1 9 3-2 1zM1170 701l10-1 8-6 3 0 17 5 1 1-7 6-4-1-10-4-6-1-6 2zM1309 646l3-1 4 0-1 3-4 0zM1178 710l-2-1 5-1 11 2 2 3-1 2zM1284 665l4-4 4 0 7 3 0 2-11 1zM1308 656l-1-1 5 0 5 1 0 2-4 0zM1306 669l1-2 3 0 2 1-2 1zM1323 661l1-2 3 0 6 1 1 2-3 1-4 0zM1299 674l0-2 7-1 0 3-4 1zM1211 717l5-4 6-1 2 1 0 5 4 1 9-3 7 2 4 3-1 3-18 5-19-8zM1359 654l1-2 10 3-5 3zM1289 689l11 0 6 4 11 1 0 10-5 2-8-1-1-6-9-3zM1329 670l2 0 2 1-4 1zM1267 707l30-1 5 3 8 0 14 6 2 3-6 2-6-5-19-1-23-3-6-3zM1366 659l-1-1 4 1zM1380 665l4-3 5-2 12 4-4 3-1 5 3 1 26 0-5 3-7 0-10 2-4-2 0-3-13-2-6-2zM1345 685l10-1 4 3-10 3-3-1zM1358 680l6-3 7 1-5 3-5 0zM1407 667l-1-2 8 2-3 1zM1276 746l5-5 16-3 9 0-21 11zM1394 685l4-2 6 2-5 3z" fill="#ff6a6a" fill-rule="evenodd"/><path d="M1193 648l9-3 5 2 0 2zM1114 686l10-3 6-3 9-1-3 3-11 2-5 4zM1249 636l1-2 3 0 18 2 1 0-6 1-2 5-4 1-9 0-6 1 5-3zM1162 672l-2 0 3 0zM1224 651l2-1 4 0 2 2-3 1-4-1zM1129 691l1-1 1 2zM1162 679l2-1 5 0 0 2-6 1zM1190 675l1-2 13-2 19-3 3 1-9 6-6 1zM1252 658l3-1 4 1-3 1zM1273 650l3-1 6 0 1 4-7-1zM1289 665l1-2 4 1-2 1zM1214 720l0-1 4-1 5 3 2 1-3 4-9-4zM1232 724l5-4 4 1-1 3zM1284 710l-2-1 2-1 5 0 4 1 0 2zM1385 665l6-4 6 2-7 5-5-1zM1281 746l4-4 15 0-14 7z" fill="#ff3939" fill-rule="evenodd"/><path d="M1252 636l2-1 4 1 0 2-5 0zM1205 674l0-1 6-1 3 0-3 3zM1287 746l1-2 8-1-7 4z" fill="#ff0707" fill-rule="evenodd"/><path d="M1125 675l7 0 2-4M1194 656l3 1 3-1-1-2-4 0-1 2M1244 734l1-2-3 1M1123 676l3 0 8-1 3-2-2-2M1191 655l3 3 7 0 2-3-2-2-5 0-5 2M1169 686l2 1 3-1-5 0M1235 664l1 1 5 1-6-2M1220 694l4 4 11 0-1-3-6-1-6-1-2 1M1342 650l-1 3 3 0 3-1-1-1-4-1M1377 657l3 2 2 0M1362 667l3 3 0-2-3-1M1247 735l4-3-2-2-10 2M1388 693l-3-3-5 0-8 3-1 2 3 1 10 0M1106 682l18-5 14-2-1-5M1156 663l9-2 0-2M1248 627l5 0 1-2M1190 654l-2 3 3 2-3 3 3 2 3 0 3-3 8-2 0-4-5-3-6 1-4 1M1218 643l0 2 4 1 3-1-1-2-6 0M1237 639l0 0M1274 629l1 2 5 0M1176 670l0 2 4-1 1-1-5 0M1250 648l-1 1 4 0 3-1-3-1-3 1M1164 686l0 2 3 0 6 0 5-2 0-2-3-1-11 3M1232 663l-1 1 5 3 6 1 3-1-4-4-9 0M1154 701l9-5-1-2-22 1M1200 682l3 5 8 0 3-1-1-4-6-1-7 1M1271 661l-1 6 10-6-4-2-5 2M1323 642l-1 1 3 4 4 0 0-3M1215 692l0 2 7 5 8 1 12-2-1-2-14-4-9 0-3 0M1242 683l3 3 4 1 2-1 1-3-3-1-7 1M1343 648l-5 1 1 6 6 0 4-1 0-4M1203 719l-2-1M1275 694l0 0M1251 711l3 4 6 1 4-1 0-2-5-2-5-1-3 1M1356 666l4 4 9 2 1-2-2-3-6-2-6 1M1375 657l3 2 6 0M1249 736l6-4-4-3-8 0-6 3M1268 743l0-1-5-1M1373 702l0-4 7 0M1393 691l-7-4-4-5-9 1-1 2 6 3-2 1-10 4-10 10-9 3 1 2 10 2M1150 665l4 0 17-4 1-1-5-2M1215 641l-1 4 4 2 7 0 2-1 2-4 12-2 1-3-3 0-10 2-10 0-4 2M1246 628l7 0 7-3M1108 683l18-5 14-2 2-1-4-5M1184 656l0 3-4 2 5 5 12 0 4-3 8-2-3-8-4-1-6-1-12 5M1270 628l-4 3 10 1 6-1M1173 669l1 4 3 1 7-3 1-3-7 0-5 1M1243 649l3 2 9 0 6-4-4-1-4 0-10 3M1273 641l1 3 6 0 1-3-5-1-3 1M1288 636l2 0-2 0M1230 662l-1 3 13 5 0 4 7 1 4-1-8-11-10-1-5 0M1193 681l5 8 8 2 14 9 18 0 14-2 4-15-3-2-30 1-13-2-17 1M1159 702l3-3 8-3-5-6 14-3 6-6-5 0-18 4-1 6-3 1-21 2M1300 644l0 1 2 0 2-2-4 1M1269 660l-4 7 5 4 5-1 8-10-8-3-6 3M1320 642l-2 2 4 4 10 1 2 1-1 5 3 2 6 1 7-1 3-2 1-5M1225 685l3-1 10 1 8 5-1 3-7 0-15-3 2-5M1296 657l4 5 6 0 2-1-3-2-6-2-3 0M1268 678l-1 1 2 2 7 2 5-1 12 3 6-1 5-4-1-1-10-2-7-3-13 2-5 2M1339 647l-5 0-2-2M1206 720l-3-4-5 1M1262 695l8 6 4 0 6-2 4-5-1-2-6-1-11 2-4 2M1241 707l0 3 11 6 15 3-3 6 2 2 9 0 7-1 2-2-6-8-8-1-9-5-11-4-5-1-4 2M1341 664l2 2 9 2 12 5 16 3 5 4 8-1-3-3-15-4-5-9-10-1-6-3-3 4-10 1M1315 685l3 2 10-1-4-2-5-1-4 2M1373 656l0 2 4 2 3 0 6 0M1343 674l5 4 7 0 1-3-3-1-6-1-4 1M1251 737l7-4 2-6-3-1-22 5M1271 744l-1-4-11 0M1423 670l6 2M1319 731l1-6-4-1-23 2 7 7 12 2M1344 717l-5 0-3 1-2 5M1395 690l-7-4 0-5-3-1-5 1-12 2 5 5-1 1-14 3 2 4-9 6-13 1-5-3 4-4-1-2-3-1-6 1-3 3 0 10 32 4M1415 679l-7 2 1 1M1147 666l4 1 15-3 9 0 2 1-7 3 1 6 6 2 16-7 8-1 3-4 10-4-4-3-1-5-5-1-10 0-10 3-7 1M1174 656l1 2-5-1M1207 643l10 4 6 1 7-1 2-4 12-3-5-9M1232 633l3 2-3 2-4 1-6-1M1245 629l8 1 10-4M1110 684l21-6 10-1 11 1 3-1 1-2-10-2-7-4M1268 627l-8 3 0 2 19 2 7 3 5 1 3-1 1-2-11-2 1-1M1134 685l-2 1 7 1 9-3 0-1-5 0-9 2M1262 651l3-3 8-2 22 1 9 6 10 0 9 4 13 2 3 2-4 4 18 6-7 0-6 1 0 8-13-2-7-8-7 2-3 4-7 1-7-2-5-3 5-3-7 0 1 2-9-1 4-11-23-8M1185 687l2-2 4-1 1 2-4 1-3 0M1317 641l-2 2 4 4-3 2-5 0-4-1 1-5-2-1-11 0-16-3-7 0-5 6-13 0-15 3-1 1 2 2 28 6-6 6 0 8-2 1-5-2-8-8-13-2-4 1-4 2 1 2 8 4 1 2-8 5 11-1 15 3-12 2-29-2-32 1-24 6-3 5-18 4M1171 707l-6-7 15-4 0-2-9-2 0-1 9-2 3 0 0 2 12 1 14 4 5 4-7 8-7 1 0 4-5 3M1175 706l14 1 3-1-7-3-10 3M1293 656l0 3 8 4 3 1 14-2 1-1-2-1-9-2-8-4-5 0-2 2M1231 687l7 0 3 3-1 1-6 0-5-1 2-3M1254 678l5-2 4 0-3 2-6 0M1258 687l2-3 3-1 3 0 5 6-7 1-4 0-2-3M1226 703l1-1 4 0 9 1-4 2-5 0-5-2M1208 721l-1-7 7-4 16 0 5 3 8 1 13 7-9 5-14 4M1247 703l3-2 7-1 7 4 14 0 19-1 1-2-7-3-6-7-7-3 1-2 26 0 5 5 13-2 7 1-8 5-1 8-4 6 1 1 15 3-7 10-10-1-7-5-4 0 1 5-8 1-8-1-4-3-1-5-15-2-11-6-12-3M1372 656l-2 1 5 4-10 0-8-4-1-6M1336 682l6-2 11 0 9-5 9 1 7 2-15 5 6 5-15 3-2 1 3 4-10 3-3-1 1-5-5-3-2-8M1257 736l7-6 10 0 2 2-2 6-14 0-3-2M1402 668l0 1 4 0-4-1M1274 745l0-7 11 0 9-3 15 2M1418 668l0 2 9 3M1347 716l-2-3 9-1M1397 689l-6-4 1-3 9 0 5 2M1418 677l-4 0-15 3-7-6-15-3-3-5 4-4 9-2M1144 667l17 0 5 2 3 2-2 4 8 3-3 3-9 2-7-1 0-3 6-3-6-3-9-2-5-3M1205 644l13 4 16 1 6 4 11 2 13 2-1 3-11 2-12-2-9-5-6-1-2 2 4 2-5 6 3 2 7 3-1 2-11 5-6 1-13 1-15-1-2-1 4-4 22-5 0-3 7-4-4-5 5-3-5-1-17-1-15 3M1230 634l2 1-2 2-5-1M1112 685l20-7 7 0 6 1 0 2-17 5 0 2 13 2-7 3M1245 635l3-3 5 0 21 2 5 3-9 2-6 5-29 2 0-2 11-4-1-5M1268 650l5-2 6-1 12 2 2 2-7 5-9-1-9-5M1170 701l10-1 8-6 3 0 17 5 1 1-7 6-4-1-10-4-6-1-6 2-6-1M1311 639l-1 2-17-1 5-2 6-1M1309 646l3-1 4 0-1 3-4 0-2-2M1242 678l0 0M1176 709l5-1 11 2 2 3-1 2M1284 665l4-4 4 0 7 3 0 2-11 1-4-2M1308 656l-1-1 5 0 5 1 0 2-4 0-5-2M1306 669l1-2 3 0 2 1-2 1-4 0M1323 661l1-2 3 0 6 1 1 2-3 1-4 0-4-2M1299 674l0-2 7-1 0 3-4 1-3-1M1210 721l2-5 8-4 4 1 0 5 4 1 9-3 7 2 4 3-1 3-18 5M1289 689l11 0 6 4 11 1 0 10-5 2-8-1-1-6-9-3-5-7M1329 670l2 0 2 1-4 1 0-2M1330 674l0 0M1267 707l30-1 5 3 8 0 14 6 2 3-6 2-6-5-19-1-23-3-6-3 1-1M1366 659l-1-1 4 1-3 0M1370 655l-5 3-4-3-1-3M1345 685l10-1 4 3-10 3-3-1-1-4M1358 680l6-3 7 1-5 3-5 0-3-1M1267 734l0 0M1401 664l-4 3-1 5 3 1 26 0M1414 667l-4 1-4-3M1276 746l5-5 16-3 9 0M1399 688l-5-3 2-1 8 1M1420 676l-7 0-10 2-4-2 0-3-17-3-3-4 3-3 7-3M1202 645l5 2 0 2-14-1M1114 685l10-2 6-3 9-1-3 3-11 2-5 4M1161 671l0 0M1249 636l1-2 3 0 18 2 1 0-6 1-2 5-4 1-9 0-6 1 5-3-1-5M1162 672l-2 0 3 0-1 0M1224 651l2-1 4 0 2 2-3 1-4-1-1-1M1128 691l2-1 1 2M1162 679l2-1 5 0 0 2-6 1-1-2M1190 675l1-2 13-2 19-3 3 1-9 6-6 1-21-1M1252 658l3-1 4 1-3 1-4-1M1273 650l3-1 6 0 1 4-7-1-3-2M1198 701l2 0-2 0M1289 665l1-2 4 1-2 1-3 0M1213 722l1-3 4-1 7 4-3 4M1232 724l5-4 4 1-1 3-8 0M1284 710l-2-1 2-1 5 0 4 1 0 2-9-1M1397 663l-5 4-5 1-2-4 6-3M1286 749l-5-3 1-2 7-2 11 0M1252 636l2-1 4 1 0 2-5 0-1-2M1205 674l0-1 6-1 3 0-3 3-6-1M1289 747l-2-2 1-1 8-1" fill="none" stroke="#555" stroke-width="0.6"/><g fill="currentColor" stroke="currentColor" stroke-width="0.6" stroke-linejoin="round"><path d="M1250.5 488l6.5 19.5 5 9-6-15z" color="#ffadad"/><path d="M1245 491l6.5 8 5.5 8.5-6.5-19.5z" color="#ff9595"/><path d="M1257 507.5l6 6 5.5-3.5-6.5 6.5z" color="#ffc3c3"/><path d="M1239.5 497.5l6.5-4 5.5 5.5-6.5-8z" color="#ff8e8e"/><path d="M1251.5 499l6 6.5 5.5 8-6-6z" color="#ffafaf"/><path d="M1263 513.5l6.5-10.5 5.5-18.5-6.5 25.5z" color="#ffa6a6"/><path d="M1257.5 505.5l6.5-2 5.5-.5-6.5 10.5z" color="#ffadad"/><path d="M1234 491l6.5 4.5 5.5-2-6.5 4z" color="#ff8888"/><path d="M1246 493.5l6 0 5.5 12-6-6.5z" color="#ff9393"/><path d="M1269.5 503l6.5-15 5.5-30-6.5 26.5z" color="#ff6a6a"/><path d="M1228.5 492l6 12.5 6-9-6.5-4.5z" color="#ff8888"/><path d="M1252 493.5l6.5-2 5.5 12-6.5 2z" color="#ff9292"/><path d="M1264 503.5l6.5-9 5.5-6.5-6.5 15z" color="#ff8f8f"/><path d="M1240.5 495.5l6 3 5.5-5-6 0z" color="#ff8888"/><path d="M1276 488l6.5-6.5 5.5-31-6.5 7.5z" color="#ff4545"/><path d="M1222.5 492.5l6-10.5 6 22.5-6-12.5z" color="#ff7c7c"/><path d="M1234.5 504.5l6.5 7 5.5-13-6-3z" color="#ff9999"/><path d="M1246.5 498.5l6.5-5.5 5.5-1.5-6.5 2z" color="#ff8282"/><path d="M1258.5 491.5l6.5-9 5.5 12-6.5 9z" color="#ff7f7f"/><path d="M1270.5 494.5l6.5-23.5 5.5 10.5-6.5 6.5z" color="#ff6565"/><path d="M1282.5 481.5l6.5 15 5.5-17.5-6.5-28.5z" color="#ff5454"/><path d="M1241 511.5l6.5-9 5.5-9.5-6.5 5.5z" color="#ff9393"/><path d="M1216.5 492.5l6.5 9.5 5.5-20-6 10.5z" color="#ff7777"/><path d="M1228.5 482l7 31.5 5.5-2-6.5-7z" color="#ff9696"/><path d="M1253 493l6.5-8 5.5-2.5-6.5 9z" color="#ff6d6d"/><path d="M1265 482.5l6.5-.5 5.5-11-6.5 23.5z" color="#ff5e5e"/><path d="M1277 471l6.5 10.5 5.5 15-6.5-15z" color="#ff5f5f"/><path d="M1289 496.5l6.5 22 5.5-4.5-6.5-35z" color="#ff9797"/><path d="M1211.5 521.5l6 .5 5.5-20-6.5-9.5z" color="#ffa4a4"/><path d="M1235.5 513.5l6-8.5 6-2.5-6.5 9z" color="#ffa2a2"/><path d="M1247.5 502.5l6.5-7 5.5-10.5-6.5 8z" color="#ff7b7b"/><path d="M1283.5 481.5l6.5 43 5.5-6-6.5-22z" color="#ff9d9d"/><path d="M1223 502l6.5 6.5 6 5-7-31.5z" color="#ff8e8e"/><path d="M1259.5 485l6.5 2.5 5.5-5.5-6.5.5z" color="#ff6060"/><path d="M1271.5 482l6.5 20.5 5.5-21-6.5-10.5z" color="#ff6060"/><path d="M1295.5 518.5l7 4.5 5 1.5-6.5-10.5z" color="#ffc8c8"/><path d="M1206 557l6-10 5.5-25-6-.5z" color="#ffefef"/><path d="M1217.5 522l6.5-6.5 5.5-7-6.5-6.5z" color="#ffa8a8"/><path d="M1229.5 508.5l6.5-5 5.5 1.5-6 8.5z" color="#ff9d9d"/><path d="M1241.5 505l6.5-7.5 6-2-6.5 7z" color="#ff8888"/><path d="M1254 495.5l6.5 4.5 5.5-12.5-6.5-2.5z" color="#ff7272"/><path d="M1278 502.5l7 20.5 5 1.5-6.5-43z" color="#ffa0a0"/><path d="M1290 524.5l7-3.5 5.5 2-7-4.5z" color="#ffc9c9"/><path d="M1266 487.5l6.5 13.5 5.5 1.5-6.5-20.5z" color="#ff7676"/><path d="M1302.5 523l6.5-9.5 5.5-.5-7 11.5z" color="#ffc0c0"/><path d="M1224 515.5l6-8.5 6-3.5-6.5 5z" color="#ff9b9b"/><path d="M1260.5 500l6.5 7.5 5.5-6.5-6.5-13.5z" color="#ff8383"/><path d="M1297 521l7-6 5-1.5-6.5 9.5z" color="#ffbbbb"/><path d="M1199.5 541.5l6.5-2 6 7.5-6 10z" color="#f9f9ff"/><path d="M1212 547l6-22.5 6-9-6.5 6.5z" color="#ffcfcf"/><path d="M1236 503.5l6.5 0 5.5-6-6.5 7.5z" color="#ff8b8b"/><path d="M1248 497.5l6.5 4.5 6-2-6.5-4.5z" color="#ff8282"/><path d="M1272.5 501l7 14 5.5 8-7-20.5z" color="#ffa4a4"/><path d="M1285 523l6.5-2.5 5.5.5-7 3.5z" color="#ffc6c6"/><path d="M1309 513.5l7-6 5.5-5-7 10.5z" color="#ffa3a3"/><path d="M1193 504l6.5 14 6.5 21.5-6.5 2z" color="#ffc5c5"/><path d="M1218 524.5l6-16 6-1.5-6 8.5z" color="#ffa6a6"/><path d="M1230 507l6.5 3.5 6-7-6.5 0z" color="#ff9191"/><path d="M1254.5 502l7 6.5 5.5-1-6.5-7.5z" color="#ff8e8e"/><path d="M1267 507.5l7 3 5.5 4.5-7-14z" color="#ff9b9b"/><path d="M1291.5 520.5l7-2.5 5.5-3-7 6z" color="#ffb9b9"/><path d="M1304 515l6.5 3 5.5-10.5-7 6z" color="#ffabab"/><path d="M1206 539.5l6-18 6 3-6 22.5z" color="#ffdcdc"/><path d="M1242.5 503.5l6.5 5.5 5.5-7-6.5-4.5z" color="#ff8a8a"/><path d="M1279.5 515l6.5.5 5.5 5-6.5 2.5z" color="#ffb7b7"/><path d="M1316 507.5l7 1 5.5-7.5-7 1.5z" color="#ff9494"/><path d="M1186.5 504l6.5-8.5 6.5 22.5-6.5-14z" color="#ff8989"/><path d="M1199.5 518l6-4 6.5 7.5-6 18z" color="#ffbbbb"/><path d="M1212 521.5l6-15 6 2-6 16z" color="#ffa6a6"/><path d="M1224 508.5l6.5-2.5 6 4.5-6.5-3.5z" color="#ff9292"/><path d="M1236.5 510.5l6.5 7 6-8.5-6.5-5.5z" color="#ff9999"/><path d="M1249 509l6.5 4 6-4.5-7-6.5z" color="#ff9595"/><path d="M1261.5 508.5l6.5 3 6-1-7-3z" color="#ff9999"/><path d="M1274 510.5l6.5-2 5.5 7-6.5-.5z" color="#ffa2a2"/><path d="M1286 515.5l7-26.5 5.5 29-7 2.5z" color="#ff9f9f"/><path d="M1298.5 518l7 3.5 5-3.5-6.5-3z" color="#ffb4b4"/><path d="M1310.5 518l7.5-5 5-4.5-7-1z" color="#ffa3a3"/><path d="M1323 508.5l7.5-6 5-6.5-7 5z" color="#ff8989"/><path d="M1193 495.5l6.5 20.5 6-2-6 4z" color="#ff9595"/><path d="M1205.5 514l6.5-10.5 6 3-6 15z" color="#ff9797"/><path d="M1243 517.5l7 9 5.5-13.5-6.5-4z" color="#ffa7a7"/><path d="M1280.5 508.5l7 5 5.5-24.5-7 26.5z" color="#ff9090"/><path d="M1318 513l7-12.5 5.5 2-7.5 6z" color="#ff9191"/><path d="M1180.5 514l6.5 6.5 6-25-6.5 8.5z" color="#ff8d8d"/><path d="M1218 506.5l6.5-5.5 6 5-6.5 2.5z" color="#ff8888"/><path d="M1230.5 506l7 6.5 5.5 5-6.5-7z" color="#ff9999"/><path d="M1255.5 513l7 4 5.5-5.5-6.5-3z" color="#ff9d9d"/><path d="M1268 511.5l7 3.5 5.5-6.5-6.5 2z" color="#ff9c9c"/><path d="M1293 489l7 28.5 5.5 4-7-3.5z" color="#ff9d9d"/><path d="M1305.5 521.5l7-13 5.5 4.5-7.5 5z" color="#ffa9a9"/><path d="M1330.5 502.5l7-.5 5.5-7.5-7.5 1.5z" color="#ff7d7d"/><path d="M1212 503.5l6.5-2 6-.5-6.5 5.5z" color="#ff7e7e"/><path d="M1250 526.5l6.5 8.5 6-18-7-4z" color="#ffb5b5"/><path d="M1287.5 513.5l7-3 5.5 7-7-28.5z" color="#ff8f8f"/><path d="M1325 500.5l7 6 5.5-4.5-7 .5z" color="#ff8585"/><path d="M1174 508.5l6.5-4 6.5 16-6.5-6.5z" color="#ff9393"/><path d="M1187 520.5l6.5-1 6-3.5-6.5-20.5z" color="#ff9797"/><path d="M1199.5 516l6-37.5 6.5 25-6.5 10.5z" color="#ff7d7d"/><path d="M1237.5 512.5l6.5 14 6 0-7-9z" color="#ffafaf"/><path d="M1275 515l7 8 5.5-9.5-7-5z" color="#ffa2a2"/><path d="M1312.5 508.5l7.5-17.5 5 9.5-7 12.5z" color="#ff8585"/><path d="M1224.5 501l6.5 4 6.5 7.5-7-6.5z" color="#ff8686"/><path d="M1262.5 517l6.5 10.5 6-12.5-7-3.5z" color="#ffa9a9"/><path d="M1300 517.5l7-12.5 5.5 3.5-7 13z" color="#ff9f9f"/><path d="M1337.5 502l7 3 5.5-10-7-.5z" color="#ff7b7b"/><path d="M1168 516l5.5-31.5 7 20-6.5 4z" color="#ff7878"/><path d="M1180.5 504.5l6-.5 7 15.5-6.5 1z" color="#ff9191"/><path d="M1205.5 478.5l7 28.5 6-5.5-6.5 2z" color="#ff6b6b"/><path d="M1218.5 501.5l6.5 1 6 2.5-6.5-4z" color="#ff7979"/><path d="M1244 526.5l7 10.5 5.5-2-6.5-8.5z" color="#ffc8c8"/><path d="M1256.5 535l7 7 5.5-14.5-6.5-10.5z" color="#ffc7c7"/><path d="M1282 523l7-11.5 5.5-1-7 3z" color="#ff9e9e"/><path d="M1294.5 510.5l7-12 5.5 6.5-7 12.5z" color="#ff8d8d"/><path d="M1320 491l7 10 5 5.5-7-6z" color="#ff7878"/><path d="M1332 506.5l7 13.5 5.5-15-7-3z" color="#ff9090"/><path d="M1193.5 519.5l6.5-1.5 5.5-39.5-6 37.5z" color="#ff8787"/><path d="M1231 505l7.5 46.5 5.5-25-6.5-14z" color="#ffb4b4"/><path d="M1269 527.5l7 8.5 6-13-7-8z" color="#ffbaba"/><path d="M1307 505l7.5-12 5.5-2-7.5 17.5z" color="#ff7676"/><path d="M1344.5 505l7.5-7 5.5-16-7.5 13z" color="#ff6d6d"/><path d="M1173.5 484.5l6.5 11 6.5 8.5-6 .5z" color="#ff6464"/><path d="M1225 502.5l7-5.5 6.5 54.5-7.5-46.5z" color="#ff9595"/><path d="M1263.5 542l7 3.5 5.5-9.5-7-8.5z" color="#ffd9d9"/><path d="M1301.5 498.5l7 .5 6-6-7.5 12z" color="#ff7171"/><path d="M1162 530.5l5.5-11.5 6-34.5-5.5 31.5z" color="#ff8c8c"/><path d="M1186.5 504l7 10 6.5 4-6.5 1.5z" color="#ff9292"/><path d="M1200 518l6.5 3 6-14-7-28.5z" color="#ff7e7e"/><path d="M1212.5 507l6.5-2 6-2.5-6.5-1z" color="#ff7979"/><path d="M1238.5 551.5l6.5-34.5 6 20-7-10.5z" color="#ffc9c9"/><path d="M1251 537l6.5 3 6 2-7-7z" color="#ffdada"/><path d="M1276 536l7-14.5 6-10-7 11.5z" color="#ffb1b1"/><path d="M1289 511.5l7-16.5 5.5 3.5-7 12z" color="#ff7e7e"/><path d="M1314.5 493l7 11 5.5-3-7-10z" color="#ff6e6e"/><path d="M1327 501l7 22 5-3-7-13.5z" color="#ff9898"/><path d="M1339 520l7.5-2 5.5-20-7.5 7z" color="#ff9393"/><path d="M1352 498l8-6 5.5-16.5-8 6.5z" color="#ff5555"/><path d="M1232 497l6.5-2 6.5 22-6.5 34.5z" color="#ff9595"/><path d="M1270.5 545.5l7-10.5 5.5-13.5-7 14.5z" color="#ffcccc"/><path d="M1308.5 499l7.5 16.5 5.5-11.5-7-11z" color="#ff7979"/><path d="M1346.5 518l8-11 5.5-15-8 6z" color="#ff7e7e"/><path d="M1155.5 548l6-11.5 6-17.5-5.5 11.5z" color="#ffc1c1"/><path d="M1167.5 519l6.5-11.5 6-12-6.5-11z" color="#ff6c6c"/><path d="M1180 495.5l6.5 7.5 7 11-7-10z" color="#ff7474"/><path d="M1193.5 514l6.5 13 6.5-6-6.5-3z" color="#ffa0a0"/><path d="M1219 505l6.5-15 6.5 7-7 5.5z" color="#ff6868"/><path d="M1257.5 540l7 3 6 2.5-7-3.5z" color="#ffe2e2"/><path d="M1296 495l7 8 5.5-4-7-.5z" color="#ff6e6e"/><path d="M1206.5 521l6.5-6 6-10-6.5 2z" color="#ff8a8a"/><path d="M1245 517l6.5 4.5 6 18.5-6.5-3z" color="#ffbbbb"/><path d="M1283 521.5l7-11 6-15.5-7 16.5z" color="#ff8a8a"/><path d="M1321.5 504l7 20.5 5.5-1.5-7-22z" color="#ff9696"/><path d="M1334 523l7 3 5.5-8-7.5 2z" color="#ffaeae"/><path d="M1360 492l7 21 5.5-15.5-7-22z" color="#ff6666"/><path d="M1149 553l6-13 6.5-3.5-6 11.5z" color="#ffdbdb"/><path d="M1161.5 536.5l6-12.5 6.5-16.5-6.5 11.5z" color="#ff9e9e"/><path d="M1186.5 503l7 17.5 6.5 6.5-6.5-13z" color="#ff9191"/><path d="M1200 527l6.5-1 6.5-11-6.5 6z" color="#ffa2a2"/><path d="M1225.5 490l7 0 6 5-6.5 2z" color="#ff5757"/><path d="M1238.5 495l7 9 6 17.5-6.5-4.5z" color="#ff8383"/><path d="M1264.5 543l7-1.5 6-6.5-7 10.5z" color="#ffdada"/><path d="M1277.5 535l7-4.5 5.5-20-7 11z" color="#ffadad"/><path d="M1303 503l7 20 6-7.5-7.5-16.5z" color="#ff8888"/><path d="M1316 515.5l7 15.5 5.5-6.5-7-20.5z" color="#ffa0a0"/><path d="M1341 526l8-12.5 5.5-6.5-8 11z" color="#ff9c9c"/><path d="M1354.5 507l7 12 5.5-6-7-21z" color="#ff8686"/><path d="M1174 507.5l6.5-.5 6-4-6.5-7.5z" color="#ff6e6e"/><path d="M1213 515l6.5-13 6-12-6.5 15z" color="#ff7070"/><path d="M1251.5 521.5l7 8 6 13.5-7-3z" color="#ffc3c3"/><path d="M1290 510.5l7.5 11 5.5-18.5-7-8z" color="#ff8181"/><path d="M1328.5 524.5l7 7.5 5.5-6-7-3z" color="#ffb6b6"/><path d="M1367 513l6.5 31.5 6-20-7-27z" color="#ffa7a7"/><path d="M1245.5 504l7 11.5 6 14-7-8z" color="#ff9595"/><path d="M1284.5 530.5l7-16 6 7-7.5-11z" color="#ff9c9c"/><path d="M1155 540l6-11 6.5-5-6 12.5z" color="#ffb6b6"/><path d="M1193.5 520.5l7 7.5 6-2-6.5 1z" color="#ffa6a6"/><path d="M1141.5 531.5l6.5-7 7 15.5-6 13z" color="#ffc2c2"/><path d="M1167.5 524l6.5-9.5 6.5-7.5-6.5.5z" color="#ff8484"/><path d="M1180.5 507l6.5 13 6.5.5-7-17.5z" color="#ff8383"/><path d="M1206.5 526l7-1 6-23-6.5 13z" color="#ff9191"/><path d="M1219.5 502l6.5 5 6.5-17-7 0z" color="#ff5e5e"/><path d="M1232.5 490l6.5-19 6.5 33-7-9z" color="#ff4e4e"/><path d="M1258.5 529.5l7 3.5 6 8.5-7 1.5z" color="#ffc9c9"/><path d="M1271.5 541.5l7-7 6-4-7 4.5z" color="#ffc6c6"/><path d="M1297.5 521.5l7 13 5.5-11.5-7-20z" color="#ffa0a0"/><path d="M1310 523l7.5 12 5.5-4-7-15.5z" color="#ffb0b0"/><path d="M1323 531l7 4.5 5.5-3.5-7-7.5z" color="#ffbdbd"/><path d="M1335.5 532l8-6.5 5.5-12-8 12.5z" color="#ffadad"/><path d="M1349 513.5l7.5 3 5 2.5-7-12z" color="#ff9393"/><path d="M1361.5 519l7 25.5 5 0-6.5-31.5z" color="#ffbfbf"/><path d="M1373.5 544.5l7.5 5.5 5.5-14-7-11.5z" color="#ffd7d7"/><path d="M1252.5 515.5l7 2.5 6 15-7-3.5z" color="#ffa3a3"/><path d="M1291.5 514.5l7.5 5.5 5.5 14.5-7-13z" color="#ffa2a2"/><path d="M1330 535.5l7.5-1.5 6-8.5-8 6.5z" color="#ffbcbc"/><path d="M1368.5 544.5l7.5 1 5 4.5-7.5-5.5z" color="#ffe7e7"/><path d="M1134.5 516l6 4 7.5 4.5-6.5 7z" color="#ff9898"/><path d="M1161 529l6.5-7.5 6.5-7-6.5 9.5z" color="#ff9898"/><path d="M1174 514.5l6.5 4.5 6.5 1-6.5-13z" color="#ff8686"/><path d="M1200.5 528l6.5 9.5 6.5-12.5-7 1z" color="#ffadad"/><path d="M1213.5 525l7 10 5.5-28-6.5-5z" color="#ff8e8e"/><path d="M1239 471l7.5 46.5 6-2-7-11.5z" color="#ff6868"/><path d="M1278.5 534.5l7 1.5 6-21.5-7 16z" color="#ffb1b1"/><path d="M1148 524.5l6 3 7 1.5-6 11z" color="#ffacac"/><path d="M1187 520l7 12.5 6.5-4.5-7-7.5z" color="#ffa1a1"/><path d="M1226 507l7.5 14 5.5-50-6.5 19z" color="#ff5a5a"/><path d="M1265.5 533l7-10.5 6 12-7 7z" color="#ffbbbb"/><path d="M1304.5 534.5l7 7 6-6.5-7.5-12z" color="#ffbfbf"/><path d="M1317.5 535l7-1 5.5 1.5-7-4.5z" color="#ffc1c1"/><path d="M1343.5 525.5l7.5-2.5 5.5-6.5-7.5-3z" color="#ff9d9d"/><path d="M1356.5 516.5l7 13.5 5 14.5-7-25.5z" color="#ffb3b3"/><path d="M1381 550l8-9 5 .5-7.5-5.5z" color="#ffdddd"/><path d="M1167.5 521.5l6.5 1 6.5-3.5-6.5-4.5z" color="#ff8d8d"/><path d="M1207 537.5l7 12 6.5-14.5-7-10z" color="#ffbdbd"/><path d="M1246.5 517.5l7-4 6 4.5-7-2.5z" color="#ff8a8a"/><path d="M1259.5 518l7-10.5 6 15-7 10.5z" color="#ff9696"/><path d="M1285.5 536l7.5 11 6-27-7.5-5.5z" color="#ffafaf"/><path d="M1299 520l7 29.5 5.5-8-7-7z" color="#ffc3c3"/><path d="M1324.5 534l8-4 5 4-7.5 1.5z" color="#ffbdbd"/><path d="M1337.5 534l8-3 5.5-8-7.5 2.5z" color="#ffb0b0"/><path d="M1363.5 530l8-1 4.5 16.5-7.5-1z" color="#ffcaca"/><path d="M1376 545.5l8.5-11 4.5 6.5-8 9z" color="#ffdada"/><path d="M1128 532l6.5 5.5 6-17.5-6-4z" color="#ff9d9d"/><path d="M1140.5 520l7 12.5 6.5-5-6-3z" color="#ff9d9d"/><path d="M1180.5 519l6-21.5 7.5 35-7-12.5z" color="#ff8888"/><path d="M1154 527.5l6-17 7.5 11-6.5 7.5z" color="#ff9494"/><path d="M1194 532.5l7 9.5 6-4.5-6.5-9.5z" color="#ffb8b8"/><path d="M1220.5 535l6.5 1 6.5-15-7.5-14z" color="#ff9e9e"/><path d="M1233.5 521l6.5 1.5 6.5-5-7.5-46.5z" color="#ff7474"/><path d="M1272.5 522.5l7.5 1.5 5.5 12-7-1.5z" color="#ffaeae"/><path d="M1311.5 541.5l7.5-1.5 5.5-6-7 1z" color="#ffc7c7"/><path d="M1351 523l7.5-1 5 8-7-13.5z" color="#ffa3a3"/><path d="M1389 541l9.5-47 3.5 53.5-8-6z" color="#ffbbbb"/><path d="M1266.5 507.5l7.5 7 6 9.5-7.5-1.5z" color="#ff8b8b"/><path d="M1174 522.5l7 13.5 5.5-38.5-6 21.5z" color="#ff8888"/><path d="M1147.5 532.5l6.5 3.5 6-25.5-6 17z" color="#ff9b9b"/><path d="M1121.5 547l5.5-20.5 7.5 11-6.5-5.5z" color="#ffb1b1"/><path d="M1134.5 537.5l6.5 3.5 6.5-8.5-7-12.5z" color="#ffaaaa"/><path d="M1160 510.5l7 19 7-7-6.5-1z" color="#ff8d8d"/><path d="M1186.5 497.5l7.5 44 7 .5-7-9.5z" color="#ffa2a2"/><path d="M1201 542l6.5 2.5 6.5 5-7-12z" color="#ffcaca"/><path d="M1214 549.5l6.5-19.5 6.5 6-6.5-1z" color="#ffbcbc"/><path d="M1227 536l6.5-47.5 6.5 34-6.5-1.5z" color="#ff8787"/><path d="M1240 522.5l7-9 6.5 0-7 4z" color="#ff8888"/><path d="M1253.5 513.5l7-9 6 3-7 10.5z" color="#ff7979"/><path d="M1280 524l7 18 6 5-7.5-11z" color="#ffc0c0"/><path d="M1293 547l7 6.5 6-4-7-29.5z" color="#ffcece"/><path d="M1306 549.5l7.5-1.5 5.5-8-7.5 1.5z" color="#ffd6d6"/><path d="M1319 540l7.5-7.5 6-2.5-8 4z" color="#ffbbbb"/><path d="M1332.5 530l7.5-1.5 5.5 2.5-8 3z" color="#ffb3b3"/><path d="M1345.5 531l7.5-7.5 5.5-1.5-7.5 1z" color="#ffa4a4"/><path d="M1358.5 522l8-10 5 17-8 1z" color="#ffa0a0"/><path d="M1371.5 529l8-7 5 12.5-8.5 11z" color="#ffbbbb"/><path d="M1384.5 534.5l8-13.5 6-27-9.5 47z" color="#ffa1a1"/><path d="M1398.5 494l7 29.5 4.5 17.5-8 6.5z" color="#ffacac"/><path d="M1274 514.5l7 23 6 4.5-7-18z" color="#ffa7a7"/><path d="M1313.5 548l7.5-6.5 5.5-9-7.5 7.5z" color="#ffc6c6"/><path d="M1353 523.5l8.5-16 5 4.5-8 10z" color="#ff8a8a"/><path d="M1392.5 521l8.5-9.5 4.5 12-7-29.5z" color="#ff8383"/><path d="M1154 536l6-16 7 9.5-7-19z" color="#ff9191"/><path d="M1181 536l6.5 4.5 6.5 1-7.5-44z" color="#ff9f9f"/><path d="M1194 541.5l7-8.5 6.5 11.5-6.5-2.5z" color="#ffbdbd"/><path d="M1220.5 530l7-2 6-39.5-6.5 47.5z" color="#ff8c8c"/><path d="M1233.5 488.5l7-6.5 6.5 31.5-7 9z" color="#ff5d5d"/><path d="M1260.5 504.5l7 12.5 6.5-2.5-7.5-7z" color="#ff7676"/><path d="M1114.5 552l6-7 6.5-18.5-5.5 20.5z" color="#ffbebe"/><path d="M1141 541l6-6 7 1-6.5-3.5z" color="#ffafaf"/><path d="M1127 526.5l6.5 15.5 7.5-1-6.5-3.5z" color="#ffb0b0"/><path d="M1167 529.5l7 2 7 4.5-7-13.5z" color="#ffa1a1"/><path d="M1207.5 544.5l7-2.5 6-12-6.5 19.5z" color="#ffc2c2"/><path d="M1247 513.5l7.5-2.5 6-6.5-7 9z" color="#ff7474"/><path d="M1287 542l7.5 7 5.5 4.5-7-6.5z" color="#ffd8d8"/><path d="M1300 553.5l7.5-5.5 6 0-7.5 1.5z" color="#ffdfdf"/><path d="M1326.5 532.5l8-4.5 5.5.5-7.5 1.5z" color="#ffacac"/><path d="M1340 528.5l7.5-.5 5.5-4.5-7.5 7.5z" color="#ffa7a7"/><path d="M1366.5 512l8-10.5 5 20.5-8 7z" color="#ff8b8b"/><path d="M1379.5 522l8-8.5 5 7.5-8 13.5z" color="#ff9d9d"/><path d="M1405.5 523.5l8 7 5 5.5-8.5 5z" color="#ffb8b8"/><path d="M1187.5 540.5l6-31.5 7.5 24-7 8.5z" color="#ffa1a1"/><path d="M1227.5 528l7 1.5 6-47.5-7 6.5z" color="#ff6666"/><path d="M1267.5 517l7.5-6 6 26.5-7-23z" color="#ff8a8a"/><path d="M1281 537.5l7.5 7.5 6 4-7.5-7z" color="#ffc7c7"/><path d="M1307.5 548l7.5-9 6 2.5-7.5 6.5z" color="#ffcbcb"/><path d="M1321 541.5l7.5-4.5 6-9-8 4.5z" color="#ffb4b4"/><path d="M1347.5 528l8-6.5 6-14-8.5 16z" color="#ff9090"/><path d="M1361.5 507.5l8-12.5 5 6.5-8 10.5z" color="#ff6767"/><path d="M1387.5 513.5l8.5-5 5 3-8.5 9.5z" color="#ff8282"/><path d="M1401 511.5l8 9.5 4.5 9.5-8-7z" color="#ff9797"/><path d="M1147 535l6-16.5 7 1.5-6 16z" color="#ff9595"/><path d="M1160 520l6.5-11 7.5 22.5-7-2z" color="#ff8a8a"/><path d="M1107.5 558.5l6-6.5 7-7-6 7z" color="#ffd2d2"/><path d="M1120.5 545l6-1 7-2-6.5-15.5z" color="#ffb2b2"/><path d="M1133.5 542l6.5-2.5 7-4.5-6 6z" color="#ffb3b3"/><path d="M1174 531.5l6.5-1.5 7 10.5-6.5-4.5z" color="#ffa9a9"/><path d="M1201 533l6.5-1.5 7 10.5-7 2.5z" color="#ffb4b4"/><path d="M1214.5 542l6.5-30.5 6.5 16.5-7 2z" color="#ff9b9b"/><path d="M1240.5 482l8 85 6-56-7.5 2.5z" color="#ff8484"/><path d="M1254.5 511l7 16.5 6-10.5-7-12.5z" color="#ff7c7c"/><path d="M1294.5 549l7.5-10 5.5 9-7.5 5.5z" color="#ffd3d3"/><path d="M1334.5 528l7.5 5.5 5.5-5.5-7.5.5z" color="#ffa8a8"/><path d="M1374.5 501.5l8 1 5 11-8 8.5z" color="#ff7878"/><path d="M1413.5 530.5l7.5 19 5 0-7.5-13.5z" color="#ffcbcb"/><path d="M1100.5 564.5l5.5-8 7.5-4.5-6 6.5z" color="#ffdddd"/><path d="M1113.5 552l6.5 3.5 6.5-11.5-6 1z" color="#ffc7c7"/><path d="M1126.5 544l6-20.5 7.5 16-6.5 2.5z" color="#ffaaaa"/><path d="M1140 539.5l6.5-8 6.5-13-6 16.5z" color="#ff9b9b"/><path d="M1153 518.5l6.5-11 7 1.5-6.5 11z" color="#ff6f6f"/><path d="M1166.5 509l8 50.5 6-29.5-6.5 1.5z" color="#ffa0a0"/><path d="M1180.5 530l6.5-8 6.5-13-6 31.5z" color="#ff8f8f"/><path d="M1193.5 509l7.5 18 6.5 4.5-6.5 1.5z" color="#ff8f8f"/><path d="M1207.5 531.5l7.5 21 6-41-6.5 30.5z" color="#ffa7a7"/><path d="M1221 511.5l7.5 41 6-23-7-1.5z" color="#ff9e9e"/><path d="M1234.5 529.5l7.5 11.5 6.5 26-8-85z" color="#ff9e9e"/><path d="M1248.5 567l7-28.5 6-11-7-16.5z" color="#ffaeae"/><path d="M1261.5 527.5l7.5 19 6-35.5-7.5 6z" color="#ff9494"/><path d="M1275 511l7.5 35.5 6-1.5-7.5-7.5z" color="#ffadad"/><path d="M1288.5 545l7.5-13.5 6 7.5-7.5 10z" color="#ffbebe"/><path d="M1302 539l7.5-11 5.5 11-7.5 9z" color="#ffb8b8"/><path d="M1315 539l8 2 5.5-4-7.5 4.5z" color="#ffbcbc"/><path d="M1328.5 537l7.5 3.5 6-7-7.5-5.5z" color="#ffb1b1"/><path d="M1342 533.5l6.5 68.5 7-80.5-8 6.5z" color="#ffcfcf"/><path d="M1355.5 521.5l8-6 6-20.5-8 12.5z" color="#ff7373"/><path d="M1369.5 495l8 9 5-1.5-8-1z" color="#ff5c5c"/><path d="M1382.5 502.5l8 5 5.5 1-8.5 5z" color="#ff7070"/><path d="M1396 508.5l8 5 5 7.5-8-9.5z" color="#ff7f7f"/><path d="M1409 521l7.5 13.5 4.5 15-7.5-19z" color="#ffb3b3"/><path d="M1421 549.5l7.5 16 5 5.5-7.5-21.5z" color="#fff8f8"/><path d="M1296 531.5l7.5-8 6 4.5-7.5 11z" color="#ffa0a0"/><path d="M1336 540.5l8 2.5 4.5 59-6.5-68.5z" color="#ffe2e2"/><path d="M1377.5 504l7.5 15.5 5.5-12-8-5z" color="#ff6d6d"/><path d="M1416.5 534.5l8 12 4 19-7.5-16z" color="#ffd8d8"/><path d="M1174.5 559.5l5.5-41 7 3.5-6.5 8z" color="#ff9d9d"/><path d="M1201 527l7.5 27.5 6.5-2-7.5-21z" color="#ffb5b5"/><path d="M1215 552.5l7 11.5 6.5-11.5-7.5-41z" color="#ffbfbf"/><path d="M1242 541l7 0 6.5-2.5-7 28.5z" color="#ffc6c6"/><path d="M1255.5 538.5l7 10.5 6.5-2.5-7.5-19z" color="#ffb6b6"/><path d="M1132.5 523.5l7 22 7-14-6.5 8z" color="#ffa0a0"/><path d="M1106 556.5l6.5 5 7.5-6-6.5-3.5z" color="#ffd5d5"/><path d="M1120 555.5l6.5 8.5 6-40.5-6 20.5z" color="#ffbdbd"/><path d="M1146.5 531.5l6-8 7-16-6.5 11z" color="#ff7c7c"/><path d="M1159.5 507.5l6.5 2.5 8.5 49.5-8-50.5z" color="#ff8080"/><path d="M1187 522l7.5 35 6.5-30-7.5-18z" color="#ff9494"/><path d="M1228.5 552.5l7-1 6.5-10.5-7.5-11.5z" color="#ffbcbc"/><path d="M1269 546.5l7.5 6 6-6-7.5-35.5z" color="#ffb3b3"/><path d="M1282.5 546.5l7.5-9 6-6-7.5 13.5z" color="#ffb7b7"/><path d="M1309.5 528l7.5 9.5 6 3.5-8-2z" color="#ffafaf"/><path d="M1323 541l7.5 3 5.5-3.5-7.5-3.5z" color="#ffbbbb"/><path d="M1348.5 602l9-59.5 6-27-8 6z" color="#ffc9c9"/><path d="M1363.5 515.5l8.5-12.5 5.5 1-8-9z" color="#ff6262"/><path d="M1390.5 507.5l8 5.5 5.5.5-8-5z" color="#ff7373"/><path d="M1404 513.5l8 8.5 4.5 12.5-7.5-13.5z" color="#ff9393"/><path d="M1208.5 554.5l7 14 6.5-4.5-7-11.5z" color="#ffe1e1"/><path d="M1249 541l7.5-3 6 11-7-10.5z" color="#ffb4b4"/><path d="M1290 537.5l7 56 6.5-70-7.5 8z" color="#ffc3c3"/><path d="M1303.5 523.5l7 56 6.5-42-7.5-9.5z" color="#ffb9b9"/><path d="M1330.5 544l8-7.5 5.5 6.5-8-2.5z" color="#ffb9b9"/><path d="M1344 543l7.5 8.5 6-9-9 59.5z" color="#ffebeb"/><path d="M1372 503l7 32 6-15.5-7.5-15.5z" color="#ff7b7b"/><path d="M1385 519.5l8 8 5.5-14.5-8-5.5z" color="#ff7f7f"/><path d="M1412 522l8 14 4.5 10.5-8-12z" color="#ffaeae"/><path d="M1126.5 564l6.5 0 6.5-18.5-7-22z" color="#ffbfbf"/><path d="M1166 510l7.5 14 6.5-5.5-5.5 41z" color="#ff8d8d"/><path d="M1112.5 561.5l7 15 7-12.5-6.5-8.5z" color="#ffe6e6"/><path d="M1139.5 545.5l6.5-10 6.5-12-6 8z" color="#ff9a9a"/><path d="M1152.5 523.5l7 2.5 6.5-16-6.5-2.5z" color="#ff7070"/><path d="M1180 518.5l7.5 26 7 12.5-7.5-35z" color="#ffa1a1"/><path d="M1194.5 557l7 0 7-2.5-7.5-27.5z" color="#ffc4c4"/><path d="M1222 564l7-4.5 6.5-8-7 1z" color="#ffdada"/><path d="M1235.5 551.5l7-8.5 6.5-2-7 0z" color="#ffbaba"/><path d="M1262.5 549l7.5-22 6.5 25.5-7.5-6z" color="#ffbbbb"/><path d="M1276.5 552.5l7 52 6.5-67-7.5 9z" color="#ffe7e7"/><path d="M1317 537.5l7.5 5 6 1.5-7.5-3z" color="#ffb8b8"/><path d="M1357.5 542.5l8 3.5 6.5-43-8.5 12.5z" color="#ff9797"/><path d="M1398.5 513l8 11 5.5-2-8-8.5z" color="#ff8383"/><path d="M1119.5 576.5l7 8.5 6.5-21-6.5 0z" color="#fff7f7"/><path d="M1133 564l6.5-5.5 6.5-23-6.5 10z" color="#ffc0c0"/><path d="M1159.5 526l7 7.5 7-9.5-7.5-14z" color="#ff7d7d"/><path d="M1187.5 544.5l7.5 13.5 6.5-1-7 0z" color="#ffcccc"/><path d="M1201.5 557l7.5 11.5 6.5 0-7-14z" color="#ffe2e2"/><path d="M1215.5 568.5l7 2.5 6.5-11.5-7 4.5z" color="#ffeded"/><path d="M1229 559.5l7.5-5 6-11.5-7 8.5z" color="#ffc9c9"/><path d="M1242.5 543l7.5-7 6.5 2-7.5 3z" color="#ffabab"/><path d="M1256.5 538l7.5 57 6-68-7.5 22z" color="#ffcccc"/><path d="M1283.5 604.5l8-58 5.5 47-7-56z" color="#ffffff"/><path d="M1297 593.5l8-49 5.5 35-7-56z" color="#ffe4e4"/><path d="M1310.5 579.5l8.5-43 5.5 6-7.5-5z" color="#ffc7c7"/><path d="M1324.5 542.5l8.5-16.5 5.5 10.5-8 7.5z" color="#ffabab"/><path d="M1338.5 536.5l7.5 8 5.5 7-7.5-8.5z" color="#ffbcbc"/><path d="M1351.5 551.5l8 6 6-11.5-8-3.5z" color="#ffcbcb"/><path d="M1365.5 546l8-1 5.5-10-7-32z" color="#ffa1a1"/><path d="M1379 535l8.5 4 5.5-11.5-8-8z" color="#ff9d9d"/><path d="M1393 527.5l8 9.5 5.5-13-8-11z" color="#ff9191"/><path d="M1406.5 524l8 17 5.5-5-8-14z" color="#ffa0a0"/><path d="M1146 535.5l6.5.5 7-10-7-2.5z" color="#ff8d8d"/><path d="M1173.5 524l7 20.5 7 0-7.5-26z" color="#ff9595"/><path d="M1270 527l7.5 25.5 6 52-7-52z" color="#ffdfdf"/><path d="M1319 536.5l8-16 6 5.5-8.5 16.5z" color="#ff9898"/><path d="M1359.5 557.5l8.5-5.5 5.5-7-8 1z" color="#ffc9c9"/><path d="M1401 537l8 13 5.5-9-8-17z" color="#ffaeae"/><path d="M1152.5 536l7 4 7-6.5-7-7.5z" color="#ff9393"/><path d="M1195 558l7 9.5 7 1-7.5-11.5z" color="#ffdede"/><path d="M1222.5 571l7.5-2 6.5-14.5-7.5 5z" color="#ffe3e3"/><path d="M1236.5 554.5l7-6.5 6.5-12-7.5 7z" color="#ffb5b5"/><path d="M1277.5 552.5l7.5-6.5 6.5.5-8 58z" color="#ffe4e4"/><path d="M1126.5 585l6.5 1 6.5-27.5-6.5 5.5z" color="#fff5f5"/><path d="M1139.5 558.5l6-9.5 7-13-6.5-.5z" color="#ffadad"/><path d="M1180.5 544.5l7.5 10.5 7 3-7.5-13.5z" color="#ffbebe"/><path d="M1166.5 533.5l7 8.5 7 2.5-7-20.5z" color="#ff9999"/><path d="M1209 568.5l7 9 6.5-6.5-7-2.5z" color="#fff6f6"/><path d="M1250 536l7.5 2 6.5 57-7.5-57z" color="#ffc6c6"/><path d="M1264 595l7.5-51.5 6 9-7.5-25.5z" color="#ffcece"/><path d="M1291.5 546.5l7.5 4 6-6-8 49z" color="#ffdbdb"/><path d="M1305 544.5l8 0 6-8-8.5 43z" color="#ffc8c8"/><path d="M1333 526l8 1.5 5 17-7.5-8z" color="#ff9e9e"/><path d="M1346 544.5l8.5-22 5 35-8-6z" color="#ffb9b9"/><path d="M1373.5 545l8.5-.5 5.5-5.5-8.5-4z" color="#ffb3b3"/><path d="M1387.5 539l8 10 5.5-12-8-9.5z" color="#ffadad"/><path d="M1230 569l7-14 6.5-7-7 6.5z" color="#ffcccc"/><path d="M1271.5 543.5l7.5-2.5 6 5-7.5 6.5z" color="#ffb4b4"/><path d="M1313 544.5l8-7.5 6-16.5-8 16z" color="#ff9b9b"/><path d="M1327 520.5l8 1 6 6-8-1.5z" color="#ff8181"/><path d="M1354.5 522.5l7.5 39.5 6-10-8.5 5.5z" color="#ffc0c0"/><path d="M1368 552l8-3 6-4.5-8.5.5z" color="#ffbfbf"/><path d="M1395.5 549l8 13.5 5.5-12.5-8-13z" color="#ffc6c6"/><path d="M1145.5 549l7-4.5 7-4.5-7-4z" color="#ffa3a3"/><path d="M1188 555l7 12.5 7 0-7-9.5z" color="#ffd7d7"/><path d="M1133 586l6-22.5 6.5-14.5-6 9.5z" color="#ffd9d9"/><path d="M1159.5 540l7 7.5 7-5.5-7-8.5z" color="#ffa0a0"/><path d="M1173.5 542l7.5 9 7 4-7.5-10.5z" color="#ffb3b3"/><path d="M1202 567.5l7.5 11 6.5-1-7-9z" color="#fff5f5"/><path d="M1216 577.5l7-6 7-2.5-7.5 2z" color="#fff4f4"/><path d="M1243.5 548l7.5-4 6.5-6-7.5-2z" color="#ffa8a8"/><path d="M1285 546l8-1.5 6 6-7.5-4z" color="#ffb8b8"/><path d="M1257.5 538l7.5 5.5 6.5 0-7.5 51.5z" color="#ffcaca"/><path d="M1299 550.5l7.5 4 6.5-10-8 0z" color="#ffbcbc"/><path d="M1341 527.5l7.5 17 6-22-8.5 22z" color="#ff9d9d"/><path d="M1382 544.5l7.5 14 6-9.5-8-10z" color="#ffc0c0"/><path d="M1139 563.5l6-13.5 7.5-5.5-7 4.5z" color="#ffb6b6"/><path d="M1166.5 547.5l7.5 13.5 7-10-7.5-9z" color="#ffb4b4"/><path d="M1181 551l7 12 7 4.5-7-12.5z" color="#ffcbcb"/><path d="M1209.5 578.5l7-11.5 6.5 4.5-7 6z" color="#fff3f3"/><path d="M1223 571.5l7.5-18.5 6.5 2-7 14z" color="#ffd6d6"/><path d="M1237 555l7.5-10 6.5-1-7.5 4z" color="#ffb3b3"/><path d="M1265 543.5l7.5 6.5 6.5-9-7.5 2.5z" color="#ffadad"/><path d="M1279 541l7.5 0 6.5 3.5-8 1.5z" color="#ffaaaa"/><path d="M1306.5 554.5l8 3 6.5-20.5-8 7.5z" color="#ffb9b9"/><path d="M1321 537l8 5 6-20.5-8-1z" color="#ff8d8d"/><path d="M1335 521.5l8 9 5.5 14-7.5-17z" color="#ff9090"/><path d="M1348.5 544.5l8 11.5 5.5 6-7.5-39.5z" color="#ffb6b6"/><path d="M1362 562l8.5-4 5.5-9-8 3z" color="#ffcece"/><path d="M1376 549l8 10.5 5.5-1-7.5-14z" color="#ffc8c8"/><path d="M1389.5 558.5l8 18 6-14-8-13.5z" color="#ffe0e0"/><path d="M1152.5 544.5l7 12.5 7-9.5-7-7.5z" color="#ffacac"/><path d="M1195 567.5l7.5 9.5 7 1.5-7.5-11z" color="#ffefef"/><path d="M1251 544l7.5 4.5 6.5-5-7.5-5.5z" color="#ffa9a9"/><path d="M1293 544.5l7.5 4.5 6 5.5-7.5-4z" color="#ffbbbb"/><path d="M1343 530.5l8 13 5.5 12.5-8-11.5z" color="#ffacac"/><path d="M1384 559.5l8.5 11.5 5 5.5-8-18z" color="#ffe8e8"/><path d="M1174 561l7 6 7-4-7-12z" color="#ffc9c9"/><path d="M1216.5 567l7-15.5 7 1.5-7.5 18.5z" color="#ffcdcd"/><path d="M1258.5 548.5l7.5 11.5 6.5-10-7.5-6.5z" color="#ffb7b7"/><path d="M1300.5 549l8 9.5 6-1-8-3z" color="#ffc4c4"/><path d="M1145 550l7.5 16.5 7-9.5-7-12.5z" color="#ffb9b9"/><path d="M1159.5 557l7.5 18 7-14-7.5-13.5z" color="#ffc8c8"/><path d="M1188 563l7.5 3.5 7 10.5-7.5-9.5z" color="#ffdfdf"/><path d="M1202.5 577l7-12.5 7 2.5-7 11.5z" color="#ffe8e8"/><path d="M1230.5 553l7-5.5 7-2.5-7.5 10z" color="#ffb4b4"/><path d="M1244.5 545l7.5 3.5 6.5 0-7.5-4.5z" color="#ffacac"/><path d="M1272.5 550l8 3 6-12-7.5 0z" color="#ffadad"/><path d="M1286.5 541l8 7.5 6 .5-7.5-4.5z" color="#ffadad"/><path d="M1314.5 557.5l8 7.5 6.5-23-8-5z" color="#ffbaba"/><path d="M1329 542l8-1.5 6-10-8-9z" color="#ff9292"/><path d="M1356.5 556l8 6 6-4-8.5 4z" color="#ffd4d4"/><path d="M1370.5 558l8 2 5.5-.5-8-10.5z" color="#ffcdcd"/><path d="M1209.5 564.5l7-14 7 1-7 15.5z" color="#ffc2c2"/><path d="M1252 548.5l7.5 13.5 6.5-2-7.5-11.5z" color="#ffbcbc"/><path d="M1294.5 548.5l8 15 6-5-8-9.5z" color="#ffbfbf"/><path d="M1337 540.5l8 2.5 6 .5-8-13z" color="#ff9d9d"/><path d="M1351 543.5l8 16.5 5.5 2-8-6z" color="#ffc4c4"/><path d="M1378.5 560l8.5 5.5 5.5 5.5-8.5-11.5z" color="#ffdddd"/><path d="M1152.5 566.5l7.5 16 7-7.5-7.5-18z" color="#ffdcdc"/><path d="M1167 575l7-2.5 7-5.5-7-6z" color="#ffdada"/><path d="M1181 567l7-12.5 7.5 12-7.5-3.5z" color="#ffcbcb"/><path d="M1195.5 566.5l7-7.5 7 5.5-7 12.5z" color="#ffd6d6"/><path d="M1223.5 551.5l7.5 1.5 6.5-5.5-7 5.5z" color="#ffb2b2"/><path d="M1266 560l8 6 6.5-13-8-3z" color="#ffc3c3"/><path d="M1308.5 558.5l8 6.5 6 0-8-7.5z" color="#ffd1d1"/><path d="M1237.5 547.5l8 8 6.5-7-7.5-3.5z" color="#ffadad"/><path d="M1280.5 553l7.5 7 6.5-11.5-8-7.5z" color="#ffb4b4"/><path d="M1322.5 565l8-8.5 6.5-16-8 1.5z" color="#ffb8b8"/><path d="M1364.5 562l8.5 7 5.5-9-8-2z" color="#ffd7d7"/><path d="M1160 582.5l6.5-6.5 7.5-3.5-7 2.5z" color="#ffe8e8"/><path d="M1188 554.5l7-9 7.5 13.5-7 7.5z" color="#ffb8b8"/><path d="M1202.5 559l7-3 7-5.5-7 14z" color="#ffbbbb"/><path d="M1216.5 550.5l7.5-2 7 4.5-7.5-1.5z" color="#ffacac"/><path d="M1245.5 555.5l7.5 15 6.5-8.5-7.5-13.5z" color="#ffc2c2"/><path d="M1259.5 562l8 10.5 6.5-6.5-8-6z" color="#ffd2d2"/><path d="M1288 560l8 10 6.5-6.5-8-15z" color="#ffc8c8"/><path d="M1302.5 563.5l8 1 6 .5-8-6.5z" color="#ffcfcf"/><path d="M1330.5 556.5l8.5-9.5 6-4-8-2.5z" color="#ffaaaa"/><path d="M1345 543l8 12 6 5-8-16.5z" color="#ffb4b4"/><path d="M1359 560l8 19 6-10-8.5-7z" color="#ffdfdf"/><path d="M1373 569l8 8 6-11.5-8.5-5.5z" color="#ffe1e1"/><path d="M1174 572.5l6.5-18.5 7.5.5-7 12.5z" color="#ffc5c5"/><path d="M1231 553l7.5 9 7-6.5-8-8z" color="#ffb6b6"/><path d="M1274 566l7.5.5 6.5-6.5-7.5-7z" color="#ffc9c9"/><path d="M1316.5 565l8-9.5 6 1-8 8.5z" color="#ffcaca"/><path d="M1367 579l8 12.5 6-14.5-8-8z" color="#fff8f8"/><path d="M1195 545.5l7.5 10.5 7 0-7 3z" color="#ffafaf"/><path d="M1238.5 562l8 11.5 6.5-3-7.5-15z" color="#ffcccc"/><path d="M1281.5 566.5l8 1.5 6.5 2-8-10z" color="#ffd1d1"/><path d="M1324.5 555.5l8.5-8 6-.5-8.5 9.5z" color="#ffb1b1"/><path d="M1166.5 576l7-11.5 7-10.5-6.5 18.5z" color="#ffcbcb"/><path d="M1180.5 554l7-8.5 7.5 0-7 9z" color="#ffa4a4"/><path d="M1209.5 556l7.5-3 7-4.5-7.5 2z" color="#ffabab"/><path d="M1224 548.5l7.5 6.5 7 7-7.5-9z" color="#ffb2b2"/><path d="M1253 570.5l8 8 6.5-6-8-10.5z" color="#ffdbdb"/><path d="M1267.5 572.5l7.5-7.5 6.5 1.5-7.5-.5z" color="#ffd4d4"/><path d="M1296 570l8-2.5 6.5-3-8-1z" color="#ffd3d3"/><path d="M1310.5 564.5l8-12 6 3-8 9.5z" color="#ffc3c3"/><path d="M1339 547l8.5-.5 5.5 8.5-8-12z" color="#ffa9a9"/><path d="M1353 555l8.5 13.5 5.5 10.5-8-19z" color="#ffd5d5"/><path d="M1231.5 555l8 12 7 6.5-8-11.5z" color="#ffc5c5"/><path d="M1275 565l8-7.5 6.5 10.5-8-1.5z" color="#ffc7c7"/><path d="M1318.5 552.5l8.5-2.5 6-2.5-8.5 8z" color="#ffacac"/><path d="M1361.5 568.5l8 11 5.5 12-8-12.5z" color="#fff4f4"/><path d="M1173.5 564.5l7.5-.5 6.5-18.5-7 8.5z" color="#ffb0b0"/><path d="M1187.5 545.5l8 14 7-3.5-7.5-10.5z" color="#ffa4a4"/><path d="M1202.5 556l7.5 12 7-15-7.5 3z" color="#ffb4b4"/><path d="M1246.5 573.5l7.5 3.5 7 1.5-8-8z" color="#ffe0e0"/><path d="M1289.5 568l8 4.5 6.5-5-8 2.5z" color="#ffd5d5"/><path d="M1333 547.5l8.5 1 6-2-8.5.5z" color="#ffa3a3"/><path d="M1217 553l7.5 0 7 2-7.5-6.5z" color="#ffa8a8"/><path d="M1261 578.5l7.5-18.5 6.5 5-7.5 7.5z" color="#ffd2d2"/><path d="M1304 567.5l8-9 6.5-6-8 12z" color="#ffc1c1"/><path d="M1347.5 546.5l8.5.5 5.5 21.5-8.5-13.5z" color="#ffb5b5"/><path d="M1181 564l7.5 17.5 7-22-8-14z" color="#ffb9b9"/><path d="M1224.5 553l8 10 7 4-8-12z" color="#ffb5b5"/><path d="M1239.5 567l7.5 9 7 1-7.5-3.5z" color="#ffd7d7"/><path d="M1268.5 560l8-17 6.5 14.5-8 7.5z" color="#ffb0b0"/><path d="M1283 557.5l8 14 6.5 1-8-4.5z" color="#ffcbcb"/><path d="M1312 558.5l8.5-3.5 6.5-5-8.5 2.5z" color="#ffadad"/><path d="M1327 550l8 12.5 6.5-14-8.5-1z" color="#ffaaaa"/><path d="M1356 547l8.5 5.5 5 27-8-11z" color="#ffc3c3"/><path d="M1195.5 559.5l7.5 22.5 7-14-7.5-12z" color="#ffc3c3"/><path d="M1210 568l8 2.5 6.5-17.5-7.5 0z" color="#ffb7b7"/><path d="M1254 577l8-16.5 6.5-.5-7.5 18.5z" color="#ffcdcd"/><path d="M1297.5 572.5l8.5-1 6-13-8 9z" color="#ffcccc"/><path d="M1341.5 548.5l8.5-.5 6-1-8.5-.5z" color="#ffa0a0"/><path d="M1188.5 581.5l8 17.5 6.5-17-7.5-22.5z" color="#ffe0e0"/><path d="M1203 582l8 10.5 7-22-8-2.5z" color="#ffdcdc"/><path d="M1218 570.5l7.5 4.5 7-12-8-10z" color="#ffbdbd"/><path d="M1232.5 563l8 16.5 6.5-3.5-7.5-9z" color="#ffcdcd"/><path d="M1247 576l8-.5 7-15-8 16.5z" color="#ffd0d0"/><path d="M1262 560.5l8-13.5 6.5-4-8 17z" color="#ffa3a3"/><path d="M1276.5 543l8 17.5 6.5 11-8-14z" color="#ffb0b0"/><path d="M1291 571.5l8 12 7-12-8.5 1z" color="#ffd9d9"/><path d="M1306 571.5l8-9.5 6.5-7-8.5 3.5z" color="#ffbbbb"/><path d="M1320.5 555l8.5 10 6-2.5-8-12.5z" color="#ffb3b3"/><path d="M1335 562.5l8.5 7.5 6.5-22-8.5.5z" color="#ffb2b2"/><path d="M1350 548l8.5 3.5 6 1-8.5-5.5z" color="#ffa1a1"/><path d="M1211 592.5l7.5 1.5 7-19-7.5-4.5z" color="#ffe3e3"/><path d="M1255 575.5l8-5 7-23.5-8 13.5z" color="#ffb7b7"/><path d="M1299 583.5l8.5-8 6.5-13.5-8 9.5z" color="#ffd1d1"/><path d="M1343.5 570l8.5-3 6.5-15.5-8.5-3.5z" color="#ffb2b2"/><path d="M1196.5 599l7-.5 7.5-6-8-10.5z" color="#fffbfb"/><path d="M1225.5 575l8 7 7-2.5-8-16.5z" color="#ffd0d0"/><path d="M1240.5 579.5l8 11.5 6.5-15.5-8 .5z" color="#ffdfdf"/><path d="M1270 547l8 13 6.5.5-8-17.5z" color="#ff9f9f"/><path d="M1284.5 560.5l8 21 6.5 2-8-12z" color="#ffd3d3"/><path d="M1314 562l8.5-2.5 6.5 5.5-8.5-10z" color="#ffb4b4"/><path d="M1329 565l8.5 5 6 0-8.5-7.5z" color="#ffc4c4"/><path d="M1203.5 598.5l7.5-10.5 7.5 6-7.5-1.5z" color="#fff7f7"/><path d="M1218.5 594l7.5-12.5 7.5.5-8-7z" color="#ffdfdf"/><path d="M1248.5 591l7.5-7 7-13.5-8 5z" color="#ffdada"/><path d="M1263 570.5l8 6 7-16.5-8-13z" color="#ffb3b3"/><path d="M1292.5 581.5l8.5 5.5 6.5-11.5-8.5 8z" color="#ffe1e1"/><path d="M1307.5 575.5l8.5-7.5 6.5-8.5-8.5 2.5z" color="#ffbdbd"/><path d="M1337.5 570l8.5-7 6 4-8.5 3z" color="#ffc1c1"/><path d="M1233.5 582l7.5 3.5 7.5 5.5-8-11.5z" color="#ffe3e3"/><path d="M1278 560l8-2.5 6.5 24-8-21z" color="#ffb8b8"/><path d="M1322.5 559.5l8.5-2.5 6.5 13-8.5-5z" color="#ffb5b5"/><path d="M1286 557.5l8.5 38.5 6.5-9-8.5-5.5z" color="#ffd8d8"/><path d="M1331 557l9-5 6 11-8.5 7z" color="#ffacac"/><path d="M1211 588l7.5-24.5 7.5 18-7.5 12.5z" color="#ffd6d6"/><path d="M1226 581.5l8-15 7 19-7.5-3.5z" color="#ffd0d0"/><path d="M1241 585.5l8-9 7 7.5-7.5 7z" color="#ffdede"/><path d="M1256 584l8.5-1.5 6.5-6-8-6z" color="#ffd1d1"/><path d="M1271 576.5l8.5 11 6.5-30-8 2.5z" color="#ffbfbf"/><path d="M1301 587l8.5 2.5 6.5-21.5-8.5 7.5z" color="#ffd8d8"/><path d="M1316 568l8.5-4 6.5-7-8.5 2.5z" color="#ffafaf"/><path d="M1234 566.5l8-2 7 12-8 9z" color="#ffbfbf"/><path d="M1279.5 587.5l8.5-21 6.5 29.5-8.5-38.5z" color="#ffcaca"/><path d="M1294.5 596l8 16 7-22.5-8.5-2.5z" color="#fff9f9"/><path d="M1324.5 564l9 0 6.5-12-9 5z" color="#ffa5a5"/><path d="M1218.5 563.5l8-17 7.5 20-8 15z" color="#ffaaaa"/><path d="M1249 576.5l8.5 1.5 7 4.5-8.5 1.5z" color="#ffd0d0"/><path d="M1264.5 582.5l8 14.5 7-9.5-8.5-11z" color="#ffdfdf"/><path d="M1309.5 589.5l8.5-.5 6.5-25-8.5 4z" color="#ffcece"/><path d="M1226.5 546.5l8 15.5 7.5 2.5-8 2z" color="#ff9c9c"/><path d="M1242 564.5l8 14.5 7.5-1-8.5-1.5z" color="#ffbdbd"/><path d="M1272.5 597l8.5 16 7-46.5-8.5 21z" color="#ffe6e6"/><path d="M1288 566.5l8 53 6.5-7.5-8-16z" color="#fff9f9"/><path d="M1302.5 612l8 55.5 7.5-78.5-8.5.5z" color="#e6e6ff"/><path d="M1318 589l8.5 2.5 7-27.5-9 0z" color="#ffc8c8"/><path d="M1257.5 578l8 19 7 0-8-14.5z" color="#ffe0e0"/><path d="M1234.5 562l8.5 25 7-8-8-14.5z" color="#ffb5b5"/><path d="M1250 579l8.5 12.5 7 5.5-8-19z" color="#ffd5d5"/><path d="M1265.5 597l8.5 13.5 7 2.5-8.5-16z" color="#fefeff"/><path d="M1281 613l8.5-28 6.5 34.5-8-53z" color="#ffeeee"/><path d="M1296 619.5l8.5-11 6 59-8-55.5z" color="#d4d4ff"/><path d="M1310.5 667.5l9.5-62.5 6.5-13.5-8.5-2.5z" color="#ececff"/><path d="M1258.5 591.5l8.5 6.5 7 12.5-8.5-13.5z" color="#ffefef"/><path d="M1304.5 608.5l9-12 6.5 8.5-9.5 62.5z" color="#e5e5ff"/><path d="M1243 587l8-3 7.5 7.5-8.5-12.5z" color="#ffcdcd"/><path d="M1274 610.5l8.5-5 7-20.5-8.5 28z" color="#fffafa"/><path d="M1289.5 585l8.5 11 6.5 12.5-8.5 11z" color="#fff8f8"/><path d="M1251 584l8.5-2 7.5 16-8.5-6.5z" color="#ffd0d0"/><path d="M1267 598l8.5 5.5 7 2-8.5 5z" color="#fff6f6"/><path d="M1298 596l8.5-10.5 7 11-9 12z" color="#ffe6e6"/><path d="M1282.5 605.5l8.5-9.5 7 0-8.5-11z" color="#ffe2e2"/><path d="M1259.5 582l8.5 18.5 7.5 3-8.5-5.5z" color="#ffdcdc"/><path d="M1275.5 603.5l8.5 10 7-17.5-8.5 9.5z" color="#fff2f2"/><path d="M1291 596l8.5 5.5 7-16-8.5 10.5z" color="#ffdcdc"/><path d="M1284 613.5l8.5 25 7-37-8.5-5.5z" color="#ffffff"/><path d="M1268 600.5l9 23.5 7-10.5-8.5-10z" color="#fff9f9"/><path d="M1277 624l8.5 29.5 7-15-8.5-25z" color="#e2e2ff"/></g><path d="M1105.3 682.3L1095.5 452.8M1105.3 682.3L1285.0 749.5 1429.2 671.4M1104.2 657.0h-6M1103.3 634.9h-4M1102.3 612.7h-6M1101.4 590.6h-4M1100.5 568.4h-6M1099.5 546.3h-4M1098.6 524.1h-6M1097.6 502.0h-4M1096.7 479.8h-6M1105.3 682.3l-5.0 4.0M1285.0 749.5l5.0 4.0M1122.5 688.7l-3.0 2.4M1303.8 739.3l3.0 2.4M1140.3 695.4l-5.0 4.0M1321.8 729.6l5.0 4.0M1158.7 702.3l-3.0 2.4M1339.1 720.2l3.0 2.4M1177.8 709.4l-5.0 4.0M1355.6 711.3l5.0 4.0M1197.7 716.8l-3.0 2.4M1371.5 702.7l3.0 2.4M1218.2 724.5l-5.0 4.0M1386.8 694.4l5.0 4.0M1239.6 732.5l-3.0 2.4M1401.5 686.4l3.0 2.4M1261.9 740.8l-5.0 4.0M1415.6 678.8l5.0 4.0M1285.0 749.5l-3.0 2.4M1429.2 671.4l3.0 2.4" fill="none" stroke="#444" stroke-width="1.2"/><text x="1095.2" y="663" font-size="17.4" text-anchor="end" fill="#00f">-200</text><text x="1093.3" y="618.7" font-size="17.4" text-anchor="end" fill="#00f">-100</text><text x="1091.5" y="574.4" font-size="17.4" text-anchor="end" fill="#f00">0</text><text x="1089.6" y="530.1" font-size="17.4" text-anchor="end" fill="#f00">100</text><text x="1087.7" y="485.8" font-size="17.4" text-anchor="end" fill="#f00">200</text><text transform="translate(1107.0 697.0) rotate(55)" font-size="17.4" text-anchor="middle" dy="0.36em">0</text><text transform="translate(1140.0 711.0) rotate(55)" font-size="17.4" text-anchor="middle" dy="0.36em">2</text><text transform="translate(1174.0 724.0) rotate(55)" font-size="17.4" text-anchor="middle" dy="0.36em">4</text><text transform="translate(1210.6 742.0) rotate(55)" font-size="17.4" text-anchor="middle" dy="0.36em">6</text><text transform="translate(1250.6 749.5) rotate(55)" font-size="17.4" text-anchor="middle" dy="0.36em">8</text><text transform="translate(1310.5 749.5) rotate(0)" font-size="17.4" text-anchor="middle" dy="0.36em">0</text><text transform="translate(1341.0 733.0) rotate(0)" font-size="17.4" text-anchor="middle" dy="0.36em">2</text><text transform="translate(1372.0 720.0) rotate(0)" font-size="17.4" text-anchor="middle" dy="0.36em">4</text><text transform="translate(1401.0 700.0) rotate(0)" font-size="17.4" text-anchor="middle" dy="0.36em">6</text><text transform="translate(1428.5 686.0) rotate(0)" font-size="17.4" text-anchor="middle" dy="0.36em">8</text><text transform="translate(1167.0 744.0) rotate(20.5)" font-size="21.5" text-anchor="middle" dy="0.36em">Dimension (μm)</text><text transform="translate(1379.5 737.0) rotate(-30)" font-size="21.5" text-anchor="middle" dy="0.36em">Dimension (μm)</text><path d="M1103.7 1062.6L1094.5 830.3M1255.8 1008.0L1255.4 812.5M1103.7 1062.6L1255.8 1008.0M1103.7 1062.6L1285.0 1129.5M1142.2 1048.8L1135.5 825.8M1289.9 1017.2L1291.1 815.7M1138.8 1075.6L1289.9 1017.2M1142.2 1048.8L1321.9 1110.0M1177.8 1036.0L1173.3 821.6M1326.1 1027.0L1329.2 819.1M1176.7 1089.5L1326.1 1027.0M1177.8 1036.0L1355.4 1092.3M1210.7 1024.2L1208.0 817.8M1364.6 1037.4L1369.9 822.8M1217.4 1104.6L1364.6 1037.4M1210.7 1024.2L1386.1 1076.1M1241.3 1013.2L1240.2 814.2M1405.8 1048.5L1413.5 826.7M1261.6 1120.8L1405.8 1048.5M1241.3 1013.2L1414.2 1061.3M1255.8 1008.0L1255.4 812.5M1427.4 1054.3L1436.5 828.7M1285.0 1129.5L1427.4 1054.3M1255.8 1008.0L1427.4 1054.3M1102.7 1037.0L1255.8 986.5 1428.4 1029.5M1101.8 1014.6L1255.7 967.6 1429.3 1007.7M1100.9 992.2L1255.7 948.7 1430.1 985.9M1100.0 969.8L1255.6 929.9 1431.0 964.1M1099.1 947.4L1255.6 911.0 1431.9 942.4M1098.2 924.9L1255.6 892.1 1432.8 920.6M1097.3 902.5L1255.5 873.2 1433.6 898.8M1096.5 880.1L1255.5 854.4 1434.5 877.0M1095.6 857.7L1255.4 835.5 1435.4 855.3" fill="none" stroke="#d8d8d8" stroke-width="0.9"/><path d="M1094.5 830.3L1255.4 812.5M1103.7 1062.6L1255.8 1008.0M1255.4 812.5L1436.5 828.7M1255.8 1008.0L1427.4 1054.3M1255.8 1008.0L1255.4 812.5M1427.4 1054.3L1436.5 828.7" fill="none" stroke="#8a8a8a" stroke-width="1"/><path d="M1103.7 1062.6L1285.0 1129.5 1427.4 1054.3 1255.8 1008.0z" fill="#2929ff"/><path d="M1104 1063l152-55 171 46-142 75z" fill="#5c5cff" fill-rule="evenodd"/><path d="M1104 1063l84-31 5-1 2-1 61-22 169 46 0 2-26 14-8 1 1 2-39 21-7 0-3 2 3 2-61 31zM1355 1060l4 2 4-1 0-1-4-1zM1280 1022l2 1 3 0 1-1-2-1z" fill="#8f8fff" fill-rule="evenodd"/><path d="M1104 1063l17-6 4 0 6-2 2-1-2-1 28-9 1-2 26-9 4 0 5-1 2-3 41-15 7 1 7-2 1-1-4-1 7-3 168 45-1 3-21 12-13 2 2 4-37 19-23 2-1 2 3 2 10 0-58 30-106-39 9-7-18 4zM1128 1066l-1 2 4 1 3-2-1-1zM1232 1089l-1 2 5 1 3-1-2-1zM1175 1060l0 2 6 0 0-3-3 0zM1220 1070l1 1 4 1 5-1 1-2-1-1-5 0zM1168 1049l14 5 5-1 1-1-2-1-13-2zM1237 1063l12 1 4 2 4 0 2-1 0-2-9 0-6-3-7 1zM1223 1033l2 1 4-1-3-1zM1286 1040l3 1 4 0 16-5-2-1-10 1zM1278 1022l3 2 6 0 1-1-1-3-4 0zM1257 1098l2 2 3-1zM1353 1060l5 2 8 0 0-2-7-2z" fill="#bbbbff" fill-rule="evenodd"/><path d="M1104 1063l15-6 10 1 2-1 11-5-7-1 13-4 12-3 3-3 22-8 9 0 7-5 6-1 0-2 30-10 9 0 7-2 2-2-5-1 6-2 31 8-10 5-1 2 4 1 5 1 4-2 1-6 133 36-1 4-18 10-4-1-12 4 2 4-35 18-28 2 2 4 10 3-43 23-12 0-14 0-23-8-2-4-7 0-55-20 3-5 15-5-2-1-9-1-22 6-30-11-3-5 8-3 0-2-9-1-4-4-7 2 1 8zM1170 1071l3 1 2-1-2-1zM1156 1058l4 3 5-1-2-2zM1172 1059l-2 1 4 2 8 0 3-2-4-2zM1166 1048l1 2 7 2 5 3 4 0 6-1 2-3-3-1-19-3zM1221 1034l2 1 7 0 1-2-4-2-5 2zM1281 1040l2 2 9 0 20-6 0-1-14 0zM1384 1047l2 0 1-1zM1227 1089l6 5 8-2 0-2-5-2-7 0zM1219 1068l0 4 9 0 5-2-1-5 13 0 8 3 5 0 5-7-8 0-9-2-5 0zM1237 1036l1 5 7 2 1-1-3-3 1-2-1-1zM1350 1060l4 2 7 1 6-1 1-1-3-2-7-1-5 0zM1389 1062l2 2 6 1 1-1-2-3-4 0zM1252 1098l4 6 12-1-2-6-8-1zM1295 1093l-3 3 4 4 5-3-2-4zM1269 1104l5 4 16-3 15 3-9-6-4 0z" fill="#e0e0ff" fill-rule="evenodd"/><path d="M1104 1063l13-5 3 0 2 1-1 10zM1141 1049l21-4 3-4 18-7 12-1 6-4 10-3-2-1 27-10 5 1 7 0 11-5 12 1 13 4-9 6 5 3 6 0 2-1 5-6 66 18-2 2 9 1 5 0 52 14-10 6 3 2-11 5-11-6-8 2 0 2 7 1 2 2-9 2 2 6-32 17-31 1 0 4 12 5-40 21-25-1-5 1-18-7-3-5-3-1-6 2-51-19 1-6 7-2 13-1 2-4-16-5-14 7-13 4-25-10-3-5 9-4 0-2-11-2-2-3 4-4 9-4 0-2zM1163 1047l2 3 9 4 0 2-6 1-11 0-3 3 4 1 9 0 8 2 6 1 7-4-3-2 7-5 0-3-25-4zM1201 1038l-4 4 9-4-5-1zM1221 1032l1 4 10 0 5 7 11 2 3 0 1-3-6-3 1-3-12-2-5-3-5 0zM1337 1061l2 1 8-1 13 2 5 0 5-2-5-3-10-1-7 3-11 0zM1277 1041l0 1 14 1 23-6 0-3-7 0-12 0zM1388 1055l4 1 3-1-4-1zM1346 1036l1 2 9 0-5-2zM1224 1088l7 7 3 0 8-1 2-5-14-3zM1165 1071l7 3 5-1 2-1-3-3-7 0zM1194 1068l2 2 4 0 3-1-1-2-3 0zM1221 1063l-6 5 5 6 14-2 3-6 4 0 22 4 6 3 4 0 11-4-2-2-8 2-10 0 2-6 6-1 9 2 5-1-13-6-3 0-16 3-10-2-5 0-10 4zM1314 1045l5 2 5 0 0-2-6-1zM1355 1050l-1 1 7 1 5-1 1-1-5-1zM1381 1046l5 3 6-2-4-2-5 0zM1248 1097l4 9 15 0 8 7 12-6 5 0 13 4 4-1 0-2-8-5 2-7-5-5-4 0-2 1-3 7-4 2-12 0-8-6-10 0zM1252 1084l-1 1 5 0 2-3-5 1zM1305 1076l2 2 4 0 1-3zM1329 1082l4 2 5-1-4-2-3 0zM1252 1010l4-2 4 1-5 1z" fill="#fff9f9" fill-rule="evenodd"/><path d="M1104 1063l12-5 3 2-1 8-8-3 0-2zM1166 1040l14-5 15-1 3 2 0 3-13 4 1 1 8 0 14-3 6 0-1-2-14-6 3-3 12-4-4-2 11-3 6-1-1-1 9-3 8 1 4 0 12-4 4-1 10 1 6 3-1 3-5 2 0 2 3 1 7 1 6 0 5-7 64 17-14 1 1 3 14 0 13 2 2-1 15 4-7 0-3 1 1 2 4 2 10-1 1-1-5-3 10 3-1 1 3 1 3 1 4-1 13 4-10 6 3 2-9 5-10-8 2-2-1-2-7-1-6 1 5 4-7 5 5 3-4 2-1 6 4 2-29 15-5 0-16 1-8-1-5 2 0 3 12 7-37 19-26-2-7 2-14-5-4-8 4-1 13 0 10 8 12-8 8 0 11 4 4 0 5-3-10-6 2-7-9-7-5 1-7 9-6 1-4 0-5-5-17-1-4-1-1-2 22-10 0-6 17-5 2-4 7-1 0-2-15-4-7-4-9 0-9 4-9-2-8 0-10 3-12 1-7 7 7 8-4 2-8 0-5-2 1-4 6-3-3-2-7-1-4 0-2 2 3 4-6 1-4 0-5-5-12 0-5 2-1 4 18 3 3 2-7 4-11 2-10-6-9-1-5-6 11-6-13-4 0-2 6-5 8-3 0-4 5-1 4 0 2 4 8 2 0 2-19 2 1 4 24 4 5-1 8-3-2-4 7-6-4-2-14-2-11-2zM1216 1053l3 0 8 0 4-2-4-1-5 0zM1218 1033l2 3 10 1 2 1 2 4 9 4 6 4 7 1 2-8-10-5 3-4-14-1-9-3-4 0zM1291 1033l-21 11 16 0 7 3 4-1-2-2 2-2 7-3 11-2 3-2-5-2zM1249 1019l7 2 4-1-2-1zM1269 1086l6 2 7-2-1-1-9-2zM1302 1077l3 4 8-3 5-6-12 2zM1207 1058l1 2 5 0-3-3zM1322 1066l2 2-4 4 10-8-6-1-3 1zM1330 1058l5 6 5 1 7-2 20 1 5-2-3-3-11-2-5 0-8 2-13-2zM1311 1044l0 2 10 2 6-2-2-2-5-1zM1344 1044l3 2 4 0 2-3-4-1zM1327 1081l0 3 3 1 11-1 1-2-6-2-4-1zM1342 1066l5 4 5 0 1-1-4-3zM1345 1051l1 1 8 1 14-1 2-2-6-2-12 0zM1350 1085l4 1 2-2-2-1-5 0zM1187 1090l2-2 6-2 6 0 11 2 3-1-1-4 12 0 2-3-6-4 14-3 5-5 21 4 0 4-11 6-4 4-4 1-17-2-8 3 14 8 13 1 3 6-3 5-10 3-47-17zM1266 1066l5-3 6 2-3 3-4 0-3 0z" fill="#ffc9c9" fill-rule="evenodd"/><path d="M1106 1062l8-3 1 2-2 1zM1169 1041l-1-1 8-4 17-1 4 2-1 1-13 4 1 3 5 1 18-3 8 2 4-2 1-5 8 0 4 5 9 3 6 8-13 1-8 5-9 0-2-4 7-1 10 0 4-3-1-2-5-1-10 0-16 9-1 2 7 2 2 3-3 1-10-1-5-2 1-2-5-3 6-8-9-3-10 0-7-2-2-2zM1211 1024l9-3 2 1 6-1 1-2-1-1 5-2 30 9 4-1 17 2 4 0 3-2 5-5 60 16-12-1-2 1 0 5-4 4 8 5-5 4 10 2 0 1-7 2-12-3-5 0-6 1 9 4 0 2-11 1-1 7-16 5-5 11-9 3-6 9-4 1-10-6-13 0-3-1 10-5 15 2 8-1-2-4-8-3-2-5 27-10 0-3-4-2-13-2-6-5-13-2-4-2-1-3 4-2 20 0 10 5-2 1 1 2 7 1-3-5 15-2 14 2 6-3-2-2-5-1-7-1-11 3-7-1-1-1 6-3 13-2 3-2-1-2-8-2-27-2-11 0-6-2-14 4-14 0-10-3-4 0-8 4-3 4-13-5 2-2 15-4zM1156 1049l2-1 0 1zM1146 1055l9-2 10 0 2 1-2 1-12 1-5 2 4 5-4 0-8-2zM1253 1016l6-2 6-1 10 2 2 3-7 2-4 0-3-1-9-2zM1157 1065l9-1 5 2-13 3-7 7-7-2-1-3 11-4zM1251 1037l10-3 6-1 13-1 5 2-2 2-18 6-9-1-5-2zM1182 1066l4-1 4 0-3 2zM1159 1079l3-1 12 1 1 2-10 2zM1203 1075l3-3 5 0 1 4-4 1zM1190 1089l3-2 6 0 14 5 8 0 8 6 13 1 2 5-10 7-41-16zM1227 1077l0-1 12-2 5-5 11 2 5 2-2 4-9 4-4 4-5 1-6-2-2-5zM1354 1041l3-1 4 0 10 3 4 0 5 7 0 4 6 5-8 3 3 4-1 6-13 1 2 2 13 3-24 13-8-1-12 1-13-1-2 1-3 4 14 9-34 18-18-2-3-2 4-7 5-2 16 5 8-1 4-3 0-2-10-6 3-5-8-10 10-2 0-4 21-14 3 0 3 0 8 5 12 0-6-8 16 0 6-1-5-4-12-4 18-4-6-3-12-2zM1327 1079l-3 4 4 3 16 0 11 2 5-2 0-1-4-3-13-1-9-3zM1376 1043l1-2 6 1zM1252 1111l3-2 5 0 3 2 7 6-7 4-10-3zM1388 1052l2-2 7-1 10 2 4-1 10 3-10 4-1 2 4 2-7 4-8-6 2-5z" fill="#ff9c9c" fill-rule="evenodd"/><path d="M1171 1040l-1-1 3-1 15-2 6 0-1 3-12 2-1 5-10-2zM1212 1024l7-3 3 2-5 1zM1203 1032l11-4 6-1 2 0 0 2-9 5-7-1zM1226 1023l1-1 8-2 13 2 1 3 8 0 5 2 0 1-8 3-16 0-9-3zM1256 1017l2-2 5-1 8 1 2 3-5 0zM1143 1062l2-2 2 0 0 1zM1194 1046l8-2 9 2 9 0 5-7 3 1 3 4 8 3 0 1-4 1-15-2-22 12-5-2 5-6zM1147 1073l3-2-1 2zM1271 1026l1-1 11 2 5-1 4-2 5-5 16 5 4 1 37 10-12-1-11 8-12-1-16 3-3-1 3-2 10-2 7-2 2-2-2-2-4-1-9-2-12 0-11-2-8 1-3 0zM1253 1038l4-2 9-2 13 1-1 1-10 5-8 0zM1200 1063l3-1 5 2-4 1zM1218 1058l3-2 5 0-2 3-5 0zM1262 1048l2-1 17-1 4 2 3 5 16 4 4-1-5-5 4-2 4 0 13 1 12-4 6 2 0 1-7 4-17 2 0 2 8 4-10 2 0 6-16 5-8 10-4 0-8-3-4-5 19-6 8-1 1-6-4-2-16-3-2-5-16-3zM1191 1090l4-2 6 0 7 3-2 4 2 1 14 1 8 3 8 0 2 4-8 6-35-13zM1245 1071l8 1 4 3-2 2-9 3-3 5-5 0-4-3zM1359 1043l-1-2 4 0 10 5-2 1-8-2zM1258 1091l5-2 18 1 2 1-6 3-6-2zM1362 1056l2-2 12-1 8 5 0 1-6 2zM1317 1080l5-4 14-3 6 1 20 0 18 5-20 11 0-2 5-2-11-5-9-1-13-3-9 3-5 4-3-1zM1256 1114l0-2 4 0 5 3 1 3-6 2-4-1zM1304 1091l1-3 3 0 8-1 3 1-1 8 14 9-11 6-3-5-9-3 2-6zM1356 1065l3 0 16 0 4 5-6 2-11-1-5-2zM1393 1051l2-1 4 1 0 1zM1284 1113l3-3 4 0 6 5 14 1-10 5-16-3zM1332 1089l3-2 9 1-6 2zM1412 1051l1-1 7 2-12 4 0 4 5 2-6 3-6-7z" fill="#ff6a6a" fill-rule="evenodd"/><path d="M1213 1023l4-1 1 1zM1181 1040l0-2 5-1 6 0-3 2zM1206 1032l10-4 3 1-7 4zM1230 1023l2-1 2 0 7 2 6 5-5 1-6 0-4-2zM1260 1015l3 0 3 1-5 0zM1201 1048l4-1 5 2-6 5-6 2-1-1 4-4zM1275 1028l-1-1 4 0zM1257 1038l7-2 8 0 0 2-6 2-4 0zM1295 1023l6-3 13 6 1 3-18 0-6-1-2-1zM1318 1027l2-2 31 9-12-1-4 4-8 1zM1270 1049l2-1 6-1 3 1 0 3-6 0zM1303 1042l3-1 1 1zM1194 1091l1-1 5 0 4 1-1 2-5 0zM1247 1074l3-1 2 2-3 1zM1287 1057l3-1 7 2-5 1zM1202 1099l-2-1 4-1 17 2 10 5-2 5zM1309 1053l6-2 2 0 2 2-6 1zM1280 1077l10-4 5-1 3 1-10 8zM1368 1055l5 0 8 4-4 0zM1308 1091l0-2 5 0 3 1-2 4zM1359 1066l3-1 11 1 3 3-6 2-6 0-5-3zM1346 1077l6-2 7 0 19 5-6 3-6 0zM1312 1102l5-3 5 3 1 2-9 0zM1406 1063l1-1 5 0-4 2z" fill="#ff3939" fill-rule="evenodd"/><path d="M1233 1027l1-2 4 0 3 2 1 2-3 0-3 0zM1262 1038l3-1 3 0-2 2zM1293 1026l7-3 6 1 3 2-4 2-7 0-5-1zM1322 1027l1-1 19 5-6 1-2 4-3 0-4-2zM1204 1100l-1-1 4 0 12 1 5 3-2 3zM1285 1077l5-3 3 1-5 2zM1361 1067l7-1 5 2-2 2-6 0zM1354 1078l2-2 5 1 9 3 1 1-8 0z" fill="#ff0707" fill-rule="evenodd"/><path d="M1351 1095l-3 1M1188 1032l5-1 2-1M1280 1022l2 1 3 0 1-1-2-1-4 1M1355 1060l4 2 4-1 0-1-4-1-4 1M1353 1094l-7 0-3 2 3 2M1399 1070l-8 1 1 2M1425 1054l0 2M1121 1057l4 0 6-2 2-1-2-1M1151 1046l8-2 1-2M1186 1033l4 0 5-1 2-3M1238 1014l7 1 7-2 1-1-4-1M1168 1049l14 5 5-1 1-1-2-1-13-2-5 0M1128 1066l-1 2 4 1 3-2-1-1-5 0M1223 1033l2 1 4-1-3-1-3 1M1175 1060l0 2 6 0 0-3-3 0-3 1M1278 1022l3 2 6 0 1-1-1-3-4 0-5 2M1286 1040l3 1 4 0 16-5-2-1-10 1-11 4M1220 1070l1 1 4 1 5-1 1-2-1-1-5 0-5 2M1237 1063l12 1 4 2 4 0 2-1 0-2-9 0-6-3-7 1 0 2M1179 1090l9-7-18 4M1232 1089l-1 2 5 1 3-1-2-1-5-1M1257 1098l2 2 3-1-5-1M1353 1060l5 2 8 0 0-2-7-2-6 2M1245 1115l-4-2M1279 1127l-4-1M1424 1053l-1 3M1354 1093l-23 2-1 2 3 2 10 0M1402 1068l-13 2 2 4M1119 1057l10 1 2-1 11-5-7-1M1148 1047l12-3 3-3M1185 1033l9 0 5-4 8-2 0-2M1237 1015l9 0 7-2 2-2-5-1M1166 1048l1 2 7 2 5 3 4 0 6-1 2-3-3-1-19-3-3 1M1156 1058l4 3 5-1-2-2-7 0M1221 1034l2 1 7 0 1-2-4-2-5 2-1 1M1172 1059l-2 1 4 2 8 0 3-2-4-2-9 1M1237 1036l1 5 7 2 1-1-3-3 1-2-1-1-6 0M1287 1016l-11 6 7 3 6-2 1-6M1138 1075l-3-5 8-3 0-2-9-1-6-4-5 2 1 8M1170 1071l3 1 2-1-2-1-3 1M1281 1040l2 2 9 0 20-6 0-1-14 0-17 5M1219 1068l0 4 9 0 5-2-1-5 13 0 8 3 5 0 5-7-8 0-9-2-5 0-22 9M1183 1092l3-5 15-5-2-1-9-1-22 6M1227 1089l6 5 8-2 0-2-5-2-7 0-2 1M1362 1037l6 1M1252 1098l4 6 12-1-2-6-8-1-6 2M1350 1060l4 2 7 1 6-1 1-1-3-2-7-1-5 0-3 2M1384 1047l2 0 1-1-3 1M1247 1116l-2-4-7 0M1269 1104l5 4 16-3 15 3-9-6-4 0-23 2M1295 1093l-3 3 4 4 5-3-2-4-4 0M1389 1062l2 2 6 1 1-1-2-3-4 0-3 1M1423 1053l-1 4M1296 1124l-26 0M1355 1092l-28 2 2 4 10 3M1404 1067l-4-1-12 4 2 4M1419 1059l-2 1M1117 1058l5 1-1 10M1143 1048l19-3 3-4M1183 1034l12-1 6-4 10-3-2-1M1224 1020l0-1M1236 1015l5 1 7 0 11-5 12 1M1260 1009l-5 1-3 0M1163 1047l2 3 9 4 0 2-6 1-11 0-3 3 4 1 9 0 8 2 6 1 7-4-3-2 7-5 0-3-25-4-4 1M1201 1038l-4 4 9-4-5-1 0 1M1221 1032l1 4 10 0 5 7 11 2 3 0 1-3-6-3 1-3-12-2-5-3-5 0-4 1M1284 1016l-9 6 5 3 6 0 2-1 5-6M1141 1076l-3-5 9-4 0-2-11-2-2-3 4-4 9-4 0-2-6-1M1165 1071l7 3 5-1 2-1-3-3-7 0-4 2M1194 1068l2 2 4 0 3-1-1-2-3 0-5 1M1251 1048l0 0M1221 1063l-6 5 5 6 14-2 3-6 4 0 22 4 6 3 4 0 11-4-2-2-8 2-10 0 2-6 6-1 9 2 5-1-13-6-3 0-16 3-10-2-5 0-10 4-8 1M1277 1041l0 1 14 1 23-6 0-3-7 0-12 0-18 7M1186 1093l1-6 7-2 13-1 2-4-16-5-14 7-13 4M1314 1045l5 2 5 0 0-2-6-1-4 1M1224 1088l7 7 3 0 8-1 2-5-14-3-6 2M1346 1036l1 2 9 0-5-2-5 0M1252 1084l-1 1 5 0 2-3-5 1-1 1M1359 1036l-2 2 9 1 5 0M1248 1097l4 9 15 0 8 7 12-6 5 0 13 4 4-1 0-2-8-5 2-7-5-5-4 0-2 1-3 7-4 2-12 0-8-6-10 0-7 2M1274 1086l0 0M1355 1050l-1 1 7 1 5-1 1-1-5-1-7 1M1305 1076l2 2 4 0 1-3-7 1M1337 1061l2 1 8-1 13 2 5 0 5-2-5-3-10-1-7 3-11 0 0 1M1381 1046l5 3 6-2-4-2-5 0-2 1M1249 1116l-3-5-3-1-6 2M1329 1082l4 2 5-1-4-2-3 0-2 1M1388 1055l4 1 3-1-4-1-3 1M1423 1053l-10 6 3 2M1297 1123l-25-1-5 1M1356 1092l-31 1 0 4 12 5M1405 1066l-11-6-8 2 0 2 7 1 2 2-9 2 2 6M1116 1058l3 2-1 8M1180 1035l15-1 3 2-2 4-11 3 1 1 8 0 14-3 6 0-1-2-14-6 3-3 12-4-4-2M1221 1021l6-1-1-1M1235 1016l8 1 4 0 12-4 14 0 7 4-7 6 10 2 4 0 4-1 3-6M1110 1065l0-2-4 1M1249 1019l7 2 4-1-2-1-9 0M1218 1033l2 3 10 1 2 1 2 4 9 4 6 4 7 1 2-8-10-5 3-4-14-1-9-3-4 0-6 3M1145 1078l-5-6 11-6-2-1-9-2-3-2 7-6 8-3 1-1-2-2 3-2 7 0 2 4 6 1 2 3-2 1-17 1 1 4 24 4 9-2 4-2-2-4 7-6-4-2-14-2-11-2 0-5M1216 1053l3 0 8 0 4-2-4-1-5 0-6 3M1207 1058l1 2 5 0-3-3-3 1M1157 1082l-3-3-6 0M1291 1033l-21 11 16 0 7 3 4-1-2-2 2-2 7-3 11-2 3-2-5-2-22 0M1188 1094l-1-5 4-2 10-1 11 2 3-1-1-4 12 0 2-3-6-4 14-3 5-5 19 3 3 4-4 4-10 4-2 3-4 1-17-2-8 3 14 8 13 1 3 6-3 5-10 3M1311 1044l0 2 10 2 6-2-2-2-5-1-9 1M1266 1066l5-3 6 2-3 3-4 0-3 0-1-2M1358 1035l-14 1 1 3 14 0 13 2 2-1M1344 1044l3 2 4 0 2-3-4-1-5 2M1269 1086l6 2 7-2-1-1-9-2-3 3M1330 1058l5 6 5 1 7-2 20 1 5-2-3-3-11-2-5 0-8 2-13-2-2 1M1345 1051l1 1 8 1 14-1 2-2-6-2-12 0-7 3M1322 1066l2 2-4 4 10-8-6-1-3 1 1 2M1302 1077l3 4 8-3 5-6-12 2-4 3M1342 1066l5 4 5 0 1-1-4-3-7 0M1389 1044l-7 0-3 1 1 2 4 2 10-1 1-1-5-3M1251 1117l-4-8 4-1 13 0 10 8 12-8 8 0 11 4 4 0 5-3-10-6 2-7-9-7-5 1-7 9-3 1-7 0-8-6-18-1 1-4 20-8 0-6 17-5 2-4 7-1 0-2-15-4-5-3-11-1-9 4-9-2-8 0-10 3-12 1-7 7 7 8-4 2-8 0-5-2 1-4 6-3-3-2-7-1-4 0-2 2 3 4-6 1-4 0-5-5-4-1-11 2-3 2 0 3 18 3 3 2-7 4-11 2M1327 1081l0 3 3 1 11-1 1-2-6-2-4-1-5 2M1400 1047l-1 1 3 1 3 1 4-1M1350 1085l4 1 2-2-2-1-5 0 1 2M1376 1074l4 1-4-1M1422 1053l-10 6 3 2M1298 1122l-26-2-7 2M1357 1091l-5 0-16 1-8-1-5 2 0 3 12 7M1406 1066l-10-8 2-3-12-2-2 1 0 1 5 3-7 5 5 3-4 2-1 6 4 2M1114 1059l1 2-2 1-7 0M1176 1036l15-1 6 2-3 2-11 3-1 2 4 2 19-3 6 2 5 0 4-2 0-5 8 0 4 5 9 3 6 8-13 1-8 5-9 0-2-4 7-1 10 0 4-3-1-2-5-1-10 0-16 9-1 2 7 2 2 3-3 1-10-1-5-2 1-2-5-3 6-8-9-3-10 0-7-2-2-1 0-4M1220 1021l2 1 6-1 1-2-1-1M1233 1016l30 9 4-1 17 2 4 0 3-2 5-5M1156 1049l2-1 0 1-2 0M1220 1025l-1 1 1-1M1146 1055l9-2 10 0 2 1-2 1-12 1-5 2 4 5-4 0-8-2 6-6M1253 1016l6-2 6-1 10 2 2 3-7 2-4 0-3-1-9-2-1-1M1157 1065l9-1 5 2-13 3-7 7-7-2-1-3 11-4 3-2M1251 1037l10-3 6-1 13-1 5 2-2 2-18 6-9-1-5-2 0-2M1182 1066l4-1 4 0-3 2-5-1M1159 1079l3-1 12 1 1 2-10 2-6-4M1203 1075l3-3 5 0 1 4-4 1-5-2M1227 1077l0-1 12-2 5-5 11 2 5 2-2 4-9 4-4 4-5 1-6-2-2-5-5-2M1193 1095l-4-5 4-3 6 0 14 5 8 0 8 6 13 1 2 5-10 7M1356 1035l-12-1-2 1 0 5-4 4 8 5-5 4 10 2 0 1-7 2-12-3-5 0-6 1 9 4 0 2-11 1-1 7-16 5-5 11-9 3-6 9-4 1-6-5-20-2 10-5 15 2 8-1-2-4-8-3-2-5 28-12-3-2-15-3-6-5-13-2-4-2-1-3 4-2 20 0 10 5-2 1 1 2 7 1-3-5 15-2 14 2 6-3-2-2-5-1-7-1-11 3-7-1-1-1 6-3 13-2 3-2-1-2-8-2-27-2-11 0-6-2-14 4-14 0-10-3-4 0-8 4-3 4-13-5 2-2 15-4-7-2M1383 1042l-7 1 1-2M1327 1079l-3 4 4 3 16 0 11 2 5-2 0-1-4-3-13-1-9-3-7 1M1253 1118l-1-7 9-2 9 8-7 4M1421 1053l-11 5 4 3M1300 1122l-18-2-3-2 4-7 5-2 16 5 8-1 4-3 0-2-10-6 3-5-8-10 10-2 0-4 21-14 3 0 3 0 8 5 12 0-6-8 16 0 6-1-5-4-12-4 18-4-6-3-12-2-3-5 4-1 6 0 7 3 4 0 5 7 0 4 6 5-8 3 3 4-1 6-12 1 1 2 13 3M1358 1091l-8-1-12 1-13-1-2 1-3 4 14 9M1407 1065l-8-6 2-5-13-2 0-2 9-1 10 2 4-1M1173 1038l15-2 6 0-1 3-12 2-1 5-10-2 0-5M1219 1021l3 2-2 1-8 0M1231 1017l4 2-5-2M1203 1032l11-4 6-1 2 0 0 2-9 5-7-1-3-1M1226 1023l1-1 8-2 13 2 1 3 8 0 5 2 0 1-8 3-16 0-9-3-3-5M1256 1017l2-2 5-1 8 1 2 3-5 0-12-1M1143 1062l2-2 2 0 0 1-4 1M1194 1046l8-2 9 2 9 0 5-7 3 1 3 4 8 3 0 1-4 1-15-2-22 12-5-2 5-6-4-5M1147 1073l3-2-1 2-2 0M1253 1038l4-2 9-2 13 1-1 1-10 5-8 0-7-3M1200 1063l3-1 5 2-4 1-4-2M1218 1058l3-2 5 0-2 3-5 0-1-1M1310 1023l3 1 4 1M1262 1048l2-1 17-1 4 2 3 5 16 4 4-1-5-5 4-2 4 0 13 1 12-4 6 2 0 1-7 4-17 2 0 2 8 4-10 2 0 6-16 5-8 10-4 0-8-3-4-5 19-6 8-1 1-6-4-2-16-3-2-5-16-3-4-2M1245 1071l8 1 4 3-2 2-9 3-3 5-5 0-4-3 11-11M1197 1097l0-2-6-5 1-1 5-1 9 2 2 6 14 1 8 3 11 2-1 2-8 6M1354 1035l-12-1-11 8-12-1-12 2-6 0 2-2 10-2 7-2 2-2-2-2-4-1-9-2-12 0-11-2-8 1-3 0-3-3 2-1 11 2 5-1 4-2 5-5M1359 1043l-1-2 4 0 10 5-2 1-8-2-3-2M1258 1091l5-2 18 1 2 1-6 3-6-2-13-1M1344 1056l0 0M1362 1056l2-2 12-1 8 5 0 1-6 2-16-5M1356 1065l3 0 16 0 4 5-6 2-11-1-5-2-1-4M1256 1119l0-7 4 0 5 3 1 3-6 2M1393 1051l2-1 4 1 0 1-6-1M1332 1089l3-2 9 1-6 2-6-1M1420 1052l-12 4 0 4 5 2M1301 1121l-16-3-1-5 3-3 4 0 6 5 14 1M1321 1111l-3-5-9-3 2-6-7-7 4-2 8-1 3 1-1 8 14 9M1360 1090l0-2 5-2-4-3-7-2-12-2-6-2-9 1-8 6-4-1 7-7 11-3 3 0 6 1 16 0 22 5M1407 1065l-6-7 12-8M1217 1022l1 1-5 0M1181 1040l0-2 5-1 6 0-3 2-8 1M1206 1032l10-4 3 1-7 4-6-1M1230 1023l2-1 2 0 7 2 6 5-5 1-6 0-4-2-2-5M1260 1015l3 0 3 1-5 0-1-1M1201 1048l4-1 5 2-6 5-6 2-1-1 4-4 0-3M1253 1028l3-1-3 1M1275 1028l-1-1 4 0-3 1M1257 1038l7-2 8 0 0 2-6 2-4 0-5-2M1304 1021l10 5 1 3-22 0-4-2 8-5 4-2M1270 1049l2-1 6-1 3 1 0 3-6 0-5-2M1303 1042l3-1 1 1-4 0M1194 1091l1-1 5 0 4 1-1 2-5 0-4-2M1247 1074l3-1 2 2-3 1-2-2M1287 1057l3-1 7 2-5 1-5-2M1200 1098l5-1 16 2 10 5-2 5M1309 1053l6-2 2 0 2 2-6 1-4-1M1351 1034l-12-1-4 4-8 1-8-8-1-3 2-2M1311 1060l2 0-2 0M1280 1077l10-4 5-1 3 1-10 8-8-4M1368 1055l5 0 8 4-4 0-9-4M1308 1091l0-2 5 0 3 1-2 4-6-3M1359 1066l3-1 11 1 3 3-6 2-6 0-5-3 0-2M1312 1102l5-3 5 3 1 2-9 0-2-2M1416 1051l0 0M1304 1119l2-1M1372 1083l-8 0-18-6 6-2 7 0 19 5M1408 1064l-2-1 1-1 5 0M1233 1027l1-2 4 0 3 2 1 2-3 0-3 0-3-2M1262 1038l3-1 3 0-2 2-4-1M1293 1026l7-3 6 1 3 2-4 2-7 0-5-1 0-1M1342 1031l-6 1-1 3-4 1-6-4-2-6M1203 1099l16 1 5 3-2 3M1285 1077l5-3 3 1-5 2-3 0M1361 1067l7-1 5 2-2 2-6 0-4-3M1354 1078l2-2 5 1 9 3 1 1-8 0-9-3M1409 1064l1-1" fill="none" stroke="#555" stroke-width="0.6"/><g fill="currentColor" stroke="currentColor" stroke-width="0.6" stroke-linejoin="round"><path d="M1250 860.5l6.5 1.5 5 31-6 13z" color="#ff9999"/><path d="M1244.5 834l6.5 6.5 5.5 21.5-6.5-1.5z" color="#ff4040"/><path d="M1256.5 862l6 3.5 5.5 18-6.5 9.5z" color="#ff8888"/><path d="M1239 841l6.5 2 5.5-2.5-6.5-6.5z" color="#ff2727"/><path d="M1251 840.5l6 13.5 5.5 11.5-6-3.5z" color="#ff4c4c"/><path d="M1262.5 865.5l6.5-1 5 17.5-6 1.5z" color="#ff8080"/><path d="M1257 854l6.5 9.5 5.5 1-6.5 1z" color="#ff5a5a"/><path d="M1233.5 859l6.5-2.5 5.5-13.5-6.5-2z" color="#ff3d3d"/><path d="M1245.5 843l6 12 5.5-1-6-13.5z" color="#ff3939"/><path d="M1269 864.5l6.5-11.5 5 24.5-6.5 4.5z" color="#ff7070"/><path d="M1228 872.5l6.5-1 5.5-15-6.5 2.5z" color="#ff5f5f"/><path d="M1251.5 855l6.5 12.5 5.5-4-6.5-9.5z" color="#ff5353"/><path d="M1263.5 863.5l6.5-6.5 5.5-4-6.5 11.5z" color="#ff5353"/><path d="M1240 856.5l6 5 5.5-6.5-6-12z" color="#ff4545"/><path d="M1275.5 853l6.5-6 5 19-6.5 11.5z" color="#ff5656"/><path d="M1222.5 873l6 9.5 6-11-6.5 1z" color="#ff7979"/><path d="M1234.5 871.5l6 3 5.5-13-6-5z" color="#ff6060"/><path d="M1246 861.5l6.5 2.5 5.5 3.5-6.5-12.5z" color="#ff5656"/><path d="M1258 867.5l6.5-18 5.5 7.5-6.5 6.5z" color="#ff5050"/><path d="M1270 857l6.5-2.5 5.5-7.5-6.5 6z" color="#ff4141"/><path d="M1282 847l6.5 6.5 5 8.5-6.5 4z" color="#ff4b4b"/><path d="M1240.5 874.5l6.5-1.5 5.5-9-6.5-2.5z" color="#ff6464"/><path d="M1216.5 874.5l6.5 13 5.5-5-6-9.5z" color="#ff8383"/><path d="M1228.5 882.5l6.5 11.5 5.5-19.5-6-3z" color="#ff8686"/><path d="M1252.5 864l6.5-9.5 5.5-5-6.5 18z" color="#ff4c4c"/><path d="M1264.5 849.5l6.5 17 5.5-12-6.5 2.5z" color="#ff4848"/><path d="M1276.5 854.5l6.5 3 5.5-4-6.5-6.5z" color="#ff4040"/><path d="M1288.5 853.5l6.5 7.5 5.5 9-7-8z" color="#ff5454"/><path d="M1210.5 866.5l6.5 14 6 7-6.5-13z" color="#ff7a7a"/><path d="M1235 894l6.5 4 5.5-25-6.5 1.5z" color="#ff9090"/><path d="M1247 873l6.5-12.5 5.5-6-6.5 9.5z" color="#ff5454"/><path d="M1283 857.5l7 4 5-.5-6.5-7.5z" color="#ff4a4a"/><path d="M1223 887.5l6.5 14.5 5.5-8-6.5-11.5z" color="#ffa2a2"/><path d="M1259 854.5l6.5 6.5 5.5 5.5-6.5-17z" color="#ff4848"/><path d="M1271 866.5l6.5 3.5 5.5-12.5-6.5-3z" color="#ff5252"/><path d="M1295 861l7 12 5 5.5-6.5-8.5z" color="#ff6969"/><path d="M1204.5 854.5l6.5 14 6 12-6.5-14z" color="#ff5c5c"/><path d="M1217 880.5l6.5 20.5 6 1-6.5-14.5z" color="#ffa2a2"/><path d="M1229.5 902l6.5 7.5 5.5-11.5-6.5-4z" color="#ffb9b9"/><path d="M1241.5 898l6.5-38 5.5.5-6.5 12.5z" color="#ff6b6b"/><path d="M1253.5 860.5l6.5 2.5 5.5-2-6.5-6.5z" color="#ff4a4a"/><path d="M1277.5 870l7 3.5 5.5-12-7-4z" color="#ff5858"/><path d="M1290 861.5l6.5 19.5 5.5-8-7-12z" color="#ff6262"/><path d="M1265.5 861l6.5 14.5 5.5-5.5-6.5-3.5z" color="#ff5f5f"/><path d="M1302 873l6.5 11.5 5-4.5-6.5-1.5z" color="#ff7e7e"/><path d="M1223.5 901l6.5 11.5 6-3-6.5-7.5z" color="#ffc5c5"/><path d="M1260 863l6.5 17.5 5.5-5-6.5-14.5z" color="#ff6161"/><path d="M1296.5 881l6.5 17.5 5.5-14-6.5-11.5z" color="#ff8a8a"/><path d="M1198.5 864l6.5 8.5 6-4-6.5-14z" color="#ff5353"/><path d="M1211 868.5l6.5 27 6 5.5-6.5-20.5z" color="#ff8d8d"/><path d="M1236 909.5l6-19.5 6-30-6.5 38z" color="#ff9696"/><path d="M1248 860l6.5 3 5.5 0-6.5-2.5z" color="#ff4c4c"/><path d="M1272 875.5l7 9 5.5-11-7-3.5z" color="#ff7171"/><path d="M1284.5 873.5l6.5 21 5.5-13.5-6.5-19.5z" color="#ff7777"/><path d="M1308.5 884.5l7-5 5-7-7 7.5z" color="#ff7c7c"/><path d="M1192.5 882l6.5-7.5 6-2-6.5-8.5z" color="#ff6565"/><path d="M1217.5 895.5l6.5 15 6 2-6.5-11.5z" color="#ffbebe"/><path d="M1230 912.5l6.5-8.5 5.5-14-6 19.5z" color="#ffbcbc"/><path d="M1254.5 863l6.5 8 5.5 9.5-6.5-17.5z" color="#ff5c5c"/><path d="M1266.5 880.5l7 17.5 5.5-13.5-7-9z" color="#ff8787"/><path d="M1291 894.5l6.5 12 5.5-8-6.5-17.5z" color="#ffa5a5"/><path d="M1303 898.5l7-11.5 5.5-7.5-7 5z" color="#ff9090"/><path d="M1205 872.5l6.5 12.5 6 10.5-6.5-27z" color="#ff7a7a"/><path d="M1242 890l6.5-28.5 6 1.5-6.5-3z" color="#ff5a5a"/><path d="M1279 884.5l6.5 14.5 5.5-4.5-6.5-21z" color="#ff9090"/><path d="M1315.5 879.5l7-12 5-3-7 8z" color="#ff6262"/><path d="M1186.5 891.5l6-22.5 6.5 5.5-6.5 7.5z" color="#ff7373"/><path d="M1199 874.5l6-9.5 6.5 20-6.5-12.5z" color="#ff6666"/><path d="M1211.5 885l6.5 2 6 23.5-6.5-15z" color="#ff9e9e"/><path d="M1224 910.5l6.5 3 6-9.5-6.5 8.5z" color="#ffc9c9"/><path d="M1236.5 904l6.5-19.5 5.5-23-6.5 28.5z" color="#ff8585"/><path d="M1248.5 861.5l7-1 5.5 10.5-6.5-8z" color="#ff4e4e"/><path d="M1261 871l6.5 22 6 5-7-17.5z" color="#ff8787"/><path d="M1273.5 898l6.5-30 5.5 31-6.5-14.5z" color="#ff8c8c"/><path d="M1285.5 899l7 2.5 5 5-6.5-12z" color="#ffb0b0"/><path d="M1297.5 906.5l7-17 5.5-2.5-7 11.5z" color="#ffa3a3"/><path d="M1310 887l7.5-18.5 5-1-7 12z" color="#ff6c6c"/><path d="M1322.5 867.5l7 1 5.5-6-7.5 2z" color="#ff5353"/><path d="M1192.5 869l6-20 6.5 16-6 9.5z" color="#ff4b4b"/><path d="M1205 865l6.5-11.5 6.5 33.5-6.5-2z" color="#ff5f5f"/><path d="M1243 884.5l6.5-13.5 6-10.5-7 1z" color="#ff5858"/><path d="M1280 868l7 18 5.5 15.5-7-2.5z" color="#ff8c8c"/><path d="M1317.5 868.5l7 3.5 5-3.5-7-1z" color="#ff5858"/><path d="M1180.5 905.5l6-18 6-18.5-6 22.5z" color="#ff8989"/><path d="M1218 887l6.5 4.5 6 22-6.5-3z" color="#ffacac"/><path d="M1230.5 913.5l6.5-10 6-19-6.5 19.5z" color="#ffaeae"/><path d="M1255.5 860.5l6.5 3.5 5.5 29-6.5-22z" color="#ff5f5f"/><path d="M1267.5 893l7-1.5 5.5-23.5-6.5 30z" color="#ff8a8a"/><path d="M1292.5 901.5l7-9.5 5-2.5-7 17z" color="#ffa5a5"/><path d="M1304.5 889.5l7.5-15.5 5.5-5.5-7.5 18.5z" color="#ff7575"/><path d="M1329.5 868.5l7 4.5 5.5-5.5-7-5z" color="#ff5656"/><path d="M1211.5 853.5l6.5 3 6.5 35-6.5-4.5z" color="#ff5b5b"/><path d="M1249.5 871l6.5-22 6 15-6.5-3.5z" color="#ff4343"/><path d="M1287 886l7 1 5.5 5-7 9.5z" color="#ff9292"/><path d="M1324.5 872l7 9 5-8-7-4.5z" color="#ff6161"/><path d="M1174.5 918.5l6.5-.5 5.5-30.5-6 18z" color="#ffbaba"/><path d="M1186.5 887.5l6-23 6-15.5-6 20z" color="#ff5050"/><path d="M1198.5 849l6.5-9.5 6.5 14-6.5 11.5z" color="#ff2d2d"/><path d="M1237 903.5l6.5-23 6-9.5-6.5 13.5z" color="#ff7e7e"/><path d="M1274.5 891.5l7-25 5.5 19.5-7-18z" color="#ff6c6c"/><path d="M1312 874l7 6 5.5-8-7-3.5z" color="#ff6161"/><path d="M1224.5 891.5l6.5 2.5 6 9.5-6.5 10z" color="#ffa9a9"/><path d="M1262 864l7 27 5.5.5-7 1.5z" color="#ff7f7f"/><path d="M1299.5 892l7-1.5 5.5-16.5-7.5 15.5z" color="#ff8484"/><path d="M1336.5 873l7.5 4.5 4.5 9-6.5-19z" color="#ff6969"/><path d="M1168 903l6.5 9.5 6.5 5.5-6.5.5z" color="#ffc5c5"/><path d="M1181 918l6-20 5.5-33.5-6 23z" color="#ff8d8d"/><path d="M1205 839.5l6.5 4 6.5 13-6.5-3z" color="#ff2424"/><path d="M1218 856.5l7 21.5 6 16-6.5-2.5z" color="#ff6e6e"/><path d="M1243.5 880.5l6.5-34.5 6 3-6.5 22z" color="#ff4242"/><path d="M1256 849l7 130 6-88-7-27z" color="#ff9999"/><path d="M1281.5 866.5l7 8 5.5 12.5-7-1z" color="#ff6b6b"/><path d="M1294 887l7-7 5.5 10.5-7 1.5z" color="#ff8383"/><path d="M1319 880l7 7.5 5.5-6.5-7-9z" color="#ff7070"/><path d="M1331.5 881l7-.5 5.5-3-7.5-4.5z" color="#ff6b6b"/><path d="M1192.5 864.5l6.5-10 6-15-6.5 9.5z" color="#ff2c2c"/><path d="M1231 894l6.5-12.5 6-1-6.5 23z" color="#ff8989"/><path d="M1269 891l6.5-15.5 6-9-7 25z" color="#ff7272"/><path d="M1306.5 890.5l7-7.5 5.5-3-7-6z" color="#ff7575"/><path d="M1344 877.5l6.5 21 5 15-7-27z" color="#ff9797"/><path d="M1174.5 912.5l6-10 6.5-4.5-6 20z" color="#ffb4b4"/><path d="M1225 878l6.5 14.5 6-11-6.5 12.5z" color="#ff7c7c"/><path d="M1263 979l7-77 5.5-26.5-6.5 15.5z" color="#ffc1c1"/><path d="M1301 880l7 22.5 5.5-19.5-7 7.5z" color="#ff8585"/><path d="M1161 886l6.5 5.5 7 21-6.5-9.5z" color="#ff9a9a"/><path d="M1187 898l6-20 6-23.5-6.5 10z" color="#ff5959"/><path d="M1199 854.5l6.5 4.5 6-15.5-6.5-4z" color="#ff2424"/><path d="M1211.5 843.5l7 31 6.5 3.5-7-21.5z" color="#ff4343"/><path d="M1237.5 881.5l7-8 5.5-27.5-6.5 34.5z" color="#ff5353"/><path d="M1250 846l7 45 6 88-7-130z" color="#ff8989"/><path d="M1275.5 875.5l7 8 6-9-7-8z" color="#ff5e5e"/><path d="M1288.5 874.5l7 15.5 5.5-10-7 7z" color="#ff7474"/><path d="M1313.5 883l7 4 5.5.5-7-7.5z" color="#ff7979"/><path d="M1326 887.5l8-37 4.5 30-7 .5z" color="#ff5f5f"/><path d="M1338.5 880.5l7 16.5 5 1.5-6.5-21z" color="#ff8484"/><path d="M1350.5 898.5l7 21 5 5-7-11z" color="#ffcaca"/><path d="M1231.5 892.5l7-1 6-18-7 8z" color="#ff7474"/><path d="M1270 902l7 1 5.5-19.5-7-8z" color="#ff8686"/><path d="M1308 902.5l7.5-22 5 6.5-7-4z" color="#ff8080"/><path d="M1345.5 897l7 19.5 5 3-7-21z" color="#ffb6b6"/><path d="M1154 890.5l6.5 2 7-1-6.5-5.5z" color="#ff8181"/><path d="M1167.5 891.5l6-11 7 22-6 10z" color="#ff9393"/><path d="M1180.5 902.5l6-21 6.5-3.5-6 20z" color="#ff8181"/><path d="M1193 878l6.5-1 6-18-6.5-4.5z" color="#ff4949"/><path d="M1218.5 874.5l7 36.5 6-18.5-6.5-14.5z" color="#ff8080"/><path d="M1257 891l7 18 6-7-7 77z" color="#ffd5d5"/><path d="M1295.5 890l7-3.5 5.5 16-7-22.5z" color="#ff8484"/><path d="M1205.5 859l7 12.5 6 3-7-31z" color="#ff3e3e"/><path d="M1244.5 873.5l7 12.5 5.5 5-7-45z" color="#ff5959"/><path d="M1282.5 883.5l7 8.5 6-2-7-15.5z" color="#ff7676"/><path d="M1320.5 887l8-35 5.5-1.5-8 37z" color="#ff4f4f"/><path d="M1334 850.5l6.5 47.5 5-1-7-16.5z" color="#ff6f6f"/><path d="M1357.5 919.5l7.5 5.5 5-3.5-7.5 3z" color="#ffe0e0"/><path d="M1147 880l7 10.5 6.5 2-6.5-2z" color="#ff7979"/><path d="M1160.5 892.5l6-12.5 7 .5-6 11z" color="#ff7474"/><path d="M1186.5 881.5l6-31.5 7 27-6.5 1z" color="#ff5050"/><path d="M1199.5 877l7 21 6-26.5-7-12.5z" color="#ff5a5a"/><path d="M1225.5 911l7 9.5 6-29-7 1z" color="#ffa4a4"/><path d="M1238.5 891.5l6.5-33 6.5 27.5-7-12.5z" color="#ff5e5e"/><path d="M1264 909l7 2.5 6-8.5-7-1z" color="#ffacac"/><path d="M1277 903l7 .5 5.5-11.5-7-8.5z" color="#ff8f8f"/><path d="M1302.5 886.5l7.5-18 5.5 12-7.5 22z" color="#ff7373"/><path d="M1315.5 880.5l7-10 6-18.5-8 35z" color="#ff5454"/><path d="M1340.5 898l7 9.5 5 9-7-19.5z" color="#ffaaaa"/><path d="M1352.5 916.5l7.5 6 5 2.5-7.5-5.5z" color="#ffd7d7"/><path d="M1173.5 880.5l6-15.5 7 16.5-6 21z" color="#ff6a6a"/><path d="M1212.5 871.5l7 50 6-10.5-7-36.5z" color="#ff8b8b"/><path d="M1251.5 886l6.5 22.5 6 .5-7-18z" color="#ff9797"/><path d="M1289.5 892l7.5-11.5 5.5 6-7 3.5z" color="#ff7a7a"/><path d="M1328.5 852l6.5 41 5.5 5-6.5-47.5z" color="#ff5656"/><path d="M1365 925l8-18.5 5-4-8 19z" color="#ffc3c3"/><path d="M1245 858.5l7 46 6 4-6.5-22.5z" color="#ff7b7b"/><path d="M1284 903.5l7-6 6-17-7.5 11.5z" color="#ff8686"/><path d="M1154 890.5l6 0 6.5-10.5-6 12.5z" color="#ff7676"/><path d="M1192.5 850l7.5 53.5 6.5-5.5-7-21z" color="#ff6666"/><path d="M1140 873l6.5 10 7.5 7.5-7-10.5z" color="#ff6464"/><path d="M1166.5 880l6.5-15 6.5 0-6 15.5z" color="#ff5050"/><path d="M1179.5 865l7 10 6-25-6 31.5z" color="#ff4646"/><path d="M1206.5 898l7 25 6-1.5-7-50z" color="#ff9f9f"/><path d="M1219.5 921.5l7 12.5 6-13.5-7-9.5z" color="#ffd0d0"/><path d="M1232.5 920.5l7-8 5.5-54-6.5 33z" color="#ff8c8c"/><path d="M1258 908.5l7 16.5 6-13.5-7-2.5z" color="#ffbbbb"/><path d="M1271 911.5l7 1.5 6-9.5-7-.5z" color="#ffacac"/><path d="M1297 880.5l7.5-13 5.5 1-7.5 18z" color="#ff5959"/><path d="M1310 868.5l7-1 5.5 3-7 10z" color="#ff5050"/><path d="M1322.5 870.5l7.5 21.5 5 1-6.5-41z" color="#ff5c5c"/><path d="M1335 893l7.5 9.5 5 5-7-9.5z" color="#ff9a9a"/><path d="M1347.5 907.5l7.5-2 5 17-7.5-6z" color="#ffbdbd"/><path d="M1360 922.5l7.5-11 5.5-5-8 18.5z" color="#ffc7c7"/><path d="M1373 906.5l8.5-28.5 4.5 5.5-8 19z" color="#ff8787"/><path d="M1252 904.5l7 23.5 6-3-7-16.5z" color="#ffbfbf"/><path d="M1291 897.5l7.5-5 6-25-7.5 13z" color="#ff6c6c"/><path d="M1330 892l7 18.5 5.5-8-7.5-9.5z" color="#ff9595"/><path d="M1367.5 911.5l9-43 5 9.5-8.5 28.5z" color="#ff8080"/><path d="M1133 876.5l6.5 2 7 4.5-6.5-10z" color="#ff5858"/><path d="M1160 890.5l6.5-12.5 6.5-13-6.5 15z" color="#ff5959"/><path d="M1173 865l7 17 6.5-7-7-10z" color="#ff4c4c"/><path d="M1200 903.5l7 23.5 6.5-4-7-25z" color="#ffb4b4"/><path d="M1213.5 923l6.5 9 6.5 2-7-12.5z" color="#ffdcdc"/><path d="M1239.5 912.5l6.5-3.5 6-4.5-7-46z" color="#ff8a8a"/><path d="M1278 913l7 6.5 6-22-7 6z" color="#ffabab"/><path d="M1146.5 883l7 10.5 6.5-3-6 0z" color="#ff7676"/><path d="M1186.5 875l7 27.5 6.5 1-7.5-53.5z" color="#ff6565"/><path d="M1226.5 934l6.5-.5 6.5-21-7 8z" color="#ffd6d6"/><path d="M1265 925l7 98.5 6-110.5-7-1.5z" color="#f7f7ff"/><path d="M1304.5 867.5l7 7 5.5-7-7 1z" color="#ff4949"/><path d="M1317 867.5l7.5 29.5 5.5-5-7.5-21.5z" color="#ff6666"/><path d="M1342.5 902.5l7.5-1.5 5 4.5-7.5 2z" color="#ffa2a2"/><path d="M1355 905.5l7.5 4.5 5 1.5-7.5 11z" color="#ffb8b8"/><path d="M1381.5 878l8-5 4.5 8.5-8 2z" color="#ff6060"/><path d="M1166.5 878l6.5 14.5 7-10.5-7-17z" color="#ff5959"/><path d="M1207 927l7 4.5 6 .5-6.5-9z" color="#ffdada"/><path d="M1246 909l7 10 6 9-7-23.5z" color="#ffb8b8"/><path d="M1259 928l7.5 16.5 5.5 79-7-98.5z" color="#e1e1ff"/><path d="M1285 919.5l7.5 10.5 6-37.5-7.5 5z" color="#ffabab"/><path d="M1298.5 892.5l7 6.5 6-24.5-7-7z" color="#ff6666"/><path d="M1324.5 897l7 19 5.5-5.5-7-18.5z" color="#ff9d9d"/><path d="M1337 910.5l8-14.5 5 5-7.5 1.5z" color="#ff9a9a"/><path d="M1362.5 910l8-10 6-31.5-9 43z" color="#ff8d8d"/><path d="M1376.5 868.5l8 2 5 2.5-8 5z" color="#ff4f4f"/><path d="M1126 883.5l6.5 4 7-9-6.5-2z" color="#ff5e5e"/><path d="M1139.5 878.5l6.5 10 7.5 5-7-10.5z" color="#ff6969"/><path d="M1180 882l7 29 6.5-8.5-7-27.5z" color="#ff7c7c"/><path d="M1153.5 893.5l6-5.5 7-10-6.5 12.5z" color="#ff6e6e"/><path d="M1193.5 902.5l7 24 6.5.5-7-23.5z" color="#ffb6b6"/><path d="M1220 932l7 7.5 6-6-6.5.5z" color="#ffeded"/><path d="M1233 933.5l7-24 6-.5-6.5 3.5z" color="#ffbaba"/><path d="M1272 1023.5l7-13 6-91-7-6.5z" color="#c9c9ff"/><path d="M1311.5 874.5l7 30 6-7.5-7.5-29.5z" color="#ff6e6e"/><path d="M1350 901l7.5 14 5-5-7.5-4.5z" color="#ffa8a8"/><path d="M1389.5 873l7.5 0 5 3-8 5.5z" color="#ff5656"/><path d="M1266.5 944.5l7 0 5.5 66-7 13z" color="#adadff"/><path d="M1173 892.5l7.5 27 6.5-8.5-7-29z" color="#ff8e8e"/><path d="M1146 888.5l7 4 6.5-4.5-6 5.5z" color="#ff7373"/><path d="M1119.5 897.5l7 14.5 6-24.5-6.5-4z" color="#ff7d7d"/><path d="M1132.5 887.5l6.5 3 7-2-6.5-10z" color="#ff6767"/><path d="M1159.5 888l7 6 6.5-1.5-6.5-14.5z" color="#ff6c6c"/><path d="M1187 911l7 13 6.5 2.5-7-24z" color="#ffb5b5"/><path d="M1200.5 926.5l7 3 6.5 2-7-4.5z" color="#ffd7d7"/><path d="M1214 931.5l6.5.5 6.5 7.5-7-7.5z" color="#ffe6e6"/><path d="M1227 939.5l7-3.5 6-26.5-7 24z" color="#ffdada"/><path d="M1240 909.5l7 8 6 1.5-7-10z" color="#ffb1b1"/><path d="M1253 919l7.5 17.5 6 8-7.5-16.5z" color="#ffe2e2"/><path d="M1279 1010.5l7.5-59.5 6-21-7.5-10.5z" color="#e9e9ff"/><path d="M1292.5 930l7 10.5 6-41.5-7-6.5z" color="#ffb7b7"/><path d="M1305.5 899l7.5 16.5 5.5-11-7-30z" color="#ff8b8b"/><path d="M1318.5 904.5l7.5 11.5 5.5 0-7-19z" color="#ffa6a6"/><path d="M1331.5 916l7.5 7 6-27-8 14.5z" color="#ffadad"/><path d="M1345 896l7 32 5.5-13-7.5-14z" color="#ffaaaa"/><path d="M1357.5 915l7.5 4.5 5.5-19.5-8 10z" color="#ffadad"/><path d="M1370.5 900l8-12.5 6-17-8-2z" color="#ff6161"/><path d="M1384.5 870.5l7.5 10.5 5-8-7.5 0z" color="#ff5151"/><path d="M1397 873l8.5-2.5 4.5 9.5-8-4z" color="#ff5252"/><path d="M1273.5 944.5l7 .5 6 6-7.5 59.5z" color="#d8d8ff"/><path d="M1313 915.5l7.5 2 5.5-1.5-7.5-11.5z" color="#ffafaf"/><path d="M1352 928l7.5-2 5.5-6.5-7.5-4.5z" color="#ffc6c6"/><path d="M1392 881l8 2.5 5.5-13-8.5 2.5z" color="#ff5454"/><path d="M1153 892.5l6.5 7.5 7-6-7-6z" color="#ff7777"/><path d="M1180.5 919.5l6.5-2.5 7 7-7-13z" color="#ffb6b6"/><path d="M1194 924l6.5-9 7 14.5-7-3z" color="#ffc6c6"/><path d="M1220.5 932l7-5 6.5 9-7 3.5z" color="#ffe1e1"/><path d="M1234 936l7-13 6-5.5-7-8z" color="#ffc1c1"/><path d="M1260.5 936.5l7 6 6 2-7 0z" color="#fffafa"/><path d="M1112.5 912.5l7 14.5 7-15-7-14.5z" color="#ffa6a6"/><path d="M1139 890.5l7 6.5 7-4.5-7-4z" color="#ff7474"/><path d="M1126.5 912l6-2 6.5-19.5-6.5-3z" color="#ff8787"/><path d="M1166.5 894l7 25.5 7 0-7.5-27z" color="#ff9898"/><path d="M1207.5 929.5l6.5-12.5 6.5 15-6.5-.5z" color="#ffd0d0"/><path d="M1247 917.5l7 6.5 6.5 12.5-7.5-17.5z" color="#ffc9c9"/><path d="M1286.5 951l7 9.5 6-20-7-10.5z" color="#fbfbff"/><path d="M1299.5 940.5l7.5-5.5 6-19.5-7.5-16.5z" color="#ffc6c6"/><path d="M1326 916l7.5-.5 5.5 7.5-7.5-7z" color="#ffbaba"/><path d="M1339 923l7.5 13.5 5.5-8.5-7-32z" color="#ffc3c3"/><path d="M1365 919.5l8-6 5.5-26-8 12.5z" color="#ff9a9a"/><path d="M1378.5 887.5l7.5 16.5 6-23-7.5-10.5z" color="#ff6969"/><path d="M1405.5 870.5l7.5 10 4.5 12-7.5-12.5z" color="#ff5d5d"/><path d="M1187 917l6-55 7.5 53-6.5 9z" color="#ff9191"/><path d="M1227.5 927l7-6.5 6.5 2.5-7 13z" color="#ffcbcb"/><path d="M1267.5 942.5l7-5.5 6 8-7-.5z" color="#fff6f6"/><path d="M1280.5 945l7.5-10 5.5 25.5-7-9.5z" color="#f9f9ff"/><path d="M1307 935l7.5-11.5 6-6-7.5-2z" color="#ffc4c4"/><path d="M1320.5 917.5l7.5-4 5.5 2-7.5.5z" color="#ffb2b2"/><path d="M1346.5 936.5l7.5-2 5.5-8.5-7.5 2z" color="#ffdcdc"/><path d="M1359.5 926l8-2.5 5.5-10-8 6z" color="#ffbfbf"/><path d="M1386 904l8 12.5 6-33-8-2.5z" color="#ff8181"/><path d="M1400 883.5l8 5.5 5-8.5-7.5-10z" color="#ff5a5a"/><path d="M1146 897l7 17 6.5-14-6.5-7.5z" color="#ff8787"/><path d="M1159.5 900l7.5 24.5 6.5-5-7-25.5z" color="#ff9c9c"/><path d="M1105.5 917.5l6.5 2 7.5 7.5-7-14.5z" color="#ffb3b3"/><path d="M1119.5 927l6.5-1 6.5-16-6 2z" color="#ffb3b3"/><path d="M1132.5 910l6.5 2 7-15-7-6.5z" color="#ff8a8a"/><path d="M1173.5 919.5l7 2.5 6.5-5-6.5 2.5z" color="#ffb6b6"/><path d="M1200.5 915l6.5-25.5 7 27.5-6.5 12.5z" color="#ffa6a6"/><path d="M1214 917l7-8 6.5 18-7 5z" color="#ffbdbd"/><path d="M1241 923l7-1 6 2-7-6.5z" color="#ffbebe"/><path d="M1254 924l7.5 10.5 6 8-7-6z" color="#ffe0e0"/><path d="M1293.5 960.5l7.5-22 6-3.5-7.5 5.5z" color="#fffcfc"/><path d="M1333.5 915.5l7.5 15 5.5 6-7.5-13.5z" color="#ffcece"/><path d="M1373 913.5l7.5 19.5 5.5-29-7.5-16.5z" color="#ffa3a3"/><path d="M1413 880.5l7.5 24 4.5 5-7.5-17z" color="#ff8383"/><path d="M1097.5 910l6.5-4.5 8 14-6.5-2z" color="#ffa1a1"/><path d="M1112 919.5l6-3 8 9.5-6.5 1z" color="#ffb8b8"/><path d="M1126 926l6.5.5 6.5-14.5-6.5-2z" color="#ffafaf"/><path d="M1139 912l7.5 22 6.5-20-7-17z" color="#ffa5a5"/><path d="M1153 914l7 22 7-11.5-7.5-24.5z" color="#ffb0b0"/><path d="M1167 924.5l7 12.5 6.5-15-7-2.5z" color="#ffc2c2"/><path d="M1180.5 922l6.5-9.5 6-50.5-6 55z" color="#ff8a8a"/><path d="M1193 862l7 13.5 7 14-6.5 25.5z" color="#ff5e5e"/><path d="M1207 889.5l7-4.5 7 24-7 8z" color="#ff8383"/><path d="M1221 909l7 6 6.5 5.5-7 6.5z" color="#ffb1b1"/><path d="M1234.5 920.5l7-1 6.5 2.5-7 1z" color="#ffb9b9"/><path d="M1248 922l7-26 6.5 38.5-7.5-10.5z" color="#ffb4b4"/><path d="M1261.5 934.5l7 6.5 6-4-7 5.5z" color="#ffe9e9"/><path d="M1274.5 937l7.5-23 6 21-7.5 10z" color="#ffd9d9"/><path d="M1288 935l7.5-22.5 5.5 26-7.5 22z" color="#ffe4e4"/><path d="M1301 938.5l8-18.5 5.5 3.5-7.5 11.5z" color="#ffd1d1"/><path d="M1314.5 923.5l8-4.5 5.5-5.5-7.5 4z" color="#ffb5b5"/><path d="M1328 913.5l8-17.5 5 34.5-7.5-15z" color="#ffaaaa"/><path d="M1341 930.5l5 125 8-121-7.5 2z" color="#dadaff"/><path d="M1354 934.5l8-2.5 5.5-8.5-8 2.5z" color="#ffd2d2"/><path d="M1367.5 923.5l7 26.5 6-17-7.5-19.5z" color="#ffd5d5"/><path d="M1380.5 933l7.5 14 6-30.5-8-12.5z" color="#ffc8c8"/><path d="M1394 916.5l8 3 6-30.5-8-5.5z" color="#ff8d8d"/><path d="M1408 889l7.5 12 5 3.5-7.5-24z" color="#ff7878"/><path d="M1420.5 904.5l7 25 4.5 8-7-28z" color="#ffbcbc"/><path d="M1295.5 912.5l7.5 1.5 6 6-8 18.5z" color="#ffb8b8"/><path d="M1336 896l7 51 3 108.5-5-125z" color="#ebebff"/><path d="M1374.5 950l8 7 5.5-10-7.5-14z" color="#fffefe"/><path d="M1415.5 901l8 5.5 4 23-7-25z" color="#ff9f9f"/><path d="M1174 937l6.5 7 6.5-31.5-6.5 9.5z" color="#ffc7c7"/><path d="M1200 875.5l7.5 10.5 6.5-1-7 4.5z" color="#ff5858"/><path d="M1214 885l7.5 28 6.5 2-7-6z" color="#ff8d8d"/><path d="M1241.5 919.5l7.5 11.5 6-35-7 26z" color="#ffabab"/><path d="M1255 896l7.5 55.5 6-10.5-7-6.5z" color="#ffcfcf"/><path d="M1132.5 926.5l7 18 7-10.5-7.5-22z" color="#ffc6c6"/><path d="M1104 905.5l6-3 8 14-6 3z" color="#ff9898"/><path d="M1118 916.5l7 7.5 7.5 2.5-6.5-.5z" color="#ffb7b7"/><path d="M1146.5 934l7 19.5 6.5-17.5-7-22z" color="#ffd4d4"/><path d="M1160 936l6.5-10 7.5 11-7-12.5z" color="#ffcbcb"/><path d="M1187 912.5l6.5-18.5 6.5-18.5-7-13.5z" color="#ff5c5c"/><path d="M1228 915l7 3 6.5 1.5-7 1z" color="#ffaeae"/><path d="M1268.5 941l7.5-16 6-11-7.5 23z" color="#ffcbcb"/><path d="M1282 914l8-49.5 5.5 48-7.5 22.5z" color="#ff9292"/><path d="M1309 920l7.5-7.5 6 6.5-8 4.5z" color="#ffb2b2"/><path d="M1322.5 919l7.5 5.5 6-28.5-8 17.5z" color="#ffa4a4"/><path d="M1346 1055.5l10-106.5 6-17-8 2.5z" color="#d6d6ff"/><path d="M1362 932l7.5 19.5 5-1.5-7-26.5z" color="#ffeaea"/><path d="M1388 947l8-6 6-21.5-8-3z" color="#ffd4d4"/><path d="M1402 919.5l8-3.5 5.5-15-7.5-12z" color="#ff9595"/><path d="M1207.5 886l7.5 38.5 6.5-11.5-7.5-28z" color="#ff8181"/><path d="M1249 931l7 19 6.5 1.5-7.5-55.5z" color="#ffcece"/><path d="M1290 864.5l7 42 6 7.5-7.5-1.5z" color="#ff7d7d"/><path d="M1303 914l8 3.5 5.5-5-7.5 7.5z" color="#ffa7a7"/><path d="M1330 924.5l7.5 10 5.5 12.5-7-51z" color="#ffbfbf"/><path d="M1343 947l7.5 3 5.5-1-10 106.5z" color="#cacaff"/><path d="M1369.5 951.5l8 0 5 5.5-8-7z" color="#f7f7ff"/><path d="M1382.5 957l9-25.5 4.5 9.5-8 6z" color="#fff3f3"/><path d="M1410 916l9-11.5 4.5 2-8-5.5z" color="#ff9393"/><path d="M1125 924l7 19 7.5 1.5-7-18z" color="#ffd0d0"/><path d="M1166.5 926l7 15.5 7 2.5-6.5-7z" color="#ffd8d8"/><path d="M1110 902.5l7 18.5 8 3-7-7.5z" color="#ffa1a1"/><path d="M1139.5 944.5l7 16.5 7-7.5-7-19.5z" color="#fff5f5"/><path d="M1153.5 953.5l6.5-5 6.5-22.5-6.5 10z" color="#ffe2e2"/><path d="M1180.5 944l7 8 6-58-6.5 18.5z" color="#ffbbbb"/><path d="M1193.5 894l7.5 31.5 6.5-39.5-7.5-10.5z" color="#ff7070"/><path d="M1221.5 913l7 11.5 6.5-6.5-7-3z" color="#ffa9a9"/><path d="M1235 918l7.5 4.5 6.5 8.5-7.5-11.5z" color="#ffb6b6"/><path d="M1262.5 951.5l7.5-8 6-18.5-7.5 16z" color="#ffe4e4"/><path d="M1276 925l7.5-26 6.5-34.5-8 49.5z" color="#ff8080"/><path d="M1316.5 912.5l8-6.5 5.5 18.5-7.5-5.5z" color="#ffa6a6"/><path d="M1356 949l8 5.5 5.5-3-7.5-19.5z" color="#fff9f9"/><path d="M1396 941l9-15.5 5-9.5-8 3.5z" color="#ffc2c2"/><path d="M1117 921l7.5 28 7.5-6-7-19z" color="#ffcbcb"/><path d="M1132 943l7 19 7.5-1-7-16.5z" color="#fffcfc"/><path d="M1160 948.5l6.5-13.5 7 6.5-7-15.5z" color="#ffd5d5"/><path d="M1187.5 952l7 8 6.5-34.5-7.5-31.5z" color="#ffcaca"/><path d="M1201 925.5l9 141 5-142-7.5-38.5z" color="#fff8f8"/><path d="M1215 924.5l7 13.5 6.5-13.5-7-11.5z" color="#ffb7b7"/><path d="M1228.5 924.5l7.5-6 6.5 4-7.5-4.5z" color="#ffaeae"/><path d="M1242.5 922.5l7.5 16.5 6 11-7-19z" color="#ffd3d3"/><path d="M1256 950l7.5-.5 6.5-6-7.5 8z" color="#fff6f6"/><path d="M1283.5 899l7.5 6.5 6 1-7-42z" color="#ff6b6b"/><path d="M1297 906.5l8 15 6-4-8-3.5z" color="#ffa0a0"/><path d="M1311 917.5l7.5-16 6 4.5-8 6.5z" color="#ff9393"/><path d="M1324.5 906l8 .5 5 28-7.5-10z" color="#ffa9a9"/><path d="M1337.5 934.5l8-3.5 5 19-7.5-3z" color="#ffe3e3"/><path d="M1350.5 950l8-3 5.5 7.5-8-5.5z" color="#fffefe"/><path d="M1364 954.5l8-4.5 5.5 1.5-8 0z" color="#fcfcff"/><path d="M1377.5 951.5l9-30.5 5 10.5-9 25.5z" color="#ffe4e4"/><path d="M1391.5 931.5l9-23.5 4.5 17.5-9 15.5z" color="#ffc1c1"/><path d="M1405 925.5l8.5-15 5.5-6-9 11.5z" color="#ffa2a2"/><path d="M1146.5 961l9.5 107 4-119.5-6.5 5z" color="#c6c6ff"/><path d="M1173.5 941.5l7 5 7 5.5-7-8z" color="#ffecec"/><path d="M1270 943.5l7.5-23.5 6-21-7.5 26z" color="#ffb1b1"/><path d="M1318.5 901.5l8.5-7.5 5.5 12.5-8-.5z" color="#ff7d7d"/><path d="M1358.5 947l8.5-3 5 6-8 4.5z" color="#fff6f6"/><path d="M1400.5 908l8.5-10 4.5 12.5-8.5 15z" color="#ff9595"/><path d="M1156 1068l3-137.5 7.5 4.5-6.5 13.5z" color="#e2e2ff"/><path d="M1194.5 960l9 109 6.5-2.5-9-141z" color="#9999ff"/><path d="M1222 938l7.5-13.5 6.5-6-7.5 6z" color="#ffb7b7"/><path d="M1236 918.5l7-6.5 7 27-7.5-16.5z" color="#ffafaf"/><path d="M1277.5 920l7.5.5 6-15-7.5-6.5z" color="#ff9393"/><path d="M1124.5 949l7.5 21.5 7-8.5-7-19z" color="#fefeff"/><path d="M1139 962l6.5-4 10.5 110-9.5-107z" color="#c0c0ff"/><path d="M1180.5 946.5l7 11 7 2.5-7-8z" color="#fffdfd"/><path d="M1166.5 935l6.5-10 7.5 21.5-7-5z" color="#ffd0d0"/><path d="M1210 1066.5l5.5-116.5 6.5-12-7-13.5z" color="#e1e1ff"/><path d="M1250 939l7 6 6.5 4.5-7.5.5z" color="#ffeaea"/><path d="M1263.5 949.5l7.5-11.5 6.5-18-7.5 23.5z" color="#ffd5d5"/><path d="M1291 905.5l8 12.5 6 3.5-8-15z" color="#ff9898"/><path d="M1305 921.5l8-17 5.5-3-7.5 16z" color="#ff9494"/><path d="M1332.5 906.5l7.5 8 5.5 16.5-8 3.5z" color="#ffafaf"/><path d="M1345.5 931l8 3 5 13-8 3z" color="#ffe0e0"/><path d="M1372 950l8.5-14 6-15-9 30.5z" color="#ffdede"/><path d="M1386.5 921l9-22.5 5 9.5-9 23.5z" color="#ffa0a0"/><path d="M1229.5 924.5l7-3.5 6.5-9-7 6.5z" color="#ffa2a2"/><path d="M1271 938l7.5-10 6.5-7.5-7.5-.5z" color="#ffb6b6"/><path d="M1313 904.5l8-13.5 6 3-8.5 7.5z" color="#ff7070"/><path d="M1327 894l7.5 18 5.5 2.5-7.5-8z" color="#ff8686"/><path d="M1353.5 934l8 7.5 5.5 2.5-8.5 3z" color="#ffdfdf"/><path d="M1367 944l8 6.5 5.5-14.5-8.5 14z" color="#ffe8e8"/><path d="M1395.5 898.5l8.5-6 5 5.5-8.5 10z" color="#ff7676"/><path d="M1145.5 958l6-23.5 7.5-4-3 137.5z" color="#e1e1ff"/><path d="M1187.5 957.5l7.5 4 8.5 107.5-9-109z" color="#c3c3ff"/><path d="M1132 970.5l6.5 0 7-12.5-6.5 4z" color="#f0f0ff"/><path d="M1159 930.5l6.5-27 7.5 21.5-6.5 10z" color="#ffaaaa"/><path d="M1173 925l7 8 7.5 24.5-7-11z" color="#ffd5d5"/><path d="M1203.5 1069l5.5-115 6.5-4-5.5 116.5z" color="#9292ff"/><path d="M1215.5 950l7-8.5 7-17-7.5 13.5z" color="#ffd1d1"/><path d="M1243 912l7.5 26 6.5 7-7-6z" color="#ffc6c6"/><path d="M1285 920.5l7.5 4.5 6.5-7-8-12.5z" color="#ff9f9f"/><path d="M1257 945l7.5-5.5 6.5-1.5-7.5 11.5z" color="#ffdfdf"/><path d="M1299 918l8-14.5 6 1-8 17z" color="#ff9292"/><path d="M1340 914.5l8 21.5 5.5-2-8-3z" color="#ffbdbd"/><path d="M1380.5 936l8.5-8 6.5-29.5-9 22.5z" color="#ffabab"/><path d="M1138.5 970.5l6.5-18 6.5-18-6 23.5z" color="#fff1f1"/><path d="M1165.5 903.5l7 1 7.5 28.5-7-8z" color="#ff9696"/><path d="M1180 933l7.5 25.5 7.5 3-7.5-4z" color="#fff0f0"/><path d="M1209 954l8 89 5.5-101.5-7 8.5z" color="#e4e4ff"/><path d="M1222.5 941.5l7.5-13 6.5-7.5-7 3.5z" color="#ffb6b6"/><path d="M1236.5 921l7.5 6 6.5 11-7.5-26z" color="#ffacac"/><path d="M1264.5 939.5l8-18.5 6 7-7.5 10z" color="#ffbebe"/><path d="M1278.5 928l8-10.5 6 7.5-7.5-4.5z" color="#ffa9a9"/><path d="M1307 903.5l8-10 6-2.5-8 13.5z" color="#ff6d6d"/><path d="M1321 891l7.5 17.5 6 3.5-7.5-18z" color="#ff7575"/><path d="M1334.5 912l7.5 22.5 6 1.5-8-21.5z" color="#ffaeae"/><path d="M1348 936l8 13 5.5-7.5-8-7.5z" color="#ffd6d6"/><path d="M1361.5 941.5l8 10.5 5.5-1.5-8-6.5z" color="#ffe9e9"/><path d="M1375 950.5l8 5 6-27.5-8.5 8z" color="#ffdede"/><path d="M1389 928l9-3.5 6-32-8.5 6z" color="#ff8f8f"/><path d="M1151.5 934.5l6-41 8 10-6.5 27z" color="#ff9393"/><path d="M1195 961.5l7-3 7-4.5-5.5 115z" color="#c9c9ff"/><path d="M1250.5 938l8 87.5 6-86-7.5 5.5z" color="#f6f6ff"/><path d="M1292.5 925l8-5.5 6.5-16-8 14.5z" color="#ff9a9a"/><path d="M1342 934.5l8 8.5 6 6-8-13z" color="#ffd3d3"/><path d="M1383 955.5l8.5-1.5 6.5-29.5-9 3.5z" color="#ffd4d4"/><path d="M1172.5 904.5l8 45.5 7 8.5-7.5-25.5z" color="#ffc2c2"/><path d="M1217 1043l6-120 7 5.5-7.5 13z" color="#fffdfd"/><path d="M1258.5 1025.5l7.5-100.5 6.5-4-8 18.5z" color="#ffefef"/><path d="M1300.5 919.5l8 7 6.5-33-8 10z" color="#ff8888"/><path d="M1145 952.5l5-51 7.5-8-6 41z" color="#ff9b9b"/><path d="M1157.5 893.5l7-15 8 26-7-1z" color="#ff5f5f"/><path d="M1187.5 958.5l7.5 21.5 7-21.5-7 3z" color="#f6f6ff"/><path d="M1202 958.5l7 4.5 8 80-8-89z" color="#d9d9ff"/><path d="M1230 928.5l7.5-10.5 6.5 9-7.5-6z" color="#ffa5a5"/><path d="M1244 927l7.5 2 7 96.5-8-87.5z" color="#fff4f4"/><path d="M1272.5 921l7.5-18 6.5 14.5-8 10.5z" color="#ff9898"/><path d="M1286.5 917.5l8 10.5 6-8.5-8 5.5z" color="#ffa4a4"/><path d="M1315 893.5l7.5 15 6 0-7.5-17.5z" color="#ff6f6f"/><path d="M1328.5 908.5l8 16.5 5.5 9.5-7.5-22.5z" color="#ffa0a0"/><path d="M1356 949l8 6.5 5.5-3.5-8-10.5z" color="#ffeaea"/><path d="M1369.5 952l8 3 5.5.5-8-5z" color="#fff5f5"/><path d="M1209 963l7.5-9.5 6.5-30.5-6 120z" color="#ededff"/><path d="M1251.5 929l8 4 6.5-8-7.5 100.5z" color="#ffecec"/><path d="M1294.5 928l7.5 28.5 6.5-30-8-7z" color="#ffb9b9"/><path d="M1336.5 925l8 6.5 5.5 11.5-8-8.5z" color="#ffbdbd"/><path d="M1350 943l8 12.5 6 0-8-6.5z" color="#ffe9e9"/><path d="M1377.5 955l8.5-.5 5.5-.5-8.5 1.5z" color="#fff5f5"/><path d="M1150 901.5l6.5-34 8 11-7 15z" color="#ff4848"/><path d="M1164.5 878.5l8 45 8 26.5-8-45.5z" color="#ff8989"/><path d="M1180.5 950l8 44.5 6.5-14.5-7.5-21.5z" color="#efefff"/><path d="M1195 980l7.5 2 6.5-19-7-4.5z" color="#eeeeff"/><path d="M1223 923l7.5 3.5 7-8.5-7.5 10.5z" color="#ffa2a2"/><path d="M1266 925l7.5-8 6.5-14-7.5 18z" color="#ff9292"/><path d="M1308.5 926.5l8 9 6-27-7.5-15z" color="#ff9191"/><path d="M1237.5 918l7.5 2.5 6.5 8.5-7.5-2z" color="#ffa2a2"/><path d="M1280 903l8 11.5 6.5 13.5-8-10.5z" color="#ff9191"/><path d="M1322.5 908.5l8.5 9.5 5.5 7-8-16.5z" color="#ff8f8f"/><path d="M1364 955.5l9.5-44 4 43.5-8-3z" color="#ffd7d7"/><path d="M1156.5 867.5l8 39.5 8 16.5-8-45z" color="#ff5757"/><path d="M1188.5 994.5l7-.5 7-12-7.5-2z" color="#d2d2ff"/><path d="M1202.5 982l7-18.5 7-10-7.5 9.5z" color="#fbfbff"/><path d="M1216.5 953.5l7-15.5 7-11.5-7.5-3.5z" color="#ffb9b9"/><path d="M1245 920.5l7.5 11.5 7 1-8-4z" color="#ffaaaa"/><path d="M1259.5 933l7.5-25 6.5 9-7.5 8z" color="#ff9898"/><path d="M1288 914.5l8 36 6 6-7.5-28.5z" color="#ffc0c0"/><path d="M1302 956.5l8 4.5 6.5-25.5-8-9z" color="#ffd4d4"/><path d="M1331 918l8 1 5.5 12.5-8-6.5z" color="#ffa1a1"/><path d="M1344.5 931.5l8 16 5.5 8-8-12.5z" color="#ffd4d4"/><path d="M1358 955.5l8.5 4.5 7-48.5-9.5 44z" color="#ffd8d8"/><path d="M1373.5 911.5l7.5 35 5 8-8.5.5z" color="#ffcfcf"/><path d="M1172.5 923.5l8.5 52.5 7.5 18.5-8-44.5z" color="#fff7f7"/><path d="M1230.5 926.5l7.5.5 7-6.5-7.5-2.5z" color="#ff9c9c"/><path d="M1273.5 917l8 84 6.5-86.5-8-11.5z" color="#ffb8b8"/><path d="M1316.5 935.5l8-7 6.5-10.5-8.5-9.5z" color="#ff9e9e"/><path d="M1366.5 960l9-11 5.5-2.5-7.5-35z" color="#ffcaca"/><path d="M1195.5 994l7-30 7-.5-7 18.5z" color="#ebebff"/><path d="M1238 927l8.5 107.5 6-102.5-7.5-11.5z" color="#ffe2e2"/><path d="M1281.5 1001l8-61 6.5 10.5-8-36z" color="#ffe0e0"/><path d="M1324.5 928.5l6.5 114.5 8-124-8-1z" color="#ffe2e2"/><path d="M1164.5 907l8.5 53 8 16-8.5-52.5z" color="#ffc3c3"/><path d="M1181 976l7.5 13.5 7 4.5-7 .5z" color="#d5d5ff"/><path d="M1209.5 963.5l7.5-20.5 6.5-5-7 15.5z" color="#ffd8d8"/><path d="M1223.5 938l8-4.5 6.5-6.5-7.5-.5z" color="#ffacac"/><path d="M1252.5 932l8 8.5 6.5-32.5-7.5 25z" color="#ffa6a6"/><path d="M1267 908l8 34 6.5 59-8-84z" color="#ffc7c7"/><path d="M1296 950.5l7.5 12.5 6.5-2-8-4.5z" color="#fff0f0"/><path d="M1310 961l9-59.5 5.5 27-8 7z" color="#ffb0b0"/><path d="M1339 919l8 13.5 5.5 15-8-16z" color="#ffb3b3"/><path d="M1352.5 947.5l8.5 8 5.5 4.5-8.5-4.5z" color="#ffeaea"/><path d="M1231.5 933.5l7.5 6 7.5 95-8.5-107.5z" color="#ffebeb"/><path d="M1275 942l8 2 6.5-4-8 61z" color="#ffe9e9"/><path d="M1319 901.5l8 25.5 4 116-6.5-114.5z" color="#ffd9d9"/><path d="M1361 955.5l9-22.5 5.5 16-9 11z" color="#ffd9d9"/><path d="M1173 960l8 27 7.5 2.5-7.5-13.5z" color="#ececff"/><path d="M1188.5 989.5l6.5-20 7.5-5.5-7 30z" color="#e9e9ff"/><path d="M1202.5 964l6.5-53.5 8 32.5-7.5 20.5z" color="#ffc9c9"/><path d="M1246.5 1034.5l7-104 7 10-8-8.5z" color="#ffeded"/><path d="M1289.5 940l8 19 6 4-7.5-12.5z" color="#ffdfdf"/><path d="M1331 1043l10.5-117.5 5.5 7-8-13.5z" color="#ffe6e6"/><path d="M1217 943l7.5-11 7 1.5-8 4.5z" color="#ffb5b5"/><path d="M1260.5 940.5l8-6 6.5 7.5-8-34z" color="#ffa9a9"/><path d="M1303.5 963l8.5-18.5 7-43-9 59.5z" color="#ffc6c6"/><path d="M1347 932.5l8.5 9 5.5 14-8.5-8z" color="#ffcbcb"/><path d="M1181 987l7-3 7-14.5-6.5 20z" color="#e7e7ff"/><path d="M1224.5 932l7.5 2.5 7 5-7.5-6z" color="#ffadad"/><path d="M1239 939.5l8 2 6.5-11-7 104z" color="#ffeeee"/><path d="M1268.5 934.5l8 0 6.5 9.5-8-2z" color="#ffb8b8"/><path d="M1283 944l8 13 6.5 2-8-19z" color="#ffd3d3"/><path d="M1312 944.5l8.5-21.5 6.5 4-8-25.5z" color="#ff9797"/><path d="M1327 927l8 1 6.5-2.5-10.5 117.5z" color="#ffe4e4"/><path d="M1355.5 941.5l9.5-31 5 22.5-9 22.5z" color="#ffb2b2"/><path d="M1195 969.5l7.5-20 6.5-39-6.5 53.5z" color="#ffcccc"/><path d="M1209 910.5l8 25 7.5-3.5-7.5 11z" color="#ffa2a2"/><path d="M1253.5 930.5l8-12 7 16-8 6z" color="#ffa5a5"/><path d="M1297.5 959l8.5-16.5 6 2-8.5 18.5z" color="#ffd9d9"/><path d="M1341.5 925.5l8 9.5 6 6.5-8.5-9z" color="#ffaeae"/><path d="M1188 984l7-24 7.5-10.5-7.5 20z" color="#fff2f2"/><path d="M1202.5 949.5l7.5-11 7-3-8-25z" color="#ffa5a5"/><path d="M1217 935.5l8 1.5 7-2.5-7.5-2.5z" color="#ffa8a8"/><path d="M1232 934.5l8 9.5 7-2.5-8-2z" color="#ffb5b5"/><path d="M1247 941.5l8-1 6.5-22-8 12z" color="#ffa5a5"/><path d="M1261.5 918.5l8.5 1.5 6.5 14.5-8 0z" color="#ff9898"/><path d="M1276.5 934.5l8 9 6.5 13.5-8-13z" color="#ffc2c2"/><path d="M1291 957l8.5-14.5 6.5 0-8.5 16.5z" color="#ffcfcf"/><path d="M1306 942.5l8.5-28.5 6 9-8.5 21.5z" color="#ffa3a3"/><path d="M1320.5 923l8.5 3 6 2-8-1z" color="#ff9898"/><path d="M1335 928l8.5 5 6 2-8-9.5z" color="#ffa2a2"/><path d="M1349.5 935l9.5-27.5 6 3-9.5 31z" color="#ff9393"/><path d="M1210 938.5l7.5 7 7.5-8.5-8-1.5z" color="#ffafaf"/><path d="M1255 940.5l8 103.5 7-124-8.5-1.5z" color="#ffd7d7"/><path d="M1299.5 942.5l8.5-26 6.5-2.5-8.5 28.5z" color="#ff9a9a"/><path d="M1343.5 933l9.5-23.5 6-2-9.5 27.5z" color="#ff8a8a"/><path d="M1195 960l7.5-23.5 7.5 2-7.5 11z" color="#ffbebe"/><path d="M1225 937l8 13 7-6-8-9.5z" color="#ffb4b4"/><path d="M1240 944l8 12.5 7-16-8 1z" color="#ffbebe"/><path d="M1270 920l8 2.5 6.5 21-8-9z" color="#ff9c9c"/><path d="M1284.5 943.5l8.5-7 6.5 6-8.5 14.5z" color="#ffbebe"/><path d="M1314.5 914l8.5 12 6 0-8.5-3z" color="#ff8b8b"/><path d="M1329 926l8.5 8.5 6-1.5-8.5-5z" color="#ff9e9e"/><path d="M1202.5 936.5l8 7.5 7 1.5-7.5-7z" color="#ffafaf"/><path d="M1217.5 945.5l8.5 23 7-18.5-8-13z" color="#ffc4c4"/><path d="M1248 956.5l8 0 7 87.5-8-103.5z" color="#ffffff"/><path d="M1263 1044l8-126.5 7 5-8-2.5z" color="#ffc7c7"/><path d="M1293 936.5l8.5-12 6.5-8-8.5 26z" color="#ff9898"/><path d="M1308 916.5l8.5 21 6.5-11.5-8.5-12z" color="#ff8a8a"/><path d="M1337.5 934.5l9-14 6.5-11-9.5 23.5z" color="#ff8d8d"/><path d="M1233 950l8 20 7-13.5-8-12.5z" color="#ffd0d0"/><path d="M1278 922.5l8.5-2 6.5 16-8.5 7z" color="#ff9a9a"/><path d="M1323 926l8 27 6.5-18.5-8.5-8.5z" color="#ffa4a4"/><path d="M1286.5 920.5l8 4 7 0-8.5 12z" color="#ff8d8d"/><path d="M1331 953l8.5 4 7-36.5-9 14z" color="#ffafaf"/><path d="M1210.5 944l8 31 7.5-6.5-8.5-23z" color="#ffd2d2"/><path d="M1226 968.5l8 19.5 7-18-8-20z" color="#ffeded"/><path d="M1241 970l8 14 7-27.5-8 0z" color="#ffe8e8"/><path d="M1256 956.5l8-17.5 7-21.5-8 126.5z" color="#ffe3e3"/><path d="M1271 917.5l8.5 2.5 7 .5-8.5 2z" color="#ff7e7e"/><path d="M1301.5 924.5l8 27 7-14-8.5-21z" color="#ff9a9a"/><path d="M1316.5 937.5l8 42.5 6.5-27-8-27z" color="#ffc1c1"/><path d="M1234 988l8 8 7-12-8-14z" color="#f4f4ff"/><path d="M1279.5 920l8.5 19 6.5-14.5-8-4z" color="#ff8787"/><path d="M1294.5 924.5l8.5 29 6.5-2-8-27z" color="#ffa4a4"/><path d="M1324.5 980l8 18.5 7-41.5-8.5-4z" color="#fff3f3"/><path d="M1218.5 975l8 20 7.5-7-8-19.5z" color="#fafaff"/><path d="M1249 984l8-5.5 7-39.5-8 17.5z" color="#ffdede"/><path d="M1264 939l8.5 4.5 7-23.5-8.5-2.5z" color="#ff9090"/><path d="M1309.5 951.5l8 44.5 7-16-8-42.5z" color="#ffe5e5"/><path d="M1226.5 995l9 98.5 6.5-97.5-8-8z" color="#bcbcff"/><path d="M1242 996l8 8.5 7-26-8 5.5z" color="#ededff"/><path d="M1272.5 943.5l8.5-19.5 7 15-8.5-19z" color="#ff9090"/><path d="M1288 939l8 24.5 7-10-8.5-29z" color="#ffafaf"/><path d="M1303 953.5l8.5 34.5 6 8-8-44.5z" color="#ffeeee"/><path d="M1317.5 996l8.5 20.5 6.5-18-8-18.5z" color="#dedeff"/><path d="M1257 978.5l8.5-3.5 7-31.5-8.5-4.5z" color="#ffcdcd"/><path d="M1235.5 1093.5l7.5-75.5 7-13.5-8-8.5z" color="#adadff"/><path d="M1250 1004.5l8.5-2.5 7-27-8.5 3.5z" color="#f2f2ff"/><path d="M1265.5 975l8.5 7.5 7-58.5-8.5 19.5z" color="#ffc2c2"/><path d="M1281 924l8.5 56.5 6.5-17-8-24.5z" color="#ffb9b9"/><path d="M1296 963.5l9 15 6.5 9.5-8.5-34.5z" color="#ffe6e6"/><path d="M1311.5 988l8.5 12 6 16.5-8.5-20.5z" color="#dedeff"/><path d="M1258.5 1002l8.5-13 7-6.5-8.5-7.5z" color="#fafaff"/><path d="M1305 978.5l8.5 3 6.5 18.5-8.5-12z" color="#f9f9ff"/><path d="M1243 1018l8-2 7.5-14-8.5 2.5z" color="#d3d3ff"/><path d="M1274 982.5l8.5 3.5 7-5.5-8.5-56.5z" color="#ffdada"/><path d="M1289.5 980.5l8.5-2.5 7 .5-9-15z" color="#ffebeb"/><path d="M1251 1016l8.5-32.5 7.5 5.5-8.5 13z" color="#ececff"/><path d="M1267 989l8.5-8.5 7 5.5-8.5-3.5z" color="#fffbfb"/><path d="M1298 978l9-2 6.5 5.5-8.5-3z" color="#ffeeee"/><path d="M1282.5 986l8.5-13.5 7 5.5-8.5 2.5z" color="#ffefef"/><path d="M1259.5 983.5l8.5-7.5 7.5 4.5-8.5 8.5z" color="#fff0f0"/><path d="M1275.5 980.5l8.5-14 7 6-8.5 13.5z" color="#ffe3e3"/><path d="M1291 972.5l9-14.5 7 18-9 2z" color="#ffd8d8"/><path d="M1284 966.5l9-24.5 7 16-9 14.5z" color="#ffbaba"/><path d="M1268 976l9 3 7-12.5-8.5 14z" color="#ffdcdc"/><path d="M1277 979l9-24 7-13-9 24.5z" color="#ffb7b7"/></g><path d="M1103.7 1062.6L1094.5 830.3M1103.7 1062.6L1285.0 1129.5 1427.4 1054.3M1102.7 1037.0h-6M1101.8 1014.6h-4M1100.9 992.2h-6M1100.0 969.8h-4M1099.1 947.4h-6M1098.2 924.9h-4M1097.3 902.5h-6M1096.5 880.1h-4M1095.6 857.7h-6M1103.7 1062.6l-5.0 4.0M1285.0 1129.5l5.0 4.0M1121.0 1069.0l-3.0 2.4M1303.9 1119.5l3.0 2.4M1138.8 1075.6l-5.0 4.0M1321.9 1110.0l5.0 4.0M1157.4 1082.4l-3.0 2.4M1339.0 1101.0l3.0 2.4M1176.7 1089.5l-5.0 4.0M1355.4 1092.3l5.0 4.0M1196.7 1096.9l-3.0 2.4M1371.1 1084.0l3.0 2.4M1217.4 1104.6l-5.0 4.0M1386.1 1076.1l5.0 4.0M1239.1 1112.5l-3.0 2.4M1400.4 1068.5l3.0 2.4M1261.6 1120.8l-5.0 4.0M1414.2 1061.3l5.0 4.0M1285.0 1129.5l-3.0 2.4M1427.4 1054.3l3.0 2.4" fill="none" stroke="#444" stroke-width="1.2"/><text x="1093.7" y="1043" font-size="17.4" text-anchor="end" fill="#00f">-200</text><text x="1091.9" y="998.2" font-size="17.4" text-anchor="end" fill="#00f">-100</text><text x="1090.1" y="953.4" font-size="17.4" text-anchor="end" fill="#f00">0</text><text x="1088.3" y="908.5" font-size="17.4" text-anchor="end" fill="#f00">100</text><text x="1086.6" y="863.7" font-size="17.4" text-anchor="end" fill="#f00">200</text><text transform="translate(1106.0 1077.0) rotate(55)" font-size="17.4" text-anchor="middle" dy="0.36em">0</text><text transform="translate(1139.0 1090.0) rotate(55)" font-size="17.4" text-anchor="middle" dy="0.36em">2</text><text transform="translate(1174.0 1102.0) rotate(55)" font-size="17.4" text-anchor="middle" dy="0.36em">4</text><text transform="translate(1212.0 1116.0) rotate(55)" font-size="17.4" text-anchor="middle" dy="0.36em">6</text><text transform="translate(1252.0 1130.0) rotate(55)" font-size="17.4" text-anchor="middle" dy="0.36em">8</text><text transform="translate(1310.0 1130.0) rotate(0)" font-size="17.4" text-anchor="middle" dy="0.36em">0</text><text transform="translate(1340.0 1112.0) rotate(0)" font-size="17.4" text-anchor="middle" dy="0.36em">2</text><text transform="translate(1372.0 1095.0) rotate(0)" font-size="17.4" text-anchor="middle" dy="0.36em">4</text><text transform="translate(1400.0 1083.0) rotate(0)" font-size="17.4" text-anchor="middle" dy="0.36em">6</text><text transform="translate(1428.0 1068.0) rotate(0)" font-size="17.4" text-anchor="middle" dy="0.36em">8</text><text transform="translate(1162.0 1121.0) rotate(21)" font-size="21.5" text-anchor="middle" dy="0.36em">Dimension (μm)</text><text transform="translate(1382.0 1116.0) rotate(-28.5)" font-size="21.5" text-anchor="middle" dy="0.36em">Dimension (μm)</text><text transform="translate(520 564) rotate(-90)" text-anchor="middle" dy="0.36em" font-size="21">Stress (Mpa)</text><text transform="translate(521 948) rotate(-90)" text-anchor="middle" dy="0.36em" font-size="21">Stress (Mpa)</text><text transform="translate(1041 582) rotate(-90)" text-anchor="middle" dy="0.36em" font-size="21">Stress (Mpa)</text><text transform="translate(1040 964) rotate(-90)" text-anchor="middle" dy="0.36em" font-size="21">Stress (Mpa)</text><rect x="938" y="591" width="12" height="348.5" fill="url(#cbv)"/><path d="M950.0 596.4h5M950.0 630.1h3M950.0 663.8h5M950.0 697.5h3M950.0 731.2h5M950.0 764.9h3M950.0 798.6h5M950.0 832.3h3M950.0 866.0h5M950.0 899.7h3M950.0 933.4h5" stroke="#000" stroke-width="2"/><text x="956" y="602.8" font-size="17.8">498</text><text x="956" y="670.2" font-size="17.8">435</text><text x="956" y="737.6" font-size="17.8">372</text><text x="956" y="805" font-size="17.8">309</text><text x="956" y="872.4" font-size="17.8">246</text><text x="956" y="939.8" font-size="17.8">183</text><text x="975" y="577" font-size="17.7" text-anchor="middle">(Mpa)</text><rect x="1458" y="590.5" width="13.5" height="353.0" fill="url(#cbt)"/><path d="M1471.5 594.4h5M1471.5 628.8h3M1471.5 663.1h5M1471.5 697.5h3M1471.5 731.8h5M1471.5 766.2h3M1471.5 800.6h5M1471.5 834.9h3M1471.5 869.3h5M1471.5 903.6h3M1471.5 938.0h5" stroke="#000" stroke-width="2"/><text x="1477.5" y="600.8" font-size="17.8" fill="#f00">238</text><text x="1477.5" y="669.5" font-size="17.8" fill="#f00">139</text><text x="1477.5" y="738.2" font-size="17.8" fill="#f00">41</text><text x="1477.5" y="807" font-size="17.8" fill="#00f">-58</text><text x="1477.5" y="875.7" font-size="17.8" fill="#00f">-157</text><text x="1477.5" y="944.4" font-size="17.8" fill="#00f">-256</text><text x="1480" y="575" font-size="17.7" text-anchor="middle">(Mpa)</text>
<rect x="1611.6" y="425.6" width="382.4000000000001" height="295.69999999999993" fill="none" stroke="#222" stroke-width="1.3"/><text x="1602.6" y="727.7" font-size="17.8" text-anchor="end">0</text><text x="1602.6" y="682.3" font-size="17.8" text-anchor="end">100</text><text x="1602.6" y="637" font-size="17.8" text-anchor="end">200</text><text x="1602.6" y="591.6" font-size="17.8" text-anchor="end">300</text><text x="1602.6" y="546.3" font-size="17.8" text-anchor="end">400</text><text x="1602.6" y="500.9" font-size="17.8" text-anchor="end">500</text><text x="1602.6" y="455.6" font-size="17.8" text-anchor="end">600</text><path d="M1611.6 721.3h-6M1611.6 675.9h-6M1611.6 630.6h-6M1611.6 585.2h-6M1611.6 539.9h-6M1611.6 494.5h-6M1611.6 449.2h-6M1611.6 698.6h-4M1611.6 653.3h-4M1611.6 607.9h-4M1611.6 562.6h-4M1611.6 517.2h-4M1611.6 471.9h-4M1611.6 426.5h-4M1675.6 721.3v6M1802.9 721.3v6M1930.8 721.3v6M1739.6 721.3v4M1866.8 721.3v4" stroke="#222" stroke-width="1.3"/><rect x="1650.4" y="639.7" width="25.2" height="81.6" fill="url(#patR)" stroke="#f33" stroke-width="1.1"/><rect x="1675.6" y="648.7" width="25.2" height="72.6" fill="url(#patB)" stroke="#33f" stroke-width="1.1"/><rect x="1777.6" y="494.5" width="25.2" height="226.8" fill="url(#patR)" stroke="#f33" stroke-width="1.1"/><rect x="1802.9" y="585.2" width="25.2" height="136" fill="url(#patB)" stroke="#33f" stroke-width="1.1"/><rect x="1905.6" y="449.2" width="25.2" height="272.1" fill="url(#patR)" stroke="#f33" stroke-width="1.1"/><rect x="1930.8" y="539.9" width="25.2" height="181.4" fill="url(#patB)" stroke="#33f" stroke-width="1.1"/><text x="1660" y="630.5" font-size="17.5" text-anchor="middle" fill="#f00">180</text><text x="1689.6" y="639.5" font-size="17.5" text-anchor="middle">160</text><text x="1788" y="490" font-size="17.5" text-anchor="middle" fill="#f00">500</text><text x="1818" y="579.5" font-size="17.5" text-anchor="middle">300</text><text x="1917" y="448" font-size="17.5" text-anchor="middle" fill="#f00">600</text><text x="1947" y="538" font-size="17.5" text-anchor="middle">400</text><rect x="1632" y="460" width="30" height="14.5" fill="url(#patR)" stroke="#f33" stroke-width="1.1"/><rect x="1632" y="485.5" width="30" height="15" fill="url(#patB)" stroke="#33f" stroke-width="1.1"/><text x="1672" y="474" font-size="17.7" fill="#f00">NCAl-LAO</text><text x="1672" y="499.5" font-size="17.7">NC91</text><text transform="translate(1679 747) rotate(-13)" text-anchor="middle" dy="0.36em" font-size="20.5">R-3m</text><text transform="translate(1803.5 751) rotate(-13)" text-anchor="middle" dy="0.36em" font-size="20.5">R-3m/Fd-3m</text><text transform="translate(1931 748) rotate(-13)" text-anchor="middle" dy="0.36em" font-size="20.5">Fm-3m</text><text transform="translate(1559 582) rotate(-90)" text-anchor="middle" dy="0.36em" font-size="21">Temperature (<tspan font-size="13" dy="-8">o</tspan><tspan dy="8">C)</tspan></text><rect x="1612.9" y="794.7" width="379.0999999999999" height="301.29999999999995" fill="none" stroke="#222" stroke-width="1.3"/><text x="1603.9" y="1075.8" font-size="17.8" text-anchor="end">0.0</text><text x="1603.9" y="1010.1" font-size="17.8" text-anchor="end">0.6</text><text x="1603.9" y="944.4" font-size="17.8" text-anchor="end">1.2</text><text x="1603.9" y="878.7" font-size="17.8" text-anchor="end">1.8</text><text x="1603.9" y="813" font-size="17.8" text-anchor="end">2.4</text><text x="1612.9" y="1120.6" font-size="17.8" text-anchor="middle">100</text><text x="1731.9" y="1120.6" font-size="17.8" text-anchor="middle">150</text><text x="1850.9" y="1120.6" font-size="17.8" text-anchor="middle">200</text><text x="1969.9" y="1120.6" font-size="17.8" text-anchor="middle">250</text><path d="M1612.9 1069.4h-6M1612.9 1003.7h-6M1612.9 938h-6M1612.9 872.3h-6M1612.9 806.6h-6M1612.9 1102.2h-4M1612.9 1036.6h-4M1612.9 970.9h-4M1612.9 905.2h-4M1612.9 839.5h-4M1612.9 1096v6M1731.9 1096v6M1850.9 1096v6M1969.9 1096v6M1672.4 1096v4M1791.4 1096v4M1910.4 1096v4" stroke="#222" stroke-width="1.3"/><path d="M1612.9 1069.4l1.9-.1 2-.1 1.9-.1 2-.1 2-.1 1.9-.1 2-.1 1.9 0 2-.1 1.9-.1 2-.1 1.9-.1 2-.1 1.9-.1 2-.1 2-.1 1.9-.1 2 0 1.9-.1 2-.1 1.9-.1 2 0 1.9-.1 2-.1 2 0 1.9-.1 2 0 1.9 0 2-.1 1.9 0 2 0 1.9-.1 2 0 2-.1 1.9-.1 2 0 1.9-.1 2-.2 1.9-.1 2-.1 1.9-.2 2-.2 2-.2 1.9-.2 2-.2 1.9-.2 2-.2 1.9-.2 2-.3 1.9-.2 2-.3 2-.2 1.9-.3 2-.3 1.9-.3 2-.3 1.9-.3 2-.3 1.9-.3 2-.4 1.9-.4 2-.4 2-.5 1.9-.6 2-.6 1.9-.5 2-.6 1.9-.6 2-.6 1.9-.5 2-.5 2-.6 1.9-.5 2-.5 1.9-.4 2-.4 1.9-.3 2-.3 1.9-.2 2-.3 2-.2 1.9-.2 2-.3 1.9-.2 2-.3 1.9-.3 2-.3 1.9-.4 2-.3 2-.4 1.9-.4 2-.5 1.9-.4 2-.4 1.9-.4 2-.4 1.9-.4 2-.3 1.9-.4 2-.4 2-.4 1.9-.4 2-.5 1.9-.5 2-.5 1.9-.6 2-.6 1.9-.6 2-.7 2-.6 1.9-.6 2-.6 1.9-.5 2-.6 1.9-.7 2-1 1.9-1.6 2-2.1 2-2.2 1.9-2.2 2-2.2 1.9-2.3 2-2.3 1.9-2.4 2-2.4 1.9-2.3 2-2.4 2-2.7 1.9-3.1 2-3.8 1.9-4.8 2-5.4 1.9-5.8 2-6.5 1.9-7.1 2-7.6 1.9-8.5 2-9.2 2-8.9 1.9-8.4 2-8.3 1.9-7.5 2-6.3 1.9-5.9 2-4.8 1.9-2.9 2-1.8 2-1.4 1.9-.3 2 .7 1.9 1.7 2 2.5 1.9 5.9 2 8 1.9 8.9 2 10.8 2 11.8 1.9 13.5 2 13.1 1.9 11 2 10.2 1.9 9.1 2 8.2 1.9 7.4 2 6.6 2 5.7 1.9 5.2 2 4.5 1.9 3.6 2 2.5 1.9 2 2 1.7 1.9 1.6 2 1.6 1.9 1.5 2 1.3 2 1 1.9.6 2 .4 1.9.5 2 .3 1.9.1 2 0 1.9 0 2 0 2 0 1.9 0 2 0 1.9 0 2 0 1.9 0 2 0 1.9 0" fill="none" stroke="#f00" stroke-width="2" stroke-linejoin="round"/><path d="M1612.9 1069.4l1.9-.2 2-.3 1.9-.2 2-.3 2-.2 1.9-.3 2-.3 1.9-.3 2-.4 1.9-.3 2-.4 1.9-.4 2-.4 1.9-.4 2-.5 2-.4 1.9-.4 2-.4 1.9-.4 2-.3 1.9-.4 2-.4 1.9-.4 2-.4 2-.3 1.9-.4 2-.4 1.9-.4 2-.3 1.9-.4 2-.3 1.9-.3 2-.4 2-.3 1.9-.3 2-.2 1.9-.3 2-.2 1.9-.3 2-.2 1.9-.2 2-.2 2-.2 1.9-.2 2-.3 1.9-.2 2-.3 1.9-.2 2-.3 1.9-.2 2-.2 2-.3 1.9-.2 2-.3 1.9-.3 2-.3 1.9-.3 2-.3 1.9-.3 2-.4 1.9-.4 2-.4 2-.5 1.9-.5 2-.6 1.9-.6 2-.6 1.9-.7 2-.7 1.9-.7 2-.7 2-.7 1.9-.8 2-.7 1.9-.8 2-.8 1.9-.9 2-1 1.9-1.1 2-1.2 2-1.5 1.9-1.6 2-1.8 1.9-1.9 2-1.9 1.9-2 2-2.2 1.9-2.4 2-2.7 2-3.1 1.9-3.7 2-4.3 1.9-5.1 2-6.1 1.9-7.2 2-8.3 1.9-10.4 2-12.1 1.9-13 2-13.8 2-15 1.9-15.1 2-14.1 1.9-13.7 2-12.8 1.9-11 2-9.9 1.9-8.5 2-6.7 2-5.4 1.9-2.6 2-1.3 1.9.7 2 2.1 1.9 6.3 2 10.4 1.9 16.6 2 22.7 2 31.2 1.9 33.1 2 27.7 1.9 17.5 2 13.9 1.9 12.4 2 10.9 1.9 8.1 2 5.8 2 4.8 1.9 3.9 2 3.5 1.9 3.1 2 2.6 1.9 2.4 2 2.2 1.9 1.9 2 1.5 1.9 1.2 2 1.2 2 1 1.9.8 2 .5 1.9.5 2 .4 1.9.3 2 .2 1.9.2 2 .1 2 .2 1.9.1 2 .1 1.9 0 2 .1 1.9.1 2 0 1.9.1 2 0 2 .1 1.9 0 2 .1 1.9 0 2 .1 1.9 0 2 .1 1.9 0 2 0 2 0 1.9.1 2 0 1.9 0 2 0 1.9 0 2 0 1.9 0 2 0 1.9 0 2 0 2 0 1.9 0 2 0 1.9 0 2 0 1.9 0 2 0 1.9 0 2 0 2 0 1.9 0 2 0 1.9 0 2 0 1.9 0 2 0 1.9 0" fill="none" stroke="#000" stroke-width="2" stroke-linejoin="round"/><text x="1794" y="848.5" font-size="18.5" text-anchor="end">192.4&#160;&#160;<tspan font-size="12" dy="-8">o</tspan><tspan dy="8">C</tspan></text><text x="1794" y="874" font-size="18.5" text-anchor="end">632 J g<tspan font-size="12" dy="-8">-1</tspan></text><text x="1981" y="861.5" font-size="18.5" text-anchor="end" fill="#f00">222.7&#160;&#160;<tspan font-size="12" dy="-8">o</tspan><tspan dy="8">C</tspan></text><text x="1980" y="887" font-size="18.5" text-anchor="end" fill="#f00">413 J g<tspan font-size="12" dy="-8">-1</tspan></text><line x1="1644" y1="952.7" x2="1676" y2="952.7" stroke="#f00" stroke-width="2.2"/><line x1="1644" y1="975.5" x2="1676" y2="975.5" stroke="#000" stroke-width="2.2"/><text x="1682" y="959" font-size="17.7" fill="#f00">NCAl-LAO</text><text x="1681" y="982" font-size="17.7">NC91</text><text transform="translate(1562 951) rotate(-90)" text-anchor="middle" dy="0.36em" font-size="21">Flow rate (W g<tspan font-size="13" dy="-8">-1</tspan><tspan dy="8">)</tspan></text><text x="1806" y="1148" font-size="21" text-anchor="middle">Temperature (<tspan font-size="13" dy="-8">o</tspan><tspan dy="8">C)</tspan></text>
</svg>
</body></html>
